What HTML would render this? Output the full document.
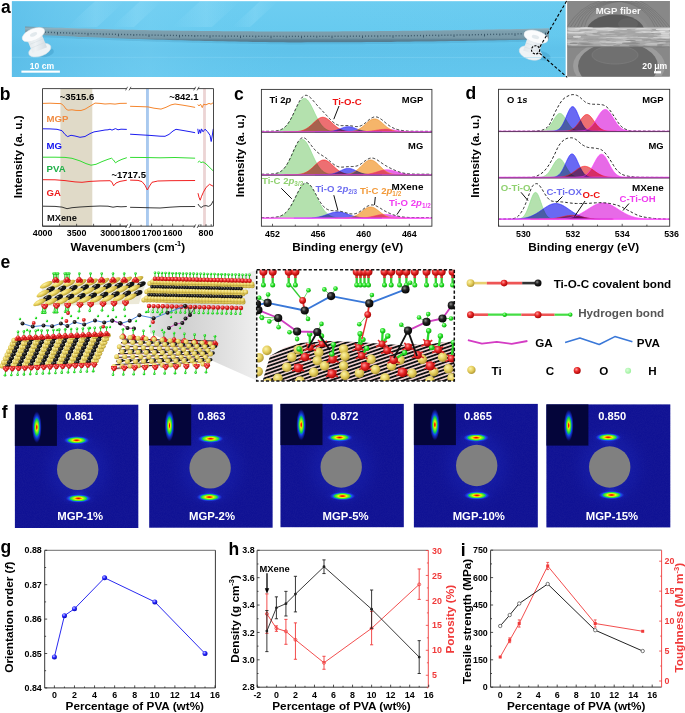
<!DOCTYPE html>
<html><head><meta charset="utf-8"><title>Figure</title>
<style>html,body{margin:0;padding:0;background:#fff;}svg{display:block;}text{font-family:"Liberation Sans",sans-serif;}</style>
</head><body>
<svg width="685" height="713" viewBox="0 0 685 713" font-family="Liberation Sans">
<defs>
<linearGradient id="bgA" x1="0" y1="0" x2="0" y2="1">
 <stop offset="0" stop-color="#6dcdf1"/><stop offset="0.45" stop-color="#66caef"/>
 <stop offset="0.62" stop-color="#5fc2ea"/><stop offset="1" stop-color="#63c7ee"/></linearGradient>
<linearGradient id="bgA2" x1="0" y1="0" x2="1" y2="0">
 <stop offset="0" stop-color="#58b9e6" stop-opacity="0.55"/><stop offset="0.25" stop-color="#7fd3f4" stop-opacity="0.35"/>
 <stop offset="0.5" stop-color="#6acbf0" stop-opacity="0"/><stop offset="1" stop-color="#5fc3ec" stop-opacity="0.2"/></linearGradient>
<linearGradient id="ruler" x1="0" y1="0" x2="0" y2="1">
 <stop offset="0" stop-color="#6f95a6"/><stop offset="0.12" stop-color="#8fb0be"/><stop offset="0.3" stop-color="#7c9fae"/>
 <stop offset="0.72" stop-color="#7899a8"/><stop offset="0.84" stop-color="#5d8193"/><stop offset="1" stop-color="#4f7a8f"/></linearGradient>
<linearGradient id="streak" x1="0" y1="0" x2="1" y2="0">
 <stop offset="0" stop-color="#9fe2fa" stop-opacity="0"/><stop offset="0.5" stop-color="#9fe2fa" stop-opacity="0.45"/><stop offset="1" stop-color="#9fe2fa" stop-opacity="0"/></linearGradient>
<linearGradient id="sem" x1="0" y1="0" x2="0" y2="1">
 <stop offset="0" stop-color="#8a8a8a"/><stop offset="0.3" stop-color="#7a7a7a"/><stop offset="0.36" stop-color="#b4b4b4"/>
 <stop offset="0.5" stop-color="#c8c8c8"/><stop offset="0.62" stop-color="#a8a8a8"/><stop offset="0.68" stop-color="#6e6e6e"/>
 <stop offset="1" stop-color="#7c7c7c"/></linearGradient>
<radialGradient id="semhole1" cx="0.5" cy="0.5" r="0.5"><stop offset="0" stop-color="#4a4a4a"/><stop offset="1" stop-color="#6a6a6a"/></radialGradient>
<linearGradient id="spool" x1="0" y1="0" x2="1" y2="0"><stop offset="0" stop-color="#dfe6ea"/><stop offset="0.45" stop-color="#eef2f5"/><stop offset="1" stop-color="#d2dbe1"/></linearGradient>


<radialGradient id="gTi" cx="0.38" cy="0.35" r="0.7"><stop offset="0" stop-color="#fcf3a8"/><stop offset="0.55" stop-color="#e2ca58"/><stop offset="1" stop-color="#a89030"/></radialGradient>
<radialGradient id="gTiR" cx="0.4" cy="0.3" r="0.75"><stop offset="0" stop-color="#fcf2a0"/><stop offset="0.5" stop-color="#e4cb52"/><stop offset="1" stop-color="#a48c2c"/></radialGradient>
<radialGradient id="gC" cx="0.38" cy="0.35" r="0.7"><stop offset="0" stop-color="#8a8a8a"/><stop offset="0.4" stop-color="#222"/><stop offset="1" stop-color="#000"/></radialGradient>
<radialGradient id="gO" cx="0.38" cy="0.35" r="0.7"><stop offset="0" stop-color="#ff9a9a"/><stop offset="0.45" stop-color="#e82828"/><stop offset="1" stop-color="#a00000"/></radialGradient>
<radialGradient id="gH" cx="0.38" cy="0.35" r="0.7"><stop offset="0" stop-color="#b8ffb8"/><stop offset="0.5" stop-color="#22e022"/><stop offset="1" stop-color="#10a010"/></radialGradient>
<radialGradient id="gHl" cx="0.4" cy="0.4" r="0.6"><stop offset="0" stop-color="#d8ffd8"/><stop offset="1" stop-color="#9ef09e"/></radialGradient>
<radialGradient id="ball" cx="0.38" cy="0.35" r="0.7"><stop offset="0" stop-color="#c8c8ff"/><stop offset="0.45" stop-color="#2a2aff"/><stop offset="1" stop-color="#0000b0"/></radialGradient>
<linearGradient id="gray" x1="0" y1="0" x2="1" y2="0"><stop offset="0" stop-color="#e2e2e2"/><stop offset="0.3" stop-color="#d0d0d0"/><stop offset="0.65" stop-color="#dedede"/><stop offset="1" stop-color="#efefef"/></linearGradient>


<radialGradient id="spot" cx="0.5" cy="0.5" r="0.5">
 <stop offset="0" stop-color="#e00000"/><stop offset="0.12" stop-color="#ff2a00"/><stop offset="0.22" stop-color="#ff9000"/>
 <stop offset="0.32" stop-color="#f4f000"/><stop offset="0.45" stop-color="#80f020"/><stop offset="0.62" stop-color="#18d848"/>
 <stop offset="0.72" stop-color="#1060f0"/><stop offset="0.86" stop-color="#2040e8" stop-opacity="0.55"/><stop offset="1" stop-color="#1820d0" stop-opacity="0"/></radialGradient>
<radialGradient id="spot2" cx="0.5" cy="0.5" r="0.5">
 <stop offset="0" stop-color="#f00000"/><stop offset="0.1" stop-color="#ff3000"/><stop offset="0.2" stop-color="#f8e000"/>
 <stop offset="0.32" stop-color="#80f020"/><stop offset="0.48" stop-color="#10d050"/>
 <stop offset="0.62" stop-color="#1050f0"/><stop offset="0.85" stop-color="#1828d0" stop-opacity="0.5"/><stop offset="1" stop-color="#101890" stop-opacity="0"/></radialGradient>
<radialGradient id="halo" cx="0.5" cy="0.5" r="0.5">
 <stop offset="0" stop-color="#2a48ff" stop-opacity="0.9"/><stop offset="1" stop-color="#1820c0" stop-opacity="0"/></radialGradient>
<radialGradient id="glow" cx="0.5" cy="0.5" r="0.5">
 <stop offset="0" stop-color="#2436d8" stop-opacity="0.55"/><stop offset="0.6" stop-color="#1a26b8" stop-opacity="0.25"/><stop offset="1" stop-color="#111394" stop-opacity="0"/></radialGradient>
<filter id="noise" x="0" y="0" width="100%" height="100%">
 <feTurbulence type="fractalNoise" baseFrequency="0.9" numOctaves="2" seed="3" result="t"/>
 <feColorMatrix type="matrix" values="0 0 0 0 0.02  0 0 0 0 0.02  0 0 0 0 0.35  0 0 0 0.9 -0.3" />
 <feComposite operator="in" in2="SourceGraphic"/></filter>
</defs>
<rect width="685" height="713" fill="#fff"/>
<rect x="11.9" y="1.2" width="553.7" height="75.8" fill="url(#bgA)" stroke="none" stroke-width="1" />
<rect x="11.9" y="1.2" width="553.7" height="75.8" fill="url(#bgA2)" stroke="none" stroke-width="1" />
<polygon points="95,1.2 125,1.2 97,27 67,27" fill="url(#streak)" opacity="0.6"/>
<polygon points="140,1.2 162,1.2 134,27 112,27" fill="url(#streak)" opacity="0.6"/>
<polygon points="200,1.2 240,1.2 212,27 172,27" fill="url(#streak)" opacity="0.6"/>
<polygon points="260,1.2 278,1.2 250,27 232,27" fill="url(#streak)" opacity="0.6"/>
<polygon points="25,26.6 31,26.83 37,27.05 43,27.26 49,27.47 55,27.68 61,27.87 67,28.07 73,28.25 79,28.43 85,28.61 91,28.78 97,28.94 103,29.1 109,29.25 115,29.4 121,29.54 127,29.68 133,29.81 139,29.93 145,30.05 151,30.17 157,30.28 163,30.38 169,30.48 175,30.58 181,30.67 187,30.75 193,30.83 199,30.91 205,30.98 211,31.04 217,31.1 223,31.16 229,31.21 235,31.26 241,31.3 247,31.34 253,31.37 259,31.4 265,31.42 271,31.44 277,31.46 283,31.47 289,31.48 295,31.48 301,31.48 307,31.47 313,31.46 319,31.45 325,31.43 331,31.41 337,31.38 343,31.36 349,31.32 355,31.29 361,31.24 367,31.2 373,31.15 379,31.1 385,31.04 391,30.99 397,30.92 403,30.86 409,30.79 415,30.72 421,30.64 427,30.56 433,30.48 439,30.39 445,30.3 451,30.21 457,30.12 463,30.02 469,29.92 475,29.81 481,29.71 487,29.6 493,29.48 499,29.37 505,29.25 511,29.13 517,29 523,28.88 529,28.75 535,28.62 541,28.48 547,28.35 549,28.3 549,39.2 547,39.25 541,39.38 535,39.52 529,39.65 523,39.78 517,39.9 511,40.03 505,40.15 499,40.27 493,40.38 487,40.5 481,40.61 475,40.71 469,40.82 463,40.92 457,41.02 451,41.11 445,41.2 439,41.29 433,41.38 427,41.46 421,41.54 415,41.62 409,41.69 403,41.76 397,41.82 391,41.89 385,41.94 379,42 373,42.05 367,42.1 361,42.14 355,42.19 349,42.22 343,42.26 337,42.28 331,42.31 325,42.33 319,42.35 313,42.36 307,42.37 301,42.38 295,42.38 289,42.38 283,42.35 277,42.26 271,42.18 265,42.08 259,41.99 253,41.89 247,41.78 241,41.67 235,41.56 229,41.44 223,41.32 217,41.19 211,41.06 205,40.92 199,40.78 193,40.63 187,40.48 181,40.33 175,40.17 169,40 163,39.83 157,39.65 151,39.47 145,39.28 139,39.09 133,38.89 127,38.69 121,38.48 115,38.27 109,38.05 103,37.83 97,37.6 91,37.36 85,37.12 79,36.88 73,36.62 67,36.37 61,36.1 55,35.83 49,35.56 43,35.28 37,34.99 31,34.7 25,34.4" fill="url(#ruler)"/>
<polygon points="25,34.4 31,34.7 37,34.99 43,35.28 49,35.56 55,35.83 61,36.1 67,36.37 73,36.62 79,36.88 85,37.12 91,37.36 97,37.6 103,37.83 109,38.05 115,38.27 121,38.48 127,38.69 133,38.89 139,39.09 145,39.28 151,39.47 157,39.65 163,39.83 169,40 175,40.17 181,40.33 187,40.48 193,40.63 199,40.78 205,40.92 211,41.06 217,41.19 223,41.32 229,41.44 235,41.56 241,41.67 247,41.78 253,41.89 259,41.99 265,42.08 271,42.18 277,42.26 283,42.35 289,42.38 295,42.38 301,42.38 307,42.37 313,42.36 319,42.35 325,42.33 331,42.31 337,42.28 343,42.26 349,42.22 355,42.19 361,42.14 367,42.1 373,42.05 379,42 385,41.94 391,41.89 397,41.82 403,41.76 409,41.69 415,41.62 421,41.54 427,41.46 433,41.38 439,41.29 445,41.2 451,41.11 457,41.02 463,40.92 469,40.82 475,40.71 481,40.61 487,40.5 493,40.38 499,40.27 505,40.15 511,40.03 517,39.9 523,39.78 529,39.65 535,39.52 541,39.38 547,39.25 549,39.2 549,41.2 547,41.25 541,41.38 535,41.52 529,41.65 523,41.78 517,41.9 511,42.03 505,42.15 499,42.27 493,42.38 487,42.5 481,42.61 475,42.71 469,42.82 463,42.92 457,43.02 451,43.11 445,43.2 439,43.29 433,43.38 427,43.46 421,43.54 415,43.62 409,43.69 403,43.76 397,43.82 391,43.89 385,43.94 379,44 373,44.05 367,44.1 361,44.14 355,44.19 349,44.22 343,44.26 337,44.28 331,44.31 325,44.33 319,44.35 313,44.36 307,44.37 301,44.38 295,44.38 289,44.38 283,44.35 277,44.26 271,44.18 265,44.08 259,43.99 253,43.89 247,43.78 241,43.67 235,43.56 229,43.44 223,43.32 217,43.19 211,43.06 205,42.92 199,42.78 193,42.63 187,42.48 181,42.33 175,42.17 169,42 163,41.83 157,41.65 151,41.47 145,41.28 139,41.09 133,40.89 127,40.69 121,40.48 115,40.27 109,40.05 103,39.83 97,39.6 91,39.36 85,39.12 79,38.88 73,38.62 67,38.37 61,38.1 55,37.83 49,37.56 43,37.28 37,36.99 31,36.7 25,36.4" fill="#3f8fb8" opacity="0.25"/>
<path d="M27,30.88v2.6M30.05,30.99v1.4M33.1,31.11v1.4M36.15,31.22v1.4M39.2,31.33v1.4M42.25,31.44v2M45.3,31.54v1.4M48.35,31.65v1.4M51.4,31.75v1.4M54.45,31.86v1.4M57.5,31.96v2.6M60.55,32.06v1.4M63.6,32.16v1.4M66.65,32.25v1.4M69.7,32.35v1.4M72.75,32.44v2M75.8,32.54v1.4M78.85,32.63v1.4M81.9,32.72v1.4M84.95,32.81v1.4M88,32.89v2.6M91.05,32.98v1.4M94.1,33.06v1.4M97.15,33.14v1.4M100.2,33.22v1.4M103.25,33.3v2M106.3,33.38v1.4M109.35,33.46v1.4M112.4,33.53v1.4M115.45,33.61v1.4M118.5,33.68v2.6M121.55,33.75v1.4M124.6,33.82v1.4M127.65,33.89v1.4M130.7,33.96v1.4M133.75,34.02v2M136.8,34.09v1.4M139.85,34.15v1.4M142.9,34.21v1.4M145.95,34.27v1.4M149,34.33v2.6M152.05,34.39v1.4M155.1,34.44v1.4M158.15,34.5v1.4M161.2,34.55v1.4M164.25,34.6v2M167.3,34.65v1.4M170.35,34.7v1.4M173.4,34.75v1.4M176.45,34.8v1.4M179.5,34.84v2.6M182.55,34.89v1.4M185.6,34.93v1.4M188.65,34.97v1.4M191.7,35.01v1.4M194.75,35.05v2M197.8,35.09v1.4M200.85,35.13v1.4M203.9,35.16v1.4M206.95,35.2v1.4M210,35.23v2.6M213.05,35.26v1.4M216.1,35.29v1.4M219.15,35.32v1.4M222.2,35.35v1.4M225.25,35.38v2M228.3,35.4v1.4M231.35,35.43v1.4M234.4,35.45v1.4M237.45,35.48v1.4M240.5,35.5v2.6M243.55,35.52v1.4M246.6,35.53v1.4M249.65,35.55v1.4M252.7,35.57v1.4M255.75,35.58v2M258.8,35.6v1.4M261.85,35.61v1.4M264.9,35.62v1.4M267.95,35.63v1.4M271,35.64v2.6M274.05,35.65v1.4M277.1,35.66v1.4M280.15,35.67v1.4M283.2,35.67v1.4M286.25,35.67v2M289.3,35.68v1.4M292.35,35.68v1.4M295.4,35.68v1.4M298.45,35.68v1.4M301.5,35.68v2.6M304.55,35.68v1.4M307.6,35.67v1.4M310.65,35.67v1.4M313.7,35.66v1.4M316.75,35.66v2M319.8,35.65v1.4M322.85,35.64v1.4M325.9,35.63v1.4M328.95,35.62v1.4M332,35.61v2.6M335.05,35.59v1.4M338.1,35.58v1.4M341.15,35.56v1.4M344.2,35.55v1.4M347.25,35.53v2M350.3,35.51v1.4M353.35,35.5v1.4M356.4,35.48v1.4M359.45,35.46v1.4M362.5,35.43v2.6M365.55,35.41v1.4M368.6,35.39v1.4M371.65,35.36v1.4M374.7,35.34v1.4M377.75,35.31v2M380.8,35.28v1.4M383.85,35.26v1.4M386.9,35.23v1.4M389.95,35.2v1.4M393,35.17v2.6M396.05,35.13v1.4M399.1,35.1v1.4M402.15,35.07v1.4M405.2,35.03v1.4M408.25,35v2M411.3,34.96v1.4M414.35,34.92v1.4M417.4,34.89v1.4M420.45,34.85v1.4M423.5,34.81v2.6M426.55,34.77v1.4M429.6,34.73v1.4M432.65,34.68v1.4M435.7,34.64v1.4M438.75,34.6v2M441.8,34.55v1.4M444.85,34.51v1.4M447.9,34.46v1.4M450.95,34.41v1.4M454,34.36v2.6M457.05,34.32v1.4M460.1,34.27v1.4M463.15,34.22v1.4M466.2,34.16v1.4M469.25,34.11v2M472.3,34.06v1.4M475.35,34.01v1.4M478.4,33.95v1.4M481.45,33.9v1.4M484.5,33.84v2.6M487.55,33.79v1.4M490.6,33.73v1.4M493.65,33.67v1.4M496.7,33.61v1.4M499.75,33.55v2M502.8,33.49v1.4M505.85,33.43v1.4M508.9,33.37v1.4M511.95,33.31v1.4M515,33.25v2.6M518.05,33.18v1.4M521.1,33.12v1.4M524.15,33.05v1.4M527.2,32.99v1.4M530.25,32.92v2M533.3,32.85v1.4M536.35,32.79v1.4M539.4,32.72v1.4M542.45,32.65v1.4M545.5,32.58v2.6" stroke="#163448" stroke-width="0.8" opacity="0.8"/>
<ellipse cx="45" cy="52.5" rx="9" ry="4.5" transform="rotate(-10 45 52.5)" fill="#3d9cc8" opacity="0.45"/>
<ellipse cx="39.8" cy="50.2" rx="11.6" ry="6" transform="rotate(-20 39.8 50.2)" fill="#eef3f6" stroke="#d8e0e5" stroke-width="0.5"/>
<path d="M26.4,37.8 L32.6,53.0 L47.0,47.2 L40.6,31.6 Z" fill="url(#spool)"/>
<path d="M27.8,41 L42.2,35" stroke="#cfd8de" stroke-width="0.6" opacity="0.7"/>
<path d="M29.4,44.6 L43.8,38.6" stroke="#cfd8de" stroke-width="0.6" opacity="0.7"/>
<path d="M31,48.2 L45.4,42.2" stroke="#cfd8de" stroke-width="0.6" opacity="0.7"/>
<ellipse cx="33.4" cy="34.6" rx="12" ry="5.8" transform="rotate(-24 33.4 34.6)" fill="#fbfcfd" stroke="#dfe6ea" stroke-width="0.5"/>
<ellipse cx="33.6" cy="34.4" rx="3.8" ry="1.9" transform="rotate(-24 33.6 34.4)" fill="#e2e9ed" />
<ellipse cx="541" cy="55.5" rx="10" ry="4.5" transform="rotate(15 541 55.5)" fill="#3d9cc8" opacity="0.45"/>
<ellipse cx="530.6" cy="53" rx="11.8" ry="6.6" transform="rotate(18 530.6 53)" fill="#eef3f6" stroke="#d8e0e5" stroke-width="0.5"/>
<path d="M528.6,34.2 L523.2,50.4 L538.0,55.6 L543.4,39.4 Z" fill="url(#spool)"/>
<path d="M527.4,39 L542.2,44" stroke="#cfd8de" stroke-width="0.6" opacity="0.7"/>
<path d="M526,43 L540.8,48" stroke="#cfd8de" stroke-width="0.6" opacity="0.7"/>
<path d="M524.6,47 L539.4,52" stroke="#cfd8de" stroke-width="0.6" opacity="0.7"/>
<ellipse cx="536" cy="36.8" rx="12.4" ry="6" transform="rotate(16 536 36.8)" fill="#fbfcfd" stroke="#dfe6ea" stroke-width="0.5"/>
<ellipse cx="535.5" cy="37" rx="3.8" ry="1.9" transform="rotate(16 535.5 37)" fill="#e2e9ed" />
<line x1="12" y1="57.3" x2="565.6" y2="57.6" stroke="#86d6f5" stroke-width="0.7" opacity="0.6"/>
<rect x="21.4" y="70.6" width="38.5" height="2.1" fill="#fff" stroke="none" stroke-width="1" />
<text x="42" y="69.3" font-size="8.6" font-weight="bold" fill="#fff" text-anchor="middle" >10 cm</text>
<circle cx="535.6" cy="49.8" r="4.1" fill="none" stroke="#000" stroke-width="1.1" stroke-dasharray="2.2,1.3"/>
<line x1="539.9" y1="46.9" x2="567.2" y2="0" stroke="#000" stroke-width="1.1" stroke-dasharray="3,2"/>
<line x1="539.5" y1="53.2" x2="567.2" y2="77.3" stroke="#000" stroke-width="1.1" stroke-dasharray="3,2"/>
<rect x="567.3" y="1" width="102.5" height="75.6" fill="#808080" stroke="none" stroke-width="1" />
<clipPath id="semclip"><rect x="567.3" y="1.0" width="102.5" height="75.6"/></clipPath>
<g clip-path="url(#semclip)">
<rect x="567.3" y="1" width="102.5" height="75.6" fill="#888888" stroke="none" stroke-width="1" />
<ellipse cx="615.5" cy="31" rx="33" ry="20" fill="#8c8c8c"/>
<ellipse cx="615.5" cy="31.5" rx="29" ry="17" fill="#5a5a5a"/>
<ellipse cx="628" cy="24" rx="10" ry="6" fill="#626262"/>
<ellipse cx="619" cy="66" rx="46" ry="26" fill="#9c9c9c"/>
<ellipse cx="618" cy="66" rx="40" ry="24" fill="#696969"/>
<ellipse cx="615" cy="55" rx="23" ry="9" fill="#707070" stroke="#7c7c7c" stroke-width="0.8"/>
<path d="M567.0,27 Q580,6 600,1" stroke="#666" stroke-width="0.45" fill="none"/>
<path d="M670,27 Q655,8 640,1" stroke="#666" stroke-width="0.45" fill="none"/>
<path d="M570.5,27 Q582,5 606,1" stroke="#666" stroke-width="0.45" fill="none"/>
<path d="M667,27 Q653,7 635,1" stroke="#666" stroke-width="0.45" fill="none"/>
<path d="M574.0,27 Q584,4 612,1" stroke="#666" stroke-width="0.45" fill="none"/>
<path d="M664,27 Q651,6 630,1" stroke="#666" stroke-width="0.45" fill="none"/>
<path d="M577.5,27 Q586,3 618,1" stroke="#666" stroke-width="0.45" fill="none"/>
<path d="M661,27 Q649,5 625,1" stroke="#666" stroke-width="0.45" fill="none"/>
<path d="M581.0,27 Q588,2 624,1" stroke="#666" stroke-width="0.45" fill="none"/>
<path d="M658,27 Q647,4 620,1" stroke="#666" stroke-width="0.45" fill="none"/>
<path d="M584.5,27 Q590,1 630,1" stroke="#666" stroke-width="0.45" fill="none"/>
<path d="M655,27 Q645,3 615,1" stroke="#666" stroke-width="0.45" fill="none"/>
<rect x="567.3" y="27.9" width="102.5" height="19" fill="#a6a6a6" stroke="none" stroke-width="1" />
<ellipse cx="625.15" cy="36.53" rx="6.73" ry="0.78" fill="rgb(217,217,217)" opacity="0.85"/>
<ellipse cx="583.7" cy="38.99" rx="8.04" ry="0.97" fill="rgb(178,178,178)" opacity="0.85"/>
<ellipse cx="596.83" cy="30.01" rx="9.48" ry="0.9" fill="rgb(158,158,158)" opacity="0.85"/>
<ellipse cx="671.83" cy="29.06" rx="8.23" ry="0.85" fill="rgb(235,235,235)" opacity="0.85"/>
<ellipse cx="564.96" cy="31.17" rx="3.48" ry="0.57" fill="rgb(194,194,194)" opacity="0.85"/>
<ellipse cx="566.62" cy="32.7" rx="6.52" ry="1" fill="rgb(185,185,185)" opacity="0.85"/>
<ellipse cx="634.05" cy="37.75" rx="8.3" ry="0.75" fill="rgb(179,179,179)" opacity="0.85"/>
<ellipse cx="673.54" cy="33.36" rx="9.72" ry="0.91" fill="rgb(229,229,229)" opacity="0.85"/>
<ellipse cx="588.68" cy="34.04" rx="3.56" ry="0.95" fill="rgb(168,168,168)" opacity="0.85"/>
<ellipse cx="656.85" cy="35.59" rx="10.66" ry="1" fill="rgb(173,173,173)" opacity="0.85"/>
<ellipse cx="586.47" cy="28.31" rx="6.76" ry="1.09" fill="rgb(231,231,231)" opacity="0.85"/>
<ellipse cx="571.37" cy="35.53" rx="9.23" ry="0.63" fill="rgb(194,194,194)" opacity="0.85"/>
<ellipse cx="600.05" cy="29.89" rx="9.06" ry="0.53" fill="rgb(233,233,233)" opacity="0.85"/>
<ellipse cx="574.47" cy="32.78" rx="9.38" ry="0.57" fill="rgb(151,151,151)" opacity="0.85"/>
<ellipse cx="612.74" cy="38.48" rx="8.86" ry="0.54" fill="rgb(151,151,151)" opacity="0.85"/>
<ellipse cx="576.17" cy="40.02" rx="4.7" ry="0.63" fill="rgb(168,168,168)" opacity="0.85"/>
<ellipse cx="652.08" cy="45.97" rx="10.08" ry="0.59" fill="rgb(147,147,147)" opacity="0.85"/>
<ellipse cx="657.71" cy="35.48" rx="3.8" ry="1.09" fill="rgb(195,195,195)" opacity="0.85"/>
<ellipse cx="591.84" cy="32.18" rx="5.63" ry="0.64" fill="rgb(212,212,212)" opacity="0.85"/>
<ellipse cx="573.26" cy="29.64" rx="4.94" ry="0.84" fill="rgb(201,201,201)" opacity="0.85"/>
<ellipse cx="613.38" cy="35.07" rx="6.87" ry="0.82" fill="rgb(223,223,223)" opacity="0.85"/>
<ellipse cx="583.5" cy="44.07" rx="10.27" ry="0.98" fill="rgb(138,138,138)" opacity="0.85"/>
<ellipse cx="584.27" cy="32.84" rx="10.52" ry="0.58" fill="rgb(208,208,208)" opacity="0.85"/>
<ellipse cx="660.78" cy="45.59" rx="6.37" ry="0.52" fill="rgb(173,173,173)" opacity="0.85"/>
<ellipse cx="669.68" cy="29" rx="8.64" ry="0.62" fill="rgb(173,173,173)" opacity="0.85"/>
<ellipse cx="629.21" cy="43.29" rx="4.4" ry="0.92" fill="rgb(151,151,151)" opacity="0.85"/>
<ellipse cx="588.54" cy="29.55" rx="9.82" ry="0.85" fill="rgb(199,199,199)" opacity="0.85"/>
<ellipse cx="664.67" cy="33.4" rx="3.13" ry="0.62" fill="rgb(162,162,162)" opacity="0.85"/>
<ellipse cx="569.98" cy="36.41" rx="5.95" ry="0.82" fill="rgb(154,154,154)" opacity="0.85"/>
<ellipse cx="603.32" cy="30.69" rx="10.84" ry="0.88" fill="rgb(225,225,225)" opacity="0.85"/>
<ellipse cx="627.88" cy="40.88" rx="3.28" ry="0.46" fill="rgb(143,143,143)" opacity="0.85"/>
<ellipse cx="640.76" cy="44.87" rx="3.17" ry="0.86" fill="rgb(205,205,205)" opacity="0.85"/>
<ellipse cx="644.02" cy="37.08" rx="10.99" ry="0.5" fill="rgb(165,165,165)" opacity="0.85"/>
<ellipse cx="644.74" cy="38.24" rx="8.9" ry="0.91" fill="rgb(212,212,212)" opacity="0.85"/>
<ellipse cx="664.41" cy="42.74" rx="8.48" ry="1.04" fill="rgb(157,157,157)" opacity="0.85"/>
<ellipse cx="609.4" cy="44.15" rx="9.91" ry="0.82" fill="rgb(192,192,192)" opacity="0.85"/>
<ellipse cx="605.55" cy="39.67" rx="7.87" ry="0.5" fill="rgb(183,183,183)" opacity="0.85"/>
<ellipse cx="673.06" cy="39.94" rx="8.83" ry="0.7" fill="rgb(207,207,207)" opacity="0.85"/>
<ellipse cx="627.5" cy="41.68" rx="9.71" ry="0.5" fill="rgb(167,167,167)" opacity="0.85"/>
<ellipse cx="566.59" cy="41.95" rx="6.85" ry="0.6" fill="rgb(180,180,180)" opacity="0.85"/>
<ellipse cx="618.25" cy="41.01" rx="10.36" ry="0.62" fill="rgb(183,183,183)" opacity="0.85"/>
<ellipse cx="596.56" cy="28.51" rx="4.62" ry="0.56" fill="rgb(211,211,211)" opacity="0.85"/>
<ellipse cx="636.23" cy="44.78" rx="10.13" ry="0.66" fill="rgb(161,161,161)" opacity="0.85"/>
<ellipse cx="585.23" cy="40.42" rx="9.45" ry="1.04" fill="rgb(168,168,168)" opacity="0.85"/>
<ellipse cx="605.78" cy="44.32" rx="5.53" ry="0.54" fill="rgb(174,174,174)" opacity="0.85"/>
<ellipse cx="655.8" cy="37.34" rx="8.69" ry="1.07" fill="rgb(209,209,209)" opacity="0.85"/>
<ellipse cx="581.99" cy="33.34" rx="5.2" ry="0.59" fill="rgb(183,183,183)" opacity="0.85"/>
<ellipse cx="632.44" cy="35.83" rx="5.52" ry="1" fill="rgb(182,182,182)" opacity="0.85"/>
<ellipse cx="613.3" cy="46.17" rx="3.25" ry="1.02" fill="rgb(127,127,127)" opacity="0.85"/>
<ellipse cx="641.6" cy="29.06" rx="5.47" ry="0.96" fill="rgb(201,201,201)" opacity="0.85"/>
<ellipse cx="578.31" cy="28.65" rx="3.2" ry="0.99" fill="rgb(192,192,192)" opacity="0.85"/>
<ellipse cx="578.87" cy="32.62" rx="8.03" ry="0.74" fill="rgb(150,150,150)" opacity="0.85"/>
<ellipse cx="635.68" cy="39.77" rx="10.67" ry="0.89" fill="rgb(201,201,201)" opacity="0.85"/>
<ellipse cx="615.8" cy="31.93" rx="3.09" ry="0.76" fill="rgb(162,162,162)" opacity="0.85"/>
<ellipse cx="583.09" cy="41.3" rx="5.77" ry="0.9" fill="rgb(153,153,153)" opacity="0.85"/>
<ellipse cx="631.2" cy="37.77" rx="6.15" ry="0.96" fill="rgb(201,201,201)" opacity="0.85"/>
<ellipse cx="572.94" cy="44.79" rx="8.78" ry="0.53" fill="rgb(203,203,203)" opacity="0.85"/>
<ellipse cx="632.42" cy="36.55" rx="6.01" ry="0.82" fill="rgb(216,216,216)" opacity="0.85"/>
<ellipse cx="651.34" cy="44.3" rx="6.71" ry="0.87" fill="rgb(205,205,205)" opacity="0.85"/>
<ellipse cx="643.07" cy="32.03" rx="8.13" ry="0.92" fill="rgb(217,217,217)" opacity="0.85"/>
<ellipse cx="662.75" cy="32.18" rx="10.82" ry="0.8" fill="rgb(230,230,230)" opacity="0.85"/>
<ellipse cx="598.7" cy="42.69" rx="9.85" ry="0.68" fill="rgb(205,205,205)" opacity="0.85"/>
<ellipse cx="612.02" cy="29.81" rx="9.15" ry="0.77" fill="rgb(198,198,198)" opacity="0.85"/>
<ellipse cx="652.71" cy="28.82" rx="9.4" ry="0.56" fill="rgb(158,158,158)" opacity="0.85"/>
<ellipse cx="650.36" cy="34.4" rx="4.19" ry="0.79" fill="rgb(155,155,155)" opacity="0.85"/>
<ellipse cx="656.12" cy="41.47" rx="10.57" ry="0.77" fill="rgb(188,188,188)" opacity="0.85"/>
<ellipse cx="572.81" cy="45.57" rx="7.21" ry="0.64" fill="rgb(141,141,141)" opacity="0.85"/>
<ellipse cx="633.9" cy="41.56" rx="9.75" ry="0.81" fill="rgb(174,174,174)" opacity="0.85"/>
<ellipse cx="605.42" cy="33.97" rx="10.2" ry="0.59" fill="rgb(215,215,215)" opacity="0.85"/>
<ellipse cx="670.31" cy="43.78" rx="7.58" ry="0.58" fill="rgb(170,170,170)" opacity="0.85"/>
<ellipse cx="618.9" cy="38.05" rx="3.22" ry="1.08" fill="rgb(187,187,187)" opacity="0.85"/>
<ellipse cx="607.56" cy="37.69" rx="7.5" ry="0.77" fill="rgb(205,205,205)" opacity="0.85"/>
<ellipse cx="570.58" cy="40.88" rx="6.31" ry="1.07" fill="rgb(177,177,177)" opacity="0.85"/>
<ellipse cx="593.05" cy="45.11" rx="4.02" ry="0.73" fill="rgb(163,163,163)" opacity="0.85"/>
<ellipse cx="662.81" cy="43.15" rx="5.54" ry="0.57" fill="rgb(167,167,167)" opacity="0.85"/>
<ellipse cx="665.54" cy="39.55" rx="9.23" ry="0.46" fill="rgb(144,144,144)" opacity="0.85"/>
<ellipse cx="588.41" cy="31.83" rx="5.58" ry="0.68" fill="rgb(206,206,206)" opacity="0.85"/>
<ellipse cx="574.89" cy="39.58" rx="3.98" ry="0.78" fill="rgb(195,195,195)" opacity="0.85"/>
<ellipse cx="585.15" cy="32.86" rx="6.49" ry="0.69" fill="rgb(191,191,191)" opacity="0.85"/>
<ellipse cx="621.79" cy="35.82" rx="4.63" ry="0.86" fill="rgb(154,154,154)" opacity="0.85"/>
<ellipse cx="621.82" cy="39.92" rx="7.89" ry="1.01" fill="rgb(205,205,205)" opacity="0.85"/>
<ellipse cx="645.16" cy="32.53" rx="10.22" ry="0.66" fill="rgb(215,215,215)" opacity="0.85"/>
<ellipse cx="665.27" cy="34.03" rx="10.99" ry="1.03" fill="rgb(162,162,162)" opacity="0.85"/>
<ellipse cx="589.75" cy="30.74" rx="5.08" ry="0.51" fill="rgb(211,211,211)" opacity="0.85"/>
<ellipse cx="609.89" cy="43.45" rx="4.01" ry="0.71" fill="rgb(193,193,193)" opacity="0.85"/>
<ellipse cx="565.26" cy="40.77" rx="8.46" ry="1.04" fill="rgb(148,148,148)" opacity="0.85"/>
<ellipse cx="576.05" cy="45.92" rx="9.07" ry="0.78" fill="rgb(164,164,164)" opacity="0.85"/>
<ellipse cx="584.19" cy="40.78" rx="3.85" ry="0.47" fill="rgb(137,137,137)" opacity="0.85"/>
<ellipse cx="620.19" cy="38.34" rx="4.17" ry="0.57" fill="rgb(184,184,184)" opacity="0.85"/>
<ellipse cx="656.14" cy="32.01" rx="10.42" ry="0.51" fill="rgb(231,231,231)" opacity="0.85"/>
<ellipse cx="668.44" cy="29.43" rx="9.12" ry="0.66" fill="rgb(191,191,191)" opacity="0.85"/>
<ellipse cx="620.24" cy="36.8" rx="7.81" ry="0.46" fill="rgb(175,175,175)" opacity="0.85"/>
<ellipse cx="656.59" cy="41.06" rx="6.63" ry="0.93" fill="rgb(146,146,146)" opacity="0.85"/>
<ellipse cx="584.86" cy="35.68" rx="7.1" ry="0.46" fill="rgb(154,154,154)" opacity="0.85"/>
<ellipse cx="651.89" cy="44.56" rx="9.89" ry="0.86" fill="rgb(184,184,184)" opacity="0.85"/>
<ellipse cx="629.56" cy="35.66" rx="10.86" ry="0.97" fill="rgb(183,183,183)" opacity="0.85"/>
<ellipse cx="664" cy="33" rx="9.22" ry="0.98" fill="rgb(209,209,209)" opacity="0.85"/>
<ellipse cx="662.37" cy="35.68" rx="8.56" ry="0.95" fill="rgb(215,215,215)" opacity="0.85"/>
<ellipse cx="608.13" cy="42.23" rx="3.56" ry="0.67" fill="rgb(190,190,190)" opacity="0.85"/>
<ellipse cx="564.47" cy="36.83" rx="8.11" ry="0.86" fill="rgb(168,168,168)" opacity="0.85"/>
<ellipse cx="667.69" cy="32.52" rx="5.7" ry="0.88" fill="rgb(203,203,203)" opacity="0.85"/>
<ellipse cx="622.21" cy="38.67" rx="11" ry="0.87" fill="rgb(168,168,168)" opacity="0.85"/>
<ellipse cx="647.47" cy="41.06" rx="3.18" ry="0.85" fill="rgb(214,214,214)" opacity="0.85"/>
<ellipse cx="591.66" cy="41.75" rx="3.4" ry="0.58" fill="rgb(163,163,163)" opacity="0.85"/>
<ellipse cx="574.18" cy="35.14" rx="10.25" ry="0.81" fill="rgb(163,163,163)" opacity="0.85"/>
<ellipse cx="670.17" cy="37.54" rx="10.96" ry="0.86" fill="rgb(185,185,185)" opacity="0.85"/>
<ellipse cx="571.72" cy="43.03" rx="9.07" ry="0.48" fill="rgb(178,178,178)" opacity="0.85"/>
<ellipse cx="580.97" cy="45.23" rx="4.35" ry="0.77" fill="rgb(163,163,163)" opacity="0.85"/>
<ellipse cx="569.77" cy="39.42" rx="6.37" ry="0.79" fill="rgb(214,214,214)" opacity="0.85"/>
<ellipse cx="603.7" cy="39.18" rx="8.24" ry="0.81" fill="rgb(158,158,158)" opacity="0.85"/>
<ellipse cx="642.48" cy="33.46" rx="3.11" ry="0.61" fill="rgb(170,170,170)" opacity="0.85"/>
<ellipse cx="580.6" cy="29.08" rx="6.12" ry="1.03" fill="rgb(217,217,217)" opacity="0.85"/>
<ellipse cx="568.84" cy="41.92" rx="10.56" ry="0.5" fill="rgb(213,213,213)" opacity="0.85"/>
<ellipse cx="610.76" cy="44.78" rx="10.79" ry="0.61" fill="rgb(164,164,164)" opacity="0.85"/>
<ellipse cx="666.87" cy="37.83" rx="6.75" ry="1.09" fill="rgb(198,198,198)" opacity="0.85"/>
<ellipse cx="630" cy="43.16" rx="7.99" ry="0.75" fill="rgb(136,136,136)" opacity="0.85"/>
<ellipse cx="569.05" cy="32.01" rx="3.99" ry="0.74" fill="rgb(192,192,192)" opacity="0.85"/>
<ellipse cx="613.64" cy="40.46" rx="7.66" ry="0.72" fill="rgb(154,154,154)" opacity="0.85"/>
<ellipse cx="621.95" cy="42.46" rx="10.62" ry="0.93" fill="rgb(213,213,213)" opacity="0.85"/>
<ellipse cx="575.88" cy="32.64" rx="9.27" ry="0.86" fill="rgb(222,222,222)" opacity="0.85"/>
<ellipse cx="593.3" cy="34.84" rx="7.52" ry="0.83" fill="rgb(200,200,200)" opacity="0.85"/>
<ellipse cx="646.55" cy="39.82" rx="4.99" ry="1.09" fill="rgb(149,149,149)" opacity="0.85"/>
<ellipse cx="660.4" cy="44.97" rx="3.49" ry="0.63" fill="rgb(127,127,127)" opacity="0.85"/>
<ellipse cx="632.18" cy="36.04" rx="7.33" ry="0.5" fill="rgb(148,148,148)" opacity="0.85"/>
<ellipse cx="638.03" cy="29.87" rx="8.05" ry="0.69" fill="rgb(198,198,198)" opacity="0.85"/>
<ellipse cx="586.57" cy="37.01" rx="8.96" ry="1" fill="rgb(167,167,167)" opacity="0.85"/>
<ellipse cx="576.54" cy="29.65" rx="7.99" ry="0.95" fill="rgb(220,220,220)" opacity="0.85"/>
<ellipse cx="610.19" cy="32.18" rx="9.48" ry="0.69" fill="rgb(169,169,169)" opacity="0.85"/>
<ellipse cx="672.6" cy="40.2" rx="7.39" ry="0.93" fill="rgb(160,160,160)" opacity="0.85"/>
<ellipse cx="610.56" cy="45.06" rx="3.78" ry="1.02" fill="rgb(154,154,154)" opacity="0.85"/>
<ellipse cx="572.47" cy="29.73" rx="6.88" ry="0.9" fill="rgb(199,199,199)" opacity="0.85"/>
<ellipse cx="648.99" cy="33.74" rx="4.71" ry="0.88" fill="rgb(150,150,150)" opacity="0.85"/>
<ellipse cx="596.87" cy="29.79" rx="8.55" ry="0.63" fill="rgb(213,213,213)" opacity="0.85"/>
<ellipse cx="602.84" cy="30.9" rx="5.93" ry="0.53" fill="rgb(211,211,211)" opacity="0.85"/>
<ellipse cx="626.2" cy="41.21" rx="10.52" ry="1.04" fill="rgb(208,208,208)" opacity="0.85"/>
<ellipse cx="652.04" cy="36.27" rx="5.54" ry="0.71" fill="rgb(165,165,165)" opacity="0.85"/>
<ellipse cx="662.17" cy="45.31" rx="5.89" ry="0.69" fill="rgb(144,144,144)" opacity="0.85"/>
<ellipse cx="607.01" cy="34.91" rx="4.56" ry="0.82" fill="rgb(175,175,175)" opacity="0.85"/>
<ellipse cx="623.03" cy="42.81" rx="7.5" ry="0.56" fill="rgb(198,198,198)" opacity="0.85"/>
<ellipse cx="660.64" cy="42.11" rx="3.18" ry="0.79" fill="rgb(152,152,152)" opacity="0.85"/>
<ellipse cx="626" cy="38.2" rx="8.21" ry="0.97" fill="rgb(218,218,218)" opacity="0.85"/>
<ellipse cx="623.72" cy="29.47" rx="3.67" ry="0.5" fill="rgb(219,219,219)" opacity="0.85"/>
<ellipse cx="662.65" cy="41.71" rx="8.07" ry="0.54" fill="rgb(136,136,136)" opacity="0.85"/>
<ellipse cx="635.01" cy="41.87" rx="4.76" ry="0.95" fill="rgb(150,150,150)" opacity="0.85"/>
<ellipse cx="647.8" cy="37.79" rx="5.7" ry="1.08" fill="rgb(170,170,170)" opacity="0.85"/>
<ellipse cx="617.85" cy="40.54" rx="8.77" ry="0.91" fill="rgb(177,177,177)" opacity="0.85"/>
<ellipse cx="608.67" cy="44.95" rx="8.33" ry="1" fill="rgb(194,194,194)" opacity="0.85"/>
<ellipse cx="655.44" cy="42.97" rx="10.66" ry="0.87" fill="rgb(202,202,202)" opacity="0.85"/>
<ellipse cx="641.76" cy="37.83" rx="6.37" ry="0.72" fill="rgb(205,205,205)" opacity="0.85"/>
<ellipse cx="645.21" cy="30.96" rx="6" ry="0.56" fill="rgb(233,233,233)" opacity="0.85"/>
<ellipse cx="610.26" cy="32.02" rx="10.76" ry="0.49" fill="rgb(172,172,172)" opacity="0.85"/>
<ellipse cx="575.99" cy="33.91" rx="9.21" ry="0.57" fill="rgb(199,199,199)" opacity="0.85"/>
<ellipse cx="613.99" cy="29.43" rx="10.27" ry="0.47" fill="rgb(202,202,202)" opacity="0.85"/>
<ellipse cx="583.69" cy="30.28" rx="4.88" ry="0.92" fill="rgb(169,169,169)" opacity="0.85"/>
<ellipse cx="588.05" cy="39.13" rx="5.25" ry="0.56" fill="rgb(150,150,150)" opacity="0.85"/>
<ellipse cx="597.75" cy="42.09" rx="9.54" ry="0.76" fill="rgb(175,175,175)" opacity="0.85"/>
<ellipse cx="661.36" cy="33.04" rx="5.74" ry="0.81" fill="rgb(223,223,223)" opacity="0.85"/>
<ellipse cx="616.63" cy="45.72" rx="3.4" ry="1.07" fill="rgb(141,141,141)" opacity="0.85"/>
<ellipse cx="605.84" cy="42.89" rx="7.13" ry="0.63" fill="rgb(172,172,172)" opacity="0.85"/>
<ellipse cx="635.96" cy="46.32" rx="3.09" ry="0.76" fill="rgb(141,141,141)" opacity="0.85"/>
<ellipse cx="651.34" cy="35.06" rx="7.85" ry="0.55" fill="rgb(202,202,202)" opacity="0.85"/>
<ellipse cx="598.86" cy="31.16" rx="9.95" ry="0.79" fill="rgb(171,171,171)" opacity="0.85"/>
<ellipse cx="673.04" cy="39.89" rx="7.28" ry="0.55" fill="rgb(155,155,155)" opacity="0.85"/>
<ellipse cx="563.45" cy="42.32" rx="9.77" ry="0.98" fill="rgb(198,198,198)" opacity="0.85"/>
<ellipse cx="593.13" cy="29.8" rx="3.78" ry="0.76" fill="rgb(212,212,212)" opacity="0.85"/>
<ellipse cx="668.88" cy="36.83" rx="9.86" ry="0.65" fill="rgb(188,188,188)" opacity="0.85"/>
<ellipse cx="609.38" cy="42.67" rx="3.73" ry="0.99" fill="rgb(205,205,205)" opacity="0.85"/>
<ellipse cx="623.34" cy="32.09" rx="4.26" ry="0.99" fill="rgb(192,192,192)" opacity="0.85"/>
<ellipse cx="597.64" cy="33.97" rx="5.45" ry="0.75" fill="rgb(150,150,150)" opacity="0.85"/>
<ellipse cx="603.05" cy="41.32" rx="3.85" ry="0.71" fill="rgb(188,188,188)" opacity="0.85"/>
<ellipse cx="670.14" cy="36.7" rx="8.23" ry="0.46" fill="rgb(209,209,209)" opacity="0.85"/>
<ellipse cx="641.76" cy="35.16" rx="7.51" ry="0.75" fill="rgb(161,161,161)" opacity="0.85"/>
<ellipse cx="672.87" cy="28.49" rx="4.65" ry="0.85" fill="rgb(222,222,222)" opacity="0.85"/>
<ellipse cx="604.85" cy="33.59" rx="5.39" ry="0.67" fill="rgb(190,190,190)" opacity="0.85"/>
<ellipse cx="636.97" cy="35.44" rx="4.6" ry="0.93" fill="rgb(163,163,163)" opacity="0.85"/>
<ellipse cx="667.73" cy="34.3" rx="8.79" ry="0.67" fill="rgb(191,191,191)" opacity="0.85"/>
<ellipse cx="573.5" cy="43.35" rx="3.76" ry="0.89" fill="rgb(138,138,138)" opacity="0.85"/>
<ellipse cx="583.18" cy="41.19" rx="9.7" ry="0.84" fill="rgb(164,164,164)" opacity="0.85"/>
<ellipse cx="588.34" cy="29.94" rx="3.99" ry="0.71" fill="rgb(164,164,164)" opacity="0.85"/>
<ellipse cx="665.03" cy="29.62" rx="7.09" ry="0.87" fill="rgb(188,188,188)" opacity="0.85"/>
<ellipse cx="654.03" cy="42.26" rx="5.65" ry="0.72" fill="rgb(161,161,161)" opacity="0.85"/>
<ellipse cx="607.58" cy="28.58" rx="10.86" ry="0.96" fill="rgb(213,213,213)" opacity="0.85"/>
<ellipse cx="630.55" cy="40.32" rx="5.65" ry="0.67" fill="rgb(133,133,133)" opacity="0.85"/>
<ellipse cx="575.04" cy="40.14" rx="7.07" ry="0.96" fill="rgb(164,164,164)" opacity="0.85"/>
<ellipse cx="630.86" cy="43.32" rx="9.13" ry="1.04" fill="rgb(140,140,140)" opacity="0.85"/>
<ellipse cx="602.26" cy="38.28" rx="4.13" ry="0.91" fill="rgb(178,178,178)" opacity="0.85"/>
<ellipse cx="620.32" cy="46.26" rx="9.68" ry="0.58" fill="rgb(182,182,182)" opacity="0.85"/>
<ellipse cx="632.6" cy="45.5" rx="3.67" ry="0.61" fill="rgb(139,139,139)" opacity="0.85"/>
<ellipse cx="640.33" cy="38.79" rx="10.43" ry="0.68" fill="rgb(163,163,163)" opacity="0.85"/>
<ellipse cx="577" cy="36.73" rx="4.08" ry="1.04" fill="rgb(221,221,221)" opacity="0.85"/>
<ellipse cx="625.26" cy="38.19" rx="5.11" ry="1.04" fill="rgb(183,183,183)" opacity="0.85"/>
<ellipse cx="653.63" cy="46.36" rx="3.98" ry="0.99" fill="rgb(172,172,172)" opacity="0.85"/>
<ellipse cx="662.42" cy="33.55" rx="7.59" ry="0.99" fill="rgb(165,165,165)" opacity="0.85"/>
<ellipse cx="623.84" cy="31.68" rx="3.26" ry="0.57" fill="rgb(154,154,154)" opacity="0.85"/>
<ellipse cx="667.11" cy="46.26" rx="5.46" ry="0.89" fill="rgb(177,177,177)" opacity="0.85"/>
<ellipse cx="605.47" cy="41.73" rx="9.43" ry="0.46" fill="rgb(180,180,180)" opacity="0.85"/>
<ellipse cx="615.02" cy="31.93" rx="6.09" ry="0.82" fill="rgb(159,159,159)" opacity="0.85"/>
<ellipse cx="620.73" cy="31.46" rx="7.54" ry="0.67" fill="rgb(171,171,171)" opacity="0.85"/>
<ellipse cx="567.48" cy="39.98" rx="4.16" ry="1.07" fill="rgb(189,189,189)" opacity="0.85"/>
<ellipse cx="615.23" cy="39.22" rx="7.99" ry="0.9" fill="rgb(169,169,169)" opacity="0.85"/>
<ellipse cx="646.36" cy="42.1" rx="10.96" ry="0.99" fill="rgb(170,170,170)" opacity="0.85"/>
<ellipse cx="608.5" cy="43.86" rx="7.53" ry="1.04" fill="rgb(162,162,162)" opacity="0.85"/>
<ellipse cx="621.31" cy="37.87" rx="10.23" ry="0.66" fill="rgb(173,173,173)" opacity="0.85"/>
<ellipse cx="643.48" cy="29.3" rx="8.86" ry="0.84" fill="rgb(229,229,229)" opacity="0.85"/>
<ellipse cx="596.98" cy="41.98" rx="3.56" ry="0.53" fill="rgb(179,179,179)" opacity="0.85"/>
<ellipse cx="618.84" cy="36.43" rx="3.42" ry="0.9" fill="rgb(173,173,173)" opacity="0.85"/>
<ellipse cx="589.73" cy="37.88" rx="6.16" ry="0.6" fill="rgb(162,162,162)" opacity="0.85"/>
<ellipse cx="664" cy="29.55" rx="8.33" ry="1.01" fill="rgb(234,234,234)" opacity="0.85"/>
<ellipse cx="652.28" cy="35.97" rx="8.97" ry="0.82" fill="rgb(159,159,159)" opacity="0.85"/>
<ellipse cx="574.19" cy="44.74" rx="3.99" ry="0.8" fill="rgb(191,191,191)" opacity="0.85"/>
<ellipse cx="563.36" cy="45.61" rx="5.39" ry="0.66" fill="rgb(143,143,143)" opacity="0.85"/>
<ellipse cx="662.21" cy="29.44" rx="6.18" ry="0.68" fill="rgb(221,221,221)" opacity="0.85"/>
<ellipse cx="568.37" cy="38.96" rx="10.19" ry="0.65" fill="rgb(137,137,137)" opacity="0.85"/>
<ellipse cx="666.5" cy="37.37" rx="6.78" ry="0.58" fill="rgb(220,220,220)" opacity="0.85"/>
<ellipse cx="665.25" cy="33.68" rx="4.56" ry="0.99" fill="rgb(220,220,220)" opacity="0.85"/>
<ellipse cx="615.51" cy="34.75" rx="10.04" ry="1.1" fill="rgb(157,157,157)" opacity="0.85"/>
<ellipse cx="633.18" cy="31.98" rx="10.04" ry="0.48" fill="rgb(163,163,163)" opacity="0.85"/>
<ellipse cx="643.5" cy="30.23" rx="10.2" ry="1.02" fill="rgb(177,177,177)" opacity="0.85"/>
<ellipse cx="578.2" cy="41.28" rx="10.5" ry="0.74" fill="rgb(189,189,189)" opacity="0.85"/>
<ellipse cx="587.97" cy="29.74" rx="8.68" ry="0.58" fill="rgb(177,177,177)" opacity="0.85"/>
<ellipse cx="589.32" cy="31.59" rx="9.32" ry="0.69" fill="rgb(204,204,204)" opacity="0.85"/>
<ellipse cx="661.03" cy="40.35" rx="4.83" ry="0.65" fill="rgb(182,182,182)" opacity="0.85"/>
<ellipse cx="637.01" cy="45.17" rx="8.12" ry="0.51" fill="rgb(146,146,146)" opacity="0.85"/>
<ellipse cx="611.96" cy="46.19" rx="7.25" ry="0.48" fill="rgb(166,166,166)" opacity="0.85"/>
<ellipse cx="594.74" cy="39.21" rx="9.43" ry="0.51" fill="rgb(155,155,155)" opacity="0.85"/>
<ellipse cx="646.8" cy="33.49" rx="5.23" ry="0.81" fill="rgb(165,165,165)" opacity="0.85"/>
<ellipse cx="662.42" cy="31.69" rx="3.27" ry="0.75" fill="rgb(232,232,232)" opacity="0.85"/>
<ellipse cx="605.81" cy="41.96" rx="7" ry="0.57" fill="rgb(208,208,208)" opacity="0.85"/>
<ellipse cx="634.57" cy="38.42" rx="8.27" ry="0.96" fill="rgb(166,166,166)" opacity="0.85"/>
<ellipse cx="619.17" cy="37.7" rx="8.47" ry="0.79" fill="rgb(208,208,208)" opacity="0.85"/>
<line x1="567.3" y1="28.1" x2="669.8" y2="28.1" stroke="#e0e0e0" stroke-width="0.9" />
<line x1="567.3" y1="46.8" x2="669.8" y2="46.8" stroke="#707070" stroke-width="0.8" />
</g>
<text x="618.2" y="14.2" font-size="9.6" font-weight="bold" fill="#f4f4f4" text-anchor="middle" >MGP fiber</text>
<text x="654.8" y="68.9" font-size="8.6" font-weight="bold" fill="#fff" text-anchor="middle" >20 μm</text>
<rect x="654" y="71.1" width="7.1" height="2.3" fill="#fff" stroke="none" stroke-width="1" />
<text x="1" y="12.9" font-size="17.5" font-weight="bold" fill="#000" text-anchor="start" >a</text>
<rect x="60.4" y="88.6" width="31.9" height="137.6" fill="#e0dac8" stroke="none" stroke-width="1" />
<rect x="146" y="88.6" width="2.9" height="137.6" fill="#a9c9ef" stroke="none" stroke-width="1" />
<rect x="203.1" y="88.6" width="2.8" height="137.6" fill="#ecd4d4" stroke="none" stroke-width="1" />
<polyline points="43,103.4 50,103.2 57,103.5 61,103.6 63.5,105.5 66,109 68,110.2 72,109.8 76,110.4 81,110.5 85,109.2 90,106.2 95,103.1 100,103.4 105,104 110,103.7 115,104.1 120,103.4 126.8,103.3" stroke="#f5862e" stroke-width="1.0" fill="none" stroke-linejoin="round" />
<polyline points="130.1,106.3 140,106.6 148,106.9 154,108.2 161,109.1 166,107.3 171,104.9 175,104 183,105.2 190,106.4 195.1,107.4" stroke="#f5862e" stroke-width="1.0" fill="none" stroke-linejoin="round" />
<polyline points="197.8,104.5 199,106 200.5,104.2 202.3,107.6 203.5,104.3 206,104.8 209,103.4 211,104.2 213,102.8" stroke="#f5862e" stroke-width="1.0" fill="none" stroke-linejoin="round" />
<polyline points="43,128.8 50,128.9 57,129.3 62,130.7 65,134.5 67.6,136.6 71,135.3 75,136 80,137.3 85,136.5 90,133.6 94,131.9 100,130.9 105,130 108,129.8 110,129.2 112,130.1 115.5,128.6 118,129.8 121,129.2 126.8,129.4" stroke="#1c1cf0" stroke-width="1.0" fill="none" stroke-linejoin="round" />
<polyline points="130.1,134.2 140,134.8 150,135.4 160,136.2 165,136.3 169,134.4 173,131 176,129.3 182,130.3 190,131.7 195.1,132.7" stroke="#1c1cf0" stroke-width="1.0" fill="none" stroke-linejoin="round" />
<polyline points="197.8,128.8 198.5,134 199.8,129.7 200.6,133.2 201.5,128.9 203,131.8 205,129.2 207.5,131.6 210,135.3 211.2,141.5 212.5,134 213.3,128.8" stroke="#1c1cf0" stroke-width="1.0" fill="none" stroke-linejoin="round" />
<polyline points="43,157.2 55,157.2 65,157.4 72,158.3 80,160.9 86,163.6 91,165.2 96,164.3 102,161.6 108,159.3 111.5,158.2 113.5,160 115.5,162.8 118,161.1 122,159.3 126.8,157.7" stroke="#33dd33" stroke-width="1.0" fill="none" stroke-linejoin="round" />
<polyline points="130.1,157.4 145,157.5 160,157.8 175,157.5 195.1,158.2" stroke="#33dd33" stroke-width="1.0" fill="none" stroke-linejoin="round" />
<polyline points="197.8,162.3 199.5,161.2 201,162.6 203,161.9 206,163.9 210,167.8 213.3,171" stroke="#33dd33" stroke-width="1.0" fill="none" stroke-linejoin="round" />
<polyline points="43,179.7 55,179.8 65,180.6 75,181.9 82,182.3 90,181.4 100,180.9 110,180.7 112,182.2 113.6,185.8 116,183 120,181.4 126.8,180.2" stroke="#f22222" stroke-width="1.0" fill="none" stroke-linejoin="round" />
<polyline points="130.1,180.1 138,180.4 142,181.6 145,185.2 147.3,190 149.5,186.1 152,182.3 157.8,181 170,180.7 195.1,180.5" stroke="#f22222" stroke-width="1.0" fill="none" stroke-linejoin="round" />
<polyline points="198,193.2 199,197.3 200.2,200.2 201.6,196.2 203.4,192.2 206,187.5 209.5,184.3 212,185.6 213.4,186.4" stroke="#f22222" stroke-width="1.0" fill="none" stroke-linejoin="round" />
<polyline points="43,206.2 55,206.4 62,207.1 67,208.7 72,207.7 80,207 90,206.4 100,206 108,206.2 113,207.2 117,206.5 121,206.8 126.8,206.5" stroke="#222" stroke-width="0.9" fill="none" stroke-linejoin="round" />
<polyline points="130.1,207.3 140,207.5 150,207.8 160,208 170,207.2 180,206.6 195.1,206.5" stroke="#222" stroke-width="0.9" fill="none" stroke-linejoin="round" />
<polyline points="198,204 199.5,206.3 201.2,207.5 203.5,206 206,205.6 208.5,206.4 211,205 213.3,200.7" stroke="#222" stroke-width="0.9" fill="none" stroke-linejoin="round" />
<path d="M42.5,88.6 H126.6 M130.2,88.6 H195.3 M197.8,88.6 H213.5 V226.2 H197.8 M195.3,226.2 H130.2 M126.6,226.2 H42.5 Z" stroke="#333" stroke-width="0.9" fill="none"/>
<line x1="42.5" y1="88.6" x2="42.5" y2="226.2" stroke="#333" stroke-width="0.9" />
<path d="M125.6,90.4 L127.6,86.8 M129,90.4 L131,86.8" stroke="#222" stroke-width="0.7"/>
<path d="M125.6,228 L127.6,224.4 M129,228 L131,224.4" stroke="#222" stroke-width="0.7"/>
<path d="M193.7,90.4 L195.7,86.8 M197.1,90.4 L199.1,86.8" stroke="#222" stroke-width="0.7"/>
<path d="M193.7,228 L195.7,224.4 M197.1,228 L199.1,224.4" stroke="#222" stroke-width="0.7"/>
<path d="M42.6,226.2v-2.4M59.6,226.2v-2.4M76.6,226.2v-2.4M93.6,226.2v-2.4M110.6,226.2v-2.4M120.2,226.2v-2.4M130.6,226.2v-2.4M141.1,226.2v-1.4M151.6,226.2v-2.4M162.1,226.2v-1.4M172.6,226.2v-2.4M183.1,226.2v-1.4M206,226.2v-2.0M200.9,226.2v-2.0M211.2,226.2v-2.0" stroke="#333" stroke-width="0.8"/>
<text x="42.6" y="236.2" font-size="8.9" font-weight="bold" fill="#000" text-anchor="middle" >4000</text>
<text x="76.6" y="236.2" font-size="8.9" font-weight="bold" fill="#000" text-anchor="middle" >3500</text>
<text x="120" y="236.2" font-size="8.9" font-weight="bold" fill="#000" text-anchor="end" >3000</text>
<text x="120.7" y="236.2" font-size="8.9" font-weight="bold" fill="#000" text-anchor="start" >1800</text>
<text x="151.6" y="236.2" font-size="8.9" font-weight="bold" fill="#000" text-anchor="middle" >1700</text>
<text x="172.6" y="236.2" font-size="8.9" font-weight="bold" fill="#000" text-anchor="middle" >1600</text>
<text x="206" y="236.2" font-size="8.9" font-weight="bold" fill="#000" text-anchor="middle" >800</text>
<text x="70.6" y="250.8" font-size="11.75" font-weight="bold" fill="#000" text-anchor="start" >Wavenumbers (cm<tspan font-size="7.4" dy="-4.4">-1</tspan><tspan dy="4.4">)</tspan></text>
<text x="59.7" y="100.3" font-size="9.5" font-weight="bold" fill="#000" text-anchor="start" >~3515.6</text>
<text x="169.2" y="100.1" font-size="9.5" font-weight="bold" fill="#000" text-anchor="start" >~842.1</text>
<text x="111.4" y="178" font-size="9.5" font-weight="bold" fill="#000" text-anchor="start" >~1717.5</text>
<text x="46.6" y="122.1" font-size="9.6" font-weight="bold" fill="#f08a40" text-anchor="start" >MGP</text>
<text x="46.6" y="149" font-size="9.6" font-weight="bold" fill="#1414ee" text-anchor="start" >MG</text>
<text x="46.6" y="171.8" font-size="9.6" font-weight="bold" fill="#22b04a" text-anchor="start" >PVA</text>
<text x="46.6" y="195.7" font-size="9.6" font-weight="bold" fill="#ee1c1c" text-anchor="start" >GA</text>
<text x="47" y="221.2" font-size="9.3" font-weight="bold" fill="#111" text-anchor="start" >MXene</text>
<text transform="translate(22,156.9) rotate(-90)" font-size="11.75" font-weight="bold" fill="#000" text-anchor="middle">Intensity (a. u.)</text>
<text x="-0.3" y="100" font-size="17.5" font-weight="bold" fill="#000" text-anchor="start" >b</text>
<path d="M264.4,131.9 L264.4,131.89 L264.9,131.89 L265.4,131.89 L265.9,131.89 L266.4,131.89 L266.9,131.88 L267.4,131.88 L267.9,131.88 L268.4,131.87 L268.9,131.86 L269.4,131.86 L269.9,131.85 L270.4,131.84 L270.9,131.82 L271.4,131.81 L271.9,131.79 L272.4,131.77 L272.9,131.75 L273.4,131.72 L273.9,131.68 L274.4,131.65 L274.9,131.6 L275.4,131.55 L275.9,131.49 L276.4,131.42 L276.9,131.35 L277.4,131.26 L277.9,131.16 L278.4,131.04 L278.9,130.92 L279.4,130.77 L279.9,130.61 L280.4,130.43 L280.9,130.23 L281.4,130 L281.9,129.75 L282.4,129.48 L282.9,129.17 L283.4,128.84 L283.9,128.47 L284.4,128.08 L284.9,127.64 L285.4,127.17 L285.9,126.67 L286.4,126.12 L286.9,125.54 L287.4,124.92 L287.9,124.25 L288.4,123.55 L288.9,122.8 L289.4,122.02 L289.9,121.19 L290.4,120.33 L290.9,119.44 L291.4,118.51 L291.9,117.55 L292.4,116.56 L292.9,115.55 L293.4,114.52 L293.9,113.48 L294.4,112.43 L294.9,111.37 L295.4,110.31 L295.9,109.26 L296.4,108.23 L296.9,107.21 L297.4,106.22 L297.9,105.26 L298.4,104.34 L298.9,103.47 L299.4,102.65 L299.9,101.89 L300.4,101.19 L300.9,100.55 L301.4,100 L301.9,99.52 L302.4,99.12 L302.9,98.81 L303.4,98.58 L303.9,98.45 L304.4,98.4 L304.9,98.45 L305.4,98.58 L305.9,98.81 L306.4,99.12 L306.9,99.52 L307.4,100 L307.9,100.55 L308.4,101.19 L308.9,101.89 L309.4,102.65 L309.9,103.47 L310.4,104.34 L310.9,105.26 L311.4,106.22 L311.9,107.21 L312.4,108.23 L312.9,109.26 L313.4,110.31 L313.9,111.37 L314.4,112.43 L314.9,113.48 L315.4,114.52 L315.9,115.55 L316.4,116.56 L316.9,117.55 L317.4,118.51 L317.9,119.44 L318.4,120.33 L318.9,121.19 L319.4,122.02 L319.9,122.8 L320.4,123.55 L320.9,124.25 L321.4,124.92 L321.9,125.54 L322.4,126.12 L322.9,126.67 L323.4,127.17 L323.9,127.64 L324.4,128.08 L324.9,128.47 L325.4,128.84 L325.9,129.17 L326.4,129.48 L326.9,129.75 L327.4,130 L327.9,130.23 L328.4,130.43 L328.9,130.61 L329.4,130.77 L329.9,130.92 L330.4,131.04 L330.9,131.16 L331.4,131.26 L331.9,131.35 L332.4,131.42 L332.9,131.49 L333.4,131.55 L333.9,131.6 L334.4,131.65 L334.9,131.68 L335.4,131.72 L335.9,131.75 L336.4,131.77 L336.9,131.79 L337.4,131.81 L337.9,131.82 L338.4,131.84 L338.9,131.85 L339.4,131.86 L339.9,131.86 L340.4,131.87 L340.9,131.88 L341.4,131.88 L341.9,131.88 L342.4,131.89 L342.9,131.89 L343.4,131.89 L343.9,131.89 L344.4,131.89 L344.4,131.9Z" fill="#9fd897" fill-opacity="0.78" style="mix-blend-mode:multiply"/>
<path d="M264.4,131.89 L264.9,131.89 L265.4,131.89 L265.9,131.89 L266.4,131.89 L266.9,131.88 L267.4,131.88 L267.9,131.88 L268.4,131.87 L268.9,131.86 L269.4,131.86 L269.9,131.85 L270.4,131.84 L270.9,131.82 L271.4,131.81 L271.9,131.79 L272.4,131.77 L272.9,131.75 L273.4,131.72 L273.9,131.68 L274.4,131.65 L274.9,131.6 L275.4,131.55 L275.9,131.49 L276.4,131.42 L276.9,131.35 L277.4,131.26 L277.9,131.16 L278.4,131.04 L278.9,130.92 L279.4,130.77 L279.9,130.61 L280.4,130.43 L280.9,130.23 L281.4,130 L281.9,129.75 L282.4,129.48 L282.9,129.17 L283.4,128.84 L283.9,128.47 L284.4,128.08 L284.9,127.64 L285.4,127.17 L285.9,126.67 L286.4,126.12 L286.9,125.54 L287.4,124.92 L287.9,124.25 L288.4,123.55 L288.9,122.8 L289.4,122.02 L289.9,121.19 L290.4,120.33 L290.9,119.44 L291.4,118.51 L291.9,117.55 L292.4,116.56 L292.9,115.55 L293.4,114.52 L293.9,113.48 L294.4,112.43 L294.9,111.37 L295.4,110.31 L295.9,109.26 L296.4,108.23 L296.9,107.21 L297.4,106.22 L297.9,105.26 L298.4,104.34 L298.9,103.47 L299.4,102.65 L299.9,101.89 L300.4,101.19 L300.9,100.55 L301.4,100 L301.9,99.52 L302.4,99.12 L302.9,98.81 L303.4,98.58 L303.9,98.45 L304.4,98.4 L304.9,98.45 L305.4,98.58 L305.9,98.81 L306.4,99.12 L306.9,99.52 L307.4,100 L307.9,100.55 L308.4,101.19 L308.9,101.89 L309.4,102.65 L309.9,103.47 L310.4,104.34 L310.9,105.26 L311.4,106.22 L311.9,107.21 L312.4,108.23 L312.9,109.26 L313.4,110.31 L313.9,111.37 L314.4,112.43 L314.9,113.48 L315.4,114.52 L315.9,115.55 L316.4,116.56 L316.9,117.55 L317.4,118.51 L317.9,119.44 L318.4,120.33 L318.9,121.19 L319.4,122.02 L319.9,122.8 L320.4,123.55 L320.9,124.25 L321.4,124.92 L321.9,125.54 L322.4,126.12 L322.9,126.67 L323.4,127.17 L323.9,127.64 L324.4,128.08 L324.9,128.47 L325.4,128.84 L325.9,129.17 L326.4,129.48 L326.9,129.75 L327.4,130 L327.9,130.23 L328.4,130.43 L328.9,130.61 L329.4,130.77 L329.9,130.92 L330.4,131.04 L330.9,131.16 L331.4,131.26 L331.9,131.35 L332.4,131.42 L332.9,131.49 L333.4,131.55 L333.9,131.6 L334.4,131.65 L334.9,131.68 L335.4,131.72 L335.9,131.75 L336.4,131.77 L336.9,131.79 L337.4,131.81 L337.9,131.82 L338.4,131.84 L338.9,131.85 L339.4,131.86 L339.9,131.86 L340.4,131.87 L340.9,131.88 L341.4,131.88 L341.9,131.88 L342.4,131.89 L342.9,131.89 L343.4,131.89 L343.9,131.89 L344.4,131.89" fill="none" stroke="#84dd84" stroke-width="0.8" opacity="0.8"/>
<path d="M283.4,131.9 L283.4,131.9 L283.9,131.9 L284.4,131.9 L284.9,131.9 L285.4,131.89 L285.9,131.89 L286.4,131.89 L286.9,131.89 L287.4,131.89 L287.9,131.89 L288.4,131.88 L288.9,131.88 L289.4,131.87 L289.9,131.87 L290.4,131.86 L290.9,131.85 L291.4,131.84 L291.9,131.83 L292.4,131.82 L292.9,131.81 L293.4,131.79 L293.9,131.77 L294.4,131.75 L294.9,131.72 L295.4,131.69 L295.9,131.66 L296.4,131.62 L296.9,131.57 L297.4,131.52 L297.9,131.46 L298.4,131.4 L298.9,131.32 L299.4,131.24 L299.9,131.15 L300.4,131.05 L300.9,130.93 L301.4,130.81 L301.9,130.67 L302.4,130.51 L302.9,130.35 L303.4,130.16 L303.9,129.97 L304.4,129.75 L304.9,129.52 L305.4,129.27 L305.9,129 L306.4,128.71 L306.9,128.41 L307.4,128.08 L307.9,127.74 L308.4,127.38 L308.9,127.01 L309.4,126.61 L309.9,126.21 L310.4,125.78 L310.9,125.35 L311.4,124.9 L311.9,124.45 L312.4,123.98 L312.9,123.52 L313.4,123.04 L313.9,122.57 L314.4,122.11 L314.9,121.64 L315.4,121.19 L315.9,120.75 L316.4,120.32 L316.9,119.91 L317.4,119.52 L317.9,119.15 L318.4,118.81 L318.9,118.5 L319.4,118.22 L319.9,117.98 L320.4,117.77 L320.9,117.6 L321.4,117.46 L321.9,117.37 L322.4,117.31 L322.9,117.3 L323.4,117.33 L323.9,117.4 L324.4,117.51 L324.9,117.66 L325.4,117.85 L325.9,118.07 L326.4,118.33 L326.9,118.62 L327.4,118.95 L327.9,119.3 L328.4,119.67 L328.9,120.07 L329.4,120.49 L329.9,120.92 L330.4,121.37 L330.9,121.83 L331.4,122.29 L331.9,122.76 L332.4,123.23 L332.9,123.7 L333.4,124.17 L333.9,124.63 L334.4,125.08 L334.9,125.52 L335.4,125.95 L335.9,126.37 L336.4,126.77 L336.9,127.16 L337.4,127.53 L337.9,127.88 L338.4,128.22 L338.9,128.53 L339.4,128.83 L339.9,129.11 L340.4,129.37 L340.9,129.61 L341.4,129.84 L341.9,130.05 L342.4,130.24 L342.9,130.42 L343.4,130.58 L343.9,130.72 L344.4,130.86 L344.9,130.98 L345.4,131.09 L345.9,131.19 L346.4,131.28 L346.9,131.35 L347.4,131.42 L347.9,131.49 L348.4,131.54 L348.9,131.59 L349.4,131.63 L349.9,131.67 L350.4,131.7 L350.9,131.73 L351.4,131.76 L351.9,131.78 L352.4,131.8 L352.9,131.81 L353.4,131.83 L353.9,131.84 L354.4,131.85 L354.9,131.86 L355.4,131.86 L355.9,131.87 L356.4,131.88 L356.9,131.88 L357.4,131.88 L357.9,131.89 L358.4,131.89 L358.9,131.89 L359.4,131.89 L359.9,131.89 L360.4,131.9 L360.9,131.9 L361.4,131.9 L361.9,131.9 L361.9,131.9Z" fill="#e8474a" fill-opacity="0.78" style="mix-blend-mode:multiply"/>
<path d="M283.4,131.9 L283.9,131.9 L284.4,131.9 L284.9,131.9 L285.4,131.89 L285.9,131.89 L286.4,131.89 L286.9,131.89 L287.4,131.89 L287.9,131.89 L288.4,131.88 L288.9,131.88 L289.4,131.87 L289.9,131.87 L290.4,131.86 L290.9,131.85 L291.4,131.84 L291.9,131.83 L292.4,131.82 L292.9,131.81 L293.4,131.79 L293.9,131.77 L294.4,131.75 L294.9,131.72 L295.4,131.69 L295.9,131.66 L296.4,131.62 L296.9,131.57 L297.4,131.52 L297.9,131.46 L298.4,131.4 L298.9,131.32 L299.4,131.24 L299.9,131.15 L300.4,131.05 L300.9,130.93 L301.4,130.81 L301.9,130.67 L302.4,130.51 L302.9,130.35 L303.4,130.16 L303.9,129.97 L304.4,129.75 L304.9,129.52 L305.4,129.27 L305.9,129 L306.4,128.71 L306.9,128.41 L307.4,128.08 L307.9,127.74 L308.4,127.38 L308.9,127.01 L309.4,126.61 L309.9,126.21 L310.4,125.78 L310.9,125.35 L311.4,124.9 L311.9,124.45 L312.4,123.98 L312.9,123.52 L313.4,123.04 L313.9,122.57 L314.4,122.11 L314.9,121.64 L315.4,121.19 L315.9,120.75 L316.4,120.32 L316.9,119.91 L317.4,119.52 L317.9,119.15 L318.4,118.81 L318.9,118.5 L319.4,118.22 L319.9,117.98 L320.4,117.77 L320.9,117.6 L321.4,117.46 L321.9,117.37 L322.4,117.31 L322.9,117.3 L323.4,117.33 L323.9,117.4 L324.4,117.51 L324.9,117.66 L325.4,117.85 L325.9,118.07 L326.4,118.33 L326.9,118.62 L327.4,118.95 L327.9,119.3 L328.4,119.67 L328.9,120.07 L329.4,120.49 L329.9,120.92 L330.4,121.37 L330.9,121.83 L331.4,122.29 L331.9,122.76 L332.4,123.23 L332.9,123.7 L333.4,124.17 L333.9,124.63 L334.4,125.08 L334.9,125.52 L335.4,125.95 L335.9,126.37 L336.4,126.77 L336.9,127.16 L337.4,127.53 L337.9,127.88 L338.4,128.22 L338.9,128.53 L339.4,128.83 L339.9,129.11 L340.4,129.37 L340.9,129.61 L341.4,129.84 L341.9,130.05 L342.4,130.24 L342.9,130.42 L343.4,130.58 L343.9,130.72 L344.4,130.86 L344.9,130.98 L345.4,131.09 L345.9,131.19 L346.4,131.28 L346.9,131.35 L347.4,131.42 L347.9,131.49 L348.4,131.54 L348.9,131.59 L349.4,131.63 L349.9,131.67 L350.4,131.7 L350.9,131.73 L351.4,131.76 L351.9,131.78 L352.4,131.8 L352.9,131.81 L353.4,131.83 L353.9,131.84 L354.4,131.85 L354.9,131.86 L355.4,131.86 L355.9,131.87 L356.4,131.88 L356.9,131.88 L357.4,131.88 L357.9,131.89 L358.4,131.89 L358.9,131.89 L359.4,131.89 L359.9,131.89 L360.4,131.9 L360.9,131.9 L361.4,131.9 L361.9,131.9" fill="none" stroke="#ff1a1a" stroke-width="0.8" opacity="0.8"/>
<path d="M314.9,131.9 L314.9,131.9 L315.4,131.9 L315.9,131.9 L316.4,131.9 L316.9,131.9 L317.4,131.9 L317.9,131.9 L318.4,131.9 L318.9,131.89 L319.4,131.89 L319.9,131.89 L320.4,131.89 L320.9,131.89 L321.4,131.88 L321.9,131.88 L322.4,131.87 L322.9,131.87 L323.4,131.86 L323.9,131.85 L324.4,131.84 L324.9,131.83 L325.4,131.81 L325.9,131.8 L326.4,131.78 L326.9,131.75 L327.4,131.73 L327.9,131.7 L328.4,131.66 L328.9,131.63 L329.4,131.58 L329.9,131.53 L330.4,131.47 L330.9,131.41 L331.4,131.34 L331.9,131.26 L332.4,131.18 L332.9,131.08 L333.4,130.98 L333.9,130.87 L334.4,130.75 L334.9,130.62 L335.4,130.48 L335.9,130.34 L336.4,130.18 L336.9,130.02 L337.4,129.84 L337.9,129.67 L338.4,129.48 L338.9,129.29 L339.4,129.1 L339.9,128.9 L340.4,128.71 L340.9,128.51 L341.4,128.32 L341.9,128.12 L342.4,127.94 L342.9,127.76 L343.4,127.59 L343.9,127.43 L344.4,127.28 L344.9,127.15 L345.4,127.03 L345.9,126.93 L346.4,126.84 L346.9,126.78 L347.4,126.73 L347.9,126.71 L348.4,126.7 L348.9,126.71 L349.4,126.75 L349.9,126.8 L350.4,126.88 L350.9,126.97 L351.4,127.08 L351.9,127.2 L352.4,127.34 L352.9,127.49 L353.4,127.66 L353.9,127.83 L354.4,128.01 L354.9,128.2 L355.4,128.39 L355.9,128.59 L356.4,128.79 L356.9,128.98 L357.4,129.18 L357.9,129.37 L358.4,129.56 L358.9,129.74 L359.4,129.91 L359.9,130.08 L360.4,130.24 L360.9,130.4 L361.4,130.54 L361.9,130.67 L362.4,130.8 L362.9,130.92 L363.4,131.02 L363.9,131.12 L364.4,131.21 L364.9,131.3 L365.4,131.37 L365.9,131.44 L366.4,131.5 L366.9,131.55 L367.4,131.6 L367.9,131.64 L368.4,131.68 L368.9,131.71 L369.4,131.74 L369.9,131.76 L370.4,131.79 L370.9,131.8 L371.4,131.82 L371.9,131.83 L372.4,131.84 L372.9,131.85 L373.4,131.86 L373.9,131.87 L374.4,131.87 L374.9,131.88 L375.4,131.88 L375.9,131.89 L376.4,131.89 L376.9,131.89 L377.4,131.89 L377.9,131.89 L378.4,131.9 L378.9,131.9 L379.4,131.9 L379.9,131.9 L380.4,131.9 L380.9,131.9 L381.4,131.9 L381.9,131.9 L381.9,131.9Z" fill="#3f3ff0" fill-opacity="0.78" style="mix-blend-mode:multiply"/>
<path d="M314.9,131.9 L315.4,131.9 L315.9,131.9 L316.4,131.9 L316.9,131.9 L317.4,131.9 L317.9,131.9 L318.4,131.9 L318.9,131.89 L319.4,131.89 L319.9,131.89 L320.4,131.89 L320.9,131.89 L321.4,131.88 L321.9,131.88 L322.4,131.87 L322.9,131.87 L323.4,131.86 L323.9,131.85 L324.4,131.84 L324.9,131.83 L325.4,131.81 L325.9,131.8 L326.4,131.78 L326.9,131.75 L327.4,131.73 L327.9,131.7 L328.4,131.66 L328.9,131.63 L329.4,131.58 L329.9,131.53 L330.4,131.47 L330.9,131.41 L331.4,131.34 L331.9,131.26 L332.4,131.18 L332.9,131.08 L333.4,130.98 L333.9,130.87 L334.4,130.75 L334.9,130.62 L335.4,130.48 L335.9,130.34 L336.4,130.18 L336.9,130.02 L337.4,129.84 L337.9,129.67 L338.4,129.48 L338.9,129.29 L339.4,129.1 L339.9,128.9 L340.4,128.71 L340.9,128.51 L341.4,128.32 L341.9,128.12 L342.4,127.94 L342.9,127.76 L343.4,127.59 L343.9,127.43 L344.4,127.28 L344.9,127.15 L345.4,127.03 L345.9,126.93 L346.4,126.84 L346.9,126.78 L347.4,126.73 L347.9,126.71 L348.4,126.7 L348.9,126.71 L349.4,126.75 L349.9,126.8 L350.4,126.88 L350.9,126.97 L351.4,127.08 L351.9,127.2 L352.4,127.34 L352.9,127.49 L353.4,127.66 L353.9,127.83 L354.4,128.01 L354.9,128.2 L355.4,128.39 L355.9,128.59 L356.4,128.79 L356.9,128.98 L357.4,129.18 L357.9,129.37 L358.4,129.56 L358.9,129.74 L359.4,129.91 L359.9,130.08 L360.4,130.24 L360.9,130.4 L361.4,130.54 L361.9,130.67 L362.4,130.8 L362.9,130.92 L363.4,131.02 L363.9,131.12 L364.4,131.21 L364.9,131.3 L365.4,131.37 L365.9,131.44 L366.4,131.5 L366.9,131.55 L367.4,131.6 L367.9,131.64 L368.4,131.68 L368.9,131.71 L369.4,131.74 L369.9,131.76 L370.4,131.79 L370.9,131.8 L371.4,131.82 L371.9,131.83 L372.4,131.84 L372.9,131.85 L373.4,131.86 L373.9,131.87 L374.4,131.87 L374.9,131.88 L375.4,131.88 L375.9,131.89 L376.4,131.89 L376.9,131.89 L377.4,131.89 L377.9,131.89 L378.4,131.9 L378.9,131.9 L379.4,131.9 L379.9,131.9 L380.4,131.9 L380.9,131.9 L381.4,131.9 L381.9,131.9" fill="none" stroke="#2222ff" stroke-width="0.8" opacity="0.8"/>
<path d="M344.4,131.9 L344.4,131.9 L344.9,131.9 L345.4,131.9 L345.9,131.9 L346.4,131.9 L346.9,131.9 L347.4,131.9 L347.9,131.9 L348.4,131.9 L348.9,131.9 L349.4,131.9 L349.9,131.9 L350.4,131.9 L350.9,131.89 L351.4,131.89 L351.9,131.89 L352.4,131.89 L352.9,131.89 L353.4,131.89 L353.9,131.88 L354.4,131.88 L354.9,131.88 L355.4,131.88 L355.9,131.87 L356.4,131.87 L356.9,131.86 L357.4,131.86 L357.9,131.85 L358.4,131.84 L358.9,131.83 L359.4,131.82 L359.9,131.81 L360.4,131.8 L360.9,131.79 L361.4,131.77 L361.9,131.76 L362.4,131.74 L362.9,131.72 L363.4,131.7 L363.9,131.67 L364.4,131.65 L364.9,131.62 L365.4,131.59 L365.9,131.56 L366.4,131.52 L366.9,131.48 L367.4,131.44 L367.9,131.39 L368.4,131.35 L368.9,131.3 L369.4,131.24 L369.9,131.19 L370.4,131.13 L370.9,131.07 L371.4,131 L371.9,130.94 L372.4,130.87 L372.9,130.8 L373.4,130.72 L373.9,130.65 L374.4,130.57 L374.9,130.5 L375.4,130.42 L375.9,130.34 L376.4,130.26 L376.9,130.18 L377.4,130.1 L377.9,130.03 L378.4,129.95 L378.9,129.88 L379.4,129.81 L379.9,129.74 L380.4,129.68 L380.9,129.62 L381.4,129.56 L381.9,129.51 L382.4,129.46 L382.9,129.42 L383.4,129.39 L383.9,129.36 L384.4,129.33 L384.9,129.32 L385.4,129.3 L385.9,129.3 L386.4,129.3 L386.9,129.31 L387.4,129.33 L387.9,129.35 L388.4,129.37 L388.9,129.41 L389.4,129.45 L389.9,129.49 L390.4,129.54 L390.9,129.59 L391.4,129.65 L391.9,129.72 L392.4,129.78 L392.9,129.85 L393.4,129.92 L393.9,130 L394.4,130.07 L394.9,130.15 L395.4,130.23 L395.9,130.31 L396.4,130.39 L396.9,130.46 L397.4,130.54 L397.9,130.62 L398.4,130.69 L398.9,130.77 L399.4,130.84 L399.9,130.91 L400.4,130.98 L400.9,131.04 L401.4,131.11 L401.9,131.17 L402.4,131.22 L402.9,131.28 L403.4,131.33 L403.9,131.38 L404.4,131.42 L404.9,131.46 L405.4,131.5 L405.9,131.54 L406.4,131.58 L406.9,131.61 L407.4,131.64 L407.9,131.66 L408.4,131.69 L408.9,131.71 L409.4,131.73 L409.9,131.75 L410.4,131.77 L410.9,131.78 L411.4,131.8 L411.9,131.81 L412.4,131.82 L412.9,131.83 L413.4,131.84 L413.9,131.85 L414.4,131.85 L414.9,131.86 L415.4,131.87 L415.9,131.87 L416.4,131.87 L416.9,131.88 L417.4,131.88 L417.9,131.88 L418.4,131.89 L418.9,131.89 L419.4,131.89 L419.9,131.89 L420.4,131.89 L420.9,131.89 L421.4,131.9 L421.9,131.9 L422.4,131.9 L422.9,131.9 L423.4,131.9 L423.9,131.9 L424.4,131.9 L424.9,131.9 L425.4,131.9 L425.9,131.9 L426.4,131.9 L426.9,131.9 L427.4,131.9 L427.9,131.9 L427.9,131.9Z" fill="#e040e0" fill-opacity="0.78" style="mix-blend-mode:multiply"/>
<path d="M344.4,131.9 L344.9,131.9 L345.4,131.9 L345.9,131.9 L346.4,131.9 L346.9,131.9 L347.4,131.9 L347.9,131.9 L348.4,131.9 L348.9,131.9 L349.4,131.9 L349.9,131.9 L350.4,131.9 L350.9,131.89 L351.4,131.89 L351.9,131.89 L352.4,131.89 L352.9,131.89 L353.4,131.89 L353.9,131.88 L354.4,131.88 L354.9,131.88 L355.4,131.88 L355.9,131.87 L356.4,131.87 L356.9,131.86 L357.4,131.86 L357.9,131.85 L358.4,131.84 L358.9,131.83 L359.4,131.82 L359.9,131.81 L360.4,131.8 L360.9,131.79 L361.4,131.77 L361.9,131.76 L362.4,131.74 L362.9,131.72 L363.4,131.7 L363.9,131.67 L364.4,131.65 L364.9,131.62 L365.4,131.59 L365.9,131.56 L366.4,131.52 L366.9,131.48 L367.4,131.44 L367.9,131.39 L368.4,131.35 L368.9,131.3 L369.4,131.24 L369.9,131.19 L370.4,131.13 L370.9,131.07 L371.4,131 L371.9,130.94 L372.4,130.87 L372.9,130.8 L373.4,130.72 L373.9,130.65 L374.4,130.57 L374.9,130.5 L375.4,130.42 L375.9,130.34 L376.4,130.26 L376.9,130.18 L377.4,130.1 L377.9,130.03 L378.4,129.95 L378.9,129.88 L379.4,129.81 L379.9,129.74 L380.4,129.68 L380.9,129.62 L381.4,129.56 L381.9,129.51 L382.4,129.46 L382.9,129.42 L383.4,129.39 L383.9,129.36 L384.4,129.33 L384.9,129.32 L385.4,129.3 L385.9,129.3 L386.4,129.3 L386.9,129.31 L387.4,129.33 L387.9,129.35 L388.4,129.37 L388.9,129.41 L389.4,129.45 L389.9,129.49 L390.4,129.54 L390.9,129.59 L391.4,129.65 L391.9,129.72 L392.4,129.78 L392.9,129.85 L393.4,129.92 L393.9,130 L394.4,130.07 L394.9,130.15 L395.4,130.23 L395.9,130.31 L396.4,130.39 L396.9,130.46 L397.4,130.54 L397.9,130.62 L398.4,130.69 L398.9,130.77 L399.4,130.84 L399.9,130.91 L400.4,130.98 L400.9,131.04 L401.4,131.11 L401.9,131.17 L402.4,131.22 L402.9,131.28 L403.4,131.33 L403.9,131.38 L404.4,131.42 L404.9,131.46 L405.4,131.5 L405.9,131.54 L406.4,131.58 L406.9,131.61 L407.4,131.64 L407.9,131.66 L408.4,131.69 L408.9,131.71 L409.4,131.73 L409.9,131.75 L410.4,131.77 L410.9,131.78 L411.4,131.8 L411.9,131.81 L412.4,131.82 L412.9,131.83 L413.4,131.84 L413.9,131.85 L414.4,131.85 L414.9,131.86 L415.4,131.87 L415.9,131.87 L416.4,131.87 L416.9,131.88 L417.4,131.88 L417.9,131.88 L418.4,131.89 L418.9,131.89 L419.4,131.89 L419.9,131.89 L420.4,131.89 L420.9,131.89 L421.4,131.9 L421.9,131.9 L422.4,131.9 L422.9,131.9 L423.4,131.9 L423.9,131.9 L424.4,131.9 L424.9,131.9 L425.4,131.9 L425.9,131.9 L426.4,131.9 L426.9,131.9 L427.4,131.9 L427.9,131.9" fill="none" stroke="#ff33ff" stroke-width="0.8" opacity="0.8"/>
<path d="M337.9,131.9 L337.9,131.9 L338.4,131.9 L338.9,131.9 L339.4,131.9 L339.9,131.89 L340.4,131.89 L340.9,131.89 L341.4,131.89 L341.9,131.89 L342.4,131.88 L342.9,131.88 L343.4,131.87 L343.9,131.87 L344.4,131.86 L344.9,131.85 L345.4,131.85 L345.9,131.83 L346.4,131.82 L346.9,131.8 L347.4,131.79 L347.9,131.77 L348.4,131.74 L348.9,131.71 L349.4,131.68 L349.9,131.64 L350.4,131.59 L350.9,131.54 L351.4,131.49 L351.9,131.42 L352.4,131.34 L352.9,131.26 L353.4,131.17 L353.9,131.06 L354.4,130.94 L354.9,130.81 L355.4,130.67 L355.9,130.51 L356.4,130.33 L356.9,130.14 L357.4,129.93 L357.9,129.71 L358.4,129.46 L358.9,129.2 L359.4,128.92 L359.9,128.62 L360.4,128.3 L360.9,127.96 L361.4,127.61 L361.9,127.24 L362.4,126.85 L362.9,126.45 L363.4,126.03 L363.9,125.61 L364.4,125.17 L364.9,124.73 L365.4,124.28 L365.9,123.84 L366.4,123.39 L366.9,122.95 L367.4,122.51 L367.9,122.09 L368.4,121.68 L368.9,121.28 L369.4,120.91 L369.9,120.56 L370.4,120.24 L370.9,119.94 L371.4,119.68 L371.9,119.46 L372.4,119.26 L372.9,119.11 L373.4,119 L373.9,118.93 L374.4,118.9 L374.9,118.91 L375.4,118.97 L375.9,119.06 L376.4,119.2 L376.9,119.37 L377.4,119.59 L377.9,119.83 L378.4,120.12 L378.9,120.43 L379.4,120.77 L379.9,121.13 L380.4,121.52 L380.9,121.92 L381.4,122.34 L381.9,122.77 L382.4,123.21 L382.9,123.66 L383.4,124.1 L383.9,124.55 L384.4,125 L384.9,125.43 L385.4,125.86 L385.9,126.28 L386.4,126.69 L386.9,127.08 L387.4,127.46 L387.9,127.82 L388.4,128.17 L388.9,128.49 L389.4,128.8 L389.9,129.09 L390.4,129.36 L390.9,129.61 L391.4,129.84 L391.9,130.06 L392.4,130.26 L392.9,130.44 L393.4,130.6 L393.9,130.76 L394.4,130.89 L394.9,131.01 L395.4,131.13 L395.9,131.22 L396.4,131.31 L396.9,131.39 L397.4,131.46 L397.9,131.52 L398.4,131.57 L398.9,131.62 L399.4,131.66 L399.9,131.7 L400.4,131.73 L400.9,131.76 L401.4,131.78 L401.9,131.8 L402.4,131.81 L402.9,131.83 L403.4,131.84 L403.9,131.85 L404.4,131.86 L404.9,131.87 L405.4,131.87 L405.9,131.88 L406.4,131.88 L406.9,131.89 L407.4,131.89 L407.9,131.89 L408.4,131.89 L408.9,131.89 L409.4,131.9 L409.9,131.9 L410.4,131.9 L410.9,131.9 L411.4,131.9 L411.4,131.9Z" fill="#f2a040" fill-opacity="0.78" style="mix-blend-mode:multiply"/>
<path d="M337.9,131.9 L338.4,131.9 L338.9,131.9 L339.4,131.9 L339.9,131.89 L340.4,131.89 L340.9,131.89 L341.4,131.89 L341.9,131.89 L342.4,131.88 L342.9,131.88 L343.4,131.87 L343.9,131.87 L344.4,131.86 L344.9,131.85 L345.4,131.85 L345.9,131.83 L346.4,131.82 L346.9,131.8 L347.4,131.79 L347.9,131.77 L348.4,131.74 L348.9,131.71 L349.4,131.68 L349.9,131.64 L350.4,131.59 L350.9,131.54 L351.4,131.49 L351.9,131.42 L352.4,131.34 L352.9,131.26 L353.4,131.17 L353.9,131.06 L354.4,130.94 L354.9,130.81 L355.4,130.67 L355.9,130.51 L356.4,130.33 L356.9,130.14 L357.4,129.93 L357.9,129.71 L358.4,129.46 L358.9,129.2 L359.4,128.92 L359.9,128.62 L360.4,128.3 L360.9,127.96 L361.4,127.61 L361.9,127.24 L362.4,126.85 L362.9,126.45 L363.4,126.03 L363.9,125.61 L364.4,125.17 L364.9,124.73 L365.4,124.28 L365.9,123.84 L366.4,123.39 L366.9,122.95 L367.4,122.51 L367.9,122.09 L368.4,121.68 L368.9,121.28 L369.4,120.91 L369.9,120.56 L370.4,120.24 L370.9,119.94 L371.4,119.68 L371.9,119.46 L372.4,119.26 L372.9,119.11 L373.4,119 L373.9,118.93 L374.4,118.9 L374.9,118.91 L375.4,118.97 L375.9,119.06 L376.4,119.2 L376.9,119.37 L377.4,119.59 L377.9,119.83 L378.4,120.12 L378.9,120.43 L379.4,120.77 L379.9,121.13 L380.4,121.52 L380.9,121.92 L381.4,122.34 L381.9,122.77 L382.4,123.21 L382.9,123.66 L383.4,124.1 L383.9,124.55 L384.4,125 L384.9,125.43 L385.4,125.86 L385.9,126.28 L386.4,126.69 L386.9,127.08 L387.4,127.46 L387.9,127.82 L388.4,128.17 L388.9,128.49 L389.4,128.8 L389.9,129.09 L390.4,129.36 L390.9,129.61 L391.4,129.84 L391.9,130.06 L392.4,130.26 L392.9,130.44 L393.4,130.6 L393.9,130.76 L394.4,130.89 L394.9,131.01 L395.4,131.13 L395.9,131.22 L396.4,131.31 L396.9,131.39 L397.4,131.46 L397.9,131.52 L398.4,131.57 L398.9,131.62 L399.4,131.66 L399.9,131.7 L400.4,131.73 L400.9,131.76 L401.4,131.78 L401.9,131.8 L402.4,131.81 L402.9,131.83 L403.4,131.84 L403.9,131.85 L404.4,131.86 L404.9,131.87 L405.4,131.87 L405.9,131.88 L406.4,131.88 L406.9,131.89 L407.4,131.89 L407.9,131.89 L408.4,131.89 L408.9,131.89 L409.4,131.9 L409.9,131.9 L410.4,131.9 L410.9,131.9 L411.4,131.9" fill="none" stroke="#f08a20" stroke-width="0.8" opacity="0.8"/>
<path d="M261.4,131.3 L261.9,131.3 L262.4,131.3 L262.9,131.3 L263.4,131.3 L263.9,131.3 L264.4,131.29 L264.9,131.29 L265.4,131.29 L265.9,131.29 L266.4,131.29 L266.9,131.28 L267.4,131.28 L267.9,131.28 L268.4,131.27 L268.9,131.26 L269.4,131.26 L269.9,131.25 L270.4,131.24 L270.9,131.22 L271.4,131.21 L271.9,131.19 L272.4,131.17 L272.9,131.15 L273.4,131.12 L273.9,131.08 L274.4,131.05 L274.9,131 L275.4,130.95 L275.9,130.89 L276.4,130.82 L276.9,130.75 L277.4,130.66 L277.9,130.56 L278.4,130.44 L278.9,130.32 L279.4,130.17 L279.9,130.01 L280.4,129.83 L280.9,129.62 L281.4,129.4 L281.9,129.15 L282.4,128.87 L282.9,128.57 L283.4,128.24 L283.9,127.87 L284.4,127.47 L284.9,127.04 L285.4,126.57 L285.9,126.06 L286.4,125.52 L286.9,124.93 L287.4,124.3 L287.9,123.64 L288.4,122.93 L288.9,122.18 L289.4,121.39 L289.9,120.56 L290.4,119.69 L290.9,118.79 L291.4,117.85 L291.9,116.88 L292.4,115.88 L292.9,114.86 L293.4,113.81 L293.9,112.75 L294.4,111.68 L294.9,110.59 L295.4,109.5 L295.9,108.42 L296.4,107.34 L296.9,106.28 L297.4,105.24 L297.9,104.23 L298.4,103.24 L298.9,102.29 L299.4,101.39 L299.9,100.53 L300.4,99.73 L300.9,98.99 L301.4,98.3 L301.9,97.68 L302.4,97.13 L302.9,96.65 L303.4,96.25 L303.9,95.91 L304.4,95.65 L304.9,95.46 L305.4,95.35 L305.9,95.31 L306.4,95.33 L306.9,95.42 L307.4,95.58 L307.9,95.8 L308.4,96.07 L308.9,96.39 L309.4,96.76 L309.9,97.18 L310.4,97.63 L310.9,98.11 L311.4,98.62 L311.9,99.16 L312.4,99.71 L312.9,100.28 L313.4,100.86 L313.9,101.44 L314.4,102.03 L314.9,102.62 L315.4,103.21 L315.9,103.8 L316.4,104.38 L316.9,104.96 L317.4,105.53 L317.9,106.09 L318.4,106.64 L318.9,107.19 L319.4,107.73 L319.9,108.27 L320.4,108.8 L320.9,109.33 L321.4,109.86 L321.9,110.38 L322.4,110.91 L322.9,111.44 L323.4,111.96 L323.9,112.49 L324.4,113.03 L324.9,113.56 L325.4,114.1 L325.9,114.64 L326.4,115.19 L326.9,115.73 L327.4,116.28 L327.9,116.82 L328.4,117.37 L328.9,117.91 L329.4,118.44 L329.9,118.97 L330.4,119.49 L330.9,120 L331.4,120.49 L331.9,120.97 L332.4,121.44 L332.9,121.88 L333.4,122.3 L333.9,122.7 L334.4,123.08 L334.9,123.43 L335.4,123.75 L335.9,124.05 L336.4,124.32 L336.9,124.57 L337.4,124.78 L337.9,124.97 L338.4,125.13 L338.9,125.27 L339.4,125.38 L339.9,125.47 L340.4,125.54 L340.9,125.59 L341.4,125.62 L341.9,125.64 L342.4,125.65 L342.9,125.64 L343.4,125.63 L343.9,125.62 L344.4,125.6 L344.9,125.58 L345.4,125.56 L345.9,125.55 L346.4,125.54 L346.9,125.54 L347.4,125.54 L347.9,125.56 L348.4,125.58 L348.9,125.61 L349.4,125.66 L349.9,125.71 L350.4,125.77 L350.9,125.84 L351.4,125.91 L351.9,125.99 L352.4,126.07 L352.9,126.16 L353.4,126.24 L353.9,126.31 L354.4,126.39 L354.9,126.45 L355.4,126.5 L355.9,126.54 L356.4,126.56 L356.9,126.56 L357.4,126.55 L357.9,126.51 L358.4,126.45 L358.9,126.36 L359.4,126.25 L359.9,126.11 L360.4,125.94 L360.9,125.74 L361.4,125.52 L361.9,125.26 L362.4,124.99 L362.9,124.68 L363.4,124.35 L363.9,124 L364.4,123.63 L364.9,123.24 L365.4,122.84 L365.9,122.43 L366.4,122.01 L366.9,121.58 L367.4,121.15 L367.9,120.72 L368.4,120.3 L368.9,119.89 L369.4,119.49 L369.9,119.11 L370.4,118.75 L370.9,118.42 L371.4,118.11 L371.9,117.83 L372.4,117.58 L372.9,117.36 L373.4,117.19 L373.9,117.05 L374.4,116.95 L374.9,116.89 L375.4,116.87 L375.9,116.89 L376.4,116.95 L376.9,117.05 L377.4,117.18 L377.9,117.36 L378.4,117.56 L378.9,117.8 L379.4,118.07 L379.9,118.37 L380.4,118.69 L380.9,119.04 L381.4,119.4 L381.9,119.78 L382.4,120.17 L382.9,120.58 L383.4,120.99 L383.9,121.41 L384.4,121.83 L384.9,122.25 L385.4,122.67 L385.9,123.08 L386.4,123.49 L386.9,123.89 L387.4,124.29 L387.9,124.67 L388.4,125.04 L388.9,125.4 L389.4,125.75 L389.9,126.08 L390.4,126.4 L390.9,126.7 L391.4,127 L391.9,127.27 L392.4,127.54 L392.9,127.79 L393.4,128.03 L393.9,128.25 L394.4,128.46 L394.9,128.67 L395.4,128.85 L395.9,129.03 L396.4,129.2 L396.9,129.36 L397.4,129.5 L397.9,129.64 L398.4,129.77 L398.9,129.89 L399.4,130 L399.9,130.11 L400.4,130.21 L400.9,130.3 L401.4,130.38 L401.9,130.46 L402.4,130.54 L402.9,130.61 L403.4,130.67 L403.9,130.73 L404.4,130.78 L404.9,130.83 L405.4,130.88 L405.9,130.92 L406.4,130.96 L406.9,130.99 L407.4,131.02 L407.9,131.05 L408.4,131.08 L408.9,131.1 L409.4,131.13 L409.9,131.15 L410.4,131.16 L410.9,131.18 L411.4,131.19 L411.9,131.21 L412.4,131.22 L412.9,131.23 L413.4,131.24 L413.9,131.25 L414.4,131.25 L414.9,131.26 L415.4,131.27 L415.9,131.27 L416.4,131.27 L416.9,131.28 L417.4,131.28 L417.9,131.28 L418.4,131.29 L418.9,131.29 L419.4,131.29 L419.9,131.29 L420.4,131.29 L420.9,131.29 L421.4,131.3 L421.9,131.3 L422.4,131.3 L422.9,131.3 L423.4,131.3 L423.9,131.3 L424.4,131.3 L424.9,131.3 L425.4,131.3 L425.9,131.3 L426.4,131.3 L426.9,131.3 L427.4,131.3 L427.9,131.3 L428.4,131.3 L428.9,131.3 L429.4,131.3 L429.9,131.3 L430.4,131.3 L430.9,131.3 L431.4,131.3 L431.9,131.3" fill="none" stroke="#222" stroke-width="1.0" stroke-dasharray="2.8,2.0"/>
<line x1="261.4" y1="131.9" x2="431.9" y2="131.9" stroke="#ff44ff" stroke-width="1.3" />
<path d="M262.4,174.8 L262.4,174.79 L262.9,174.79 L263.4,174.79 L263.9,174.79 L264.4,174.79 L264.9,174.78 L265.4,174.78 L265.9,174.77 L266.4,174.77 L266.9,174.76 L267.4,174.75 L267.9,174.74 L268.4,174.73 L268.9,174.72 L269.4,174.7 L269.9,174.68 L270.4,174.66 L270.9,174.63 L271.4,174.6 L271.9,174.57 L272.4,174.52 L272.9,174.48 L273.4,174.42 L273.9,174.36 L274.4,174.28 L274.9,174.2 L275.4,174.1 L275.9,174 L276.4,173.87 L276.9,173.73 L277.4,173.58 L277.9,173.4 L278.4,173.21 L278.9,172.99 L279.4,172.75 L279.9,172.48 L280.4,172.18 L280.9,171.86 L281.4,171.5 L281.9,171.11 L282.4,170.68 L282.9,170.22 L283.4,169.72 L283.9,169.18 L284.4,168.59 L284.9,167.97 L285.4,167.3 L285.9,166.6 L286.4,165.84 L286.9,165.05 L287.4,164.22 L287.9,163.34 L288.4,162.43 L288.9,161.47 L289.4,160.49 L289.9,159.47 L290.4,158.43 L290.9,157.36 L291.4,156.27 L291.9,155.17 L292.4,154.06 L292.9,152.94 L293.4,151.83 L293.9,150.73 L294.4,149.64 L294.9,148.57 L295.4,147.54 L295.9,146.53 L296.4,145.57 L296.9,144.67 L297.4,143.81 L297.9,143.02 L298.4,142.3 L298.9,141.65 L299.4,141.07 L299.9,140.59 L300.4,140.18 L300.9,139.87 L301.4,139.65 L301.9,139.53 L302.4,139.5 L302.9,139.57 L303.4,139.73 L303.9,139.99 L304.4,140.33 L304.9,140.77 L305.4,141.29 L305.9,141.9 L306.4,142.58 L306.9,143.33 L307.4,144.15 L307.9,145.02 L308.4,145.95 L308.9,146.93 L309.4,147.95 L309.9,149 L310.4,150.07 L310.9,151.17 L311.4,152.28 L311.9,153.39 L312.4,154.5 L312.9,155.61 L313.4,156.71 L313.9,157.79 L314.4,158.85 L314.9,159.88 L315.4,160.89 L315.9,161.86 L316.4,162.8 L316.9,163.69 L317.4,164.55 L317.9,165.37 L318.4,166.15 L318.9,166.88 L319.4,167.58 L319.9,168.22 L320.4,168.83 L320.9,169.4 L321.4,169.92 L321.9,170.41 L322.4,170.86 L322.9,171.27 L323.4,171.65 L323.9,171.99 L324.4,172.31 L324.9,172.59 L325.4,172.85 L325.9,173.08 L326.4,173.29 L326.9,173.48 L327.4,173.64 L327.9,173.79 L328.4,173.92 L328.9,174.04 L329.4,174.14 L329.9,174.23 L330.4,174.31 L330.9,174.38 L331.4,174.44 L331.9,174.5 L332.4,174.54 L332.9,174.58 L333.4,174.61 L333.9,174.64 L334.4,174.67 L334.9,174.69 L335.4,174.71 L335.9,174.72 L336.4,174.74 L336.9,174.75 L337.4,174.76 L337.9,174.76 L338.4,174.77 L338.9,174.78 L339.4,174.78 L339.9,174.78 L340.4,174.79 L340.9,174.79 L341.4,174.79 L341.9,174.79 L342.4,174.79 L342.4,174.8Z" fill="#9fd897" fill-opacity="0.78" style="mix-blend-mode:multiply"/>
<path d="M262.4,174.79 L262.9,174.79 L263.4,174.79 L263.9,174.79 L264.4,174.79 L264.9,174.78 L265.4,174.78 L265.9,174.77 L266.4,174.77 L266.9,174.76 L267.4,174.75 L267.9,174.74 L268.4,174.73 L268.9,174.72 L269.4,174.7 L269.9,174.68 L270.4,174.66 L270.9,174.63 L271.4,174.6 L271.9,174.57 L272.4,174.52 L272.9,174.48 L273.4,174.42 L273.9,174.36 L274.4,174.28 L274.9,174.2 L275.4,174.1 L275.9,174 L276.4,173.87 L276.9,173.73 L277.4,173.58 L277.9,173.4 L278.4,173.21 L278.9,172.99 L279.4,172.75 L279.9,172.48 L280.4,172.18 L280.9,171.86 L281.4,171.5 L281.9,171.11 L282.4,170.68 L282.9,170.22 L283.4,169.72 L283.9,169.18 L284.4,168.59 L284.9,167.97 L285.4,167.3 L285.9,166.6 L286.4,165.84 L286.9,165.05 L287.4,164.22 L287.9,163.34 L288.4,162.43 L288.9,161.47 L289.4,160.49 L289.9,159.47 L290.4,158.43 L290.9,157.36 L291.4,156.27 L291.9,155.17 L292.4,154.06 L292.9,152.94 L293.4,151.83 L293.9,150.73 L294.4,149.64 L294.9,148.57 L295.4,147.54 L295.9,146.53 L296.4,145.57 L296.9,144.67 L297.4,143.81 L297.9,143.02 L298.4,142.3 L298.9,141.65 L299.4,141.07 L299.9,140.59 L300.4,140.18 L300.9,139.87 L301.4,139.65 L301.9,139.53 L302.4,139.5 L302.9,139.57 L303.4,139.73 L303.9,139.99 L304.4,140.33 L304.9,140.77 L305.4,141.29 L305.9,141.9 L306.4,142.58 L306.9,143.33 L307.4,144.15 L307.9,145.02 L308.4,145.95 L308.9,146.93 L309.4,147.95 L309.9,149 L310.4,150.07 L310.9,151.17 L311.4,152.28 L311.9,153.39 L312.4,154.5 L312.9,155.61 L313.4,156.71 L313.9,157.79 L314.4,158.85 L314.9,159.88 L315.4,160.89 L315.9,161.86 L316.4,162.8 L316.9,163.69 L317.4,164.55 L317.9,165.37 L318.4,166.15 L318.9,166.88 L319.4,167.58 L319.9,168.22 L320.4,168.83 L320.9,169.4 L321.4,169.92 L321.9,170.41 L322.4,170.86 L322.9,171.27 L323.4,171.65 L323.9,171.99 L324.4,172.31 L324.9,172.59 L325.4,172.85 L325.9,173.08 L326.4,173.29 L326.9,173.48 L327.4,173.64 L327.9,173.79 L328.4,173.92 L328.9,174.04 L329.4,174.14 L329.9,174.23 L330.4,174.31 L330.9,174.38 L331.4,174.44 L331.9,174.5 L332.4,174.54 L332.9,174.58 L333.4,174.61 L333.9,174.64 L334.4,174.67 L334.9,174.69 L335.4,174.71 L335.9,174.72 L336.4,174.74 L336.9,174.75 L337.4,174.76 L337.9,174.76 L338.4,174.77 L338.9,174.78 L339.4,174.78 L339.9,174.78 L340.4,174.79 L340.9,174.79 L341.4,174.79 L341.9,174.79 L342.4,174.79" fill="none" stroke="#84dd84" stroke-width="0.8" opacity="0.8"/>
<path d="M284.4,174.8 L284.4,174.8 L284.9,174.8 L285.4,174.8 L285.9,174.8 L286.4,174.79 L286.9,174.79 L287.4,174.79 L287.9,174.79 L288.4,174.79 L288.9,174.78 L289.4,174.78 L289.9,174.78 L290.4,174.77 L290.9,174.77 L291.4,174.76 L291.9,174.75 L292.4,174.74 L292.9,174.73 L293.4,174.72 L293.9,174.71 L294.4,174.69 L294.9,174.67 L295.4,174.65 L295.9,174.62 L296.4,174.59 L296.9,174.55 L297.4,174.51 L297.9,174.47 L298.4,174.42 L298.9,174.36 L299.4,174.29 L299.9,174.22 L300.4,174.13 L300.9,174.04 L301.4,173.93 L301.9,173.82 L302.4,173.69 L302.9,173.55 L303.4,173.4 L303.9,173.23 L304.4,173.04 L304.9,172.84 L305.4,172.62 L305.9,172.39 L306.4,172.13 L306.9,171.86 L307.4,171.57 L307.9,171.26 L308.4,170.93 L308.9,170.59 L309.4,170.22 L309.9,169.84 L310.4,169.44 L310.9,169.03 L311.4,168.6 L311.9,168.16 L312.4,167.71 L312.9,167.24 L313.4,166.77 L313.9,166.3 L314.4,165.82 L314.9,165.35 L315.4,164.87 L315.9,164.4 L316.4,163.94 L316.9,163.5 L317.4,163.06 L317.9,162.65 L318.4,162.25 L318.9,161.88 L319.4,161.54 L319.9,161.22 L320.4,160.94 L320.9,160.69 L321.4,160.47 L321.9,160.3 L322.4,160.16 L322.9,160.07 L323.4,160.01 L323.9,160 L324.4,160.03 L324.9,160.1 L325.4,160.21 L325.9,160.36 L326.4,160.56 L326.9,160.78 L327.4,161.05 L327.9,161.34 L328.4,161.67 L328.9,162.03 L329.4,162.41 L329.9,162.81 L330.4,163.23 L330.9,163.67 L331.4,164.13 L331.9,164.59 L332.4,165.06 L332.9,165.54 L333.4,166.01 L333.9,166.49 L334.4,166.96 L334.9,167.43 L335.4,167.89 L335.9,168.34 L336.4,168.77 L336.9,169.2 L337.4,169.6 L337.9,170 L338.4,170.37 L338.9,170.73 L339.4,171.07 L339.9,171.39 L340.4,171.69 L340.9,171.97 L341.4,172.24 L341.9,172.48 L342.4,172.71 L342.9,172.92 L343.4,173.12 L343.9,173.3 L344.4,173.46 L344.9,173.61 L345.4,173.74 L345.9,173.87 L346.4,173.98 L346.9,174.08 L347.4,174.17 L347.9,174.25 L348.4,174.32 L348.9,174.38 L349.4,174.44 L349.9,174.49 L350.4,174.53 L350.9,174.57 L351.4,174.6 L351.9,174.63 L352.4,174.66 L352.9,174.68 L353.4,174.7 L353.9,174.71 L354.4,174.73 L354.9,174.74 L355.4,174.75 L355.9,174.76 L356.4,174.76 L356.9,174.77 L357.4,174.78 L357.9,174.78 L358.4,174.78 L358.9,174.79 L359.4,174.79 L359.9,174.79 L360.4,174.79 L360.9,174.79 L361.4,174.8 L361.9,174.8 L362.4,174.8 L362.9,174.8 L362.9,174.8Z" fill="#e8474a" fill-opacity="0.78" style="mix-blend-mode:multiply"/>
<path d="M284.4,174.8 L284.9,174.8 L285.4,174.8 L285.9,174.8 L286.4,174.79 L286.9,174.79 L287.4,174.79 L287.9,174.79 L288.4,174.79 L288.9,174.78 L289.4,174.78 L289.9,174.78 L290.4,174.77 L290.9,174.77 L291.4,174.76 L291.9,174.75 L292.4,174.74 L292.9,174.73 L293.4,174.72 L293.9,174.71 L294.4,174.69 L294.9,174.67 L295.4,174.65 L295.9,174.62 L296.4,174.59 L296.9,174.55 L297.4,174.51 L297.9,174.47 L298.4,174.42 L298.9,174.36 L299.4,174.29 L299.9,174.22 L300.4,174.13 L300.9,174.04 L301.4,173.93 L301.9,173.82 L302.4,173.69 L302.9,173.55 L303.4,173.4 L303.9,173.23 L304.4,173.04 L304.9,172.84 L305.4,172.62 L305.9,172.39 L306.4,172.13 L306.9,171.86 L307.4,171.57 L307.9,171.26 L308.4,170.93 L308.9,170.59 L309.4,170.22 L309.9,169.84 L310.4,169.44 L310.9,169.03 L311.4,168.6 L311.9,168.16 L312.4,167.71 L312.9,167.24 L313.4,166.77 L313.9,166.3 L314.4,165.82 L314.9,165.35 L315.4,164.87 L315.9,164.4 L316.4,163.94 L316.9,163.5 L317.4,163.06 L317.9,162.65 L318.4,162.25 L318.9,161.88 L319.4,161.54 L319.9,161.22 L320.4,160.94 L320.9,160.69 L321.4,160.47 L321.9,160.3 L322.4,160.16 L322.9,160.07 L323.4,160.01 L323.9,160 L324.4,160.03 L324.9,160.1 L325.4,160.21 L325.9,160.36 L326.4,160.56 L326.9,160.78 L327.4,161.05 L327.9,161.34 L328.4,161.67 L328.9,162.03 L329.4,162.41 L329.9,162.81 L330.4,163.23 L330.9,163.67 L331.4,164.13 L331.9,164.59 L332.4,165.06 L332.9,165.54 L333.4,166.01 L333.9,166.49 L334.4,166.96 L334.9,167.43 L335.4,167.89 L335.9,168.34 L336.4,168.77 L336.9,169.2 L337.4,169.6 L337.9,170 L338.4,170.37 L338.9,170.73 L339.4,171.07 L339.9,171.39 L340.4,171.69 L340.9,171.97 L341.4,172.24 L341.9,172.48 L342.4,172.71 L342.9,172.92 L343.4,173.12 L343.9,173.3 L344.4,173.46 L344.9,173.61 L345.4,173.74 L345.9,173.87 L346.4,173.98 L346.9,174.08 L347.4,174.17 L347.9,174.25 L348.4,174.32 L348.9,174.38 L349.4,174.44 L349.9,174.49 L350.4,174.53 L350.9,174.57 L351.4,174.6 L351.9,174.63 L352.4,174.66 L352.9,174.68 L353.4,174.7 L353.9,174.71 L354.4,174.73 L354.9,174.74 L355.4,174.75 L355.9,174.76 L356.4,174.76 L356.9,174.77 L357.4,174.78 L357.9,174.78 L358.4,174.78 L358.9,174.79 L359.4,174.79 L359.9,174.79 L360.4,174.79 L360.9,174.79 L361.4,174.8 L361.9,174.8 L362.4,174.8 L362.9,174.8" fill="none" stroke="#ff1a1a" stroke-width="0.8" opacity="0.8"/>
<path d="M314.9,174.8 L314.9,174.8 L315.4,174.8 L315.9,174.8 L316.4,174.8 L316.9,174.8 L317.4,174.8 L317.9,174.8 L318.4,174.79 L318.9,174.79 L319.4,174.79 L319.9,174.79 L320.4,174.79 L320.9,174.78 L321.4,174.78 L321.9,174.77 L322.4,174.77 L322.9,174.76 L323.4,174.75 L323.9,174.74 L324.4,174.73 L324.9,174.71 L325.4,174.69 L325.9,174.67 L326.4,174.65 L326.9,174.62 L327.4,174.59 L327.9,174.55 L328.4,174.51 L328.9,174.46 L329.4,174.41 L329.9,174.35 L330.4,174.28 L330.9,174.2 L331.4,174.11 L331.9,174.02 L332.4,173.91 L332.9,173.8 L333.4,173.67 L333.9,173.53 L334.4,173.39 L334.9,173.23 L335.4,173.06 L335.9,172.87 L336.4,172.68 L336.9,172.48 L337.4,172.27 L337.9,172.05 L338.4,171.82 L338.9,171.59 L339.4,171.35 L339.9,171.11 L340.4,170.87 L340.9,170.63 L341.4,170.39 L341.9,170.15 L342.4,169.92 L342.9,169.7 L343.4,169.49 L343.9,169.3 L344.4,169.12 L344.9,168.95 L345.4,168.81 L345.9,168.68 L346.4,168.58 L346.9,168.5 L347.4,168.44 L347.9,168.41 L348.4,168.4 L348.9,168.42 L349.4,168.46 L349.9,168.53 L350.4,168.62 L350.9,168.73 L351.4,168.86 L351.9,169.02 L352.4,169.19 L352.9,169.38 L353.4,169.58 L353.9,169.79 L354.4,170.01 L354.9,170.25 L355.4,170.48 L355.9,170.72 L356.4,170.97 L356.9,171.21 L357.4,171.45 L357.9,171.68 L358.4,171.92 L358.9,172.14 L359.4,172.36 L359.9,172.56 L360.4,172.76 L360.9,172.95 L361.4,173.13 L361.9,173.29 L362.4,173.45 L362.9,173.59 L363.4,173.72 L363.9,173.84 L364.4,173.96 L364.9,174.06 L365.4,174.15 L365.9,174.23 L366.4,174.3 L366.9,174.37 L367.4,174.43 L367.9,174.48 L368.4,174.53 L368.9,174.57 L369.4,174.6 L369.9,174.63 L370.4,174.66 L370.9,174.68 L371.4,174.7 L371.9,174.72 L372.4,174.73 L372.9,174.74 L373.4,174.75 L373.9,174.76 L374.4,174.77 L374.9,174.77 L375.4,174.78 L375.9,174.78 L376.4,174.79 L376.9,174.79 L377.4,174.79 L377.9,174.79 L378.4,174.79 L378.9,174.8 L379.4,174.8 L379.9,174.8 L380.4,174.8 L380.9,174.8 L381.4,174.8 L381.9,174.8 L381.9,174.8Z" fill="#3f3ff0" fill-opacity="0.78" style="mix-blend-mode:multiply"/>
<path d="M314.9,174.8 L315.4,174.8 L315.9,174.8 L316.4,174.8 L316.9,174.8 L317.4,174.8 L317.9,174.8 L318.4,174.79 L318.9,174.79 L319.4,174.79 L319.9,174.79 L320.4,174.79 L320.9,174.78 L321.4,174.78 L321.9,174.77 L322.4,174.77 L322.9,174.76 L323.4,174.75 L323.9,174.74 L324.4,174.73 L324.9,174.71 L325.4,174.69 L325.9,174.67 L326.4,174.65 L326.9,174.62 L327.4,174.59 L327.9,174.55 L328.4,174.51 L328.9,174.46 L329.4,174.41 L329.9,174.35 L330.4,174.28 L330.9,174.2 L331.4,174.11 L331.9,174.02 L332.4,173.91 L332.9,173.8 L333.4,173.67 L333.9,173.53 L334.4,173.39 L334.9,173.23 L335.4,173.06 L335.9,172.87 L336.4,172.68 L336.9,172.48 L337.4,172.27 L337.9,172.05 L338.4,171.82 L338.9,171.59 L339.4,171.35 L339.9,171.11 L340.4,170.87 L340.9,170.63 L341.4,170.39 L341.9,170.15 L342.4,169.92 L342.9,169.7 L343.4,169.49 L343.9,169.3 L344.4,169.12 L344.9,168.95 L345.4,168.81 L345.9,168.68 L346.4,168.58 L346.9,168.5 L347.4,168.44 L347.9,168.41 L348.4,168.4 L348.9,168.42 L349.4,168.46 L349.9,168.53 L350.4,168.62 L350.9,168.73 L351.4,168.86 L351.9,169.02 L352.4,169.19 L352.9,169.38 L353.4,169.58 L353.9,169.79 L354.4,170.01 L354.9,170.25 L355.4,170.48 L355.9,170.72 L356.4,170.97 L356.9,171.21 L357.4,171.45 L357.9,171.68 L358.4,171.92 L358.9,172.14 L359.4,172.36 L359.9,172.56 L360.4,172.76 L360.9,172.95 L361.4,173.13 L361.9,173.29 L362.4,173.45 L362.9,173.59 L363.4,173.72 L363.9,173.84 L364.4,173.96 L364.9,174.06 L365.4,174.15 L365.9,174.23 L366.4,174.3 L366.9,174.37 L367.4,174.43 L367.9,174.48 L368.4,174.53 L368.9,174.57 L369.4,174.6 L369.9,174.63 L370.4,174.66 L370.9,174.68 L371.4,174.7 L371.9,174.72 L372.4,174.73 L372.9,174.74 L373.4,174.75 L373.9,174.76 L374.4,174.77 L374.9,174.77 L375.4,174.78 L375.9,174.78 L376.4,174.79 L376.9,174.79 L377.4,174.79 L377.9,174.79 L378.4,174.79 L378.9,174.8 L379.4,174.8 L379.9,174.8 L380.4,174.8 L380.9,174.8 L381.4,174.8 L381.9,174.8" fill="none" stroke="#2222ff" stroke-width="0.8" opacity="0.8"/>
<path d="M347.4,174.8 L347.4,174.8 L347.9,174.8 L348.4,174.8 L348.9,174.8 L349.4,174.8 L349.9,174.8 L350.4,174.8 L350.9,174.8 L351.4,174.8 L351.9,174.79 L352.4,174.79 L352.9,174.79 L353.4,174.79 L353.9,174.79 L354.4,174.79 L354.9,174.78 L355.4,174.78 L355.9,174.78 L356.4,174.77 L356.9,174.77 L357.4,174.76 L357.9,174.75 L358.4,174.75 L358.9,174.74 L359.4,174.73 L359.9,174.71 L360.4,174.7 L360.9,174.69 L361.4,174.67 L361.9,174.65 L362.4,174.63 L362.9,174.6 L363.4,174.57 L363.9,174.54 L364.4,174.5 L364.9,174.47 L365.4,174.42 L365.9,174.38 L366.4,174.32 L366.9,174.27 L367.4,174.2 L367.9,174.14 L368.4,174.06 L368.9,173.99 L369.4,173.9 L369.9,173.81 L370.4,173.71 L370.9,173.61 L371.4,173.5 L371.9,173.39 L372.4,173.27 L372.9,173.14 L373.4,173.01 L373.9,172.87 L374.4,172.73 L374.9,172.58 L375.4,172.43 L375.9,172.27 L376.4,172.12 L376.9,171.96 L377.4,171.8 L377.9,171.64 L378.4,171.48 L378.9,171.32 L379.4,171.17 L379.9,171.02 L380.4,170.87 L380.9,170.73 L381.4,170.6 L381.9,170.47 L382.4,170.35 L382.9,170.24 L383.4,170.15 L383.9,170.06 L384.4,169.98 L384.9,169.92 L385.4,169.87 L385.9,169.83 L386.4,169.81 L386.9,169.8 L387.4,169.8 L387.9,169.82 L388.4,169.85 L388.9,169.9 L389.4,169.96 L389.9,170.03 L390.4,170.11 L390.9,170.2 L391.4,170.31 L391.9,170.42 L392.4,170.55 L392.9,170.68 L393.4,170.82 L393.9,170.96 L394.4,171.11 L394.9,171.26 L395.4,171.42 L395.9,171.58 L396.4,171.74 L396.9,171.89 L397.4,172.05 L397.9,172.21 L398.4,172.37 L398.9,172.52 L399.4,172.67 L399.9,172.81 L400.4,172.95 L400.9,173.09 L401.4,173.21 L401.9,173.34 L402.4,173.46 L402.9,173.57 L403.4,173.67 L403.9,173.77 L404.4,173.87 L404.9,173.95 L405.4,174.03 L405.9,174.11 L406.4,174.18 L406.9,174.24 L407.4,174.3 L407.9,174.36 L408.4,174.4 L408.9,174.45 L409.4,174.49 L409.9,174.53 L410.4,174.56 L410.9,174.59 L411.4,174.62 L411.9,174.64 L412.4,174.66 L412.9,174.68 L413.4,174.69 L413.9,174.71 L414.4,174.72 L414.9,174.73 L415.4,174.74 L415.9,174.75 L416.4,174.76 L416.9,174.76 L417.4,174.77 L417.9,174.77 L418.4,174.78 L418.9,174.78 L419.4,174.79 L419.9,174.79 L420.4,174.79 L420.9,174.79 L421.4,174.79 L421.9,174.79 L422.4,174.8 L422.9,174.8 L423.4,174.8 L423.9,174.8 L424.4,174.8 L424.9,174.8 L425.4,174.8 L425.9,174.8 L426.4,174.8 L426.9,174.8 L426.9,174.8Z" fill="#e040e0" fill-opacity="0.78" style="mix-blend-mode:multiply"/>
<path d="M347.4,174.8 L347.9,174.8 L348.4,174.8 L348.9,174.8 L349.4,174.8 L349.9,174.8 L350.4,174.8 L350.9,174.8 L351.4,174.8 L351.9,174.79 L352.4,174.79 L352.9,174.79 L353.4,174.79 L353.9,174.79 L354.4,174.79 L354.9,174.78 L355.4,174.78 L355.9,174.78 L356.4,174.77 L356.9,174.77 L357.4,174.76 L357.9,174.75 L358.4,174.75 L358.9,174.74 L359.4,174.73 L359.9,174.71 L360.4,174.7 L360.9,174.69 L361.4,174.67 L361.9,174.65 L362.4,174.63 L362.9,174.6 L363.4,174.57 L363.9,174.54 L364.4,174.5 L364.9,174.47 L365.4,174.42 L365.9,174.38 L366.4,174.32 L366.9,174.27 L367.4,174.2 L367.9,174.14 L368.4,174.06 L368.9,173.99 L369.4,173.9 L369.9,173.81 L370.4,173.71 L370.9,173.61 L371.4,173.5 L371.9,173.39 L372.4,173.27 L372.9,173.14 L373.4,173.01 L373.9,172.87 L374.4,172.73 L374.9,172.58 L375.4,172.43 L375.9,172.27 L376.4,172.12 L376.9,171.96 L377.4,171.8 L377.9,171.64 L378.4,171.48 L378.9,171.32 L379.4,171.17 L379.9,171.02 L380.4,170.87 L380.9,170.73 L381.4,170.6 L381.9,170.47 L382.4,170.35 L382.9,170.24 L383.4,170.15 L383.9,170.06 L384.4,169.98 L384.9,169.92 L385.4,169.87 L385.9,169.83 L386.4,169.81 L386.9,169.8 L387.4,169.8 L387.9,169.82 L388.4,169.85 L388.9,169.9 L389.4,169.96 L389.9,170.03 L390.4,170.11 L390.9,170.2 L391.4,170.31 L391.9,170.42 L392.4,170.55 L392.9,170.68 L393.4,170.82 L393.9,170.96 L394.4,171.11 L394.9,171.26 L395.4,171.42 L395.9,171.58 L396.4,171.74 L396.9,171.89 L397.4,172.05 L397.9,172.21 L398.4,172.37 L398.9,172.52 L399.4,172.67 L399.9,172.81 L400.4,172.95 L400.9,173.09 L401.4,173.21 L401.9,173.34 L402.4,173.46 L402.9,173.57 L403.4,173.67 L403.9,173.77 L404.4,173.87 L404.9,173.95 L405.4,174.03 L405.9,174.11 L406.4,174.18 L406.9,174.24 L407.4,174.3 L407.9,174.36 L408.4,174.4 L408.9,174.45 L409.4,174.49 L409.9,174.53 L410.4,174.56 L410.9,174.59 L411.4,174.62 L411.9,174.64 L412.4,174.66 L412.9,174.68 L413.4,174.69 L413.9,174.71 L414.4,174.72 L414.9,174.73 L415.4,174.74 L415.9,174.75 L416.4,174.76 L416.9,174.76 L417.4,174.77 L417.9,174.77 L418.4,174.78 L418.9,174.78 L419.4,174.79 L419.9,174.79 L420.4,174.79 L420.9,174.79 L421.4,174.79 L421.9,174.79 L422.4,174.8 L422.9,174.8 L423.4,174.8 L423.9,174.8 L424.4,174.8 L424.9,174.8 L425.4,174.8 L425.9,174.8 L426.4,174.8 L426.9,174.8" fill="none" stroke="#ff33ff" stroke-width="0.8" opacity="0.8"/>
<path d="M332.9,174.8 L332.9,174.8 L333.4,174.8 L333.9,174.8 L334.4,174.8 L334.9,174.79 L335.4,174.79 L335.9,174.79 L336.4,174.79 L336.9,174.79 L337.4,174.78 L337.9,174.78 L338.4,174.78 L338.9,174.77 L339.4,174.76 L339.9,174.76 L340.4,174.75 L340.9,174.74 L341.4,174.72 L341.9,174.71 L342.4,174.69 L342.9,174.67 L343.4,174.65 L343.9,174.62 L344.4,174.59 L344.9,174.55 L345.4,174.51 L345.9,174.46 L346.4,174.4 L346.9,174.34 L347.4,174.27 L347.9,174.19 L348.4,174.09 L348.9,173.99 L349.4,173.88 L349.9,173.75 L350.4,173.61 L350.9,173.45 L351.4,173.28 L351.9,173.09 L352.4,172.88 L352.9,172.66 L353.4,172.42 L353.9,172.15 L354.4,171.87 L354.9,171.57 L355.4,171.24 L355.9,170.9 L356.4,170.54 L356.9,170.15 L357.4,169.75 L357.9,169.33 L358.4,168.89 L358.9,168.44 L359.4,167.98 L359.9,167.5 L360.4,167.01 L360.9,166.52 L361.4,166.02 L361.9,165.52 L362.4,165.03 L362.9,164.54 L363.4,164.05 L363.9,163.58 L364.4,163.13 L364.9,162.69 L365.4,162.28 L365.9,161.89 L366.4,161.53 L366.9,161.2 L367.4,160.91 L367.9,160.65 L368.4,160.44 L368.9,160.26 L369.4,160.13 L369.9,160.04 L370.4,160 L370.9,160.01 L371.4,160.06 L371.9,160.15 L372.4,160.29 L372.9,160.48 L373.4,160.7 L373.9,160.96 L374.4,161.26 L374.9,161.6 L375.4,161.96 L375.9,162.36 L376.4,162.78 L376.9,163.22 L377.4,163.67 L377.9,164.15 L378.4,164.63 L378.9,165.13 L379.4,165.62 L379.9,166.12 L380.4,166.62 L380.9,167.11 L381.4,167.6 L381.9,168.07 L382.4,168.53 L382.9,168.98 L383.4,169.42 L383.9,169.83 L384.4,170.23 L384.9,170.61 L385.4,170.97 L385.9,171.31 L386.4,171.63 L386.9,171.93 L387.4,172.21 L387.9,172.47 L388.4,172.71 L388.9,172.93 L389.4,173.13 L389.9,173.32 L390.4,173.48 L390.9,173.64 L391.4,173.78 L391.9,173.9 L392.4,174.01 L392.9,174.11 L393.4,174.2 L393.9,174.28 L394.4,174.35 L394.9,174.41 L395.4,174.47 L395.9,174.52 L396.4,174.56 L396.9,174.59 L397.4,174.62 L397.9,174.65 L398.4,174.67 L398.9,174.69 L399.4,174.71 L399.9,174.73 L400.4,174.74 L400.9,174.75 L401.4,174.76 L401.9,174.77 L402.4,174.77 L402.9,174.78 L403.4,174.78 L403.9,174.78 L404.4,174.79 L404.9,174.79 L405.4,174.79 L405.9,174.79 L406.4,174.79 L406.9,174.8 L407.4,174.8 L407.9,174.8 L408.4,174.8 L408.4,174.8Z" fill="#f2a040" fill-opacity="0.78" style="mix-blend-mode:multiply"/>
<path d="M332.9,174.8 L333.4,174.8 L333.9,174.8 L334.4,174.8 L334.9,174.79 L335.4,174.79 L335.9,174.79 L336.4,174.79 L336.9,174.79 L337.4,174.78 L337.9,174.78 L338.4,174.78 L338.9,174.77 L339.4,174.76 L339.9,174.76 L340.4,174.75 L340.9,174.74 L341.4,174.72 L341.9,174.71 L342.4,174.69 L342.9,174.67 L343.4,174.65 L343.9,174.62 L344.4,174.59 L344.9,174.55 L345.4,174.51 L345.9,174.46 L346.4,174.4 L346.9,174.34 L347.4,174.27 L347.9,174.19 L348.4,174.09 L348.9,173.99 L349.4,173.88 L349.9,173.75 L350.4,173.61 L350.9,173.45 L351.4,173.28 L351.9,173.09 L352.4,172.88 L352.9,172.66 L353.4,172.42 L353.9,172.15 L354.4,171.87 L354.9,171.57 L355.4,171.24 L355.9,170.9 L356.4,170.54 L356.9,170.15 L357.4,169.75 L357.9,169.33 L358.4,168.89 L358.9,168.44 L359.4,167.98 L359.9,167.5 L360.4,167.01 L360.9,166.52 L361.4,166.02 L361.9,165.52 L362.4,165.03 L362.9,164.54 L363.4,164.05 L363.9,163.58 L364.4,163.13 L364.9,162.69 L365.4,162.28 L365.9,161.89 L366.4,161.53 L366.9,161.2 L367.4,160.91 L367.9,160.65 L368.4,160.44 L368.9,160.26 L369.4,160.13 L369.9,160.04 L370.4,160 L370.9,160.01 L371.4,160.06 L371.9,160.15 L372.4,160.29 L372.9,160.48 L373.4,160.7 L373.9,160.96 L374.4,161.26 L374.9,161.6 L375.4,161.96 L375.9,162.36 L376.4,162.78 L376.9,163.22 L377.4,163.67 L377.9,164.15 L378.4,164.63 L378.9,165.13 L379.4,165.62 L379.9,166.12 L380.4,166.62 L380.9,167.11 L381.4,167.6 L381.9,168.07 L382.4,168.53 L382.9,168.98 L383.4,169.42 L383.9,169.83 L384.4,170.23 L384.9,170.61 L385.4,170.97 L385.9,171.31 L386.4,171.63 L386.9,171.93 L387.4,172.21 L387.9,172.47 L388.4,172.71 L388.9,172.93 L389.4,173.13 L389.9,173.32 L390.4,173.48 L390.9,173.64 L391.4,173.78 L391.9,173.9 L392.4,174.01 L392.9,174.11 L393.4,174.2 L393.9,174.28 L394.4,174.35 L394.9,174.41 L395.4,174.47 L395.9,174.52 L396.4,174.56 L396.9,174.59 L397.4,174.62 L397.9,174.65 L398.4,174.67 L398.9,174.69 L399.4,174.71 L399.9,174.73 L400.4,174.74 L400.9,174.75 L401.4,174.76 L401.9,174.77 L402.4,174.77 L402.9,174.78 L403.4,174.78 L403.9,174.78 L404.4,174.79 L404.9,174.79 L405.4,174.79 L405.9,174.79 L406.4,174.79 L406.9,174.8 L407.4,174.8 L407.9,174.8 L408.4,174.8" fill="none" stroke="#f08a20" stroke-width="0.8" opacity="0.8"/>
<path d="M261.4,174.2 L261.9,174.19 L262.4,174.19 L262.9,174.19 L263.4,174.19 L263.9,174.19 L264.4,174.19 L264.9,174.18 L265.4,174.18 L265.9,174.17 L266.4,174.17 L266.9,174.16 L267.4,174.15 L267.9,174.14 L268.4,174.13 L268.9,174.12 L269.4,174.1 L269.9,174.08 L270.4,174.06 L270.9,174.03 L271.4,174 L271.9,173.97 L272.4,173.92 L272.9,173.88 L273.4,173.82 L273.9,173.76 L274.4,173.68 L274.9,173.6 L275.4,173.5 L275.9,173.4 L276.4,173.27 L276.9,173.13 L277.4,172.98 L277.9,172.8 L278.4,172.61 L278.9,172.39 L279.4,172.15 L279.9,171.88 L280.4,171.58 L280.9,171.26 L281.4,170.9 L281.9,170.51 L282.4,170.08 L282.9,169.62 L283.4,169.12 L283.9,168.57 L284.4,167.99 L284.9,167.37 L285.4,166.7 L285.9,165.99 L286.4,165.24 L286.9,164.44 L287.4,163.61 L287.9,162.73 L288.4,161.81 L288.9,160.86 L289.4,159.87 L289.9,158.85 L290.4,157.8 L290.9,156.73 L291.4,155.63 L291.9,154.52 L292.4,153.4 L292.9,152.28 L293.4,151.15 L293.9,150.03 L294.4,148.93 L294.9,147.84 L295.4,146.78 L295.9,145.75 L296.4,144.76 L296.9,143.82 L297.4,142.92 L297.9,142.09 L298.4,141.31 L298.9,140.6 L299.4,139.96 L299.9,139.4 L300.4,138.92 L300.9,138.51 L301.4,138.19 L301.9,137.95 L302.4,137.79 L302.9,137.72 L303.4,137.73 L303.9,137.81 L304.4,137.98 L304.9,138.21 L305.4,138.51 L305.9,138.88 L306.4,139.31 L306.9,139.79 L307.4,140.32 L307.9,140.88 L308.4,141.49 L308.9,142.12 L309.4,142.77 L309.9,143.44 L310.4,144.11 L310.9,144.8 L311.4,145.48 L311.9,146.15 L312.4,146.81 L312.9,147.46 L313.4,148.08 L313.9,148.69 L314.4,149.27 L314.9,149.83 L315.4,150.36 L315.9,150.86 L316.4,151.34 L316.9,151.79 L317.4,152.21 L317.9,152.61 L318.4,153 L318.9,153.36 L319.4,153.7 L319.9,154.03 L320.4,154.35 L320.9,154.67 L321.4,154.97 L321.9,155.28 L322.4,155.59 L322.9,155.9 L323.4,156.21 L323.9,156.53 L324.4,156.86 L324.9,157.2 L325.4,157.55 L325.9,157.92 L326.4,158.29 L326.9,158.68 L327.4,159.08 L327.9,159.49 L328.4,159.9 L328.9,160.33 L329.4,160.76 L329.9,161.19 L330.4,161.62 L330.9,162.05 L331.4,162.48 L331.9,162.9 L332.4,163.31 L332.9,163.71 L333.4,164.1 L333.9,164.46 L334.4,164.81 L334.9,165.14 L335.4,165.44 L335.9,165.73 L336.4,165.98 L336.9,166.21 L337.4,166.41 L337.9,166.59 L338.4,166.74 L338.9,166.86 L339.4,166.96 L339.9,167.04 L340.4,167.09 L340.9,167.12 L341.4,167.14 L341.9,167.14 L342.4,167.12 L342.9,167.09 L343.4,167.05 L343.9,167.01 L344.4,166.96 L344.9,166.91 L345.4,166.86 L345.9,166.8 L346.4,166.76 L346.9,166.71 L347.4,166.67 L347.9,166.64 L348.4,166.61 L348.9,166.59 L349.4,166.57 L349.9,166.56 L350.4,166.55 L350.9,166.54 L351.4,166.54 L351.9,166.53 L352.4,166.52 L352.9,166.5 L353.4,166.48 L353.9,166.45 L354.4,166.4 L354.9,166.34 L355.4,166.26 L355.9,166.16 L356.4,166.04 L356.9,165.9 L357.4,165.74 L357.9,165.55 L358.4,165.34 L358.9,165.11 L359.4,164.85 L359.9,164.57 L360.4,164.27 L360.9,163.95 L361.4,163.61 L361.9,163.26 L362.4,162.9 L362.9,162.52 L363.4,162.14 L363.9,161.76 L364.4,161.39 L364.9,161.01 L365.4,160.65 L365.9,160.29 L366.4,159.96 L366.9,159.64 L367.4,159.34 L367.9,159.07 L368.4,158.83 L368.9,158.61 L369.4,158.43 L369.9,158.29 L370.4,158.18 L370.9,158.1 L371.4,158.06 L371.9,158.06 L372.4,158.09 L372.9,158.16 L373.4,158.26 L373.9,158.39 L374.4,158.56 L374.9,158.75 L375.4,158.97 L375.9,159.21 L376.4,159.48 L376.9,159.76 L377.4,160.07 L377.9,160.38 L378.4,160.71 L378.9,161.05 L379.4,161.39 L379.9,161.74 L380.4,162.09 L380.9,162.44 L381.4,162.79 L381.9,163.14 L382.4,163.49 L382.9,163.83 L383.4,164.16 L383.9,164.49 L384.4,164.82 L384.9,165.13 L385.4,165.44 L385.9,165.74 L386.4,166.04 L386.9,166.33 L387.4,166.61 L387.9,166.89 L388.4,167.16 L388.9,167.43 L389.4,167.69 L389.9,167.94 L390.4,168.19 L390.9,168.44 L391.4,168.68 L391.9,168.92 L392.4,169.16 L392.9,169.39 L393.4,169.62 L393.9,169.84 L394.4,170.06 L394.9,170.27 L395.4,170.49 L395.9,170.69 L396.4,170.89 L396.9,171.09 L397.4,171.28 L397.9,171.46 L398.4,171.64 L398.9,171.81 L399.4,171.98 L399.9,172.14 L400.4,172.29 L400.9,172.43 L401.4,172.57 L401.9,172.7 L402.4,172.83 L402.9,172.94 L403.4,173.05 L403.9,173.16 L404.4,173.25 L404.9,173.34 L405.4,173.43 L405.9,173.5 L406.4,173.57 L406.9,173.64 L407.4,173.7 L407.9,173.75 L408.4,173.8 L408.9,173.85 L409.4,173.89 L409.9,173.93 L410.4,173.96 L410.9,173.99 L411.4,174.01 L411.9,174.04 L412.4,174.06 L412.9,174.08 L413.4,174.09 L413.9,174.11 L414.4,174.12 L414.9,174.13 L415.4,174.14 L415.9,174.15 L416.4,174.16 L416.9,174.16 L417.4,174.17 L417.9,174.17 L418.4,174.18 L418.9,174.18 L419.4,174.19 L419.9,174.19 L420.4,174.19 L420.9,174.19 L421.4,174.19 L421.9,174.19 L422.4,174.2 L422.9,174.2 L423.4,174.2 L423.9,174.2 L424.4,174.2 L424.9,174.2 L425.4,174.2 L425.9,174.2 L426.4,174.2 L426.9,174.2 L427.4,174.2 L427.9,174.2 L428.4,174.2 L428.9,174.2 L429.4,174.2 L429.9,174.2 L430.4,174.2 L430.9,174.2 L431.4,174.2 L431.9,174.2" fill="none" stroke="#222" stroke-width="1.0" stroke-dasharray="2.8,2.0"/>
<line x1="261.4" y1="174.8" x2="431.9" y2="174.8" stroke="#ff44ff" stroke-width="1.3" />
<path d="M262.9,218.2 L262.9,218.19 L263.4,218.19 L263.9,218.19 L264.4,218.19 L264.9,218.19 L265.4,218.18 L265.9,218.18 L266.4,218.18 L266.9,218.17 L267.4,218.17 L267.9,218.16 L268.4,218.15 L268.9,218.14 L269.4,218.13 L269.9,218.12 L270.4,218.11 L270.9,218.09 L271.4,218.07 L271.9,218.05 L272.4,218.02 L272.9,217.99 L273.4,217.96 L273.9,217.92 L274.4,217.88 L274.9,217.82 L275.4,217.77 L275.9,217.7 L276.4,217.63 L276.9,217.54 L277.4,217.45 L277.9,217.34 L278.4,217.22 L278.9,217.09 L279.4,216.94 L279.9,216.78 L280.4,216.6 L280.9,216.39 L281.4,216.17 L281.9,215.93 L282.4,215.66 L282.9,215.37 L283.4,215.05 L283.9,214.71 L284.4,214.33 L284.9,213.93 L285.4,213.49 L285.9,213.02 L286.4,212.52 L286.9,211.98 L287.4,211.41 L287.9,210.8 L288.4,210.16 L288.9,209.48 L289.4,208.76 L289.9,208.01 L290.4,207.23 L290.9,206.41 L291.4,205.56 L291.9,204.68 L292.4,203.77 L292.9,202.84 L293.4,201.88 L293.9,200.91 L294.4,199.92 L294.9,198.91 L295.4,197.9 L295.9,196.89 L296.4,195.88 L296.9,194.87 L297.4,193.87 L297.9,192.89 L298.4,191.93 L298.9,191 L299.4,190.1 L299.9,189.23 L300.4,188.41 L300.9,187.64 L301.4,186.92 L301.9,186.25 L302.4,185.65 L302.9,185.11 L303.4,184.64 L303.9,184.24 L304.4,183.92 L304.9,183.67 L305.4,183.5 L305.9,183.41 L306.4,183.41 L306.9,183.48 L307.4,183.63 L307.9,183.86 L308.4,184.17 L308.9,184.55 L309.4,185.01 L309.9,185.53 L310.4,186.13 L310.9,186.78 L311.4,187.49 L311.9,188.25 L312.4,189.07 L312.9,189.92 L313.4,190.82 L313.9,191.74 L314.4,192.7 L314.9,193.67 L315.4,194.67 L315.9,195.67 L316.4,196.69 L316.9,197.7 L317.4,198.71 L317.9,199.72 L318.4,200.71 L318.9,201.69 L319.4,202.65 L319.9,203.59 L320.4,204.5 L320.9,205.38 L321.4,206.24 L321.9,207.06 L322.4,207.86 L322.9,208.61 L323.4,209.34 L323.9,210.02 L324.4,210.67 L324.9,211.29 L325.4,211.87 L325.9,212.41 L326.4,212.92 L326.9,213.4 L327.4,213.84 L327.9,214.25 L328.4,214.63 L328.9,214.99 L329.4,215.31 L329.9,215.61 L330.4,215.88 L330.9,216.13 L331.4,216.35 L331.9,216.56 L332.4,216.74 L332.9,216.91 L333.4,217.06 L333.9,217.2 L334.4,217.32 L334.9,217.43 L335.4,217.52 L335.9,217.61 L336.4,217.69 L336.9,217.75 L337.4,217.81 L337.9,217.87 L338.4,217.91 L338.9,217.95 L339.4,217.99 L339.9,218.02 L340.4,218.04 L340.9,218.07 L341.4,218.09 L341.9,218.1 L342.4,218.12 L342.9,218.13 L343.4,218.14 L343.9,218.15 L344.4,218.16 L344.9,218.17 L345.4,218.17 L345.9,218.18 L346.4,218.18 L346.9,218.18 L347.4,218.19 L347.9,218.19 L348.4,218.19 L348.9,218.19 L349.4,218.19 L349.4,218.2Z" fill="#9fd897" fill-opacity="0.78" style="mix-blend-mode:multiply"/>
<path d="M262.9,218.19 L263.4,218.19 L263.9,218.19 L264.4,218.19 L264.9,218.19 L265.4,218.18 L265.9,218.18 L266.4,218.18 L266.9,218.17 L267.4,218.17 L267.9,218.16 L268.4,218.15 L268.9,218.14 L269.4,218.13 L269.9,218.12 L270.4,218.11 L270.9,218.09 L271.4,218.07 L271.9,218.05 L272.4,218.02 L272.9,217.99 L273.4,217.96 L273.9,217.92 L274.4,217.88 L274.9,217.82 L275.4,217.77 L275.9,217.7 L276.4,217.63 L276.9,217.54 L277.4,217.45 L277.9,217.34 L278.4,217.22 L278.9,217.09 L279.4,216.94 L279.9,216.78 L280.4,216.6 L280.9,216.39 L281.4,216.17 L281.9,215.93 L282.4,215.66 L282.9,215.37 L283.4,215.05 L283.9,214.71 L284.4,214.33 L284.9,213.93 L285.4,213.49 L285.9,213.02 L286.4,212.52 L286.9,211.98 L287.4,211.41 L287.9,210.8 L288.4,210.16 L288.9,209.48 L289.4,208.76 L289.9,208.01 L290.4,207.23 L290.9,206.41 L291.4,205.56 L291.9,204.68 L292.4,203.77 L292.9,202.84 L293.4,201.88 L293.9,200.91 L294.4,199.92 L294.9,198.91 L295.4,197.9 L295.9,196.89 L296.4,195.88 L296.9,194.87 L297.4,193.87 L297.9,192.89 L298.4,191.93 L298.9,191 L299.4,190.1 L299.9,189.23 L300.4,188.41 L300.9,187.64 L301.4,186.92 L301.9,186.25 L302.4,185.65 L302.9,185.11 L303.4,184.64 L303.9,184.24 L304.4,183.92 L304.9,183.67 L305.4,183.5 L305.9,183.41 L306.4,183.41 L306.9,183.48 L307.4,183.63 L307.9,183.86 L308.4,184.17 L308.9,184.55 L309.4,185.01 L309.9,185.53 L310.4,186.13 L310.9,186.78 L311.4,187.49 L311.9,188.25 L312.4,189.07 L312.9,189.92 L313.4,190.82 L313.9,191.74 L314.4,192.7 L314.9,193.67 L315.4,194.67 L315.9,195.67 L316.4,196.69 L316.9,197.7 L317.4,198.71 L317.9,199.72 L318.4,200.71 L318.9,201.69 L319.4,202.65 L319.9,203.59 L320.4,204.5 L320.9,205.38 L321.4,206.24 L321.9,207.06 L322.4,207.86 L322.9,208.61 L323.4,209.34 L323.9,210.02 L324.4,210.67 L324.9,211.29 L325.4,211.87 L325.9,212.41 L326.4,212.92 L326.9,213.4 L327.4,213.84 L327.9,214.25 L328.4,214.63 L328.9,214.99 L329.4,215.31 L329.9,215.61 L330.4,215.88 L330.9,216.13 L331.4,216.35 L331.9,216.56 L332.4,216.74 L332.9,216.91 L333.4,217.06 L333.9,217.2 L334.4,217.32 L334.9,217.43 L335.4,217.52 L335.9,217.61 L336.4,217.69 L336.9,217.75 L337.4,217.81 L337.9,217.87 L338.4,217.91 L338.9,217.95 L339.4,217.99 L339.9,218.02 L340.4,218.04 L340.9,218.07 L341.4,218.09 L341.9,218.1 L342.4,218.12 L342.9,218.13 L343.4,218.14 L343.9,218.15 L344.4,218.16 L344.9,218.17 L345.4,218.17 L345.9,218.18 L346.4,218.18 L346.9,218.18 L347.4,218.19 L347.9,218.19 L348.4,218.19 L348.9,218.19 L349.4,218.19" fill="none" stroke="#84dd84" stroke-width="0.8" opacity="0.8"/>
<path d="M293.9,218.2 L293.9,218.2 L294.4,218.2 L294.9,218.2 L295.4,218.2 L295.9,218.2 L296.4,218.2 L296.9,218.2 L297.4,218.2 L297.9,218.2 L298.4,218.19 L298.9,218.19 L299.4,218.19 L299.9,218.19 L300.4,218.19 L300.9,218.19 L301.4,218.18 L301.9,218.18 L302.4,218.18 L302.9,218.17 L303.4,218.17 L303.9,218.17 L304.4,218.16 L304.9,218.15 L305.4,218.15 L305.9,218.14 L306.4,218.13 L306.9,218.12 L307.4,218.1 L307.9,218.09 L308.4,218.08 L308.9,218.06 L309.4,218.04 L309.9,218.02 L310.4,217.99 L310.9,217.96 L311.4,217.93 L311.9,217.9 L312.4,217.86 L312.9,217.82 L313.4,217.78 L313.9,217.73 L314.4,217.67 L314.9,217.62 L315.4,217.55 L315.9,217.48 L316.4,217.41 L316.9,217.33 L317.4,217.25 L317.9,217.15 L318.4,217.06 L318.9,216.95 L319.4,216.84 L319.9,216.73 L320.4,216.6 L320.9,216.47 L321.4,216.34 L321.9,216.2 L322.4,216.05 L322.9,215.9 L323.4,215.74 L323.9,215.58 L324.4,215.41 L324.9,215.24 L325.4,215.06 L325.9,214.89 L326.4,214.71 L326.9,214.52 L327.4,214.34 L327.9,214.16 L328.4,213.98 L328.9,213.8 L329.4,213.63 L329.9,213.45 L330.4,213.29 L330.9,213.12 L331.4,212.97 L331.9,212.82 L332.4,212.68 L332.9,212.55 L333.4,212.43 L333.9,212.32 L334.4,212.22 L334.9,212.14 L335.4,212.06 L335.9,212 L336.4,211.96 L336.9,211.92 L337.4,211.9 L337.9,211.9 L338.4,211.91 L338.9,211.93 L339.4,211.97 L339.9,212.02 L340.4,212.09 L340.9,212.17 L341.4,212.26 L341.9,212.36 L342.4,212.48 L342.9,212.6 L343.4,212.74 L343.9,212.88 L344.4,213.03 L344.9,213.19 L345.4,213.35 L345.9,213.52 L346.4,213.7 L346.9,213.87 L347.4,214.05 L347.9,214.23 L348.4,214.42 L348.9,214.6 L349.4,214.78 L349.9,214.96 L350.4,215.13 L350.9,215.31 L351.4,215.48 L351.9,215.64 L352.4,215.8 L352.9,215.96 L353.4,216.11 L353.9,216.26 L354.4,216.39 L354.9,216.53 L355.4,216.65 L355.9,216.77 L356.4,216.89 L356.9,217 L357.4,217.1 L357.9,217.19 L358.4,217.28 L358.9,217.36 L359.4,217.44 L359.9,217.51 L360.4,217.58 L360.9,217.64 L361.4,217.7 L361.9,217.75 L362.4,217.8 L362.9,217.84 L363.4,217.88 L363.9,217.91 L364.4,217.95 L364.9,217.97 L365.4,218 L365.9,218.02 L366.4,218.05 L366.9,218.06 L367.4,218.08 L367.9,218.1 L368.4,218.11 L368.9,218.12 L369.4,218.13 L369.9,218.14 L370.4,218.15 L370.9,218.16 L371.4,218.16 L371.9,218.17 L372.4,218.17 L372.9,218.18 L373.4,218.18 L373.9,218.18 L374.4,218.19 L374.9,218.19 L375.4,218.19 L375.9,218.19 L376.4,218.19 L376.9,218.19 L377.4,218.19 L377.9,218.2 L378.4,218.2 L378.9,218.2 L379.4,218.2 L379.9,218.2 L380.4,218.2 L380.9,218.2 L381.4,218.2 L381.9,218.2 L381.9,218.2Z" fill="#3f3ff0" fill-opacity="0.78" style="mix-blend-mode:multiply"/>
<path d="M293.9,218.2 L294.4,218.2 L294.9,218.2 L295.4,218.2 L295.9,218.2 L296.4,218.2 L296.9,218.2 L297.4,218.2 L297.9,218.2 L298.4,218.19 L298.9,218.19 L299.4,218.19 L299.9,218.19 L300.4,218.19 L300.9,218.19 L301.4,218.18 L301.9,218.18 L302.4,218.18 L302.9,218.17 L303.4,218.17 L303.9,218.17 L304.4,218.16 L304.9,218.15 L305.4,218.15 L305.9,218.14 L306.4,218.13 L306.9,218.12 L307.4,218.1 L307.9,218.09 L308.4,218.08 L308.9,218.06 L309.4,218.04 L309.9,218.02 L310.4,217.99 L310.9,217.96 L311.4,217.93 L311.9,217.9 L312.4,217.86 L312.9,217.82 L313.4,217.78 L313.9,217.73 L314.4,217.67 L314.9,217.62 L315.4,217.55 L315.9,217.48 L316.4,217.41 L316.9,217.33 L317.4,217.25 L317.9,217.15 L318.4,217.06 L318.9,216.95 L319.4,216.84 L319.9,216.73 L320.4,216.6 L320.9,216.47 L321.4,216.34 L321.9,216.2 L322.4,216.05 L322.9,215.9 L323.4,215.74 L323.9,215.58 L324.4,215.41 L324.9,215.24 L325.4,215.06 L325.9,214.89 L326.4,214.71 L326.9,214.52 L327.4,214.34 L327.9,214.16 L328.4,213.98 L328.9,213.8 L329.4,213.63 L329.9,213.45 L330.4,213.29 L330.9,213.12 L331.4,212.97 L331.9,212.82 L332.4,212.68 L332.9,212.55 L333.4,212.43 L333.9,212.32 L334.4,212.22 L334.9,212.14 L335.4,212.06 L335.9,212 L336.4,211.96 L336.9,211.92 L337.4,211.9 L337.9,211.9 L338.4,211.91 L338.9,211.93 L339.4,211.97 L339.9,212.02 L340.4,212.09 L340.9,212.17 L341.4,212.26 L341.9,212.36 L342.4,212.48 L342.9,212.6 L343.4,212.74 L343.9,212.88 L344.4,213.03 L344.9,213.19 L345.4,213.35 L345.9,213.52 L346.4,213.7 L346.9,213.87 L347.4,214.05 L347.9,214.23 L348.4,214.42 L348.9,214.6 L349.4,214.78 L349.9,214.96 L350.4,215.13 L350.9,215.31 L351.4,215.48 L351.9,215.64 L352.4,215.8 L352.9,215.96 L353.4,216.11 L353.9,216.26 L354.4,216.39 L354.9,216.53 L355.4,216.65 L355.9,216.77 L356.4,216.89 L356.9,217 L357.4,217.1 L357.9,217.19 L358.4,217.28 L358.9,217.36 L359.4,217.44 L359.9,217.51 L360.4,217.58 L360.9,217.64 L361.4,217.7 L361.9,217.75 L362.4,217.8 L362.9,217.84 L363.4,217.88 L363.9,217.91 L364.4,217.95 L364.9,217.97 L365.4,218 L365.9,218.02 L366.4,218.05 L366.9,218.06 L367.4,218.08 L367.9,218.1 L368.4,218.11 L368.9,218.12 L369.4,218.13 L369.9,218.14 L370.4,218.15 L370.9,218.16 L371.4,218.16 L371.9,218.17 L372.4,218.17 L372.9,218.18 L373.4,218.18 L373.9,218.18 L374.4,218.19 L374.9,218.19 L375.4,218.19 L375.9,218.19 L376.4,218.19 L376.9,218.19 L377.4,218.19 L377.9,218.2 L378.4,218.2 L378.9,218.2 L379.4,218.2 L379.9,218.2 L380.4,218.2 L380.9,218.2 L381.4,218.2 L381.9,218.2" fill="none" stroke="#2222ff" stroke-width="0.8" opacity="0.8"/>
<path d="M344.9,218.2 L344.9,218.2 L345.4,218.2 L345.9,218.2 L346.4,218.2 L346.9,218.2 L347.4,218.2 L347.9,218.2 L348.4,218.2 L348.9,218.2 L349.4,218.2 L349.9,218.19 L350.4,218.19 L350.9,218.19 L351.4,218.19 L351.9,218.19 L352.4,218.19 L352.9,218.18 L353.4,218.18 L353.9,218.18 L354.4,218.17 L354.9,218.17 L355.4,218.17 L355.9,218.16 L356.4,218.15 L356.9,218.14 L357.4,218.14 L357.9,218.12 L358.4,218.11 L358.9,218.1 L359.4,218.08 L359.9,218.07 L360.4,218.05 L360.9,218.03 L361.4,218 L361.9,217.98 L362.4,217.95 L362.9,217.91 L363.4,217.88 L363.9,217.84 L364.4,217.79 L364.9,217.75 L365.4,217.7 L365.9,217.64 L366.4,217.58 L366.9,217.52 L367.4,217.45 L367.9,217.37 L368.4,217.3 L368.9,217.21 L369.4,217.13 L369.9,217.03 L370.4,216.94 L370.9,216.84 L371.4,216.73 L371.9,216.62 L372.4,216.51 L372.9,216.4 L373.4,216.28 L373.9,216.16 L374.4,216.04 L374.9,215.92 L375.4,215.8 L375.9,215.68 L376.4,215.56 L376.9,215.44 L377.4,215.33 L377.9,215.21 L378.4,215.11 L378.9,215.01 L379.4,214.91 L379.9,214.82 L380.4,214.74 L380.9,214.66 L381.4,214.6 L381.9,214.54 L382.4,214.49 L382.9,214.45 L383.4,214.43 L383.9,214.41 L384.4,214.4 L384.9,214.4 L385.4,214.42 L385.9,214.44 L386.4,214.48 L386.9,214.52 L387.4,214.57 L387.9,214.64 L388.4,214.71 L388.9,214.79 L389.4,214.87 L389.9,214.97 L390.4,215.07 L390.9,215.17 L391.4,215.28 L391.9,215.39 L392.4,215.51 L392.9,215.63 L393.4,215.75 L393.9,215.87 L394.4,215.99 L394.9,216.11 L395.4,216.23 L395.9,216.35 L396.4,216.47 L396.9,216.58 L397.4,216.69 L397.9,216.79 L398.4,216.9 L398.9,217 L399.4,217.09 L399.9,217.18 L400.4,217.26 L400.9,217.34 L401.4,217.42 L401.9,217.49 L402.4,217.56 L402.9,217.62 L403.4,217.67 L403.9,217.73 L404.4,217.78 L404.9,217.82 L405.4,217.86 L405.9,217.9 L406.4,217.93 L406.9,217.96 L407.4,217.99 L407.9,218.02 L408.4,218.04 L408.9,218.06 L409.4,218.08 L409.9,218.09 L410.4,218.11 L410.9,218.12 L411.4,218.13 L411.9,218.14 L412.4,218.15 L412.9,218.16 L413.4,218.16 L413.9,218.17 L414.4,218.17 L414.9,218.18 L415.4,218.18 L415.9,218.18 L416.4,218.19 L416.9,218.19 L417.4,218.19 L417.9,218.19 L418.4,218.19 L418.9,218.19 L419.4,218.2 L419.9,218.2 L420.4,218.2 L420.9,218.2 L421.4,218.2 L421.9,218.2 L422.4,218.2 L422.9,218.2 L423.4,218.2 L423.9,218.2 L424.4,218.2 L424.4,218.2Z" fill="#e040e0" fill-opacity="0.78" style="mix-blend-mode:multiply"/>
<path d="M344.9,218.2 L345.4,218.2 L345.9,218.2 L346.4,218.2 L346.9,218.2 L347.4,218.2 L347.9,218.2 L348.4,218.2 L348.9,218.2 L349.4,218.2 L349.9,218.19 L350.4,218.19 L350.9,218.19 L351.4,218.19 L351.9,218.19 L352.4,218.19 L352.9,218.18 L353.4,218.18 L353.9,218.18 L354.4,218.17 L354.9,218.17 L355.4,218.17 L355.9,218.16 L356.4,218.15 L356.9,218.14 L357.4,218.14 L357.9,218.12 L358.4,218.11 L358.9,218.1 L359.4,218.08 L359.9,218.07 L360.4,218.05 L360.9,218.03 L361.4,218 L361.9,217.98 L362.4,217.95 L362.9,217.91 L363.4,217.88 L363.9,217.84 L364.4,217.79 L364.9,217.75 L365.4,217.7 L365.9,217.64 L366.4,217.58 L366.9,217.52 L367.4,217.45 L367.9,217.37 L368.4,217.3 L368.9,217.21 L369.4,217.13 L369.9,217.03 L370.4,216.94 L370.9,216.84 L371.4,216.73 L371.9,216.62 L372.4,216.51 L372.9,216.4 L373.4,216.28 L373.9,216.16 L374.4,216.04 L374.9,215.92 L375.4,215.8 L375.9,215.68 L376.4,215.56 L376.9,215.44 L377.4,215.33 L377.9,215.21 L378.4,215.11 L378.9,215.01 L379.4,214.91 L379.9,214.82 L380.4,214.74 L380.9,214.66 L381.4,214.6 L381.9,214.54 L382.4,214.49 L382.9,214.45 L383.4,214.43 L383.9,214.41 L384.4,214.4 L384.9,214.4 L385.4,214.42 L385.9,214.44 L386.4,214.48 L386.9,214.52 L387.4,214.57 L387.9,214.64 L388.4,214.71 L388.9,214.79 L389.4,214.87 L389.9,214.97 L390.4,215.07 L390.9,215.17 L391.4,215.28 L391.9,215.39 L392.4,215.51 L392.9,215.63 L393.4,215.75 L393.9,215.87 L394.4,215.99 L394.9,216.11 L395.4,216.23 L395.9,216.35 L396.4,216.47 L396.9,216.58 L397.4,216.69 L397.9,216.79 L398.4,216.9 L398.9,217 L399.4,217.09 L399.9,217.18 L400.4,217.26 L400.9,217.34 L401.4,217.42 L401.9,217.49 L402.4,217.56 L402.9,217.62 L403.4,217.67 L403.9,217.73 L404.4,217.78 L404.9,217.82 L405.4,217.86 L405.9,217.9 L406.4,217.93 L406.9,217.96 L407.4,217.99 L407.9,218.02 L408.4,218.04 L408.9,218.06 L409.4,218.08 L409.9,218.09 L410.4,218.11 L410.9,218.12 L411.4,218.13 L411.9,218.14 L412.4,218.15 L412.9,218.16 L413.4,218.16 L413.9,218.17 L414.4,218.17 L414.9,218.18 L415.4,218.18 L415.9,218.18 L416.4,218.19 L416.9,218.19 L417.4,218.19 L417.9,218.19 L418.4,218.19 L418.9,218.19 L419.4,218.2 L419.9,218.2 L420.4,218.2 L420.9,218.2 L421.4,218.2 L421.9,218.2 L422.4,218.2 L422.9,218.2 L423.4,218.2 L423.9,218.2 L424.4,218.2" fill="none" stroke="#ff33ff" stroke-width="0.8" opacity="0.8"/>
<path d="M334.9,218.2 L334.9,218.2 L335.4,218.2 L335.9,218.2 L336.4,218.2 L336.9,218.19 L337.4,218.19 L337.9,218.19 L338.4,218.19 L338.9,218.19 L339.4,218.18 L339.9,218.18 L340.4,218.18 L340.9,218.17 L341.4,218.16 L341.9,218.16 L342.4,218.15 L342.9,218.14 L343.4,218.12 L343.9,218.11 L344.4,218.09 L344.9,218.07 L345.4,218.05 L345.9,218.02 L346.4,217.99 L346.9,217.95 L347.4,217.91 L347.9,217.86 L348.4,217.8 L348.9,217.74 L349.4,217.66 L349.9,217.58 L350.4,217.49 L350.9,217.39 L351.4,217.27 L351.9,217.15 L352.4,217.01 L352.9,216.85 L353.4,216.68 L353.9,216.5 L354.4,216.3 L354.9,216.08 L355.4,215.85 L355.9,215.6 L356.4,215.33 L356.9,215.05 L357.4,214.75 L357.9,214.44 L358.4,214.11 L358.9,213.76 L359.4,213.4 L359.9,213.03 L360.4,212.66 L360.9,212.27 L361.4,211.88 L361.9,211.49 L362.4,211.09 L362.9,210.7 L363.4,210.31 L363.9,209.93 L364.4,209.56 L364.9,209.21 L365.4,208.87 L365.9,208.55 L366.4,208.26 L366.9,207.99 L367.4,207.75 L367.9,207.54 L368.4,207.36 L368.9,207.22 L369.4,207.11 L369.9,207.04 L370.4,207 L370.9,207.01 L371.4,207.05 L371.9,207.13 L372.4,207.24 L372.9,207.39 L373.4,207.58 L373.9,207.79 L374.4,208.04 L374.9,208.32 L375.4,208.62 L375.9,208.94 L376.4,209.28 L376.9,209.64 L377.4,210.01 L377.9,210.39 L378.4,210.78 L378.9,211.17 L379.4,211.56 L379.9,211.96 L380.4,212.35 L380.9,212.73 L381.4,213.11 L381.9,213.48 L382.4,213.83 L382.9,214.17 L383.4,214.5 L383.9,214.81 L384.4,215.11 L384.9,215.39 L385.4,215.65 L385.9,215.9 L386.4,216.13 L386.9,216.34 L387.4,216.54 L387.9,216.72 L388.4,216.88 L388.9,217.04 L389.4,217.17 L389.9,217.3 L390.4,217.41 L390.9,217.51 L391.4,217.6 L391.9,217.68 L392.4,217.75 L392.9,217.81 L393.4,217.87 L393.9,217.91 L394.4,217.96 L394.9,217.99 L395.4,218.02 L395.9,218.05 L396.4,218.08 L396.9,218.1 L397.4,218.11 L397.9,218.13 L398.4,218.14 L398.9,218.15 L399.4,218.16 L399.9,218.17 L400.4,218.17 L400.9,218.18 L401.4,218.18 L401.9,218.19 L402.4,218.19 L402.9,218.19 L403.4,218.19 L403.9,218.19 L404.4,218.2 L404.9,218.2 L405.4,218.2 L405.9,218.2 L406.4,218.2 L406.4,218.2Z" fill="#f2a040" fill-opacity="0.78" style="mix-blend-mode:multiply"/>
<path d="M334.9,218.2 L335.4,218.2 L335.9,218.2 L336.4,218.2 L336.9,218.19 L337.4,218.19 L337.9,218.19 L338.4,218.19 L338.9,218.19 L339.4,218.18 L339.9,218.18 L340.4,218.18 L340.9,218.17 L341.4,218.16 L341.9,218.16 L342.4,218.15 L342.9,218.14 L343.4,218.12 L343.9,218.11 L344.4,218.09 L344.9,218.07 L345.4,218.05 L345.9,218.02 L346.4,217.99 L346.9,217.95 L347.4,217.91 L347.9,217.86 L348.4,217.8 L348.9,217.74 L349.4,217.66 L349.9,217.58 L350.4,217.49 L350.9,217.39 L351.4,217.27 L351.9,217.15 L352.4,217.01 L352.9,216.85 L353.4,216.68 L353.9,216.5 L354.4,216.3 L354.9,216.08 L355.4,215.85 L355.9,215.6 L356.4,215.33 L356.9,215.05 L357.4,214.75 L357.9,214.44 L358.4,214.11 L358.9,213.76 L359.4,213.4 L359.9,213.03 L360.4,212.66 L360.9,212.27 L361.4,211.88 L361.9,211.49 L362.4,211.09 L362.9,210.7 L363.4,210.31 L363.9,209.93 L364.4,209.56 L364.9,209.21 L365.4,208.87 L365.9,208.55 L366.4,208.26 L366.9,207.99 L367.4,207.75 L367.9,207.54 L368.4,207.36 L368.9,207.22 L369.4,207.11 L369.9,207.04 L370.4,207 L370.9,207.01 L371.4,207.05 L371.9,207.13 L372.4,207.24 L372.9,207.39 L373.4,207.58 L373.9,207.79 L374.4,208.04 L374.9,208.32 L375.4,208.62 L375.9,208.94 L376.4,209.28 L376.9,209.64 L377.4,210.01 L377.9,210.39 L378.4,210.78 L378.9,211.17 L379.4,211.56 L379.9,211.96 L380.4,212.35 L380.9,212.73 L381.4,213.11 L381.9,213.48 L382.4,213.83 L382.9,214.17 L383.4,214.5 L383.9,214.81 L384.4,215.11 L384.9,215.39 L385.4,215.65 L385.9,215.9 L386.4,216.13 L386.9,216.34 L387.4,216.54 L387.9,216.72 L388.4,216.88 L388.9,217.04 L389.4,217.17 L389.9,217.3 L390.4,217.41 L390.9,217.51 L391.4,217.6 L391.9,217.68 L392.4,217.75 L392.9,217.81 L393.4,217.87 L393.9,217.91 L394.4,217.96 L394.9,217.99 L395.4,218.02 L395.9,218.05 L396.4,218.08 L396.9,218.1 L397.4,218.11 L397.9,218.13 L398.4,218.14 L398.9,218.15 L399.4,218.16 L399.9,218.17 L400.4,218.17 L400.9,218.18 L401.4,218.18 L401.9,218.19 L402.4,218.19 L402.9,218.19 L403.4,218.19 L403.9,218.19 L404.4,218.2 L404.9,218.2 L405.4,218.2 L405.9,218.2 L406.4,218.2" fill="none" stroke="#f08a20" stroke-width="0.8" opacity="0.8"/>
<path d="M261.4,217.6 L261.9,217.6 L262.4,217.6 L262.9,217.59 L263.4,217.59 L263.9,217.59 L264.4,217.59 L264.9,217.59 L265.4,217.58 L265.9,217.58 L266.4,217.58 L266.9,217.57 L267.4,217.57 L267.9,217.56 L268.4,217.55 L268.9,217.54 L269.4,217.53 L269.9,217.52 L270.4,217.51 L270.9,217.49 L271.4,217.47 L271.9,217.45 L272.4,217.42 L272.9,217.39 L273.4,217.36 L273.9,217.32 L274.4,217.28 L274.9,217.22 L275.4,217.17 L275.9,217.1 L276.4,217.03 L276.9,216.94 L277.4,216.85 L277.9,216.74 L278.4,216.62 L278.9,216.49 L279.4,216.34 L279.9,216.18 L280.4,216 L280.9,215.79 L281.4,215.57 L281.9,215.33 L282.4,215.06 L282.9,214.77 L283.4,214.45 L283.9,214.11 L284.4,213.73 L284.9,213.33 L285.4,212.89 L285.9,212.42 L286.4,211.92 L286.9,211.38 L287.4,210.81 L287.9,210.2 L288.4,209.56 L288.9,208.88 L289.4,208.16 L289.9,207.41 L290.4,206.63 L290.9,205.81 L291.4,204.96 L291.9,204.08 L292.4,203.17 L292.9,202.24 L293.4,201.28 L293.9,200.31 L294.4,199.32 L294.9,198.31 L295.4,197.3 L295.9,196.29 L296.4,195.27 L296.9,194.27 L297.4,193.27 L297.9,192.29 L298.4,191.33 L298.9,190.39 L299.4,189.49 L299.9,188.62 L300.4,187.8 L300.9,187.02 L301.4,186.3 L301.9,185.63 L302.4,185.03 L302.9,184.48 L303.4,184.01 L303.9,183.61 L304.4,183.28 L304.9,183.02 L305.4,182.85 L305.9,182.75 L306.4,182.73 L306.9,182.8 L307.4,182.94 L307.9,183.15 L308.4,183.44 L308.9,183.81 L309.4,184.25 L309.9,184.75 L310.4,185.32 L310.9,185.94 L311.4,186.62 L311.9,187.35 L312.4,188.13 L312.9,188.94 L313.4,189.79 L313.9,190.67 L314.4,191.57 L314.9,192.49 L315.4,193.42 L315.9,194.36 L316.4,195.3 L316.9,196.23 L317.4,197.16 L317.9,198.07 L318.4,198.97 L318.9,199.84 L319.4,200.69 L319.9,201.51 L320.4,202.3 L320.9,203.06 L321.4,203.78 L321.9,204.46 L322.4,205.11 L322.9,205.71 L323.4,206.28 L323.9,206.8 L324.4,207.28 L324.9,207.73 L325.4,208.13 L325.9,208.5 L326.4,208.83 L326.9,209.12 L327.4,209.38 L327.9,209.61 L328.4,209.81 L328.9,209.99 L329.4,210.13 L329.9,210.26 L330.4,210.36 L330.9,210.45 L331.4,210.52 L331.9,210.58 L332.4,210.62 L332.9,210.66 L333.4,210.69 L333.9,210.72 L334.4,210.74 L334.9,210.76 L335.4,210.78 L335.9,210.81 L336.4,210.84 L336.9,210.87 L337.4,210.91 L337.9,210.96 L338.4,211.01 L338.9,211.07 L339.4,211.14 L339.9,211.22 L340.4,211.31 L340.9,211.41 L341.4,211.51 L341.9,211.62 L342.4,211.74 L342.9,211.87 L343.4,212 L343.9,212.14 L344.4,212.28 L344.9,212.42 L345.4,212.57 L345.9,212.72 L346.4,212.86 L346.9,213 L347.4,213.14 L347.9,213.28 L348.4,213.4 L348.9,213.52 L349.4,213.63 L349.9,213.73 L350.4,213.81 L350.9,213.88 L351.4,213.94 L351.9,213.98 L352.4,214 L352.9,214 L353.4,213.98 L353.9,213.93 L354.4,213.87 L354.9,213.78 L355.4,213.67 L355.9,213.53 L356.4,213.37 L356.9,213.19 L357.4,212.98 L357.9,212.75 L358.4,212.5 L358.9,212.22 L359.4,211.93 L359.9,211.61 L360.4,211.28 L360.9,210.94 L361.4,210.58 L361.9,210.21 L362.4,209.83 L362.9,209.45 L363.4,209.07 L363.9,208.68 L364.4,208.3 L364.9,207.93 L365.4,207.57 L365.9,207.22 L366.4,206.89 L366.9,206.57 L367.4,206.28 L367.9,206.01 L368.4,205.77 L368.9,205.55 L369.4,205.37 L369.9,205.21 L370.4,205.09 L370.9,205 L371.4,204.94 L371.9,204.92 L372.4,204.93 L372.9,204.97 L373.4,205.04 L373.9,205.14 L374.4,205.27 L374.9,205.42 L375.4,205.6 L375.9,205.81 L376.4,206.03 L376.9,206.27 L377.4,206.53 L377.9,206.8 L378.4,207.08 L378.9,207.37 L379.4,207.67 L379.9,207.98 L380.4,208.29 L380.9,208.6 L381.4,208.91 L381.9,209.21 L382.4,209.52 L382.9,209.83 L383.4,210.13 L383.9,210.42 L384.4,210.71 L384.9,210.99 L385.4,211.27 L385.9,211.54 L386.4,211.8 L386.9,212.06 L387.4,212.31 L387.9,212.55 L388.4,212.79 L388.9,213.02 L389.4,213.25 L389.9,213.46 L390.4,213.68 L390.9,213.88 L391.4,214.08 L391.9,214.27 L392.4,214.46 L392.9,214.64 L393.4,214.82 L393.9,214.99 L394.4,215.15 L394.9,215.31 L395.4,215.46 L395.9,215.6 L396.4,215.74 L396.9,215.87 L397.4,216 L397.9,216.12 L398.4,216.24 L398.9,216.35 L399.4,216.45 L399.9,216.54 L400.4,216.64 L400.9,216.72 L401.4,216.8 L401.9,216.88 L402.4,216.94 L402.9,217.01 L403.4,217.07 L403.9,217.12 L404.4,217.17 L404.9,217.22 L405.4,217.26 L405.9,217.3 L406.4,217.33 L406.9,217.36 L407.4,217.39 L407.9,217.42 L408.4,217.44 L408.9,217.46 L409.4,217.48 L409.9,217.49 L410.4,217.51 L410.9,217.52 L411.4,217.53 L411.9,217.54 L412.4,217.55 L412.9,217.56 L413.4,217.56 L413.9,217.57 L414.4,217.57 L414.9,217.58 L415.4,217.58 L415.9,217.58 L416.4,217.59 L416.9,217.59 L417.4,217.59 L417.9,217.59 L418.4,217.59 L418.9,217.59 L419.4,217.6 L419.9,217.6 L420.4,217.6 L420.9,217.6 L421.4,217.6 L421.9,217.6 L422.4,217.6 L422.9,217.6 L423.4,217.6 L423.9,217.6 L424.4,217.6 L424.9,217.6 L425.4,217.6 L425.9,217.6 L426.4,217.6 L426.9,217.6 L427.4,217.6 L427.9,217.6 L428.4,217.6 L428.9,217.6 L429.4,217.6 L429.9,217.6 L430.4,217.6 L430.9,217.6 L431.4,217.6 L431.9,217.6" fill="none" stroke="#222" stroke-width="1.0" stroke-dasharray="2.8,2.0"/>
<line x1="261.4" y1="218.2" x2="431.9" y2="218.2" stroke="#ff44ff" stroke-width="1.3" />
<rect x="261.4" y="89.4" width="170.5" height="136.8" fill="none" stroke="#333" stroke-width="0.9" />
<line x1="261.4" y1="132.3" x2="431.9" y2="132.3" stroke="#333" stroke-width="0.8" />
<line x1="261.4" y1="175.2" x2="431.9" y2="175.2" stroke="#333" stroke-width="0.8" />
<path d="M272.5,226.2v-2.4M295.3,226.2v-1.6M318.1,226.2v-2.4M340.9,226.2v-1.6M363.7,226.2v-2.4M386.5,226.2v-1.6M409.3,226.2v-2.4" stroke="#333" stroke-width="0.8"/>
<text x="272.5" y="236.6" font-size="8.9" font-weight="bold" fill="#000" text-anchor="middle" >452</text>
<text x="318.1" y="236.6" font-size="8.9" font-weight="bold" fill="#000" text-anchor="middle" >456</text>
<text x="363.7" y="236.6" font-size="8.9" font-weight="bold" fill="#000" text-anchor="middle" >460</text>
<text x="409.3" y="236.6" font-size="8.9" font-weight="bold" fill="#000" text-anchor="middle" >464</text>
<text x="347.65" y="250.8" font-size="11.75" font-weight="bold" fill="#000" text-anchor="middle" >Binding energy (eV)</text>
<text transform="translate(244.3,155.7) rotate(-90)" font-size="11.75" font-weight="bold" fill="#000" text-anchor="middle">Intensity (a. u.)</text>
<text x="234" y="100.2" font-size="17.5" font-weight="bold" fill="#000" text-anchor="start" >c</text>
<text x="269.4" y="102.7" font-size="9.4" font-weight="bold" fill="#000" text-anchor="start" >Ti 2<tspan font-style="italic">p</tspan></text>
<text x="423.2" y="102.9" font-size="9.4" font-weight="bold" fill="#000" text-anchor="end" >MGP</text>
<text x="423.2" y="149.2" font-size="9.4" font-weight="bold" fill="#000" text-anchor="end" >MG</text>
<text x="423.4" y="190" font-size="9.9" font-weight="bold" fill="#000" text-anchor="end" >MXene</text>
<text x="332.5" y="104.7" font-size="9.6" font-weight="bold" fill="#ee1111" text-anchor="start" >Ti-O-C</text>
<line x1="339" y1="106" x2="333.8" y2="119.2" stroke="#111" stroke-width="1.0" />
<text x="262" y="183.9" font-size="9.6" font-weight="bold" fill="#8fd16f" text-anchor="start" >Ti-C 2<tspan font-style="italic">p</tspan><tspan font-size="6.4" dy="1.8">3/2</tspan></text>
<text x="315.4" y="191.7" font-size="9.6" font-weight="bold" fill="#6b6bf0" text-anchor="start" >Ti-O 2<tspan font-style="italic">p</tspan><tspan font-size="6.4" dy="1.8">2/3</tspan></text>
<text x="360" y="194.4" font-size="9.6" font-weight="bold" fill="#f29a3a" text-anchor="start" >Ti-C 2<tspan font-style="italic">p</tspan><tspan font-size="6.4" dy="1.8">1/2</tspan></text>
<text x="389" y="206.2" font-size="9.6" font-weight="bold" fill="#f03cf0" text-anchor="start" >Ti-O 2<tspan font-style="italic">p</tspan><tspan font-size="6.4" dy="1.8">1/2</tspan></text>
<line x1="281.3" y1="188.3" x2="291.8" y2="198.8" stroke="#111" stroke-width="1.0" />
<line x1="333.8" y1="195.2" x2="337.8" y2="210.1" stroke="#111" stroke-width="1.0" />
<line x1="375.3" y1="197" x2="374.5" y2="204.9" stroke="#111" stroke-width="1.0" />
<line x1="400.8" y1="208.8" x2="396.9" y2="214.6" stroke="#111" stroke-width="1.0" />
<path d="M533,131.3 L533,131.3 L533.5,131.3 L534,131.29 L534.5,131.29 L535,131.29 L535.5,131.28 L536,131.28 L536.5,131.27 L537,131.26 L537.5,131.25 L538,131.24 L538.5,131.22 L539,131.2 L539.5,131.17 L540,131.13 L540.5,131.09 L541,131.04 L541.5,130.97 L542,130.9 L542.5,130.8 L543,130.69 L543.5,130.56 L544,130.4 L544.5,130.22 L545,130.01 L545.5,129.76 L546,129.48 L546.5,129.16 L547,128.8 L547.5,128.4 L548,127.95 L548.5,127.45 L549,126.91 L549.5,126.32 L550,125.69 L550.5,125.01 L551,124.29 L551.5,123.53 L552,122.75 L552.5,121.94 L553,121.11 L553.5,120.28 L554,119.44 L554.5,118.62 L555,117.83 L555.5,117.07 L556,116.35 L556.5,115.69 L557,115.1 L557.5,114.58 L558,114.15 L558.5,113.81 L559,113.57 L559.5,113.43 L560,113.4 L560.5,113.48 L561,113.65 L561.5,113.93 L562,114.31 L562.5,114.78 L563,115.32 L563.5,115.95 L564,116.63 L564.5,117.37 L565,118.14 L565.5,118.95 L566,119.78 L566.5,120.61 L567,121.44 L567.5,122.26 L568,123.07 L568.5,123.84 L569,124.58 L569.5,125.29 L570,125.95 L570.5,126.56 L571,127.14 L571.5,127.66 L572,128.14 L572.5,128.57 L573,128.95 L573.5,129.29 L574,129.6 L574.5,129.86 L575,130.1 L575.5,130.3 L576,130.47 L576.5,130.61 L577,130.74 L577.5,130.84 L578,130.93 L578.5,131 L579,131.06 L579.5,131.11 L580,131.15 L580.5,131.18 L581,131.21 L581.5,131.23 L582,131.24 L582.5,131.26 L583,131.27 L583.5,131.28 L584,131.28 L584.5,131.29 L585,131.29 L585.5,131.29 L586,131.29 L586.5,131.3 L587,131.3 L587,131.3Z" fill="#9fd897" fill-opacity="0.78" style="mix-blend-mode:multiply"/>
<path d="M533,131.3 L533.5,131.3 L534,131.29 L534.5,131.29 L535,131.29 L535.5,131.28 L536,131.28 L536.5,131.27 L537,131.26 L537.5,131.25 L538,131.24 L538.5,131.22 L539,131.2 L539.5,131.17 L540,131.13 L540.5,131.09 L541,131.04 L541.5,130.97 L542,130.9 L542.5,130.8 L543,130.69 L543.5,130.56 L544,130.4 L544.5,130.22 L545,130.01 L545.5,129.76 L546,129.48 L546.5,129.16 L547,128.8 L547.5,128.4 L548,127.95 L548.5,127.45 L549,126.91 L549.5,126.32 L550,125.69 L550.5,125.01 L551,124.29 L551.5,123.53 L552,122.75 L552.5,121.94 L553,121.11 L553.5,120.28 L554,119.44 L554.5,118.62 L555,117.83 L555.5,117.07 L556,116.35 L556.5,115.69 L557,115.1 L557.5,114.58 L558,114.15 L558.5,113.81 L559,113.57 L559.5,113.43 L560,113.4 L560.5,113.48 L561,113.65 L561.5,113.93 L562,114.31 L562.5,114.78 L563,115.32 L563.5,115.95 L564,116.63 L564.5,117.37 L565,118.14 L565.5,118.95 L566,119.78 L566.5,120.61 L567,121.44 L567.5,122.26 L568,123.07 L568.5,123.84 L569,124.58 L569.5,125.29 L570,125.95 L570.5,126.56 L571,127.14 L571.5,127.66 L572,128.14 L572.5,128.57 L573,128.95 L573.5,129.29 L574,129.6 L574.5,129.86 L575,130.1 L575.5,130.3 L576,130.47 L576.5,130.61 L577,130.74 L577.5,130.84 L578,130.93 L578.5,131 L579,131.06 L579.5,131.11 L580,131.15 L580.5,131.18 L581,131.21 L581.5,131.23 L582,131.24 L582.5,131.26 L583,131.27 L583.5,131.28 L584,131.28 L584.5,131.29 L585,131.29 L585.5,131.29 L586,131.29 L586.5,131.3 L587,131.3" fill="none" stroke="#84dd84" stroke-width="0.8" opacity="0.8"/>
<path d="M547,131.3 L547,131.3 L547.5,131.29 L548,131.29 L548.5,131.29 L549,131.28 L549.5,131.28 L550,131.27 L550.5,131.26 L551,131.24 L551.5,131.22 L552,131.2 L552.5,131.17 L553,131.13 L553.5,131.09 L554,131.03 L554.5,130.95 L555,130.86 L555.5,130.75 L556,130.61 L556.5,130.45 L557,130.26 L557.5,130.03 L558,129.76 L558.5,129.44 L559,129.07 L559.5,128.65 L560,128.17 L560.5,127.62 L561,127.01 L561.5,126.33 L562,125.57 L562.5,124.75 L563,123.85 L563.5,122.89 L564,121.86 L564.5,120.78 L565,119.65 L565.5,118.48 L566,117.28 L566.5,116.08 L567,114.87 L567.5,113.69 L568,112.54 L568.5,111.45 L569,110.43 L569.5,109.5 L570,108.68 L570.5,107.98 L571,107.41 L571.5,106.99 L572,106.72 L572.5,106.6 L573,106.65 L573.5,106.86 L574,107.22 L574.5,107.73 L575,108.38 L575.5,109.16 L576,110.05 L576.5,111.03 L577,112.1 L577.5,113.23 L578,114.4 L578.5,115.59 L579,116.8 L579.5,118 L580,119.18 L580.5,120.33 L581,121.43 L581.5,122.48 L582,123.47 L582.5,124.4 L583,125.25 L583.5,126.03 L584,126.74 L584.5,127.38 L585,127.96 L585.5,128.46 L586,128.91 L586.5,129.3 L587,129.64 L587.5,129.92 L588,130.17 L588.5,130.38 L589,130.55 L589.5,130.7 L590,130.82 L590.5,130.92 L591,131 L591.5,131.06 L592,131.12 L592.5,131.16 L593,131.19 L593.5,131.22 L594,131.24 L594.5,131.25 L595,131.26 L595.5,131.27 L596,131.28 L596.5,131.29 L597,131.29 L597.5,131.29 L598,131.29 L598.5,131.3 L598.5,131.3Z" fill="#3f3ff0" fill-opacity="0.78" style="mix-blend-mode:multiply"/>
<path d="M547,131.3 L547.5,131.29 L548,131.29 L548.5,131.29 L549,131.28 L549.5,131.28 L550,131.27 L550.5,131.26 L551,131.24 L551.5,131.22 L552,131.2 L552.5,131.17 L553,131.13 L553.5,131.09 L554,131.03 L554.5,130.95 L555,130.86 L555.5,130.75 L556,130.61 L556.5,130.45 L557,130.26 L557.5,130.03 L558,129.76 L558.5,129.44 L559,129.07 L559.5,128.65 L560,128.17 L560.5,127.62 L561,127.01 L561.5,126.33 L562,125.57 L562.5,124.75 L563,123.85 L563.5,122.89 L564,121.86 L564.5,120.78 L565,119.65 L565.5,118.48 L566,117.28 L566.5,116.08 L567,114.87 L567.5,113.69 L568,112.54 L568.5,111.45 L569,110.43 L569.5,109.5 L570,108.68 L570.5,107.98 L571,107.41 L571.5,106.99 L572,106.72 L572.5,106.6 L573,106.65 L573.5,106.86 L574,107.22 L574.5,107.73 L575,108.38 L575.5,109.16 L576,110.05 L576.5,111.03 L577,112.1 L577.5,113.23 L578,114.4 L578.5,115.59 L579,116.8 L579.5,118 L580,119.18 L580.5,120.33 L581,121.43 L581.5,122.48 L582,123.47 L582.5,124.4 L583,125.25 L583.5,126.03 L584,126.74 L584.5,127.38 L585,127.96 L585.5,128.46 L586,128.91 L586.5,129.3 L587,129.64 L587.5,129.92 L588,130.17 L588.5,130.38 L589,130.55 L589.5,130.7 L590,130.82 L590.5,130.92 L591,131 L591.5,131.06 L592,131.12 L592.5,131.16 L593,131.19 L593.5,131.22 L594,131.24 L594.5,131.25 L595,131.26 L595.5,131.27 L596,131.28 L596.5,131.29 L597,131.29 L597.5,131.29 L598,131.29 L598.5,131.3" fill="none" stroke="#2222ff" stroke-width="0.8" opacity="0.8"/>
<path d="M557.5,131.3 L557.5,131.3 L558,131.3 L558.5,131.29 L559,131.29 L559.5,131.29 L560,131.29 L560.5,131.28 L561,131.28 L561.5,131.27 L562,131.26 L562.5,131.25 L563,131.24 L563.5,131.23 L564,131.21 L564.5,131.18 L565,131.16 L565.5,131.12 L566,131.08 L566.5,131.03 L567,130.97 L567.5,130.9 L568,130.81 L568.5,130.72 L569,130.6 L569.5,130.47 L570,130.31 L570.5,130.13 L571,129.93 L571.5,129.7 L572,129.44 L572.5,129.15 L573,128.83 L573.5,128.47 L574,128.08 L574.5,127.64 L575,127.18 L575.5,126.67 L576,126.13 L576.5,125.55 L577,124.94 L577.5,124.31 L578,123.64 L578.5,122.96 L579,122.25 L579.5,121.54 L580,120.82 L580.5,120.11 L581,119.41 L581.5,118.72 L582,118.06 L582.5,117.44 L583,116.85 L583.5,116.32 L584,115.84 L584.5,115.43 L585,115.09 L585.5,114.82 L586,114.63 L586.5,114.53 L587,114.5 L587.5,114.56 L588,114.7 L588.5,114.92 L589,115.22 L589.5,115.59 L590,116.03 L590.5,116.53 L591,117.08 L591.5,117.68 L592,118.32 L592.5,118.99 L593,119.68 L593.5,120.39 L594,121.11 L594.5,121.83 L595,122.54 L595.5,123.23 L596,123.91 L596.5,124.57 L597,125.19 L597.5,125.79 L598,126.35 L598.5,126.88 L599,127.37 L599.5,127.82 L600,128.24 L600.5,128.62 L601,128.96 L601.5,129.27 L602,129.55 L602.5,129.8 L603,130.02 L603.5,130.21 L604,130.38 L604.5,130.52 L605,130.65 L605.5,130.76 L606,130.85 L606.5,130.93 L607,130.99 L607.5,131.05 L608,131.1 L608.5,131.14 L609,131.17 L609.5,131.19 L610,131.22 L610.5,131.23 L611,131.25 L611.5,131.26 L612,131.27 L612.5,131.27 L613,131.28 L613.5,131.28 L614,131.29 L614.5,131.29 L615,131.29 L615.5,131.29 L616,131.3 L616.5,131.3 L616.5,131.3Z" fill="#e8474a" fill-opacity="0.78" style="mix-blend-mode:multiply"/>
<path d="M557.5,131.3 L558,131.3 L558.5,131.29 L559,131.29 L559.5,131.29 L560,131.29 L560.5,131.28 L561,131.28 L561.5,131.27 L562,131.26 L562.5,131.25 L563,131.24 L563.5,131.23 L564,131.21 L564.5,131.18 L565,131.16 L565.5,131.12 L566,131.08 L566.5,131.03 L567,130.97 L567.5,130.9 L568,130.81 L568.5,130.72 L569,130.6 L569.5,130.47 L570,130.31 L570.5,130.13 L571,129.93 L571.5,129.7 L572,129.44 L572.5,129.15 L573,128.83 L573.5,128.47 L574,128.08 L574.5,127.64 L575,127.18 L575.5,126.67 L576,126.13 L576.5,125.55 L577,124.94 L577.5,124.31 L578,123.64 L578.5,122.96 L579,122.25 L579.5,121.54 L580,120.82 L580.5,120.11 L581,119.41 L581.5,118.72 L582,118.06 L582.5,117.44 L583,116.85 L583.5,116.32 L584,115.84 L584.5,115.43 L585,115.09 L585.5,114.82 L586,114.63 L586.5,114.53 L587,114.5 L587.5,114.56 L588,114.7 L588.5,114.92 L589,115.22 L589.5,115.59 L590,116.03 L590.5,116.53 L591,117.08 L591.5,117.68 L592,118.32 L592.5,118.99 L593,119.68 L593.5,120.39 L594,121.11 L594.5,121.83 L595,122.54 L595.5,123.23 L596,123.91 L596.5,124.57 L597,125.19 L597.5,125.79 L598,126.35 L598.5,126.88 L599,127.37 L599.5,127.82 L600,128.24 L600.5,128.62 L601,128.96 L601.5,129.27 L602,129.55 L602.5,129.8 L603,130.02 L603.5,130.21 L604,130.38 L604.5,130.52 L605,130.65 L605.5,130.76 L606,130.85 L606.5,130.93 L607,130.99 L607.5,131.05 L608,131.1 L608.5,131.14 L609,131.17 L609.5,131.19 L610,131.22 L610.5,131.23 L611,131.25 L611.5,131.26 L612,131.27 L612.5,131.27 L613,131.28 L613.5,131.28 L614,131.29 L614.5,131.29 L615,131.29 L615.5,131.29 L616,131.3 L616.5,131.3" fill="none" stroke="#ff1a1a" stroke-width="0.8" opacity="0.8"/>
<path d="M571.5,131.3 L571.5,131.3 L572,131.3 L572.5,131.29 L573,131.29 L573.5,131.29 L574,131.29 L574.5,131.28 L575,131.28 L575.5,131.27 L576,131.27 L576.5,131.26 L577,131.25 L577.5,131.24 L578,131.22 L578.5,131.2 L579,131.18 L579.5,131.16 L580,131.13 L580.5,131.09 L581,131.05 L581.5,131 L582,130.94 L582.5,130.87 L583,130.79 L583.5,130.69 L584,130.59 L584.5,130.46 L585,130.32 L585.5,130.16 L586,129.98 L586.5,129.78 L587,129.55 L587.5,129.29 L588,129 L588.5,128.69 L589,128.34 L589.5,127.95 L590,127.53 L590.5,127.08 L591,126.59 L591.5,126.06 L592,125.5 L592.5,124.89 L593,124.26 L593.5,123.58 L594,122.88 L594.5,122.15 L595,121.39 L595.5,120.61 L596,119.81 L596.5,119 L597,118.18 L597.5,117.36 L598,116.55 L598.5,115.74 L599,114.96 L599.5,114.2 L600,113.48 L600.5,112.79 L601,112.15 L601.5,111.57 L602,111.04 L602.5,110.58 L603,110.19 L603.5,109.88 L604,109.64 L604.5,109.48 L605,109.41 L605.5,109.42 L606,109.51 L606.5,109.68 L607,109.93 L607.5,110.27 L608,110.67 L608.5,111.14 L609,111.68 L609.5,112.28 L610,112.93 L610.5,113.62 L611,114.35 L611.5,115.12 L612,115.9 L612.5,116.71 L613,117.53 L613.5,118.34 L614,119.16 L614.5,119.97 L615,120.77 L615.5,121.54 L616,122.3 L616.5,123.02 L617,123.72 L617.5,124.39 L618,125.02 L618.5,125.61 L619,126.17 L619.5,126.69 L620,127.17 L620.5,127.62 L621,128.03 L621.5,128.41 L622,128.75 L622.5,129.06 L623,129.34 L623.5,129.59 L624,129.82 L624.5,130.02 L625,130.2 L625.5,130.35 L626,130.49 L626.5,130.61 L627,130.71 L627.5,130.81 L628,130.88 L628.5,130.95 L629,131.01 L629.5,131.06 L630,131.1 L630.5,131.13 L631,131.16 L631.5,131.19 L632,131.21 L632.5,131.23 L633,131.24 L633.5,131.25 L634,131.26 L634.5,131.27 L635,131.27 L635.5,131.28 L636,131.28 L636.5,131.29 L637,131.29 L637.5,131.29 L638,131.29 L638.5,131.3 L639,131.3 L639,131.3Z" fill="#e040e0" fill-opacity="0.78" style="mix-blend-mode:multiply"/>
<path d="M571.5,131.3 L572,131.3 L572.5,131.29 L573,131.29 L573.5,131.29 L574,131.29 L574.5,131.28 L575,131.28 L575.5,131.27 L576,131.27 L576.5,131.26 L577,131.25 L577.5,131.24 L578,131.22 L578.5,131.2 L579,131.18 L579.5,131.16 L580,131.13 L580.5,131.09 L581,131.05 L581.5,131 L582,130.94 L582.5,130.87 L583,130.79 L583.5,130.69 L584,130.59 L584.5,130.46 L585,130.32 L585.5,130.16 L586,129.98 L586.5,129.78 L587,129.55 L587.5,129.29 L588,129 L588.5,128.69 L589,128.34 L589.5,127.95 L590,127.53 L590.5,127.08 L591,126.59 L591.5,126.06 L592,125.5 L592.5,124.89 L593,124.26 L593.5,123.58 L594,122.88 L594.5,122.15 L595,121.39 L595.5,120.61 L596,119.81 L596.5,119 L597,118.18 L597.5,117.36 L598,116.55 L598.5,115.74 L599,114.96 L599.5,114.2 L600,113.48 L600.5,112.79 L601,112.15 L601.5,111.57 L602,111.04 L602.5,110.58 L603,110.19 L603.5,109.88 L604,109.64 L604.5,109.48 L605,109.41 L605.5,109.42 L606,109.51 L606.5,109.68 L607,109.93 L607.5,110.27 L608,110.67 L608.5,111.14 L609,111.68 L609.5,112.28 L610,112.93 L610.5,113.62 L611,114.35 L611.5,115.12 L612,115.9 L612.5,116.71 L613,117.53 L613.5,118.34 L614,119.16 L614.5,119.97 L615,120.77 L615.5,121.54 L616,122.3 L616.5,123.02 L617,123.72 L617.5,124.39 L618,125.02 L618.5,125.61 L619,126.17 L619.5,126.69 L620,127.17 L620.5,127.62 L621,128.03 L621.5,128.41 L622,128.75 L622.5,129.06 L623,129.34 L623.5,129.59 L624,129.82 L624.5,130.02 L625,130.2 L625.5,130.35 L626,130.49 L626.5,130.61 L627,130.71 L627.5,130.81 L628,130.88 L628.5,130.95 L629,131.01 L629.5,131.06 L630,131.1 L630.5,131.13 L631,131.16 L631.5,131.19 L632,131.21 L632.5,131.23 L633,131.24 L633.5,131.25 L634,131.26 L634.5,131.27 L635,131.27 L635.5,131.28 L636,131.28 L636.5,131.29 L637,131.29 L637.5,131.29 L638,131.29 L638.5,131.3 L639,131.3" fill="none" stroke="#ff33ff" stroke-width="0.8" opacity="0.8"/>
<path d="M498.5,131.3 L530,131.2 L531.32,131.15 L533.2,131.12 L535.39,131.07 L537.69,130.94 L539.87,130.7 L541.7,130.3 L543.18,129.79 L544.49,129.23 L545.68,128.56 L546.79,127.7 L547.88,126.6 L549,125.2 L550.13,123.37 L551.22,121.14 L552.29,118.67 L553.36,116.11 L554.42,113.64 L555.5,111.4 L556.6,109.33 L557.72,107.28 L558.84,105.31 L559.95,103.47 L561.04,101.82 L562.1,100.4 L563.13,99.25 L564.15,98.33 L565.14,97.6 L566.12,97 L567.07,96.48 L568,96 L568.9,95.56 L569.76,95.21 L570.6,94.94 L571.43,94.75 L572.26,94.64 L573.1,94.6 L573.96,94.64 L574.83,94.77 L575.69,94.98 L576.55,95.26 L577.39,95.6 L578.2,96 L578.98,96.49 L579.75,97.09 L580.49,97.76 L581.22,98.44 L581.92,99.1 L582.6,99.7 L583.23,100.25 L583.8,100.78 L584.36,101.29 L584.92,101.77 L585.52,102.21 L586.2,102.6 L586.94,102.94 L587.71,103.25 L588.52,103.51 L589.38,103.74 L590.31,103.94 L591.3,104.1 L592.41,104.21 L593.62,104.26 L594.9,104.28 L596.19,104.29 L597.44,104.32 L598.6,104.4 L599.67,104.5 L600.7,104.59 L601.69,104.69 L602.64,104.86 L603.58,105.12 L604.5,105.5 L605.4,106.01 L606.26,106.61 L607.1,107.31 L607.93,108.1 L608.76,108.96 L609.6,109.9 L610.46,110.96 L611.33,112.14 L612.19,113.41 L613.05,114.71 L613.89,115.99 L614.7,117.2 L615.48,118.37 L616.22,119.54 L616.95,120.69 L617.67,121.8 L618.38,122.84 L619.1,123.8 L619.8,124.67 L620.46,125.46 L621.11,126.18 L621.8,126.86 L622.55,127.49 L623.4,128.1 L624.44,128.7 L625.67,129.28 L626.97,129.82 L628.2,130.3 L629.26,130.7 L630,131 L669.7,131.3" fill="none" stroke="#222" stroke-width="1.0" stroke-dasharray="2.8,2.0"/>
<line x1="498.5" y1="131.3" x2="669.7" y2="131.3" stroke="#ff44ff" stroke-width="1.3" />
<path d="M532,177.5 L532,177.5 L532.5,177.5 L533,177.49 L533.5,177.49 L534,177.49 L534.5,177.49 L535,177.48 L535.5,177.48 L536,177.47 L536.5,177.46 L537,177.44 L537.5,177.43 L538,177.41 L538.5,177.38 L539,177.35 L539.5,177.31 L540,177.26 L540.5,177.2 L541,177.13 L541.5,177.04 L542,176.93 L542.5,176.81 L543,176.66 L543.5,176.48 L544,176.28 L544.5,176.04 L545,175.77 L545.5,175.46 L546,175.11 L546.5,174.71 L547,174.27 L547.5,173.78 L548,173.24 L548.5,172.65 L549,172.01 L549.5,171.33 L550,170.6 L550.5,169.82 L551,169.02 L551.5,168.18 L552,167.32 L552.5,166.45 L553,165.57 L553.5,164.7 L554,163.85 L554.5,163.02 L555,162.24 L555.5,161.51 L556,160.85 L556.5,160.25 L557,159.75 L557.5,159.33 L558,159.02 L558.5,158.81 L559,158.71 L559.5,158.72 L560,158.84 L560.5,159.07 L561,159.41 L561.5,159.84 L562,160.37 L562.5,160.97 L563,161.65 L563.5,162.39 L564,163.19 L564.5,164.02 L565,164.87 L565.5,165.75 L566,166.62 L566.5,167.49 L567,168.35 L567.5,169.18 L568,169.98 L568.5,170.74 L569,171.47 L569.5,172.14 L570,172.77 L570.5,173.35 L571,173.88 L571.5,174.36 L572,174.8 L572.5,175.18 L573,175.53 L573.5,175.83 L574,176.09 L574.5,176.32 L575,176.52 L575.5,176.69 L576,176.83 L576.5,176.96 L577,177.06 L577.5,177.14 L578,177.21 L578.5,177.27 L579,177.32 L579.5,177.36 L580,177.39 L580.5,177.41 L581,177.43 L581.5,177.45 L582,177.46 L582.5,177.47 L583,177.48 L583.5,177.48 L584,177.49 L584.5,177.49 L585,177.49 L585.5,177.49 L586,177.5 L586.5,177.5 L586.5,177.5Z" fill="#9fd897" fill-opacity="0.78" style="mix-blend-mode:multiply"/>
<path d="M532,177.5 L532.5,177.5 L533,177.49 L533.5,177.49 L534,177.49 L534.5,177.49 L535,177.48 L535.5,177.48 L536,177.47 L536.5,177.46 L537,177.44 L537.5,177.43 L538,177.41 L538.5,177.38 L539,177.35 L539.5,177.31 L540,177.26 L540.5,177.2 L541,177.13 L541.5,177.04 L542,176.93 L542.5,176.81 L543,176.66 L543.5,176.48 L544,176.28 L544.5,176.04 L545,175.77 L545.5,175.46 L546,175.11 L546.5,174.71 L547,174.27 L547.5,173.78 L548,173.24 L548.5,172.65 L549,172.01 L549.5,171.33 L550,170.6 L550.5,169.82 L551,169.02 L551.5,168.18 L552,167.32 L552.5,166.45 L553,165.57 L553.5,164.7 L554,163.85 L554.5,163.02 L555,162.24 L555.5,161.51 L556,160.85 L556.5,160.25 L557,159.75 L557.5,159.33 L558,159.02 L558.5,158.81 L559,158.71 L559.5,158.72 L560,158.84 L560.5,159.07 L561,159.41 L561.5,159.84 L562,160.37 L562.5,160.97 L563,161.65 L563.5,162.39 L564,163.19 L564.5,164.02 L565,164.87 L565.5,165.75 L566,166.62 L566.5,167.49 L567,168.35 L567.5,169.18 L568,169.98 L568.5,170.74 L569,171.47 L569.5,172.14 L570,172.77 L570.5,173.35 L571,173.88 L571.5,174.36 L572,174.8 L572.5,175.18 L573,175.53 L573.5,175.83 L574,176.09 L574.5,176.32 L575,176.52 L575.5,176.69 L576,176.83 L576.5,176.96 L577,177.06 L577.5,177.14 L578,177.21 L578.5,177.27 L579,177.32 L579.5,177.36 L580,177.39 L580.5,177.41 L581,177.43 L581.5,177.45 L582,177.46 L582.5,177.47 L583,177.48 L583.5,177.48 L584,177.49 L584.5,177.49 L585,177.49 L585.5,177.49 L586,177.5 L586.5,177.5" fill="none" stroke="#84dd84" stroke-width="0.8" opacity="0.8"/>
<path d="M546,177.5 L546,177.5 L546.5,177.49 L547,177.49 L547.5,177.49 L548,177.48 L548.5,177.48 L549,177.47 L549.5,177.46 L550,177.45 L550.5,177.43 L551,177.41 L551.5,177.38 L552,177.35 L552.5,177.3 L553,177.25 L553.5,177.18 L554,177.1 L554.5,177 L555,176.88 L555.5,176.74 L556,176.56 L556.5,176.36 L557,176.11 L557.5,175.83 L558,175.5 L558.5,175.12 L559,174.69 L559.5,174.2 L560,173.65 L560.5,173.04 L561,172.36 L561.5,171.62 L562,170.8 L562.5,169.93 L563,168.99 L563.5,168 L564,166.96 L564.5,165.88 L565,164.77 L565.5,163.64 L566,162.5 L566.5,161.38 L567,160.28 L567.5,159.21 L568,158.21 L568.5,157.27 L569,156.43 L569.5,155.69 L570,155.06 L570.5,154.56 L571,154.2 L571.5,153.97 L572,153.9 L572.5,153.97 L573,154.2 L573.5,154.56 L574,155.06 L574.5,155.69 L575,156.43 L575.5,157.27 L576,158.21 L576.5,159.21 L577,160.28 L577.5,161.38 L578,162.5 L578.5,163.64 L579,164.77 L579.5,165.88 L580,166.96 L580.5,168 L581,168.99 L581.5,169.93 L582,170.8 L582.5,171.62 L583,172.36 L583.5,173.04 L584,173.65 L584.5,174.2 L585,174.69 L585.5,175.12 L586,175.5 L586.5,175.83 L587,176.11 L587.5,176.36 L588,176.56 L588.5,176.74 L589,176.88 L589.5,177 L590,177.1 L590.5,177.18 L591,177.25 L591.5,177.3 L592,177.35 L592.5,177.38 L593,177.41 L593.5,177.43 L594,177.45 L594.5,177.46 L595,177.47 L595.5,177.48 L596,177.48 L596.5,177.49 L597,177.49 L597.5,177.49 L598,177.5 L598,177.5Z" fill="#3f3ff0" fill-opacity="0.78" style="mix-blend-mode:multiply"/>
<path d="M546,177.5 L546.5,177.49 L547,177.49 L547.5,177.49 L548,177.48 L548.5,177.48 L549,177.47 L549.5,177.46 L550,177.45 L550.5,177.43 L551,177.41 L551.5,177.38 L552,177.35 L552.5,177.3 L553,177.25 L553.5,177.18 L554,177.1 L554.5,177 L555,176.88 L555.5,176.74 L556,176.56 L556.5,176.36 L557,176.11 L557.5,175.83 L558,175.5 L558.5,175.12 L559,174.69 L559.5,174.2 L560,173.65 L560.5,173.04 L561,172.36 L561.5,171.62 L562,170.8 L562.5,169.93 L563,168.99 L563.5,168 L564,166.96 L564.5,165.88 L565,164.77 L565.5,163.64 L566,162.5 L566.5,161.38 L567,160.28 L567.5,159.21 L568,158.21 L568.5,157.27 L569,156.43 L569.5,155.69 L570,155.06 L570.5,154.56 L571,154.2 L571.5,153.97 L572,153.9 L572.5,153.97 L573,154.2 L573.5,154.56 L574,155.06 L574.5,155.69 L575,156.43 L575.5,157.27 L576,158.21 L576.5,159.21 L577,160.28 L577.5,161.38 L578,162.5 L578.5,163.64 L579,164.77 L579.5,165.88 L580,166.96 L580.5,168 L581,168.99 L581.5,169.93 L582,170.8 L582.5,171.62 L583,172.36 L583.5,173.04 L584,173.65 L584.5,174.2 L585,174.69 L585.5,175.12 L586,175.5 L586.5,175.83 L587,176.11 L587.5,176.36 L588,176.56 L588.5,176.74 L589,176.88 L589.5,177 L590,177.1 L590.5,177.18 L591,177.25 L591.5,177.3 L592,177.35 L592.5,177.38 L593,177.41 L593.5,177.43 L594,177.45 L594.5,177.46 L595,177.47 L595.5,177.48 L596,177.48 L596.5,177.49 L597,177.49 L597.5,177.49 L598,177.5" fill="none" stroke="#2222ff" stroke-width="0.8" opacity="0.8"/>
<path d="M546,177.5 L546,177.5 L546.5,177.5 L547,177.5 L547.5,177.5 L548,177.5 L548.5,177.49 L549,177.49 L549.5,177.49 L550,177.49 L550.5,177.49 L551,177.48 L551.5,177.48 L552,177.48 L552.5,177.47 L553,177.47 L553.5,177.46 L554,177.45 L554.5,177.44 L555,177.43 L555.5,177.42 L556,177.4 L556.5,177.39 L557,177.37 L557.5,177.34 L558,177.32 L558.5,177.29 L559,177.25 L559.5,177.21 L560,177.17 L560.5,177.12 L561,177.06 L561.5,177 L562,176.93 L562.5,176.85 L563,176.76 L563.5,176.67 L564,176.56 L564.5,176.44 L565,176.31 L565.5,176.17 L566,176.02 L566.5,175.85 L567,175.67 L567.5,175.47 L568,175.27 L568.5,175.04 L569,174.81 L569.5,174.55 L570,174.29 L570.5,174.01 L571,173.72 L571.5,173.41 L572,173.09 L572.5,172.76 L573,172.42 L573.5,172.08 L574,171.72 L574.5,171.36 L575,171 L575.5,170.63 L576,170.27 L576.5,169.91 L577,169.55 L577.5,169.2 L578,168.86 L578.5,168.53 L579,168.22 L579.5,167.92 L580,167.64 L580.5,167.39 L581,167.15 L581.5,166.94 L582,166.76 L582.5,166.61 L583,166.49 L583.5,166.39 L584,166.33 L584.5,166.3 L585,166.31 L585.5,166.34 L586,166.41 L586.5,166.51 L587,166.64 L587.5,166.8 L588,166.98 L588.5,167.2 L589,167.44 L589.5,167.7 L590,167.98 L590.5,168.28 L591,168.6 L591.5,168.93 L592,169.27 L592.5,169.62 L593,169.98 L593.5,170.34 L594,170.71 L594.5,171.07 L595,171.43 L595.5,171.79 L596,172.15 L596.5,172.49 L597,172.83 L597.5,173.16 L598,173.47 L598.5,173.78 L599,174.07 L599.5,174.34 L600,174.61 L600.5,174.85 L601,175.09 L601.5,175.31 L602,175.51 L602.5,175.71 L603,175.88 L603.5,176.05 L604,176.2 L604.5,176.34 L605,176.47 L605.5,176.58 L606,176.69 L606.5,176.78 L607,176.87 L607.5,176.95 L608,177.01 L608.5,177.08 L609,177.13 L609.5,177.18 L610,177.22 L610.5,177.26 L611,177.29 L611.5,177.32 L612,177.35 L612.5,177.37 L613,177.39 L613.5,177.41 L614,177.42 L614.5,177.43 L615,177.44 L615.5,177.45 L616,177.46 L616.5,177.47 L617,177.47 L617.5,177.48 L618,177.48 L618.5,177.48 L619,177.49 L619.5,177.49 L620,177.49 L620.5,177.49 L621,177.49 L621.5,177.5 L622,177.5 L622.5,177.5 L623,177.5 L623.5,177.5 L623.5,177.5Z" fill="#e8474a" fill-opacity="0.78" style="mix-blend-mode:multiply"/>
<path d="M546,177.5 L546.5,177.5 L547,177.5 L547.5,177.5 L548,177.5 L548.5,177.49 L549,177.49 L549.5,177.49 L550,177.49 L550.5,177.49 L551,177.48 L551.5,177.48 L552,177.48 L552.5,177.47 L553,177.47 L553.5,177.46 L554,177.45 L554.5,177.44 L555,177.43 L555.5,177.42 L556,177.4 L556.5,177.39 L557,177.37 L557.5,177.34 L558,177.32 L558.5,177.29 L559,177.25 L559.5,177.21 L560,177.17 L560.5,177.12 L561,177.06 L561.5,177 L562,176.93 L562.5,176.85 L563,176.76 L563.5,176.67 L564,176.56 L564.5,176.44 L565,176.31 L565.5,176.17 L566,176.02 L566.5,175.85 L567,175.67 L567.5,175.47 L568,175.27 L568.5,175.04 L569,174.81 L569.5,174.55 L570,174.29 L570.5,174.01 L571,173.72 L571.5,173.41 L572,173.09 L572.5,172.76 L573,172.42 L573.5,172.08 L574,171.72 L574.5,171.36 L575,171 L575.5,170.63 L576,170.27 L576.5,169.91 L577,169.55 L577.5,169.2 L578,168.86 L578.5,168.53 L579,168.22 L579.5,167.92 L580,167.64 L580.5,167.39 L581,167.15 L581.5,166.94 L582,166.76 L582.5,166.61 L583,166.49 L583.5,166.39 L584,166.33 L584.5,166.3 L585,166.31 L585.5,166.34 L586,166.41 L586.5,166.51 L587,166.64 L587.5,166.8 L588,166.98 L588.5,167.2 L589,167.44 L589.5,167.7 L590,167.98 L590.5,168.28 L591,168.6 L591.5,168.93 L592,169.27 L592.5,169.62 L593,169.98 L593.5,170.34 L594,170.71 L594.5,171.07 L595,171.43 L595.5,171.79 L596,172.15 L596.5,172.49 L597,172.83 L597.5,173.16 L598,173.47 L598.5,173.78 L599,174.07 L599.5,174.34 L600,174.61 L600.5,174.85 L601,175.09 L601.5,175.31 L602,175.51 L602.5,175.71 L603,175.88 L603.5,176.05 L604,176.2 L604.5,176.34 L605,176.47 L605.5,176.58 L606,176.69 L606.5,176.78 L607,176.87 L607.5,176.95 L608,177.01 L608.5,177.08 L609,177.13 L609.5,177.18 L610,177.22 L610.5,177.26 L611,177.29 L611.5,177.32 L612,177.35 L612.5,177.37 L613,177.39 L613.5,177.41 L614,177.42 L614.5,177.43 L615,177.44 L615.5,177.45 L616,177.46 L616.5,177.47 L617,177.47 L617.5,177.48 L618,177.48 L618.5,177.48 L619,177.49 L619.5,177.49 L620,177.49 L620.5,177.49 L621,177.49 L621.5,177.5 L622,177.5 L622.5,177.5 L623,177.5 L623.5,177.5" fill="none" stroke="#ff1a1a" stroke-width="0.8" opacity="0.8"/>
<path d="M570.5,177.5 L570.5,177.5 L571,177.5 L571.5,177.49 L572,177.49 L572.5,177.49 L573,177.49 L573.5,177.48 L574,177.48 L574.5,177.47 L575,177.46 L575.5,177.45 L576,177.44 L576.5,177.42 L577,177.4 L577.5,177.38 L578,177.35 L578.5,177.31 L579,177.27 L579.5,177.22 L580,177.16 L580.5,177.08 L581,177 L581.5,176.9 L582,176.78 L582.5,176.64 L583,176.48 L583.5,176.29 L584,176.08 L584.5,175.84 L585,175.56 L585.5,175.25 L586,174.9 L586.5,174.51 L587,174.08 L587.5,173.61 L588,173.09 L588.5,172.52 L589,171.91 L589.5,171.24 L590,170.53 L590.5,169.78 L591,168.99 L591.5,168.15 L592,167.28 L592.5,166.38 L593,165.45 L593.5,164.51 L594,163.56 L594.5,162.6 L595,161.66 L595.5,160.73 L596,159.82 L596.5,158.96 L597,158.13 L597.5,157.37 L598,156.67 L598.5,156.04 L599,155.49 L599.5,155.04 L600,154.67 L600.5,154.41 L601,154.25 L601.5,154.2 L602,154.25 L602.5,154.41 L603,154.67 L603.5,155.04 L604,155.49 L604.5,156.04 L605,156.67 L605.5,157.37 L606,158.13 L606.5,158.96 L607,159.82 L607.5,160.73 L608,161.66 L608.5,162.6 L609,163.56 L609.5,164.51 L610,165.45 L610.5,166.38 L611,167.28 L611.5,168.15 L612,168.99 L612.5,169.78 L613,170.53 L613.5,171.24 L614,171.91 L614.5,172.52 L615,173.09 L615.5,173.61 L616,174.08 L616.5,174.51 L617,174.9 L617.5,175.25 L618,175.56 L618.5,175.84 L619,176.08 L619.5,176.29 L620,176.48 L620.5,176.64 L621,176.78 L621.5,176.9 L622,177 L622.5,177.08 L623,177.16 L623.5,177.22 L624,177.27 L624.5,177.31 L625,177.35 L625.5,177.38 L626,177.4 L626.5,177.42 L627,177.44 L627.5,177.45 L628,177.46 L628.5,177.47 L629,177.48 L629.5,177.48 L630,177.49 L630.5,177.49 L631,177.49 L631.5,177.49 L632,177.5 L632.5,177.5 L632.5,177.5Z" fill="#e040e0" fill-opacity="0.78" style="mix-blend-mode:multiply"/>
<path d="M570.5,177.5 L571,177.5 L571.5,177.49 L572,177.49 L572.5,177.49 L573,177.49 L573.5,177.48 L574,177.48 L574.5,177.47 L575,177.46 L575.5,177.45 L576,177.44 L576.5,177.42 L577,177.4 L577.5,177.38 L578,177.35 L578.5,177.31 L579,177.27 L579.5,177.22 L580,177.16 L580.5,177.08 L581,177 L581.5,176.9 L582,176.78 L582.5,176.64 L583,176.48 L583.5,176.29 L584,176.08 L584.5,175.84 L585,175.56 L585.5,175.25 L586,174.9 L586.5,174.51 L587,174.08 L587.5,173.61 L588,173.09 L588.5,172.52 L589,171.91 L589.5,171.24 L590,170.53 L590.5,169.78 L591,168.99 L591.5,168.15 L592,167.28 L592.5,166.38 L593,165.45 L593.5,164.51 L594,163.56 L594.5,162.6 L595,161.66 L595.5,160.73 L596,159.82 L596.5,158.96 L597,158.13 L597.5,157.37 L598,156.67 L598.5,156.04 L599,155.49 L599.5,155.04 L600,154.67 L600.5,154.41 L601,154.25 L601.5,154.2 L602,154.25 L602.5,154.41 L603,154.67 L603.5,155.04 L604,155.49 L604.5,156.04 L605,156.67 L605.5,157.37 L606,158.13 L606.5,158.96 L607,159.82 L607.5,160.73 L608,161.66 L608.5,162.6 L609,163.56 L609.5,164.51 L610,165.45 L610.5,166.38 L611,167.28 L611.5,168.15 L612,168.99 L612.5,169.78 L613,170.53 L613.5,171.24 L614,171.91 L614.5,172.52 L615,173.09 L615.5,173.61 L616,174.08 L616.5,174.51 L617,174.9 L617.5,175.25 L618,175.56 L618.5,175.84 L619,176.08 L619.5,176.29 L620,176.48 L620.5,176.64 L621,176.78 L621.5,176.9 L622,177 L622.5,177.08 L623,177.16 L623.5,177.22 L624,177.27 L624.5,177.31 L625,177.35 L625.5,177.38 L626,177.4 L626.5,177.42 L627,177.44 L627.5,177.45 L628,177.46 L628.5,177.47 L629,177.48 L629.5,177.48 L630,177.49 L630.5,177.49 L631,177.49 L631.5,177.49 L632,177.5 L632.5,177.5" fill="none" stroke="#ff33ff" stroke-width="0.8" opacity="0.8"/>
<path d="M498.5,177.5 L530,177.4 L530.61,177.34 L531.45,177.3 L532.44,177.23 L533.54,177.09 L534.68,176.86 L535.8,176.5 L536.95,176 L538.17,175.4 L539.44,174.7 L540.71,173.91 L541.95,173.04 L543.1,172.1 L544.17,171.08 L545.2,169.96 L546.19,168.76 L547.14,167.5 L548.08,166.17 L549,164.8 L549.9,163.37 L550.76,161.86 L551.6,160.29 L552.43,158.68 L553.26,157.04 L554.1,155.4 L554.94,153.68 L555.77,151.87 L556.61,150.03 L557.45,148.23 L558.31,146.57 L559.2,145.1 L560.12,143.82 L561.05,142.67 L562.01,141.65 L562.98,140.75 L563.98,139.97 L565,139.3 L566.07,138.76 L567.2,138.34 L568.34,138.05 L569.48,137.87 L570.58,137.79 L571.6,137.8 L572.54,137.93 L573.41,138.18 L574.24,138.53 L575.06,138.97 L575.87,139.46 L576.7,140 L577.54,140.62 L578.37,141.36 L579.2,142.16 L580.04,142.96 L580.9,143.73 L581.8,144.4 L582.73,144.99 L583.69,145.56 L584.66,146.08 L585.66,146.54 L586.67,146.96 L587.7,147.3 L588.75,147.55 L589.82,147.7 L590.91,147.79 L592,147.87 L593.1,147.96 L594.2,148.1 L595.31,148.26 L596.45,148.41 L597.59,148.57 L598.71,148.79 L599.79,149.09 L600.8,149.5 L601.74,150.03 L602.61,150.64 L603.44,151.33 L604.26,152.11 L605.07,152.96 L605.9,153.9 L606.75,154.94 L607.6,156.09 L608.45,157.32 L609.3,158.61 L610.15,159.91 L611,161.2 L611.84,162.53 L612.67,163.92 L613.5,165.34 L614.34,166.72 L615.2,168.03 L616.1,169.2 L617.01,170.25 L617.93,171.22 L618.87,172.11 L619.85,172.92 L620.89,173.65 L622,174.3 L623.19,174.85 L624.44,175.3 L625.74,175.67 L627.11,175.98 L628.53,176.25 L630,176.5 L631.67,176.72 L633.56,176.9 L635.5,177.04 L637.33,177.14 L638.89,177.23 L640,177.3 L669.7,177.5" fill="none" stroke="#222" stroke-width="1.0" stroke-dasharray="2.8,2.0"/>
<line x1="498.5" y1="177.5" x2="669.7" y2="177.5" stroke="#ff44ff" stroke-width="1.3" />
<path d="M512,219.2 L512,219.2 L512.5,219.19 L513,219.19 L513.5,219.19 L514,219.18 L514.5,219.18 L515,219.17 L515.5,219.15 L516,219.14 L516.5,219.12 L517,219.09 L517.5,219.05 L518,219 L518.5,218.93 L519,218.85 L519.5,218.75 L520,218.62 L520.5,218.46 L521,218.26 L521.5,218.02 L522,217.73 L522.5,217.39 L523,216.98 L523.5,216.5 L524,215.95 L524.5,215.31 L525,214.58 L525.5,213.76 L526,212.84 L526.5,211.83 L527,210.73 L527.5,209.54 L528,208.27 L528.5,206.93 L529,205.54 L529.5,204.1 L530,202.65 L530.5,201.21 L531,199.79 L531.5,198.43 L532,197.15 L532.5,195.98 L533,194.94 L533.5,194.06 L534,193.34 L534.5,192.82 L535,192.51 L535.5,192.4 L536,192.51 L536.5,192.82 L537,193.34 L537.5,194.06 L538,194.94 L538.5,195.98 L539,197.15 L539.5,198.43 L540,199.79 L540.5,201.21 L541,202.65 L541.5,204.1 L542,205.54 L542.5,206.93 L543,208.27 L543.5,209.54 L544,210.73 L544.5,211.83 L545,212.84 L545.5,213.76 L546,214.58 L546.5,215.31 L547,215.95 L547.5,216.5 L548,216.98 L548.5,217.39 L549,217.73 L549.5,218.02 L550,218.26 L550.5,218.46 L551,218.62 L551.5,218.75 L552,218.85 L552.5,218.93 L553,219 L553.5,219.05 L554,219.09 L554.5,219.12 L555,219.14 L555.5,219.15 L556,219.17 L556.5,219.18 L557,219.18 L557.5,219.19 L558,219.19 L558.5,219.19 L559,219.2 L559,219.2Z" fill="#9fd897" fill-opacity="0.78" style="mix-blend-mode:multiply"/>
<path d="M512,219.2 L512.5,219.19 L513,219.19 L513.5,219.19 L514,219.18 L514.5,219.18 L515,219.17 L515.5,219.15 L516,219.14 L516.5,219.12 L517,219.09 L517.5,219.05 L518,219 L518.5,218.93 L519,218.85 L519.5,218.75 L520,218.62 L520.5,218.46 L521,218.26 L521.5,218.02 L522,217.73 L522.5,217.39 L523,216.98 L523.5,216.5 L524,215.95 L524.5,215.31 L525,214.58 L525.5,213.76 L526,212.84 L526.5,211.83 L527,210.73 L527.5,209.54 L528,208.27 L528.5,206.93 L529,205.54 L529.5,204.1 L530,202.65 L530.5,201.21 L531,199.79 L531.5,198.43 L532,197.15 L532.5,195.98 L533,194.94 L533.5,194.06 L534,193.34 L534.5,192.82 L535,192.51 L535.5,192.4 L536,192.51 L536.5,192.82 L537,193.34 L537.5,194.06 L538,194.94 L538.5,195.98 L539,197.15 L539.5,198.43 L540,199.79 L540.5,201.21 L541,202.65 L541.5,204.1 L542,205.54 L542.5,206.93 L543,208.27 L543.5,209.54 L544,210.73 L544.5,211.83 L545,212.84 L545.5,213.76 L546,214.58 L546.5,215.31 L547,215.95 L547.5,216.5 L548,216.98 L548.5,217.39 L549,217.73 L549.5,218.02 L550,218.26 L550.5,218.46 L551,218.62 L551.5,218.75 L552,218.85 L552.5,218.93 L553,219 L553.5,219.05 L554,219.09 L554.5,219.12 L555,219.14 L555.5,219.15 L556,219.17 L556.5,219.18 L557,219.18 L557.5,219.19 L558,219.19 L558.5,219.19 L559,219.2" fill="none" stroke="#84dd84" stroke-width="0.8" opacity="0.8"/>
<path d="M499,219.2 L499,219.2 L499.5,219.2 L500,219.2 L500.5,219.2 L501,219.2 L501.5,219.19 L502,219.19 L502.5,219.19 L503,219.19 L503.5,219.19 L504,219.19 L504.5,219.19 L505,219.19 L505.5,219.18 L506,219.18 L506.5,219.18 L507,219.17 L507.5,219.17 L508,219.17 L508.5,219.16 L509,219.16 L509.5,219.15 L510,219.15 L510.5,219.14 L511,219.13 L511.5,219.12 L512,219.11 L512.5,219.1 L513,219.09 L513.5,219.08 L514,219.06 L514.5,219.04 L515,219.03 L515.5,219.01 L516,218.98 L516.5,218.96 L517,218.93 L517.5,218.9 L518,218.87 L518.5,218.83 L519,218.8 L519.5,218.75 L520,218.71 L520.5,218.66 L521,218.61 L521.5,218.55 L522,218.48 L522.5,218.42 L523,218.34 L523.5,218.26 L524,218.18 L524.5,218.09 L525,217.99 L525.5,217.89 L526,217.78 L526.5,217.66 L527,217.53 L527.5,217.4 L528,217.26 L528.5,217.11 L529,216.95 L529.5,216.78 L530,216.6 L530.5,216.42 L531,216.22 L531.5,216.02 L532,215.8 L532.5,215.58 L533,215.35 L533.5,215.11 L534,214.86 L534.5,214.59 L535,214.33 L535.5,214.05 L536,213.76 L536.5,213.46 L537,213.16 L537.5,212.85 L538,212.53 L538.5,212.21 L539,211.88 L539.5,211.54 L540,211.21 L540.5,210.86 L541,210.52 L541.5,210.17 L542,209.82 L542.5,209.47 L543,209.12 L543.5,208.77 L544,208.42 L544.5,208.08 L545,207.75 L545.5,207.41 L546,207.09 L546.5,206.77 L547,206.47 L547.5,206.17 L548,205.88 L548.5,205.61 L549,205.34 L549.5,205.1 L550,204.86 L550.5,204.65 L551,204.45 L551.5,204.27 L552,204.1 L552.5,203.96 L553,203.83 L553.5,203.72 L554,203.64 L554.5,203.57 L555,203.53 L555.5,203.5 L556,203.5 L556.5,203.52 L557,203.56 L557.5,203.62 L558,203.7 L558.5,203.81 L559,203.93 L559.5,204.07 L560,204.23 L560.5,204.41 L561,204.61 L561.5,204.82 L562,205.05 L562.5,205.29 L563,205.55 L563.5,205.83 L564,206.11 L564.5,206.41 L565,206.71 L565.5,207.03 L566,207.35 L566.5,207.68 L567,208.02 L567.5,208.36 L568,208.7 L568.5,209.05 L569,209.4 L569.5,209.75 L570,210.1 L570.5,210.45 L571,210.79 L571.5,211.14 L572,211.48 L572.5,211.81 L573,212.14 L573.5,212.47 L574,212.79 L574.5,213.1 L575,213.4 L575.5,213.7 L576,213.99 L576.5,214.27 L577,214.54 L577.5,214.8 L578,215.06 L578.5,215.3 L579,215.54 L579.5,215.76 L580,215.98 L580.5,216.18 L581,216.38 L581.5,216.57 L582,216.75 L582.5,216.91 L583,217.08 L583.5,217.23 L584,217.37 L584.5,217.51 L585,217.63 L585.5,217.75 L586,217.87 L586.5,217.97 L587,218.07 L587.5,218.16 L588,218.25 L588.5,218.33 L589,218.4 L589.5,218.47 L590,218.54 L590.5,218.59 L591,218.65 L591.5,218.7 L592,218.75 L592.5,218.79 L593,218.83 L593.5,218.86 L594,218.9 L594.5,218.93 L595,218.95 L595.5,218.98 L596,219 L596.5,219.02 L597,219.04 L597.5,219.06 L598,219.07 L598.5,219.09 L599,219.1 L599.5,219.11 L600,219.12 L600.5,219.13 L601,219.14 L601.5,219.14 L602,219.15 L602.5,219.16 L603,219.16 L603.5,219.17 L604,219.17 L604.5,219.17 L605,219.18 L605.5,219.18 L606,219.18 L606.5,219.18 L607,219.19 L607.5,219.19 L608,219.19 L608.5,219.19 L609,219.19 L609.5,219.19 L610,219.19 L610.5,219.2 L611,219.2 L611.5,219.2 L612,219.2 L612.5,219.2 L612.5,219.2Z" fill="#3f3ff0" fill-opacity="0.78" style="mix-blend-mode:multiply"/>
<path d="M499,219.2 L499.5,219.2 L500,219.2 L500.5,219.2 L501,219.2 L501.5,219.19 L502,219.19 L502.5,219.19 L503,219.19 L503.5,219.19 L504,219.19 L504.5,219.19 L505,219.19 L505.5,219.18 L506,219.18 L506.5,219.18 L507,219.17 L507.5,219.17 L508,219.17 L508.5,219.16 L509,219.16 L509.5,219.15 L510,219.15 L510.5,219.14 L511,219.13 L511.5,219.12 L512,219.11 L512.5,219.1 L513,219.09 L513.5,219.08 L514,219.06 L514.5,219.04 L515,219.03 L515.5,219.01 L516,218.98 L516.5,218.96 L517,218.93 L517.5,218.9 L518,218.87 L518.5,218.83 L519,218.8 L519.5,218.75 L520,218.71 L520.5,218.66 L521,218.61 L521.5,218.55 L522,218.48 L522.5,218.42 L523,218.34 L523.5,218.26 L524,218.18 L524.5,218.09 L525,217.99 L525.5,217.89 L526,217.78 L526.5,217.66 L527,217.53 L527.5,217.4 L528,217.26 L528.5,217.11 L529,216.95 L529.5,216.78 L530,216.6 L530.5,216.42 L531,216.22 L531.5,216.02 L532,215.8 L532.5,215.58 L533,215.35 L533.5,215.11 L534,214.86 L534.5,214.59 L535,214.33 L535.5,214.05 L536,213.76 L536.5,213.46 L537,213.16 L537.5,212.85 L538,212.53 L538.5,212.21 L539,211.88 L539.5,211.54 L540,211.21 L540.5,210.86 L541,210.52 L541.5,210.17 L542,209.82 L542.5,209.47 L543,209.12 L543.5,208.77 L544,208.42 L544.5,208.08 L545,207.75 L545.5,207.41 L546,207.09 L546.5,206.77 L547,206.47 L547.5,206.17 L548,205.88 L548.5,205.61 L549,205.34 L549.5,205.1 L550,204.86 L550.5,204.65 L551,204.45 L551.5,204.27 L552,204.1 L552.5,203.96 L553,203.83 L553.5,203.72 L554,203.64 L554.5,203.57 L555,203.53 L555.5,203.5 L556,203.5 L556.5,203.52 L557,203.56 L557.5,203.62 L558,203.7 L558.5,203.81 L559,203.93 L559.5,204.07 L560,204.23 L560.5,204.41 L561,204.61 L561.5,204.82 L562,205.05 L562.5,205.29 L563,205.55 L563.5,205.83 L564,206.11 L564.5,206.41 L565,206.71 L565.5,207.03 L566,207.35 L566.5,207.68 L567,208.02 L567.5,208.36 L568,208.7 L568.5,209.05 L569,209.4 L569.5,209.75 L570,210.1 L570.5,210.45 L571,210.79 L571.5,211.14 L572,211.48 L572.5,211.81 L573,212.14 L573.5,212.47 L574,212.79 L574.5,213.1 L575,213.4 L575.5,213.7 L576,213.99 L576.5,214.27 L577,214.54 L577.5,214.8 L578,215.06 L578.5,215.3 L579,215.54 L579.5,215.76 L580,215.98 L580.5,216.18 L581,216.38 L581.5,216.57 L582,216.75 L582.5,216.91 L583,217.08 L583.5,217.23 L584,217.37 L584.5,217.51 L585,217.63 L585.5,217.75 L586,217.87 L586.5,217.97 L587,218.07 L587.5,218.16 L588,218.25 L588.5,218.33 L589,218.4 L589.5,218.47 L590,218.54 L590.5,218.59 L591,218.65 L591.5,218.7 L592,218.75 L592.5,218.79 L593,218.83 L593.5,218.86 L594,218.9 L594.5,218.93 L595,218.95 L595.5,218.98 L596,219 L596.5,219.02 L597,219.04 L597.5,219.06 L598,219.07 L598.5,219.09 L599,219.1 L599.5,219.11 L600,219.12 L600.5,219.13 L601,219.14 L601.5,219.14 L602,219.15 L602.5,219.16 L603,219.16 L603.5,219.17 L604,219.17 L604.5,219.17 L605,219.18 L605.5,219.18 L606,219.18 L606.5,219.18 L607,219.19 L607.5,219.19 L608,219.19 L608.5,219.19 L609,219.19 L609.5,219.19 L610,219.19 L610.5,219.2 L611,219.2 L611.5,219.2 L612,219.2 L612.5,219.2" fill="none" stroke="#2222ff" stroke-width="0.8" opacity="0.8"/>
<path d="M530.5,219.2 L530.5,219.2 L531,219.2 L531.5,219.2 L532,219.2 L532.5,219.2 L533,219.2 L533.5,219.2 L534,219.2 L534.5,219.2 L535,219.2 L535.5,219.2 L536,219.19 L536.5,219.19 L537,219.19 L537.5,219.19 L538,219.19 L538.5,219.19 L539,219.18 L539.5,219.18 L540,219.18 L540.5,219.17 L541,219.17 L541.5,219.16 L542,219.16 L542.5,219.15 L543,219.14 L543.5,219.13 L544,219.12 L544.5,219.11 L545,219.1 L545.5,219.09 L546,219.07 L546.5,219.05 L547,219.03 L547.5,219.01 L548,218.99 L548.5,218.96 L549,218.93 L549.5,218.9 L550,218.86 L550.5,218.82 L551,218.78 L551.5,218.74 L552,218.69 L552.5,218.63 L553,218.57 L553.5,218.51 L554,218.45 L554.5,218.38 L555,218.3 L555.5,218.23 L556,218.14 L556.5,218.06 L557,217.97 L557.5,217.87 L558,217.77 L558.5,217.67 L559,217.57 L559.5,217.46 L560,217.35 L560.5,217.24 L561,217.12 L561.5,217.01 L562,216.9 L562.5,216.78 L563,216.67 L563.5,216.55 L564,216.44 L564.5,216.33 L565,216.23 L565.5,216.12 L566,216.03 L566.5,215.93 L567,215.85 L567.5,215.77 L568,215.69 L568.5,215.63 L569,215.57 L569.5,215.52 L570,215.48 L570.5,215.44 L571,215.42 L571.5,215.4 L572,215.4 L572.5,215.4 L573,215.42 L573.5,215.44 L574,215.48 L574.5,215.52 L575,215.57 L575.5,215.63 L576,215.69 L576.5,215.77 L577,215.85 L577.5,215.93 L578,216.03 L578.5,216.12 L579,216.23 L579.5,216.33 L580,216.44 L580.5,216.55 L581,216.67 L581.5,216.78 L582,216.9 L582.5,217.01 L583,217.12 L583.5,217.24 L584,217.35 L584.5,217.46 L585,217.57 L585.5,217.67 L586,217.77 L586.5,217.87 L587,217.97 L587.5,218.06 L588,218.14 L588.5,218.23 L589,218.3 L589.5,218.38 L590,218.45 L590.5,218.51 L591,218.57 L591.5,218.63 L592,218.69 L592.5,218.74 L593,218.78 L593.5,218.82 L594,218.86 L594.5,218.9 L595,218.93 L595.5,218.96 L596,218.99 L596.5,219.01 L597,219.03 L597.5,219.05 L598,219.07 L598.5,219.09 L599,219.1 L599.5,219.11 L600,219.12 L600.5,219.13 L601,219.14 L601.5,219.15 L602,219.16 L602.5,219.16 L603,219.17 L603.5,219.17 L604,219.18 L604.5,219.18 L605,219.18 L605.5,219.19 L606,219.19 L606.5,219.19 L607,219.19 L607.5,219.19 L608,219.19 L608.5,219.2 L609,219.2 L609.5,219.2 L610,219.2 L610.5,219.2 L611,219.2 L611.5,219.2 L612,219.2 L612.5,219.2 L613,219.2 L613.5,219.2 L613.5,219.2Z" fill="#e8474a" fill-opacity="0.78" style="mix-blend-mode:multiply"/>
<path d="M530.5,219.2 L531,219.2 L531.5,219.2 L532,219.2 L532.5,219.2 L533,219.2 L533.5,219.2 L534,219.2 L534.5,219.2 L535,219.2 L535.5,219.2 L536,219.19 L536.5,219.19 L537,219.19 L537.5,219.19 L538,219.19 L538.5,219.19 L539,219.18 L539.5,219.18 L540,219.18 L540.5,219.17 L541,219.17 L541.5,219.16 L542,219.16 L542.5,219.15 L543,219.14 L543.5,219.13 L544,219.12 L544.5,219.11 L545,219.1 L545.5,219.09 L546,219.07 L546.5,219.05 L547,219.03 L547.5,219.01 L548,218.99 L548.5,218.96 L549,218.93 L549.5,218.9 L550,218.86 L550.5,218.82 L551,218.78 L551.5,218.74 L552,218.69 L552.5,218.63 L553,218.57 L553.5,218.51 L554,218.45 L554.5,218.38 L555,218.3 L555.5,218.23 L556,218.14 L556.5,218.06 L557,217.97 L557.5,217.87 L558,217.77 L558.5,217.67 L559,217.57 L559.5,217.46 L560,217.35 L560.5,217.24 L561,217.12 L561.5,217.01 L562,216.9 L562.5,216.78 L563,216.67 L563.5,216.55 L564,216.44 L564.5,216.33 L565,216.23 L565.5,216.12 L566,216.03 L566.5,215.93 L567,215.85 L567.5,215.77 L568,215.69 L568.5,215.63 L569,215.57 L569.5,215.52 L570,215.48 L570.5,215.44 L571,215.42 L571.5,215.4 L572,215.4 L572.5,215.4 L573,215.42 L573.5,215.44 L574,215.48 L574.5,215.52 L575,215.57 L575.5,215.63 L576,215.69 L576.5,215.77 L577,215.85 L577.5,215.93 L578,216.03 L578.5,216.12 L579,216.23 L579.5,216.33 L580,216.44 L580.5,216.55 L581,216.67 L581.5,216.78 L582,216.9 L582.5,217.01 L583,217.12 L583.5,217.24 L584,217.35 L584.5,217.46 L585,217.57 L585.5,217.67 L586,217.77 L586.5,217.87 L587,217.97 L587.5,218.06 L588,218.14 L588.5,218.23 L589,218.3 L589.5,218.38 L590,218.45 L590.5,218.51 L591,218.57 L591.5,218.63 L592,218.69 L592.5,218.74 L593,218.78 L593.5,218.82 L594,218.86 L594.5,218.9 L595,218.93 L595.5,218.96 L596,218.99 L596.5,219.01 L597,219.03 L597.5,219.05 L598,219.07 L598.5,219.09 L599,219.1 L599.5,219.11 L600,219.12 L600.5,219.13 L601,219.14 L601.5,219.15 L602,219.16 L602.5,219.16 L603,219.17 L603.5,219.17 L604,219.18 L604.5,219.18 L605,219.18 L605.5,219.19 L606,219.19 L606.5,219.19 L607,219.19 L607.5,219.19 L608,219.19 L608.5,219.2 L609,219.2 L609.5,219.2 L610,219.2 L610.5,219.2 L611,219.2 L611.5,219.2 L612,219.2 L612.5,219.2 L613,219.2 L613.5,219.2" fill="none" stroke="#ff1a1a" stroke-width="0.8" opacity="0.8"/>
<path d="M539,219.2 L539,219.2 L539.5,219.2 L540,219.2 L540.5,219.2 L541,219.2 L541.5,219.19 L542,219.19 L542.5,219.19 L543,219.19 L543.5,219.19 L544,219.19 L544.5,219.19 L545,219.19 L545.5,219.19 L546,219.18 L546.5,219.18 L547,219.18 L547.5,219.18 L548,219.17 L548.5,219.17 L549,219.17 L549.5,219.16 L550,219.16 L550.5,219.16 L551,219.15 L551.5,219.14 L552,219.14 L552.5,219.13 L553,219.12 L553.5,219.11 L554,219.1 L554.5,219.09 L555,219.08 L555.5,219.07 L556,219.06 L556.5,219.04 L557,219.02 L557.5,219.01 L558,218.99 L558.5,218.96 L559,218.94 L559.5,218.92 L560,218.89 L560.5,218.86 L561,218.83 L561.5,218.79 L562,218.75 L562.5,218.71 L563,218.67 L563.5,218.62 L564,218.57 L564.5,218.52 L565,218.46 L565.5,218.4 L566,218.33 L566.5,218.26 L567,218.18 L567.5,218.1 L568,218.02 L568.5,217.93 L569,217.83 L569.5,217.73 L570,217.62 L570.5,217.5 L571,217.38 L571.5,217.25 L572,217.12 L572.5,216.98 L573,216.83 L573.5,216.68 L574,216.51 L574.5,216.34 L575,216.16 L575.5,215.98 L576,215.79 L576.5,215.59 L577,215.38 L577.5,215.16 L578,214.94 L578.5,214.71 L579,214.47 L579.5,214.22 L580,213.97 L580.5,213.71 L581,213.44 L581.5,213.16 L582,212.88 L582.5,212.6 L583,212.31 L583.5,212.01 L584,211.71 L584.5,211.4 L585,211.09 L585.5,210.78 L586,210.46 L586.5,210.14 L587,209.82 L587.5,209.5 L588,209.18 L588.5,208.86 L589,208.54 L589.5,208.22 L590,207.91 L590.5,207.6 L591,207.29 L591.5,206.99 L592,206.69 L592.5,206.4 L593,206.12 L593.5,205.84 L594,205.57 L594.5,205.32 L595,205.07 L595.5,204.83 L596,204.61 L596.5,204.4 L597,204.2 L597.5,204.01 L598,203.84 L598.5,203.69 L599,203.54 L599.5,203.42 L600,203.31 L600.5,203.21 L601,203.14 L601.5,203.08 L602,203.03 L602.5,203.01 L603,203 L603.5,203.01 L604,203.03 L604.5,203.08 L605,203.14 L605.5,203.21 L606,203.31 L606.5,203.42 L607,203.54 L607.5,203.69 L608,203.84 L608.5,204.01 L609,204.2 L609.5,204.4 L610,204.61 L610.5,204.83 L611,205.07 L611.5,205.32 L612,205.57 L612.5,205.84 L613,206.12 L613.5,206.4 L614,206.69 L614.5,206.99 L615,207.29 L615.5,207.6 L616,207.91 L616.5,208.22 L617,208.54 L617.5,208.86 L618,209.18 L618.5,209.5 L619,209.82 L619.5,210.14 L620,210.46 L620.5,210.78 L621,211.09 L621.5,211.4 L622,211.71 L622.5,212.01 L623,212.31 L623.5,212.6 L624,212.88 L624.5,213.16 L625,213.44 L625.5,213.71 L626,213.97 L626.5,214.22 L627,214.47 L627.5,214.71 L628,214.94 L628.5,215.16 L629,215.38 L629.5,215.59 L630,215.79 L630.5,215.98 L631,216.16 L631.5,216.34 L632,216.51 L632.5,216.68 L633,216.83 L633.5,216.98 L634,217.12 L634.5,217.25 L635,217.38 L635.5,217.5 L636,217.62 L636.5,217.73 L637,217.83 L637.5,217.93 L638,218.02 L638.5,218.1 L639,218.18 L639.5,218.26 L640,218.33 L640.5,218.4 L641,218.46 L641.5,218.52 L642,218.57 L642.5,218.62 L643,218.67 L643.5,218.71 L644,218.75 L644.5,218.79 L645,218.83 L645.5,218.86 L646,218.89 L646.5,218.92 L647,218.94 L647.5,218.96 L648,218.99 L648.5,219.01 L649,219.02 L649.5,219.04 L650,219.06 L650.5,219.07 L651,219.08 L651.5,219.09 L652,219.1 L652.5,219.11 L653,219.12 L653.5,219.13 L654,219.14 L654.5,219.14 L655,219.15 L655.5,219.16 L656,219.16 L656.5,219.16 L657,219.17 L657.5,219.17 L658,219.17 L658.5,219.18 L659,219.18 L659.5,219.18 L660,219.18 L660.5,219.19 L661,219.19 L661.5,219.19 L662,219.19 L662.5,219.19 L663,219.19 L663.5,219.19 L664,219.19 L664.5,219.19 L665,219.2 L665.5,219.2 L666,219.2 L666.5,219.2 L667,219.2 L667,219.2Z" fill="#e040e0" fill-opacity="0.78" style="mix-blend-mode:multiply"/>
<path d="M539,219.2 L539.5,219.2 L540,219.2 L540.5,219.2 L541,219.2 L541.5,219.19 L542,219.19 L542.5,219.19 L543,219.19 L543.5,219.19 L544,219.19 L544.5,219.19 L545,219.19 L545.5,219.19 L546,219.18 L546.5,219.18 L547,219.18 L547.5,219.18 L548,219.17 L548.5,219.17 L549,219.17 L549.5,219.16 L550,219.16 L550.5,219.16 L551,219.15 L551.5,219.14 L552,219.14 L552.5,219.13 L553,219.12 L553.5,219.11 L554,219.1 L554.5,219.09 L555,219.08 L555.5,219.07 L556,219.06 L556.5,219.04 L557,219.02 L557.5,219.01 L558,218.99 L558.5,218.96 L559,218.94 L559.5,218.92 L560,218.89 L560.5,218.86 L561,218.83 L561.5,218.79 L562,218.75 L562.5,218.71 L563,218.67 L563.5,218.62 L564,218.57 L564.5,218.52 L565,218.46 L565.5,218.4 L566,218.33 L566.5,218.26 L567,218.18 L567.5,218.1 L568,218.02 L568.5,217.93 L569,217.83 L569.5,217.73 L570,217.62 L570.5,217.5 L571,217.38 L571.5,217.25 L572,217.12 L572.5,216.98 L573,216.83 L573.5,216.68 L574,216.51 L574.5,216.34 L575,216.16 L575.5,215.98 L576,215.79 L576.5,215.59 L577,215.38 L577.5,215.16 L578,214.94 L578.5,214.71 L579,214.47 L579.5,214.22 L580,213.97 L580.5,213.71 L581,213.44 L581.5,213.16 L582,212.88 L582.5,212.6 L583,212.31 L583.5,212.01 L584,211.71 L584.5,211.4 L585,211.09 L585.5,210.78 L586,210.46 L586.5,210.14 L587,209.82 L587.5,209.5 L588,209.18 L588.5,208.86 L589,208.54 L589.5,208.22 L590,207.91 L590.5,207.6 L591,207.29 L591.5,206.99 L592,206.69 L592.5,206.4 L593,206.12 L593.5,205.84 L594,205.57 L594.5,205.32 L595,205.07 L595.5,204.83 L596,204.61 L596.5,204.4 L597,204.2 L597.5,204.01 L598,203.84 L598.5,203.69 L599,203.54 L599.5,203.42 L600,203.31 L600.5,203.21 L601,203.14 L601.5,203.08 L602,203.03 L602.5,203.01 L603,203 L603.5,203.01 L604,203.03 L604.5,203.08 L605,203.14 L605.5,203.21 L606,203.31 L606.5,203.42 L607,203.54 L607.5,203.69 L608,203.84 L608.5,204.01 L609,204.2 L609.5,204.4 L610,204.61 L610.5,204.83 L611,205.07 L611.5,205.32 L612,205.57 L612.5,205.84 L613,206.12 L613.5,206.4 L614,206.69 L614.5,206.99 L615,207.29 L615.5,207.6 L616,207.91 L616.5,208.22 L617,208.54 L617.5,208.86 L618,209.18 L618.5,209.5 L619,209.82 L619.5,210.14 L620,210.46 L620.5,210.78 L621,211.09 L621.5,211.4 L622,211.71 L622.5,212.01 L623,212.31 L623.5,212.6 L624,212.88 L624.5,213.16 L625,213.44 L625.5,213.71 L626,213.97 L626.5,214.22 L627,214.47 L627.5,214.71 L628,214.94 L628.5,215.16 L629,215.38 L629.5,215.59 L630,215.79 L630.5,215.98 L631,216.16 L631.5,216.34 L632,216.51 L632.5,216.68 L633,216.83 L633.5,216.98 L634,217.12 L634.5,217.25 L635,217.38 L635.5,217.5 L636,217.62 L636.5,217.73 L637,217.83 L637.5,217.93 L638,218.02 L638.5,218.1 L639,218.18 L639.5,218.26 L640,218.33 L640.5,218.4 L641,218.46 L641.5,218.52 L642,218.57 L642.5,218.62 L643,218.67 L643.5,218.71 L644,218.75 L644.5,218.79 L645,218.83 L645.5,218.86 L646,218.89 L646.5,218.92 L647,218.94 L647.5,218.96 L648,218.99 L648.5,219.01 L649,219.02 L649.5,219.04 L650,219.06 L650.5,219.07 L651,219.08 L651.5,219.09 L652,219.1 L652.5,219.11 L653,219.12 L653.5,219.13 L654,219.14 L654.5,219.14 L655,219.15 L655.5,219.16 L656,219.16 L656.5,219.16 L657,219.17 L657.5,219.17 L658,219.17 L658.5,219.18 L659,219.18 L659.5,219.18 L660,219.18 L660.5,219.19 L661,219.19 L661.5,219.19 L662,219.19 L662.5,219.19 L663,219.19 L663.5,219.19 L664,219.19 L664.5,219.19 L665,219.2 L665.5,219.2 L666,219.2 L666.5,219.2 L667,219.2" fill="none" stroke="#ff33ff" stroke-width="0.8" opacity="0.8"/>
<path d="M498.5,219.2 L505,219.1 L505.78,219.09 L506.87,219.09 L508.16,219.08 L509.52,219.04 L510.84,218.95 L512,218.8 L513.01,218.62 L513.95,218.44 L514.86,218.22 L515.74,217.9 L516.61,217.44 L517.5,216.8 L518.42,215.93 L519.35,214.87 L520.27,213.67 L521.17,212.39 L522.02,211.08 L522.8,209.8 L523.5,208.53 L524.13,207.2 L524.72,205.85 L525.27,204.5 L525.79,203.18 L526.3,201.9 L526.79,200.68 L527.23,199.5 L527.66,198.34 L528.07,197.2 L528.48,196.06 L528.9,194.9 L529.33,193.69 L529.76,192.44 L530.19,191.18 L530.63,189.97 L531.06,188.86 L531.5,187.9 L531.93,187.08 L532.36,186.36 L532.79,185.74 L533.24,185.21 L533.7,184.77 L534.2,184.4 L534.74,184.09 L535.31,183.84 L535.9,183.68 L536.5,183.62 L537.11,183.69 L537.7,183.9 L538.27,184.27 L538.84,184.79 L539.4,185.43 L539.97,186.18 L540.57,187.01 L541.2,187.9 L541.87,188.91 L542.57,190.08 L543.29,191.32 L544.03,192.59 L544.77,193.8 L545.5,194.9 L546.23,195.91 L546.96,196.91 L547.69,197.85 L548.43,198.71 L549.17,199.47 L549.9,200.1 L550.62,200.57 L551.32,200.89 L552.02,201.11 L552.74,201.26 L553.49,201.37 L554.3,201.5 L555.19,201.61 L556.15,201.68 L557.14,201.71 L558.14,201.73 L559.1,201.76 L560,201.8 L560.76,201.85 L561.39,201.9 L561.98,201.94 L562.64,202 L563.45,202.09 L564.5,202.2 L565.82,202.37 L567.34,202.59 L569.01,202.82 L570.79,203.06 L572.63,203.26 L574.5,203.4 L576.43,203.48 L578.46,203.51 L580.55,203.52 L582.68,203.5 L584.81,203.45 L586.9,203.4 L589,203.31 L591.13,203.17 L593.26,203.01 L595.35,202.86 L597.38,202.74 L599.3,202.7 L601.09,202.71 L602.79,202.76 L604.41,202.85 L605.99,202.98 L607.58,203.16 L609.2,203.4 L610.85,203.68 L612.5,204.01 L614.14,204.38 L615.79,204.81 L617.44,205.32 L619.1,205.9 L620.76,206.59 L622.43,207.39 L624.1,208.25 L625.77,209.15 L627.44,210.04 L629.1,210.9 L630.76,211.76 L632.41,212.65 L634.06,213.54 L635.7,214.39 L637.35,215.15 L639,215.8 L640.65,216.31 L642.3,216.71 L643.95,217.04 L645.6,217.31 L647.25,217.55 L648.9,217.8 L650.66,218.05 L652.57,218.27 L654.47,218.48 L656.23,218.65 L657.72,218.79 L658.8,218.9 L669.7,219.2" fill="none" stroke="#222" stroke-width="1.0" stroke-dasharray="2.8,2.0"/>
<line x1="498.5" y1="219.2" x2="669.7" y2="219.2" stroke="#ff44ff" stroke-width="1.3" />
<rect x="498.5" y="89.3" width="171.2" height="136.9" fill="none" stroke="#333" stroke-width="0.9" />
<line x1="498.5" y1="131.6" x2="669.7" y2="131.6" stroke="#333" stroke-width="0.8" />
<line x1="498.5" y1="178" x2="669.7" y2="178" stroke="#333" stroke-width="0.8" />
<path d="M498.7,226.2v-1.6M523.4,226.2v-2.4M548.1,226.2v-1.6M572.8,226.2v-2.4M597.5,226.2v-1.6M622.2,226.2v-2.4M646.9,226.2v-1.6" stroke="#333" stroke-width="0.8"/>
<text x="523.4" y="236.6" font-size="8.9" font-weight="bold" fill="#000" text-anchor="middle" >530</text>
<text x="572.8" y="236.6" font-size="8.9" font-weight="bold" fill="#000" text-anchor="middle" >532</text>
<text x="622.2" y="236.6" font-size="8.9" font-weight="bold" fill="#000" text-anchor="middle" >534</text>
<text x="671.6" y="236.6" font-size="8.9" font-weight="bold" fill="#000" text-anchor="middle" >536</text>
<text x="583.7" y="250.8" font-size="11.75" font-weight="bold" fill="#000" text-anchor="middle" >Binding energy (eV)</text>
<text transform="translate(478.5,156.2) rotate(-90)" font-size="11.75" font-weight="bold" fill="#000" text-anchor="middle">Intensity (a. u.)</text>
<text x="465.6" y="99.3" font-size="17.5" font-weight="bold" fill="#000" text-anchor="start" >d</text>
<text x="507" y="102.6" font-size="9.4" font-weight="bold" fill="#000" text-anchor="start" >O 1<tspan font-style="italic">s</tspan></text>
<text x="663.6" y="102.6" font-size="9.4" font-weight="bold" fill="#000" text-anchor="end" >MGP</text>
<text x="663.6" y="149" font-size="9.4" font-weight="bold" fill="#000" text-anchor="end" >MG</text>
<text x="663.8" y="190.6" font-size="9.9" font-weight="bold" fill="#000" text-anchor="end" >MXene</text>
<text x="500.8" y="190.6" font-size="9.6" font-weight="bold" fill="#8fd16f" text-anchor="start" >O-Ti-O</text>
<text x="546.4" y="194.9" font-size="9.6" font-weight="bold" fill="#6b6bf0" text-anchor="start" >C-Ti-OX</text>
<text x="582.5" y="198.3" font-size="9.6" font-weight="bold" fill="#ee1111" text-anchor="start" >O-C</text>
<text x="619.5" y="201.7" font-size="9.6" font-weight="bold" fill="#f03cf0" text-anchor="start" >C-Ti-OH</text>
<line x1="521" y1="192.3" x2="528" y2="200.6" stroke="#111" stroke-width="1.0" />
<line x1="562.5" y1="196.5" x2="556.5" y2="202.5" stroke="#111" stroke-width="1.0" />
<line x1="585" y1="201" x2="574.5" y2="216.5" stroke="#111" stroke-width="1.0" />
<line x1="629" y1="203.5" x2="623" y2="210.5" stroke="#111" stroke-width="1.0" />
<text x="0.5" y="268.2" font-size="17.5" font-weight="bold" fill="#000" text-anchor="start" >e</text>
<polygon points="150,309 256.7,269.8 256.7,380.6 150,333" fill="url(#gray)"/>
<line x1="155" y1="278.91" x2="155" y2="273.11" stroke="#30d030" stroke-width="1.0" />
<circle cx="155" cy="272.81" r="1.3" fill="url(#gH)"/>
<line x1="158.5" y1="278.99" x2="158.5" y2="273.19" stroke="#30d030" stroke-width="1.0" />
<circle cx="158.5" cy="272.89" r="1.3" fill="url(#gH)"/>
<line x1="162" y1="279.06" x2="162" y2="273.26" stroke="#30d030" stroke-width="1.0" />
<circle cx="162" cy="272.96" r="1.3" fill="url(#gH)"/>
<line x1="165.5" y1="279.14" x2="165.5" y2="273.34" stroke="#30d030" stroke-width="1.0" />
<circle cx="165.5" cy="273.04" r="1.3" fill="url(#gH)"/>
<line x1="169" y1="279.22" x2="169" y2="273.42" stroke="#30d030" stroke-width="1.0" />
<circle cx="169" cy="273.12" r="1.3" fill="url(#gH)"/>
<line x1="172.5" y1="279.3" x2="172.5" y2="273.5" stroke="#30d030" stroke-width="1.0" />
<circle cx="172.5" cy="273.19" r="1.3" fill="url(#gH)"/>
<line x1="176" y1="279.37" x2="176" y2="273.57" stroke="#30d030" stroke-width="1.0" />
<circle cx="176" cy="273.27" r="1.3" fill="url(#gH)"/>
<line x1="179.5" y1="279.45" x2="179.5" y2="273.65" stroke="#30d030" stroke-width="1.0" />
<circle cx="179.5" cy="273.35" r="1.3" fill="url(#gH)"/>
<line x1="183" y1="279.53" x2="183" y2="273.73" stroke="#30d030" stroke-width="1.0" />
<circle cx="183" cy="273.43" r="1.3" fill="url(#gH)"/>
<line x1="186.5" y1="279.6" x2="186.5" y2="273.8" stroke="#30d030" stroke-width="1.0" />
<circle cx="186.5" cy="273.5" r="1.3" fill="url(#gH)"/>
<line x1="190" y1="279.68" x2="190" y2="273.88" stroke="#30d030" stroke-width="1.0" />
<circle cx="190" cy="273.58" r="1.3" fill="url(#gH)"/>
<line x1="193.5" y1="279.76" x2="193.5" y2="273.96" stroke="#30d030" stroke-width="1.0" />
<circle cx="193.5" cy="273.66" r="1.3" fill="url(#gH)"/>
<line x1="197" y1="279.83" x2="197" y2="274.03" stroke="#30d030" stroke-width="1.0" />
<circle cx="197" cy="273.73" r="1.3" fill="url(#gH)"/>
<line x1="200.5" y1="279.91" x2="200.5" y2="274.11" stroke="#30d030" stroke-width="1.0" />
<circle cx="200.5" cy="273.81" r="1.3" fill="url(#gH)"/>
<line x1="204" y1="279.99" x2="204" y2="274.19" stroke="#30d030" stroke-width="1.0" />
<circle cx="204" cy="273.89" r="1.3" fill="url(#gH)"/>
<line x1="207.5" y1="280.06" x2="207.5" y2="274.26" stroke="#30d030" stroke-width="1.0" />
<circle cx="207.5" cy="273.96" r="1.3" fill="url(#gH)"/>
<line x1="211" y1="280.14" x2="211" y2="274.34" stroke="#30d030" stroke-width="1.0" />
<circle cx="211" cy="274.04" r="1.3" fill="url(#gH)"/>
<line x1="214.5" y1="280.22" x2="214.5" y2="274.42" stroke="#30d030" stroke-width="1.0" />
<circle cx="214.5" cy="274.12" r="1.3" fill="url(#gH)"/>
<line x1="218" y1="280.3" x2="218" y2="274.5" stroke="#30d030" stroke-width="1.0" />
<circle cx="218" cy="274.2" r="1.3" fill="url(#gH)"/>
<line x1="221.5" y1="280.37" x2="221.5" y2="274.57" stroke="#30d030" stroke-width="1.0" />
<circle cx="221.5" cy="274.27" r="1.3" fill="url(#gH)"/>
<line x1="225" y1="280.45" x2="225" y2="274.65" stroke="#30d030" stroke-width="1.0" />
<circle cx="225" cy="274.35" r="1.3" fill="url(#gH)"/>
<line x1="228.5" y1="280.53" x2="228.5" y2="274.73" stroke="#30d030" stroke-width="1.0" />
<circle cx="228.5" cy="274.43" r="1.3" fill="url(#gH)"/>
<line x1="232" y1="280.6" x2="232" y2="274.8" stroke="#30d030" stroke-width="1.0" />
<circle cx="232" cy="274.5" r="1.3" fill="url(#gH)"/>
<line x1="235.5" y1="280.68" x2="235.5" y2="274.88" stroke="#30d030" stroke-width="1.0" />
<circle cx="235.5" cy="274.58" r="1.3" fill="url(#gH)"/>
<line x1="239" y1="280.76" x2="239" y2="274.96" stroke="#30d030" stroke-width="1.0" />
<circle cx="239" cy="274.66" r="1.3" fill="url(#gH)"/>
<line x1="242.5" y1="280.84" x2="242.5" y2="275.04" stroke="#30d030" stroke-width="1.0" />
<circle cx="242.5" cy="274.74" r="1.3" fill="url(#gH)"/>
<line x1="246" y1="280.91" x2="246" y2="275.11" stroke="#30d030" stroke-width="1.0" />
<circle cx="246" cy="274.81" r="1.3" fill="url(#gH)"/>
<line x1="249.5" y1="280.99" x2="249.5" y2="275.19" stroke="#30d030" stroke-width="1.0" />
<circle cx="249.5" cy="274.89" r="1.3" fill="url(#gH)"/>
<circle cx="149.8" cy="283.62" r="2.5" fill="url(#gTi)"/>
<circle cx="153" cy="283.69" r="2.5" fill="url(#gTi)"/>
<circle cx="156.2" cy="283.76" r="2.5" fill="url(#gTi)"/>
<circle cx="159.4" cy="283.83" r="2.5" fill="url(#gTi)"/>
<circle cx="162.6" cy="283.9" r="2.5" fill="url(#gTi)"/>
<circle cx="165.8" cy="283.97" r="2.5" fill="url(#gTi)"/>
<circle cx="169" cy="284.04" r="2.5" fill="url(#gTi)"/>
<circle cx="172.2" cy="284.11" r="2.5" fill="url(#gTi)"/>
<circle cx="175.4" cy="284.19" r="2.5" fill="url(#gTi)"/>
<circle cx="178.6" cy="284.26" r="2.5" fill="url(#gTi)"/>
<circle cx="181.8" cy="284.33" r="2.5" fill="url(#gTi)"/>
<circle cx="185" cy="284.4" r="2.5" fill="url(#gTi)"/>
<circle cx="188.2" cy="284.47" r="2.5" fill="url(#gTi)"/>
<circle cx="191.4" cy="284.54" r="2.5" fill="url(#gTi)"/>
<circle cx="194.6" cy="284.61" r="2.5" fill="url(#gTi)"/>
<circle cx="197.8" cy="284.68" r="2.5" fill="url(#gTi)"/>
<circle cx="201" cy="284.75" r="2.5" fill="url(#gTi)"/>
<circle cx="204.2" cy="284.82" r="2.5" fill="url(#gTi)"/>
<circle cx="207.4" cy="284.89" r="2.5" fill="url(#gTi)"/>
<circle cx="210.6" cy="284.96" r="2.5" fill="url(#gTi)"/>
<circle cx="213.8" cy="285.03" r="2.5" fill="url(#gTi)"/>
<circle cx="217" cy="285.1" r="2.5" fill="url(#gTi)"/>
<circle cx="220.2" cy="285.17" r="2.5" fill="url(#gTi)"/>
<circle cx="223.4" cy="285.24" r="2.5" fill="url(#gTi)"/>
<circle cx="226.6" cy="285.31" r="2.5" fill="url(#gTi)"/>
<circle cx="229.8" cy="285.38" r="2.5" fill="url(#gTi)"/>
<circle cx="233" cy="285.45" r="2.5" fill="url(#gTi)"/>
<circle cx="236.2" cy="285.52" r="2.5" fill="url(#gTi)"/>
<circle cx="239.4" cy="285.59" r="2.5" fill="url(#gTi)"/>
<circle cx="242.6" cy="285.66" r="2.5" fill="url(#gTi)"/>
<circle cx="245.8" cy="285.73" r="2.5" fill="url(#gTi)"/>
<circle cx="249" cy="285.8" r="2.5" fill="url(#gTi)"/>
<circle cx="252.2" cy="285.87" r="2.5" fill="url(#gTi)"/>
<circle cx="152.6" cy="281.76" r="2.5" fill="url(#gTi)"/>
<circle cx="155.8" cy="281.83" r="2.5" fill="url(#gTi)"/>
<circle cx="159" cy="281.9" r="2.5" fill="url(#gTi)"/>
<circle cx="162.2" cy="281.97" r="2.5" fill="url(#gTi)"/>
<circle cx="165.4" cy="282.04" r="2.5" fill="url(#gTi)"/>
<circle cx="168.6" cy="282.11" r="2.5" fill="url(#gTi)"/>
<circle cx="171.8" cy="282.18" r="2.5" fill="url(#gTi)"/>
<circle cx="175" cy="282.25" r="2.5" fill="url(#gTi)"/>
<circle cx="178.2" cy="282.32" r="2.5" fill="url(#gTi)"/>
<circle cx="181.4" cy="282.39" r="2.5" fill="url(#gTi)"/>
<circle cx="184.6" cy="282.46" r="2.5" fill="url(#gTi)"/>
<circle cx="187.8" cy="282.53" r="2.5" fill="url(#gTi)"/>
<circle cx="191" cy="282.6" r="2.5" fill="url(#gTi)"/>
<circle cx="194.2" cy="282.67" r="2.5" fill="url(#gTi)"/>
<circle cx="197.4" cy="282.74" r="2.5" fill="url(#gTi)"/>
<circle cx="200.6" cy="282.81" r="2.5" fill="url(#gTi)"/>
<circle cx="203.8" cy="282.88" r="2.5" fill="url(#gTi)"/>
<circle cx="207" cy="282.95" r="2.5" fill="url(#gTi)"/>
<circle cx="210.2" cy="283.02" r="2.5" fill="url(#gTi)"/>
<circle cx="213.4" cy="283.09" r="2.5" fill="url(#gTi)"/>
<circle cx="216.6" cy="283.17" r="2.5" fill="url(#gTi)"/>
<circle cx="219.8" cy="283.24" r="2.5" fill="url(#gTi)"/>
<circle cx="223" cy="283.31" r="2.5" fill="url(#gTi)"/>
<circle cx="226.2" cy="283.38" r="2.5" fill="url(#gTi)"/>
<circle cx="229.4" cy="283.45" r="2.5" fill="url(#gTi)"/>
<circle cx="232.6" cy="283.52" r="2.5" fill="url(#gTi)"/>
<circle cx="235.8" cy="283.59" r="2.5" fill="url(#gTi)"/>
<circle cx="239" cy="283.66" r="2.5" fill="url(#gTi)"/>
<circle cx="242.2" cy="283.73" r="2.5" fill="url(#gTi)"/>
<circle cx="245.4" cy="283.8" r="2.5" fill="url(#gTi)"/>
<circle cx="248.6" cy="283.87" r="2.5" fill="url(#gTi)"/>
<circle cx="251.8" cy="283.94" r="2.5" fill="url(#gTi)"/>
<circle cx="146.8" cy="291.76" r="2.5" fill="url(#gTi)"/>
<circle cx="150" cy="291.83" r="2.5" fill="url(#gTi)"/>
<circle cx="153.2" cy="291.9" r="2.5" fill="url(#gTi)"/>
<circle cx="156.4" cy="291.97" r="2.5" fill="url(#gTi)"/>
<circle cx="159.6" cy="292.04" r="2.5" fill="url(#gTi)"/>
<circle cx="162.8" cy="292.11" r="2.5" fill="url(#gTi)"/>
<circle cx="166" cy="292.18" r="2.5" fill="url(#gTi)"/>
<circle cx="169.2" cy="292.25" r="2.5" fill="url(#gTi)"/>
<circle cx="172.4" cy="292.32" r="2.5" fill="url(#gTi)"/>
<circle cx="175.6" cy="292.39" r="2.5" fill="url(#gTi)"/>
<circle cx="178.8" cy="292.46" r="2.5" fill="url(#gTi)"/>
<circle cx="182" cy="292.53" r="2.5" fill="url(#gTi)"/>
<circle cx="185.2" cy="292.6" r="2.5" fill="url(#gTi)"/>
<circle cx="188.4" cy="292.67" r="2.5" fill="url(#gTi)"/>
<circle cx="191.6" cy="292.74" r="2.5" fill="url(#gTi)"/>
<circle cx="194.8" cy="292.81" r="2.5" fill="url(#gTi)"/>
<circle cx="198" cy="292.88" r="2.5" fill="url(#gTi)"/>
<circle cx="201.2" cy="292.95" r="2.5" fill="url(#gTi)"/>
<circle cx="204.4" cy="293.02" r="2.5" fill="url(#gTi)"/>
<circle cx="207.6" cy="293.09" r="2.5" fill="url(#gTi)"/>
<circle cx="210.8" cy="293.16" r="2.5" fill="url(#gTi)"/>
<circle cx="214" cy="293.23" r="2.5" fill="url(#gTi)"/>
<circle cx="217.2" cy="293.3" r="2.5" fill="url(#gTi)"/>
<circle cx="220.4" cy="293.38" r="2.5" fill="url(#gTi)"/>
<circle cx="223.6" cy="293.45" r="2.5" fill="url(#gTi)"/>
<circle cx="226.8" cy="293.52" r="2.5" fill="url(#gTi)"/>
<circle cx="230" cy="293.59" r="2.5" fill="url(#gTi)"/>
<circle cx="233.2" cy="293.66" r="2.5" fill="url(#gTi)"/>
<circle cx="236.4" cy="293.73" r="2.5" fill="url(#gTi)"/>
<circle cx="239.6" cy="293.8" r="2.5" fill="url(#gTi)"/>
<circle cx="242.8" cy="293.87" r="2.5" fill="url(#gTi)"/>
<circle cx="149.6" cy="289.89" r="2.5" fill="url(#gTi)"/>
<circle cx="152.8" cy="289.96" r="2.5" fill="url(#gTi)"/>
<circle cx="156" cy="290.03" r="2.5" fill="url(#gTi)"/>
<circle cx="159.2" cy="290.1" r="2.5" fill="url(#gTi)"/>
<circle cx="162.4" cy="290.17" r="2.5" fill="url(#gTi)"/>
<circle cx="165.6" cy="290.24" r="2.5" fill="url(#gTi)"/>
<circle cx="168.8" cy="290.31" r="2.5" fill="url(#gTi)"/>
<circle cx="172" cy="290.38" r="2.5" fill="url(#gTi)"/>
<circle cx="175.2" cy="290.45" r="2.5" fill="url(#gTi)"/>
<circle cx="178.4" cy="290.52" r="2.5" fill="url(#gTi)"/>
<circle cx="181.6" cy="290.6" r="2.5" fill="url(#gTi)"/>
<circle cx="184.8" cy="290.67" r="2.5" fill="url(#gTi)"/>
<circle cx="188" cy="290.74" r="2.5" fill="url(#gTi)"/>
<circle cx="191.2" cy="290.81" r="2.5" fill="url(#gTi)"/>
<circle cx="194.4" cy="290.88" r="2.5" fill="url(#gTi)"/>
<circle cx="197.6" cy="290.95" r="2.5" fill="url(#gTi)"/>
<circle cx="200.8" cy="291.02" r="2.5" fill="url(#gTi)"/>
<circle cx="204" cy="291.09" r="2.5" fill="url(#gTi)"/>
<circle cx="207.2" cy="291.16" r="2.5" fill="url(#gTi)"/>
<circle cx="210.4" cy="291.23" r="2.5" fill="url(#gTi)"/>
<circle cx="213.6" cy="291.3" r="2.5" fill="url(#gTi)"/>
<circle cx="216.8" cy="291.37" r="2.5" fill="url(#gTi)"/>
<circle cx="220" cy="291.44" r="2.5" fill="url(#gTi)"/>
<circle cx="223.2" cy="291.51" r="2.5" fill="url(#gTi)"/>
<circle cx="226.4" cy="291.58" r="2.5" fill="url(#gTi)"/>
<circle cx="229.6" cy="291.65" r="2.5" fill="url(#gTi)"/>
<circle cx="232.8" cy="291.72" r="2.5" fill="url(#gTi)"/>
<circle cx="236" cy="291.79" r="2.5" fill="url(#gTi)"/>
<circle cx="239.2" cy="291.86" r="2.5" fill="url(#gTi)"/>
<circle cx="242.4" cy="291.93" r="2.5" fill="url(#gTi)"/>
<circle cx="245.6" cy="292" r="2.5" fill="url(#gTi)"/>
<circle cx="143.8" cy="299.89" r="2.5" fill="url(#gTi)"/>
<circle cx="147" cy="299.96" r="2.5" fill="url(#gTi)"/>
<circle cx="150.2" cy="300.03" r="2.5" fill="url(#gTi)"/>
<circle cx="153.4" cy="300.1" r="2.5" fill="url(#gTi)"/>
<circle cx="156.6" cy="300.17" r="2.5" fill="url(#gTi)"/>
<circle cx="159.8" cy="300.24" r="2.5" fill="url(#gTi)"/>
<circle cx="163" cy="300.31" r="2.5" fill="url(#gTi)"/>
<circle cx="166.2" cy="300.38" r="2.5" fill="url(#gTi)"/>
<circle cx="169.4" cy="300.45" r="2.5" fill="url(#gTi)"/>
<circle cx="172.6" cy="300.52" r="2.5" fill="url(#gTi)"/>
<circle cx="175.8" cy="300.59" r="2.5" fill="url(#gTi)"/>
<circle cx="179" cy="300.66" r="2.5" fill="url(#gTi)"/>
<circle cx="182.2" cy="300.73" r="2.5" fill="url(#gTi)"/>
<circle cx="185.4" cy="300.81" r="2.5" fill="url(#gTi)"/>
<circle cx="188.6" cy="300.88" r="2.5" fill="url(#gTi)"/>
<circle cx="191.8" cy="300.95" r="2.5" fill="url(#gTi)"/>
<circle cx="195" cy="301.02" r="2.5" fill="url(#gTi)"/>
<circle cx="198.2" cy="301.09" r="2.5" fill="url(#gTi)"/>
<circle cx="201.4" cy="301.16" r="2.5" fill="url(#gTi)"/>
<circle cx="204.6" cy="301.23" r="2.5" fill="url(#gTi)"/>
<circle cx="207.8" cy="301.3" r="2.5" fill="url(#gTi)"/>
<circle cx="211" cy="301.37" r="2.5" fill="url(#gTi)"/>
<circle cx="214.2" cy="301.44" r="2.5" fill="url(#gTi)"/>
<circle cx="217.4" cy="301.51" r="2.5" fill="url(#gTi)"/>
<circle cx="220.6" cy="301.58" r="2.5" fill="url(#gTi)"/>
<circle cx="223.8" cy="301.65" r="2.5" fill="url(#gTi)"/>
<circle cx="227" cy="301.72" r="2.5" fill="url(#gTi)"/>
<circle cx="230.2" cy="301.79" r="2.5" fill="url(#gTi)"/>
<circle cx="233.4" cy="301.86" r="2.5" fill="url(#gTi)"/>
<circle cx="236.6" cy="301.93" r="2.5" fill="url(#gTi)"/>
<circle cx="239.8" cy="302" r="2.5" fill="url(#gTi)"/>
<circle cx="243" cy="302.07" r="2.5" fill="url(#gTi)"/>
<circle cx="146.6" cy="298.03" r="2.5" fill="url(#gTi)"/>
<circle cx="149.8" cy="298.1" r="2.5" fill="url(#gTi)"/>
<circle cx="153" cy="298.17" r="2.5" fill="url(#gTi)"/>
<circle cx="156.2" cy="298.24" r="2.5" fill="url(#gTi)"/>
<circle cx="159.4" cy="298.31" r="2.5" fill="url(#gTi)"/>
<circle cx="162.6" cy="298.38" r="2.5" fill="url(#gTi)"/>
<circle cx="165.8" cy="298.45" r="2.5" fill="url(#gTi)"/>
<circle cx="169" cy="298.52" r="2.5" fill="url(#gTi)"/>
<circle cx="172.2" cy="298.59" r="2.5" fill="url(#gTi)"/>
<circle cx="175.4" cy="298.66" r="2.5" fill="url(#gTi)"/>
<circle cx="178.6" cy="298.73" r="2.5" fill="url(#gTi)"/>
<circle cx="181.8" cy="298.8" r="2.5" fill="url(#gTi)"/>
<circle cx="185" cy="298.87" r="2.5" fill="url(#gTi)"/>
<circle cx="188.2" cy="298.94" r="2.5" fill="url(#gTi)"/>
<circle cx="191.4" cy="299.01" r="2.5" fill="url(#gTi)"/>
<circle cx="194.6" cy="299.08" r="2.5" fill="url(#gTi)"/>
<circle cx="197.8" cy="299.15" r="2.5" fill="url(#gTi)"/>
<circle cx="201" cy="299.22" r="2.5" fill="url(#gTi)"/>
<circle cx="204.2" cy="299.29" r="2.5" fill="url(#gTi)"/>
<circle cx="207.4" cy="299.36" r="2.5" fill="url(#gTi)"/>
<circle cx="210.6" cy="299.43" r="2.5" fill="url(#gTi)"/>
<circle cx="213.8" cy="299.5" r="2.5" fill="url(#gTi)"/>
<circle cx="217" cy="299.57" r="2.5" fill="url(#gTi)"/>
<circle cx="220.2" cy="299.64" r="2.5" fill="url(#gTi)"/>
<circle cx="223.4" cy="299.71" r="2.5" fill="url(#gTi)"/>
<circle cx="226.6" cy="299.79" r="2.5" fill="url(#gTi)"/>
<circle cx="229.8" cy="299.86" r="2.5" fill="url(#gTi)"/>
<circle cx="233" cy="299.93" r="2.5" fill="url(#gTi)"/>
<circle cx="236.2" cy="300" r="2.5" fill="url(#gTi)"/>
<circle cx="239.4" cy="300.07" r="2.5" fill="url(#gTi)"/>
<circle cx="242.6" cy="300.14" r="2.5" fill="url(#gTi)"/>
<circle cx="152" cy="286.64" r="1.8" fill="url(#gC)"/>
<circle cx="154.7" cy="286.7" r="1.8" fill="url(#gC)"/>
<circle cx="157.4" cy="286.76" r="1.8" fill="url(#gC)"/>
<circle cx="160.1" cy="286.82" r="1.8" fill="url(#gC)"/>
<circle cx="162.8" cy="286.88" r="1.8" fill="url(#gC)"/>
<circle cx="165.5" cy="286.94" r="1.8" fill="url(#gC)"/>
<circle cx="168.2" cy="287" r="1.8" fill="url(#gC)"/>
<circle cx="170.9" cy="287.06" r="1.8" fill="url(#gC)"/>
<circle cx="173.6" cy="287.12" r="1.8" fill="url(#gC)"/>
<circle cx="176.3" cy="287.18" r="1.8" fill="url(#gC)"/>
<circle cx="179" cy="287.24" r="1.8" fill="url(#gC)"/>
<circle cx="181.7" cy="287.3" r="1.8" fill="url(#gC)"/>
<circle cx="184.4" cy="287.36" r="1.8" fill="url(#gC)"/>
<circle cx="187.1" cy="287.42" r="1.8" fill="url(#gC)"/>
<circle cx="189.8" cy="287.48" r="1.8" fill="url(#gC)"/>
<circle cx="192.5" cy="287.53" r="1.8" fill="url(#gC)"/>
<circle cx="195.2" cy="287.59" r="1.8" fill="url(#gC)"/>
<circle cx="197.9" cy="287.65" r="1.8" fill="url(#gC)"/>
<circle cx="200.6" cy="287.71" r="1.8" fill="url(#gC)"/>
<circle cx="203.3" cy="287.77" r="1.8" fill="url(#gC)"/>
<circle cx="206" cy="287.83" r="1.8" fill="url(#gC)"/>
<circle cx="208.7" cy="287.89" r="1.8" fill="url(#gC)"/>
<circle cx="211.4" cy="287.95" r="1.8" fill="url(#gC)"/>
<circle cx="214.1" cy="288.01" r="1.8" fill="url(#gC)"/>
<circle cx="216.8" cy="288.07" r="1.8" fill="url(#gC)"/>
<circle cx="219.5" cy="288.13" r="1.8" fill="url(#gC)"/>
<circle cx="222.2" cy="288.19" r="1.8" fill="url(#gC)"/>
<circle cx="224.9" cy="288.25" r="1.8" fill="url(#gC)"/>
<circle cx="227.6" cy="288.31" r="1.8" fill="url(#gC)"/>
<circle cx="230.3" cy="288.37" r="1.8" fill="url(#gC)"/>
<circle cx="233" cy="288.43" r="1.8" fill="url(#gC)"/>
<circle cx="235.7" cy="288.49" r="1.8" fill="url(#gC)"/>
<circle cx="238.4" cy="288.54" r="1.8" fill="url(#gC)"/>
<circle cx="241.1" cy="288.6" r="1.8" fill="url(#gC)"/>
<circle cx="149" cy="294.78" r="1.8" fill="url(#gC)"/>
<circle cx="151.7" cy="294.84" r="1.8" fill="url(#gC)"/>
<circle cx="154.4" cy="294.9" r="1.8" fill="url(#gC)"/>
<circle cx="157.1" cy="294.96" r="1.8" fill="url(#gC)"/>
<circle cx="159.8" cy="295.02" r="1.8" fill="url(#gC)"/>
<circle cx="162.5" cy="295.07" r="1.8" fill="url(#gC)"/>
<circle cx="165.2" cy="295.13" r="1.8" fill="url(#gC)"/>
<circle cx="167.9" cy="295.19" r="1.8" fill="url(#gC)"/>
<circle cx="170.6" cy="295.25" r="1.8" fill="url(#gC)"/>
<circle cx="173.3" cy="295.31" r="1.8" fill="url(#gC)"/>
<circle cx="176" cy="295.37" r="1.8" fill="url(#gC)"/>
<circle cx="178.7" cy="295.43" r="1.8" fill="url(#gC)"/>
<circle cx="181.4" cy="295.49" r="1.8" fill="url(#gC)"/>
<circle cx="184.1" cy="295.55" r="1.8" fill="url(#gC)"/>
<circle cx="186.8" cy="295.61" r="1.8" fill="url(#gC)"/>
<circle cx="189.5" cy="295.67" r="1.8" fill="url(#gC)"/>
<circle cx="192.2" cy="295.73" r="1.8" fill="url(#gC)"/>
<circle cx="194.9" cy="295.79" r="1.8" fill="url(#gC)"/>
<circle cx="197.6" cy="295.85" r="1.8" fill="url(#gC)"/>
<circle cx="200.3" cy="295.91" r="1.8" fill="url(#gC)"/>
<circle cx="203" cy="295.97" r="1.8" fill="url(#gC)"/>
<circle cx="205.7" cy="296.03" r="1.8" fill="url(#gC)"/>
<circle cx="208.4" cy="296.08" r="1.8" fill="url(#gC)"/>
<circle cx="211.1" cy="296.14" r="1.8" fill="url(#gC)"/>
<circle cx="213.8" cy="296.2" r="1.8" fill="url(#gC)"/>
<circle cx="216.5" cy="296.26" r="1.8" fill="url(#gC)"/>
<circle cx="219.2" cy="296.32" r="1.8" fill="url(#gC)"/>
<circle cx="221.9" cy="296.38" r="1.8" fill="url(#gC)"/>
<circle cx="224.6" cy="296.44" r="1.8" fill="url(#gC)"/>
<circle cx="227.3" cy="296.5" r="1.8" fill="url(#gC)"/>
<circle cx="230" cy="296.56" r="1.8" fill="url(#gC)"/>
<circle cx="232.7" cy="296.62" r="1.8" fill="url(#gC)"/>
<circle cx="235.4" cy="296.68" r="1.8" fill="url(#gC)"/>
<circle cx="238.1" cy="296.74" r="1.8" fill="url(#gC)"/>
<circle cx="240.8" cy="296.8" r="1.8" fill="url(#gC)"/>
<circle cx="155" cy="278.71" r="2.3" fill="url(#gO)"/>
<circle cx="158.5" cy="278.79" r="2.3" fill="url(#gO)"/>
<circle cx="162" cy="278.86" r="2.3" fill="url(#gO)"/>
<circle cx="165.5" cy="278.94" r="2.3" fill="url(#gO)"/>
<circle cx="169" cy="279.02" r="2.3" fill="url(#gO)"/>
<circle cx="172.5" cy="279.1" r="2.3" fill="url(#gO)"/>
<circle cx="176" cy="279.17" r="2.3" fill="url(#gO)"/>
<circle cx="179.5" cy="279.25" r="2.3" fill="url(#gO)"/>
<circle cx="183" cy="279.33" r="2.3" fill="url(#gO)"/>
<circle cx="186.5" cy="279.4" r="2.3" fill="url(#gO)"/>
<circle cx="190" cy="279.48" r="2.3" fill="url(#gO)"/>
<circle cx="193.5" cy="279.56" r="2.3" fill="url(#gO)"/>
<circle cx="197" cy="279.63" r="2.3" fill="url(#gO)"/>
<circle cx="200.5" cy="279.71" r="2.3" fill="url(#gO)"/>
<circle cx="204" cy="279.79" r="2.3" fill="url(#gO)"/>
<circle cx="207.5" cy="279.87" r="2.3" fill="url(#gO)"/>
<circle cx="211" cy="279.94" r="2.3" fill="url(#gO)"/>
<circle cx="214.5" cy="280.02" r="2.3" fill="url(#gO)"/>
<circle cx="218" cy="280.1" r="2.3" fill="url(#gO)"/>
<circle cx="221.5" cy="280.17" r="2.3" fill="url(#gO)"/>
<circle cx="225" cy="280.25" r="2.3" fill="url(#gO)"/>
<circle cx="228.5" cy="280.33" r="2.3" fill="url(#gO)"/>
<circle cx="232" cy="280.4" r="2.3" fill="url(#gO)"/>
<circle cx="235.5" cy="280.48" r="2.3" fill="url(#gO)"/>
<circle cx="239" cy="280.56" r="2.3" fill="url(#gO)"/>
<circle cx="242.5" cy="280.64" r="2.3" fill="url(#gO)"/>
<circle cx="246" cy="280.71" r="2.3" fill="url(#gO)"/>
<circle cx="249.5" cy="280.79" r="2.3" fill="url(#gO)"/>
<line x1="149" y1="305.98" x2="148.2" y2="311.48" stroke="#30d030" stroke-width="1.0" />
<circle cx="148.2" cy="311.78" r="1.3" fill="url(#gH)"/>
<circle cx="149" cy="305.98" r="2.2" fill="url(#gO)"/>
<line x1="153.6" y1="306.08" x2="152.8" y2="311.58" stroke="#30d030" stroke-width="1.0" />
<circle cx="152.8" cy="311.88" r="1.3" fill="url(#gH)"/>
<circle cx="153.6" cy="306.08" r="2.2" fill="url(#gO)"/>
<line x1="158.2" y1="306.18" x2="157.4" y2="311.68" stroke="#30d030" stroke-width="1.0" />
<circle cx="157.4" cy="311.98" r="1.3" fill="url(#gH)"/>
<circle cx="158.2" cy="306.18" r="2.2" fill="url(#gO)"/>
<line x1="162.8" y1="306.28" x2="162" y2="311.78" stroke="#30d030" stroke-width="1.0" />
<circle cx="162" cy="312.08" r="1.3" fill="url(#gH)"/>
<circle cx="162.8" cy="306.28" r="2.2" fill="url(#gO)"/>
<line x1="167.4" y1="306.38" x2="166.6" y2="311.88" stroke="#30d030" stroke-width="1.0" />
<circle cx="166.6" cy="312.18" r="1.3" fill="url(#gH)"/>
<circle cx="167.4" cy="306.38" r="2.2" fill="url(#gO)"/>
<line x1="172" y1="306.48" x2="171.2" y2="311.98" stroke="#30d030" stroke-width="1.0" />
<circle cx="171.2" cy="312.28" r="1.3" fill="url(#gH)"/>
<circle cx="172" cy="306.48" r="2.2" fill="url(#gO)"/>
<line x1="176.6" y1="306.59" x2="175.8" y2="312.09" stroke="#30d030" stroke-width="1.0" />
<circle cx="175.8" cy="312.39" r="1.3" fill="url(#gH)"/>
<circle cx="176.6" cy="306.59" r="2.2" fill="url(#gO)"/>
<line x1="181.2" y1="306.69" x2="180.4" y2="312.19" stroke="#30d030" stroke-width="1.0" />
<circle cx="180.4" cy="312.49" r="1.3" fill="url(#gH)"/>
<circle cx="181.2" cy="306.69" r="2.2" fill="url(#gO)"/>
<line x1="185.8" y1="306.79" x2="185" y2="312.29" stroke="#30d030" stroke-width="1.0" />
<circle cx="185" cy="312.59" r="1.3" fill="url(#gH)"/>
<circle cx="185.8" cy="306.79" r="2.2" fill="url(#gO)"/>
<line x1="190.4" y1="306.89" x2="189.6" y2="312.39" stroke="#30d030" stroke-width="1.0" />
<circle cx="189.6" cy="312.69" r="1.3" fill="url(#gH)"/>
<circle cx="190.4" cy="306.89" r="2.2" fill="url(#gO)"/>
<line x1="195" y1="306.99" x2="194.2" y2="312.49" stroke="#30d030" stroke-width="1.0" />
<circle cx="194.2" cy="312.79" r="1.3" fill="url(#gH)"/>
<circle cx="195" cy="306.99" r="2.2" fill="url(#gO)"/>
<line x1="199.6" y1="307.09" x2="198.8" y2="312.59" stroke="#30d030" stroke-width="1.0" />
<circle cx="198.8" cy="312.89" r="1.3" fill="url(#gH)"/>
<circle cx="199.6" cy="307.09" r="2.2" fill="url(#gO)"/>
<line x1="204.2" y1="307.19" x2="203.4" y2="312.69" stroke="#30d030" stroke-width="1.0" />
<circle cx="203.4" cy="312.99" r="1.3" fill="url(#gH)"/>
<circle cx="204.2" cy="307.19" r="2.2" fill="url(#gO)"/>
<line x1="208.8" y1="307.29" x2="208" y2="312.79" stroke="#30d030" stroke-width="1.0" />
<circle cx="208" cy="313.09" r="1.3" fill="url(#gH)"/>
<circle cx="208.8" cy="307.29" r="2.2" fill="url(#gO)"/>
<line x1="213.4" y1="307.39" x2="212.6" y2="312.89" stroke="#30d030" stroke-width="1.0" />
<circle cx="212.6" cy="313.19" r="1.3" fill="url(#gH)"/>
<circle cx="213.4" cy="307.39" r="2.2" fill="url(#gO)"/>
<line x1="218" y1="307.5" x2="217.2" y2="313" stroke="#30d030" stroke-width="1.0" />
<circle cx="217.2" cy="313.3" r="1.3" fill="url(#gH)"/>
<circle cx="218" cy="307.5" r="2.2" fill="url(#gO)"/>
<line x1="222.6" y1="307.6" x2="221.8" y2="313.1" stroke="#30d030" stroke-width="1.0" />
<circle cx="221.8" cy="313.4" r="1.3" fill="url(#gH)"/>
<circle cx="222.6" cy="307.6" r="2.2" fill="url(#gO)"/>
<line x1="227.2" y1="307.7" x2="226.4" y2="313.2" stroke="#30d030" stroke-width="1.0" />
<circle cx="226.4" cy="313.5" r="1.3" fill="url(#gH)"/>
<circle cx="227.2" cy="307.7" r="2.2" fill="url(#gO)"/>
<line x1="231.8" y1="307.8" x2="231" y2="313.3" stroke="#30d030" stroke-width="1.0" />
<circle cx="231" cy="313.6" r="1.3" fill="url(#gH)"/>
<circle cx="231.8" cy="307.8" r="2.2" fill="url(#gO)"/>
<line x1="236.4" y1="307.9" x2="235.6" y2="313.4" stroke="#30d030" stroke-width="1.0" />
<circle cx="235.6" cy="313.7" r="1.3" fill="url(#gH)"/>
<circle cx="236.4" cy="307.9" r="2.2" fill="url(#gO)"/>
<line x1="241" y1="308" x2="240.2" y2="313.5" stroke="#30d030" stroke-width="1.0" />
<circle cx="240.2" cy="313.8" r="1.3" fill="url(#gH)"/>
<circle cx="241" cy="308" r="2.2" fill="url(#gO)"/>
<polygon points="44,283 146,282 139,304 37,306" fill="#c8c090" opacity="0.35"/>
<ellipse cx="46.2" cy="284.79" rx="7" ry="2.5" transform="rotate(-26 46.2 284.79)" fill="url(#gTiR)" />
<ellipse cx="57.55" cy="284.16" rx="7" ry="2.5" transform="rotate(-26 57.55 284.16)" fill="url(#gTiR)" />
<ellipse cx="68.9" cy="283.54" rx="7" ry="2.5" transform="rotate(-26 68.9 283.54)" fill="url(#gTiR)" />
<ellipse cx="80.25" cy="282.92" rx="7" ry="2.5" transform="rotate(-26 80.25 282.92)" fill="url(#gTiR)" />
<ellipse cx="91.6" cy="282.29" rx="7" ry="2.5" transform="rotate(-26 91.6 282.29)" fill="url(#gTiR)" />
<ellipse cx="102.95" cy="281.67" rx="7" ry="2.5" transform="rotate(-26 102.95 281.67)" fill="url(#gTiR)" />
<ellipse cx="114.3" cy="281.04" rx="7" ry="2.5" transform="rotate(-26 114.3 281.04)" fill="url(#gTiR)" />
<ellipse cx="125.65" cy="280.42" rx="7" ry="2.5" transform="rotate(-26 125.65 280.42)" fill="url(#gTiR)" />
<ellipse cx="137" cy="279.8" rx="7" ry="2.5" transform="rotate(-26 137 279.8)" fill="url(#gTiR)" />
<line x1="53.55" y1="279.8" x2="53.55" y2="273.8" stroke="#30d030" stroke-width="1.0" />
<circle cx="53.55" cy="273.5" r="1.3" fill="url(#gH)"/>
<line x1="55.05" y1="279.8" x2="55.05" y2="273.8" stroke="#30d030" stroke-width="1.0" />
<circle cx="55.05" cy="273.5" r="1.3" fill="url(#gH)"/>
<line x1="56.55" y1="279.8" x2="56.55" y2="273.8" stroke="#30d030" stroke-width="1.0" />
<circle cx="56.55" cy="273.5" r="1.3" fill="url(#gH)"/>
<line x1="58.05" y1="279.8" x2="58.05" y2="273.8" stroke="#30d030" stroke-width="1.0" />
<circle cx="58.05" cy="273.5" r="1.3" fill="url(#gH)"/>
<path d="M52.06,282.4 L55.8,277.4 L59.54,282.4 Z" fill="#e02424"/>
<circle cx="54.26" cy="280.6" r="2.09" fill="url(#gO)"/>
<circle cx="57.34" cy="280.6" r="2.09" fill="url(#gO)"/>
<circle cx="55.8" cy="279.2" r="2.2" fill="url(#gO)"/>
<line x1="64.75" y1="279.8" x2="64.75" y2="273.8" stroke="#30d030" stroke-width="1.0" />
<circle cx="64.75" cy="273.5" r="1.3" fill="url(#gH)"/>
<line x1="66.25" y1="279.8" x2="66.25" y2="273.8" stroke="#30d030" stroke-width="1.0" />
<circle cx="66.25" cy="273.5" r="1.3" fill="url(#gH)"/>
<line x1="67.75" y1="279.8" x2="67.75" y2="273.8" stroke="#30d030" stroke-width="1.0" />
<circle cx="67.75" cy="273.5" r="1.3" fill="url(#gH)"/>
<line x1="69.25" y1="279.8" x2="69.25" y2="273.8" stroke="#30d030" stroke-width="1.0" />
<circle cx="69.25" cy="273.5" r="1.3" fill="url(#gH)"/>
<path d="M63.26,282.4 L67,277.4 L70.74,282.4 Z" fill="#e02424"/>
<circle cx="65.46" cy="280.6" r="2.09" fill="url(#gO)"/>
<circle cx="68.54" cy="280.6" r="2.09" fill="url(#gO)"/>
<circle cx="67" cy="279.2" r="2.2" fill="url(#gO)"/>
<line x1="79.3" y1="279.8" x2="79.3" y2="273.8" stroke="#30d030" stroke-width="1.0" />
<circle cx="79.3" cy="273.5" r="1.3" fill="url(#gH)"/>
<path d="M75.56,282.4 L79.3,277.4 L83.04,282.4 Z" fill="#e02424"/>
<circle cx="77.76" cy="280.6" r="2.09" fill="url(#gO)"/>
<circle cx="80.84" cy="280.6" r="2.09" fill="url(#gO)"/>
<circle cx="79.3" cy="279.2" r="2.2" fill="url(#gO)"/>
<line x1="90.5" y1="279.8" x2="90.5" y2="273.8" stroke="#30d030" stroke-width="1.0" />
<circle cx="90.5" cy="273.5" r="1.3" fill="url(#gH)"/>
<path d="M86.76,282.4 L90.5,277.4 L94.24,282.4 Z" fill="#e02424"/>
<circle cx="88.96" cy="280.6" r="2.09" fill="url(#gO)"/>
<circle cx="92.04" cy="280.6" r="2.09" fill="url(#gO)"/>
<circle cx="90.5" cy="279.2" r="2.2" fill="url(#gO)"/>
<line x1="101.7" y1="279.8" x2="101.7" y2="273.8" stroke="#30d030" stroke-width="1.0" />
<circle cx="101.7" cy="273.5" r="1.3" fill="url(#gH)"/>
<path d="M97.96,282.4 L101.7,277.4 L105.44,282.4 Z" fill="#e02424"/>
<circle cx="100.16" cy="280.6" r="2.09" fill="url(#gO)"/>
<circle cx="103.24" cy="280.6" r="2.09" fill="url(#gO)"/>
<circle cx="101.7" cy="279.2" r="2.2" fill="url(#gO)"/>
<line x1="113" y1="279.8" x2="113" y2="273.8" stroke="#30d030" stroke-width="1.0" />
<circle cx="113" cy="273.5" r="1.3" fill="url(#gH)"/>
<path d="M109.26,282.4 L113,277.4 L116.74,282.4 Z" fill="#e02424"/>
<circle cx="111.46" cy="280.6" r="2.09" fill="url(#gO)"/>
<circle cx="114.54" cy="280.6" r="2.09" fill="url(#gO)"/>
<circle cx="113" cy="279.2" r="2.2" fill="url(#gO)"/>
<line x1="124.2" y1="279.8" x2="124.2" y2="273.8" stroke="#30d030" stroke-width="1.0" />
<circle cx="124.2" cy="273.5" r="1.3" fill="url(#gH)"/>
<path d="M120.46,282.4 L124.2,277.4 L127.94,282.4 Z" fill="#e02424"/>
<circle cx="122.66" cy="280.6" r="2.09" fill="url(#gO)"/>
<circle cx="125.74" cy="280.6" r="2.09" fill="url(#gO)"/>
<circle cx="124.2" cy="279.2" r="2.2" fill="url(#gO)"/>
<line x1="135.5" y1="279.8" x2="135.5" y2="273.8" stroke="#30d030" stroke-width="1.0" />
<circle cx="135.5" cy="273.5" r="1.3" fill="url(#gH)"/>
<path d="M131.76,282.4 L135.5,277.4 L139.24,282.4 Z" fill="#e02424"/>
<circle cx="133.96" cy="280.6" r="2.09" fill="url(#gO)"/>
<circle cx="137.04" cy="280.6" r="2.09" fill="url(#gO)"/>
<circle cx="135.5" cy="279.2" r="2.2" fill="url(#gO)"/>
<ellipse cx="50.6" cy="289.29" rx="4.6" ry="2.5" transform="rotate(-25 50.6 289.29)" fill="#141414" />
<ellipse cx="49.4" cy="288.39" rx="1.4" ry="0.7" transform="rotate(-25 49.4 288.39)" fill="#8a8a8a" />
<ellipse cx="61.95" cy="288.66" rx="4.6" ry="2.5" transform="rotate(-25 61.95 288.66)" fill="#141414" />
<ellipse cx="60.75" cy="287.76" rx="1.4" ry="0.7" transform="rotate(-25 60.75 287.76)" fill="#8a8a8a" />
<ellipse cx="73.3" cy="288.04" rx="4.6" ry="2.5" transform="rotate(-25 73.3 288.04)" fill="#141414" />
<ellipse cx="72.1" cy="287.14" rx="1.4" ry="0.7" transform="rotate(-25 72.1 287.14)" fill="#8a8a8a" />
<ellipse cx="84.65" cy="287.42" rx="4.6" ry="2.5" transform="rotate(-25 84.65 287.42)" fill="#141414" />
<ellipse cx="83.45" cy="286.52" rx="1.4" ry="0.7" transform="rotate(-25 83.45 286.52)" fill="#8a8a8a" />
<ellipse cx="96" cy="286.79" rx="4.6" ry="2.5" transform="rotate(-25 96 286.79)" fill="#141414" />
<ellipse cx="94.8" cy="285.89" rx="1.4" ry="0.7" transform="rotate(-25 94.8 285.89)" fill="#8a8a8a" />
<ellipse cx="107.35" cy="286.17" rx="4.6" ry="2.5" transform="rotate(-25 107.35 286.17)" fill="#141414" />
<ellipse cx="106.15" cy="285.27" rx="1.4" ry="0.7" transform="rotate(-25 106.15 285.27)" fill="#8a8a8a" />
<ellipse cx="118.7" cy="285.54" rx="4.6" ry="2.5" transform="rotate(-25 118.7 285.54)" fill="#141414" />
<ellipse cx="117.5" cy="284.64" rx="1.4" ry="0.7" transform="rotate(-25 117.5 284.64)" fill="#8a8a8a" />
<ellipse cx="130.05" cy="284.92" rx="4.6" ry="2.5" transform="rotate(-25 130.05 284.92)" fill="#141414" />
<ellipse cx="128.85" cy="284.02" rx="1.4" ry="0.7" transform="rotate(-25 128.85 284.02)" fill="#8a8a8a" />
<ellipse cx="141.4" cy="284.3" rx="4.6" ry="2.5" transform="rotate(-25 141.4 284.3)" fill="#141414" />
<ellipse cx="140.2" cy="283.4" rx="1.4" ry="0.7" transform="rotate(-25 140.2 283.4)" fill="#8a8a8a" />
<ellipse cx="42.9" cy="293.57" rx="7" ry="2.5" transform="rotate(-26 42.9 293.57)" fill="url(#gTiR)" />
<ellipse cx="54.25" cy="292.95" rx="7" ry="2.5" transform="rotate(-26 54.25 292.95)" fill="url(#gTiR)" />
<ellipse cx="65.6" cy="292.32" rx="7" ry="2.5" transform="rotate(-26 65.6 292.32)" fill="url(#gTiR)" />
<ellipse cx="76.95" cy="291.7" rx="7" ry="2.5" transform="rotate(-26 76.95 291.7)" fill="url(#gTiR)" />
<ellipse cx="88.3" cy="291.07" rx="7" ry="2.5" transform="rotate(-26 88.3 291.07)" fill="url(#gTiR)" />
<ellipse cx="99.65" cy="290.45" rx="7" ry="2.5" transform="rotate(-26 99.65 290.45)" fill="url(#gTiR)" />
<ellipse cx="111" cy="289.83" rx="7" ry="2.5" transform="rotate(-26 111 289.83)" fill="url(#gTiR)" />
<ellipse cx="122.35" cy="289.2" rx="7" ry="2.5" transform="rotate(-26 122.35 289.2)" fill="url(#gTiR)" />
<ellipse cx="133.7" cy="288.58" rx="7" ry="2.5" transform="rotate(-26 133.7 288.58)" fill="url(#gTiR)" />
<ellipse cx="47.3" cy="298.07" rx="4.6" ry="2.5" transform="rotate(-25 47.3 298.07)" fill="#141414" />
<ellipse cx="46.1" cy="297.17" rx="1.4" ry="0.7" transform="rotate(-25 46.1 297.17)" fill="#8a8a8a" />
<ellipse cx="58.65" cy="297.45" rx="4.6" ry="2.5" transform="rotate(-25 58.65 297.45)" fill="#141414" />
<ellipse cx="57.45" cy="296.55" rx="1.4" ry="0.7" transform="rotate(-25 57.45 296.55)" fill="#8a8a8a" />
<ellipse cx="70" cy="296.82" rx="4.6" ry="2.5" transform="rotate(-25 70 296.82)" fill="#141414" />
<ellipse cx="68.8" cy="295.92" rx="1.4" ry="0.7" transform="rotate(-25 68.8 295.92)" fill="#8a8a8a" />
<ellipse cx="81.35" cy="296.2" rx="4.6" ry="2.5" transform="rotate(-25 81.35 296.2)" fill="#141414" />
<ellipse cx="80.15" cy="295.3" rx="1.4" ry="0.7" transform="rotate(-25 80.15 295.3)" fill="#8a8a8a" />
<ellipse cx="92.7" cy="295.57" rx="4.6" ry="2.5" transform="rotate(-25 92.7 295.57)" fill="#141414" />
<ellipse cx="91.5" cy="294.67" rx="1.4" ry="0.7" transform="rotate(-25 91.5 294.67)" fill="#8a8a8a" />
<ellipse cx="104.05" cy="294.95" rx="4.6" ry="2.5" transform="rotate(-25 104.05 294.95)" fill="#141414" />
<ellipse cx="102.85" cy="294.05" rx="1.4" ry="0.7" transform="rotate(-25 102.85 294.05)" fill="#8a8a8a" />
<ellipse cx="115.4" cy="294.33" rx="4.6" ry="2.5" transform="rotate(-25 115.4 294.33)" fill="#141414" />
<ellipse cx="114.2" cy="293.43" rx="1.4" ry="0.7" transform="rotate(-25 114.2 293.43)" fill="#8a8a8a" />
<ellipse cx="126.75" cy="293.7" rx="4.6" ry="2.5" transform="rotate(-25 126.75 293.7)" fill="#141414" />
<ellipse cx="125.55" cy="292.8" rx="1.4" ry="0.7" transform="rotate(-25 125.55 292.8)" fill="#8a8a8a" />
<ellipse cx="138.1" cy="293.08" rx="4.6" ry="2.5" transform="rotate(-25 138.1 293.08)" fill="#141414" />
<ellipse cx="136.9" cy="292.18" rx="1.4" ry="0.7" transform="rotate(-25 136.9 292.18)" fill="#8a8a8a" />
<ellipse cx="39.6" cy="302.35" rx="7" ry="2.5" transform="rotate(-26 39.6 302.35)" fill="url(#gTiR)" />
<ellipse cx="50.95" cy="301.73" rx="7" ry="2.5" transform="rotate(-26 50.95 301.73)" fill="url(#gTiR)" />
<ellipse cx="62.3" cy="301.1" rx="7" ry="2.5" transform="rotate(-26 62.3 301.1)" fill="url(#gTiR)" />
<ellipse cx="73.65" cy="300.48" rx="7" ry="2.5" transform="rotate(-26 73.65 300.48)" fill="url(#gTiR)" />
<ellipse cx="85" cy="299.86" rx="7" ry="2.5" transform="rotate(-26 85 299.86)" fill="url(#gTiR)" />
<ellipse cx="96.35" cy="299.23" rx="7" ry="2.5" transform="rotate(-26 96.35 299.23)" fill="url(#gTiR)" />
<ellipse cx="107.7" cy="298.61" rx="7" ry="2.5" transform="rotate(-26 107.7 298.61)" fill="url(#gTiR)" />
<ellipse cx="119.05" cy="297.98" rx="7" ry="2.5" transform="rotate(-26 119.05 297.98)" fill="url(#gTiR)" />
<ellipse cx="130.4" cy="297.36" rx="7" ry="2.5" transform="rotate(-26 130.4 297.36)" fill="url(#gTiR)" />
<line x1="43.1" y1="306.37" x2="42.1" y2="312.37" stroke="#30d030" stroke-width="1.0" />
<circle cx="42.1" cy="312.67" r="1.3" fill="url(#gH)"/>
<line x1="44.7" y1="306.37" x2="43.7" y2="312.37" stroke="#30d030" stroke-width="1.0" />
<circle cx="43.7" cy="312.67" r="1.3" fill="url(#gH)"/>
<line x1="46.3" y1="306.37" x2="45.3" y2="312.37" stroke="#30d030" stroke-width="1.0" />
<circle cx="45.3" cy="312.67" r="1.3" fill="url(#gH)"/>
<path d="M41.18,303.97 L44.7,308.97 L48.22,303.97 Z" fill="#d82020"/>
<circle cx="43.27" cy="305.77" r="1.98" fill="url(#gO)"/>
<circle cx="46.13" cy="305.77" r="1.98" fill="url(#gO)"/>
<circle cx="44.7" cy="307.17" r="2.09" fill="url(#gO)"/>
<line x1="54.9" y1="305.9" x2="53.9" y2="311.9" stroke="#30d030" stroke-width="1.0" />
<circle cx="53.9" cy="312.2" r="1.3" fill="url(#gH)"/>
<line x1="56.5" y1="305.9" x2="55.5" y2="311.9" stroke="#30d030" stroke-width="1.0" />
<circle cx="55.5" cy="312.2" r="1.3" fill="url(#gH)"/>
<line x1="58.1" y1="305.9" x2="57.1" y2="311.9" stroke="#30d030" stroke-width="1.0" />
<circle cx="57.1" cy="312.2" r="1.3" fill="url(#gH)"/>
<path d="M52.98,303.5 L56.5,308.5 L60.02,303.5 Z" fill="#d82020"/>
<circle cx="55.07" cy="305.3" r="1.98" fill="url(#gO)"/>
<circle cx="57.93" cy="305.3" r="1.98" fill="url(#gO)"/>
<circle cx="56.5" cy="306.7" r="2.09" fill="url(#gO)"/>
<line x1="66.1" y1="305.45" x2="65.1" y2="311.45" stroke="#30d030" stroke-width="1.0" />
<circle cx="65.1" cy="311.75" r="1.3" fill="url(#gH)"/>
<line x1="67.7" y1="305.45" x2="66.7" y2="311.45" stroke="#30d030" stroke-width="1.0" />
<circle cx="66.7" cy="311.75" r="1.3" fill="url(#gH)"/>
<line x1="69.3" y1="305.45" x2="68.3" y2="311.45" stroke="#30d030" stroke-width="1.0" />
<circle cx="68.3" cy="311.75" r="1.3" fill="url(#gH)"/>
<path d="M64.18,303.05 L67.7,308.05 L71.22,303.05 Z" fill="#d82020"/>
<circle cx="66.27" cy="304.85" r="1.98" fill="url(#gO)"/>
<circle cx="69.13" cy="304.85" r="1.98" fill="url(#gO)"/>
<circle cx="67.7" cy="306.25" r="2.09" fill="url(#gO)"/>
<line x1="80" y1="304.96" x2="79" y2="310.96" stroke="#30d030" stroke-width="1.0" />
<circle cx="79" cy="311.26" r="1.3" fill="url(#gH)"/>
<path d="M76.48,302.56 L80,307.56 L83.52,302.56 Z" fill="#d82020"/>
<circle cx="78.57" cy="304.36" r="1.98" fill="url(#gO)"/>
<circle cx="81.43" cy="304.36" r="1.98" fill="url(#gO)"/>
<circle cx="80" cy="305.76" r="2.09" fill="url(#gO)"/>
<line x1="90.7" y1="304.53" x2="89.7" y2="310.53" stroke="#30d030" stroke-width="1.0" />
<circle cx="89.7" cy="310.83" r="1.3" fill="url(#gH)"/>
<path d="M87.18,302.13 L90.7,307.13 L94.22,302.13 Z" fill="#d82020"/>
<circle cx="89.27" cy="303.93" r="1.98" fill="url(#gO)"/>
<circle cx="92.13" cy="303.93" r="1.98" fill="url(#gO)"/>
<circle cx="90.7" cy="305.33" r="2.09" fill="url(#gO)"/>
<line x1="103" y1="304.04" x2="102" y2="310.04" stroke="#30d030" stroke-width="1.0" />
<circle cx="102" cy="310.34" r="1.3" fill="url(#gH)"/>
<path d="M99.48,301.64 L103,306.64 L106.52,301.64 Z" fill="#d82020"/>
<circle cx="101.57" cy="303.44" r="1.98" fill="url(#gO)"/>
<circle cx="104.43" cy="303.44" r="1.98" fill="url(#gO)"/>
<circle cx="103" cy="304.84" r="2.09" fill="url(#gO)"/>
<line x1="114" y1="303.6" x2="113" y2="309.6" stroke="#30d030" stroke-width="1.0" />
<circle cx="113" cy="309.9" r="1.3" fill="url(#gH)"/>
<path d="M110.48,301.2 L114,306.2 L117.52,301.2 Z" fill="#d82020"/>
<circle cx="112.57" cy="303" r="1.98" fill="url(#gO)"/>
<circle cx="115.43" cy="303" r="1.98" fill="url(#gO)"/>
<circle cx="114" cy="304.4" r="2.09" fill="url(#gO)"/>
<line x1="125.5" y1="303.14" x2="124.5" y2="309.14" stroke="#30d030" stroke-width="1.0" />
<circle cx="124.5" cy="309.44" r="1.3" fill="url(#gH)"/>
<path d="M121.98,300.74 L125.5,305.74 L129.02,300.74 Z" fill="#d82020"/>
<circle cx="124.07" cy="302.54" r="1.98" fill="url(#gO)"/>
<circle cx="126.93" cy="302.54" r="1.98" fill="url(#gO)"/>
<circle cx="125.5" cy="303.94" r="2.09" fill="url(#gO)"/>
<polyline points="22.5,323.5 32.7,326.6 43.5,325.5 52.1,326.2 60.9,323.5 67.4,326 74.6,322 84.2,324.5 95,320.4 104.2,322.5 112.4,320.4 120.6,323.5 129.7,320.8 139.4,315.3 153.6,318.2 167.6,312.7 185,306" stroke="#3a78d8" stroke-width="0.9" fill="none" stroke-linejoin="round" />
<circle cx="22.5" cy="323.5" r="2" fill="url(#gC)"/>
<circle cx="32.7" cy="326.6" r="2" fill="url(#gC)"/>
<circle cx="43.5" cy="325.5" r="2" fill="url(#gC)"/>
<circle cx="52.1" cy="326.2" r="2" fill="url(#gC)"/>
<circle cx="60.9" cy="323.5" r="2" fill="url(#gC)"/>
<circle cx="67.4" cy="326" r="2" fill="url(#gC)"/>
<circle cx="74.6" cy="322" r="2" fill="url(#gC)"/>
<circle cx="84.2" cy="324.5" r="2" fill="url(#gC)"/>
<circle cx="95" cy="320.4" r="2" fill="url(#gC)"/>
<circle cx="104.2" cy="322.5" r="2" fill="url(#gC)"/>
<circle cx="112.4" cy="320.4" r="2" fill="url(#gC)"/>
<circle cx="120.6" cy="323.5" r="2" fill="url(#gC)"/>
<circle cx="129.7" cy="320.8" r="2" fill="url(#gC)"/>
<circle cx="139.4" cy="315.3" r="2" fill="url(#gC)"/>
<circle cx="153.6" cy="318.2" r="2" fill="url(#gC)"/>
<circle cx="167.6" cy="312.7" r="2" fill="url(#gC)"/>
<circle cx="185" cy="306" r="2" fill="url(#gC)"/>
<polyline points="112.2,320.8 119.9,323 127.5,328 134,328.5" stroke="#d040c0" stroke-width="0.9" fill="none" stroke-linejoin="round" />
<circle cx="112.2" cy="320.8" r="2" fill="url(#gC)"/>
<circle cx="119.9" cy="323" r="2" fill="url(#gC)"/>
<circle cx="127.5" cy="328" r="2" fill="url(#gC)"/>
<circle cx="134" cy="328.5" r="2" fill="url(#gC)"/>
<polyline points="169,328 175.7,324 182.3,323 185.5,318.6 190,314.9" stroke="#d040c0" stroke-width="0.9" fill="none" stroke-linejoin="round" />
<circle cx="169" cy="328" r="2" fill="url(#gC)"/>
<circle cx="175.7" cy="324" r="2" fill="url(#gC)"/>
<circle cx="182.3" cy="323" r="2" fill="url(#gC)"/>
<circle cx="185.5" cy="318.6" r="2" fill="url(#gC)"/>
<circle cx="190" cy="314.9" r="2" fill="url(#gC)"/>
<line x1="190" y1="314.9" x2="188" y2="307" stroke="#222" stroke-width="0.8" />
<line x1="190" y1="314.9" x2="196" y2="306" stroke="#222" stroke-width="0.8" />
<circle cx="33.7" cy="322.9" r="1.9" fill="url(#gO)"/>
<circle cx="66.4" cy="321" r="1.9" fill="url(#gO)"/>
<circle cx="83.8" cy="319.8" r="1.9" fill="url(#gO)"/>
<circle cx="103.2" cy="326.6" r="1.9" fill="url(#gO)"/>
<circle cx="153" cy="322" r="1.9" fill="url(#gO)"/>
<circle cx="68" cy="313" r="1.9" fill="url(#gO)"/>
<circle cx="20" cy="319" r="1.2" fill="url(#gH)"/>
<circle cx="27" cy="330" r="1.2" fill="url(#gH)"/>
<circle cx="38" cy="330" r="1.2" fill="url(#gH)"/>
<circle cx="47" cy="321" r="1.2" fill="url(#gH)"/>
<circle cx="57" cy="330" r="1.2" fill="url(#gH)"/>
<circle cx="62" cy="318" r="1.2" fill="url(#gH)"/>
<circle cx="78" cy="318" r="1.2" fill="url(#gH)"/>
<circle cx="90" cy="328" r="1.2" fill="url(#gH)"/>
<circle cx="98" cy="316" r="1.2" fill="url(#gH)"/>
<circle cx="110" cy="327" r="1.2" fill="url(#gH)"/>
<circle cx="116" cy="317" r="1.2" fill="url(#gH)"/>
<circle cx="125" cy="316" r="1.2" fill="url(#gH)"/>
<circle cx="136" cy="321" r="1.2" fill="url(#gH)"/>
<circle cx="146" cy="312" r="1.2" fill="url(#gH)"/>
<circle cx="160" cy="314" r="1.2" fill="url(#gH)"/>
<circle cx="171" cy="317" r="1.2" fill="url(#gH)"/>
<circle cx="180" cy="328" r="1.2" fill="url(#gH)"/>
<circle cx="162" cy="330" r="1.2" fill="url(#gH)"/>
<circle cx="150" cy="326" r="1.2" fill="url(#gH)"/>
<circle cx="71" cy="316" r="1.2" fill="url(#gH)"/>
<circle cx="36" cy="318" r="1.2" fill="url(#gH)"/>
<circle cx="108" cy="316" r="1.2" fill="url(#gH)"/>
<circle cx="2" cy="365.9" r="2.6" fill="url(#gTi)"/>
<circle cx="4.5" cy="365.4" r="2.4" fill="url(#gTi)"/>
<circle cx="3.71" cy="362.26" r="2.6" fill="url(#gTi)"/>
<circle cx="6.21" cy="361.76" r="2.4" fill="url(#gTi)"/>
<circle cx="5.43" cy="358.61" r="2.6" fill="url(#gTi)"/>
<circle cx="7.93" cy="358.11" r="2.4" fill="url(#gTi)"/>
<circle cx="7.14" cy="354.97" r="2.6" fill="url(#gTi)"/>
<circle cx="9.64" cy="354.47" r="2.4" fill="url(#gTi)"/>
<circle cx="8.86" cy="351.33" r="2.6" fill="url(#gTi)"/>
<circle cx="11.36" cy="350.83" r="2.4" fill="url(#gTi)"/>
<circle cx="10.57" cy="347.69" r="2.6" fill="url(#gTi)"/>
<circle cx="13.07" cy="347.19" r="2.4" fill="url(#gTi)"/>
<circle cx="12.29" cy="344.04" r="2.6" fill="url(#gTi)"/>
<circle cx="14.79" cy="343.54" r="2.4" fill="url(#gTi)"/>
<circle cx="14" cy="340.4" r="2.6" fill="url(#gTi)"/>
<circle cx="16.5" cy="339.9" r="2.4" fill="url(#gTi)"/>
<circle cx="7.15" cy="365.91" r="2" fill="url(#gC)"/>
<circle cx="8.65" cy="365.21" r="2" fill="url(#gC)"/>
<circle cx="8.86" cy="362.27" r="2" fill="url(#gC)"/>
<circle cx="10.36" cy="361.57" r="2" fill="url(#gC)"/>
<circle cx="10.58" cy="358.63" r="2" fill="url(#gC)"/>
<circle cx="12.08" cy="357.93" r="2" fill="url(#gC)"/>
<circle cx="12.29" cy="354.98" r="2" fill="url(#gC)"/>
<circle cx="13.79" cy="354.28" r="2" fill="url(#gC)"/>
<circle cx="14.01" cy="351.34" r="2" fill="url(#gC)"/>
<circle cx="15.51" cy="350.64" r="2" fill="url(#gC)"/>
<circle cx="15.72" cy="347.7" r="2" fill="url(#gC)"/>
<circle cx="17.22" cy="347" r="2" fill="url(#gC)"/>
<circle cx="17.44" cy="344.06" r="2" fill="url(#gC)"/>
<circle cx="18.94" cy="343.36" r="2" fill="url(#gC)"/>
<circle cx="19.15" cy="340.41" r="2" fill="url(#gC)"/>
<circle cx="20.65" cy="339.71" r="2" fill="url(#gC)"/>
<circle cx="13.5" cy="365.32" r="2.6" fill="url(#gTi)"/>
<circle cx="16" cy="364.82" r="2.4" fill="url(#gTi)"/>
<circle cx="15.21" cy="361.68" r="2.6" fill="url(#gTi)"/>
<circle cx="17.71" cy="361.18" r="2.4" fill="url(#gTi)"/>
<circle cx="16.93" cy="358.04" r="2.6" fill="url(#gTi)"/>
<circle cx="19.43" cy="357.54" r="2.4" fill="url(#gTi)"/>
<circle cx="18.64" cy="354.4" r="2.6" fill="url(#gTi)"/>
<circle cx="21.14" cy="353.9" r="2.4" fill="url(#gTi)"/>
<circle cx="20.36" cy="350.75" r="2.6" fill="url(#gTi)"/>
<circle cx="22.86" cy="350.25" r="2.4" fill="url(#gTi)"/>
<circle cx="22.07" cy="347.11" r="2.6" fill="url(#gTi)"/>
<circle cx="24.57" cy="346.61" r="2.4" fill="url(#gTi)"/>
<circle cx="23.79" cy="343.47" r="2.6" fill="url(#gTi)"/>
<circle cx="26.29" cy="342.97" r="2.4" fill="url(#gTi)"/>
<circle cx="25.5" cy="339.82" r="2.6" fill="url(#gTi)"/>
<circle cx="28" cy="339.32" r="2.4" fill="url(#gTi)"/>
<circle cx="18.65" cy="365.34" r="2" fill="url(#gC)"/>
<circle cx="20.15" cy="364.64" r="2" fill="url(#gC)"/>
<circle cx="20.36" cy="361.69" r="2" fill="url(#gC)"/>
<circle cx="21.86" cy="360.99" r="2" fill="url(#gC)"/>
<circle cx="22.08" cy="358.05" r="2" fill="url(#gC)"/>
<circle cx="23.58" cy="357.35" r="2" fill="url(#gC)"/>
<circle cx="23.79" cy="354.41" r="2" fill="url(#gC)"/>
<circle cx="25.29" cy="353.71" r="2" fill="url(#gC)"/>
<circle cx="25.51" cy="350.77" r="2" fill="url(#gC)"/>
<circle cx="27.01" cy="350.07" r="2" fill="url(#gC)"/>
<circle cx="27.22" cy="347.12" r="2" fill="url(#gC)"/>
<circle cx="28.72" cy="346.42" r="2" fill="url(#gC)"/>
<circle cx="28.94" cy="343.48" r="2" fill="url(#gC)"/>
<circle cx="30.44" cy="342.78" r="2" fill="url(#gC)"/>
<circle cx="30.65" cy="339.84" r="2" fill="url(#gC)"/>
<circle cx="32.15" cy="339.14" r="2" fill="url(#gC)"/>
<circle cx="25" cy="364.75" r="2.6" fill="url(#gTi)"/>
<circle cx="27.5" cy="364.25" r="2.4" fill="url(#gTi)"/>
<circle cx="26.71" cy="361.11" r="2.6" fill="url(#gTi)"/>
<circle cx="29.21" cy="360.61" r="2.4" fill="url(#gTi)"/>
<circle cx="28.43" cy="357.46" r="2.6" fill="url(#gTi)"/>
<circle cx="30.93" cy="356.96" r="2.4" fill="url(#gTi)"/>
<circle cx="30.14" cy="353.82" r="2.6" fill="url(#gTi)"/>
<circle cx="32.64" cy="353.32" r="2.4" fill="url(#gTi)"/>
<circle cx="31.86" cy="350.18" r="2.6" fill="url(#gTi)"/>
<circle cx="34.36" cy="349.68" r="2.4" fill="url(#gTi)"/>
<circle cx="33.57" cy="346.54" r="2.6" fill="url(#gTi)"/>
<circle cx="36.07" cy="346.04" r="2.4" fill="url(#gTi)"/>
<circle cx="35.29" cy="342.89" r="2.6" fill="url(#gTi)"/>
<circle cx="37.79" cy="342.39" r="2.4" fill="url(#gTi)"/>
<circle cx="37" cy="339.25" r="2.6" fill="url(#gTi)"/>
<circle cx="39.5" cy="338.75" r="2.4" fill="url(#gTi)"/>
<circle cx="30.15" cy="364.76" r="2" fill="url(#gC)"/>
<circle cx="31.65" cy="364.06" r="2" fill="url(#gC)"/>
<circle cx="31.86" cy="361.12" r="2" fill="url(#gC)"/>
<circle cx="33.36" cy="360.42" r="2" fill="url(#gC)"/>
<circle cx="33.58" cy="357.48" r="2" fill="url(#gC)"/>
<circle cx="35.08" cy="356.78" r="2" fill="url(#gC)"/>
<circle cx="35.29" cy="353.83" r="2" fill="url(#gC)"/>
<circle cx="36.79" cy="353.13" r="2" fill="url(#gC)"/>
<circle cx="37.01" cy="350.19" r="2" fill="url(#gC)"/>
<circle cx="38.51" cy="349.49" r="2" fill="url(#gC)"/>
<circle cx="38.72" cy="346.55" r="2" fill="url(#gC)"/>
<circle cx="40.22" cy="345.85" r="2" fill="url(#gC)"/>
<circle cx="40.44" cy="342.91" r="2" fill="url(#gC)"/>
<circle cx="41.94" cy="342.21" r="2" fill="url(#gC)"/>
<circle cx="42.15" cy="339.26" r="2" fill="url(#gC)"/>
<circle cx="43.65" cy="338.56" r="2" fill="url(#gC)"/>
<circle cx="36.5" cy="364.18" r="2.6" fill="url(#gTi)"/>
<circle cx="39" cy="363.68" r="2.4" fill="url(#gTi)"/>
<circle cx="38.21" cy="360.53" r="2.6" fill="url(#gTi)"/>
<circle cx="40.71" cy="360.03" r="2.4" fill="url(#gTi)"/>
<circle cx="39.93" cy="356.89" r="2.6" fill="url(#gTi)"/>
<circle cx="42.43" cy="356.39" r="2.4" fill="url(#gTi)"/>
<circle cx="41.64" cy="353.25" r="2.6" fill="url(#gTi)"/>
<circle cx="44.14" cy="352.75" r="2.4" fill="url(#gTi)"/>
<circle cx="43.36" cy="349.6" r="2.6" fill="url(#gTi)"/>
<circle cx="45.86" cy="349.1" r="2.4" fill="url(#gTi)"/>
<circle cx="45.07" cy="345.96" r="2.6" fill="url(#gTi)"/>
<circle cx="47.57" cy="345.46" r="2.4" fill="url(#gTi)"/>
<circle cx="46.79" cy="342.32" r="2.6" fill="url(#gTi)"/>
<circle cx="49.29" cy="341.82" r="2.4" fill="url(#gTi)"/>
<circle cx="48.5" cy="338.68" r="2.6" fill="url(#gTi)"/>
<circle cx="51" cy="338.18" r="2.4" fill="url(#gTi)"/>
<circle cx="41.65" cy="364.19" r="2" fill="url(#gC)"/>
<circle cx="43.15" cy="363.49" r="2" fill="url(#gC)"/>
<circle cx="43.36" cy="360.54" r="2" fill="url(#gC)"/>
<circle cx="44.86" cy="359.84" r="2" fill="url(#gC)"/>
<circle cx="45.08" cy="356.9" r="2" fill="url(#gC)"/>
<circle cx="46.58" cy="356.2" r="2" fill="url(#gC)"/>
<circle cx="46.79" cy="353.26" r="2" fill="url(#gC)"/>
<circle cx="48.29" cy="352.56" r="2" fill="url(#gC)"/>
<circle cx="48.51" cy="349.62" r="2" fill="url(#gC)"/>
<circle cx="50.01" cy="348.92" r="2" fill="url(#gC)"/>
<circle cx="50.22" cy="345.97" r="2" fill="url(#gC)"/>
<circle cx="51.72" cy="345.27" r="2" fill="url(#gC)"/>
<circle cx="51.94" cy="342.33" r="2" fill="url(#gC)"/>
<circle cx="53.44" cy="341.63" r="2" fill="url(#gC)"/>
<circle cx="53.65" cy="338.69" r="2" fill="url(#gC)"/>
<circle cx="55.15" cy="337.99" r="2" fill="url(#gC)"/>
<circle cx="48" cy="363.6" r="2.6" fill="url(#gTi)"/>
<circle cx="50.5" cy="363.1" r="2.4" fill="url(#gTi)"/>
<circle cx="49.71" cy="359.96" r="2.6" fill="url(#gTi)"/>
<circle cx="52.21" cy="359.46" r="2.4" fill="url(#gTi)"/>
<circle cx="51.43" cy="356.31" r="2.6" fill="url(#gTi)"/>
<circle cx="53.93" cy="355.81" r="2.4" fill="url(#gTi)"/>
<circle cx="53.14" cy="352.67" r="2.6" fill="url(#gTi)"/>
<circle cx="55.64" cy="352.17" r="2.4" fill="url(#gTi)"/>
<circle cx="54.86" cy="349.03" r="2.6" fill="url(#gTi)"/>
<circle cx="57.36" cy="348.53" r="2.4" fill="url(#gTi)"/>
<circle cx="56.57" cy="345.39" r="2.6" fill="url(#gTi)"/>
<circle cx="59.07" cy="344.89" r="2.4" fill="url(#gTi)"/>
<circle cx="58.29" cy="341.74" r="2.6" fill="url(#gTi)"/>
<circle cx="60.79" cy="341.24" r="2.4" fill="url(#gTi)"/>
<circle cx="60" cy="338.1" r="2.6" fill="url(#gTi)"/>
<circle cx="62.5" cy="337.6" r="2.4" fill="url(#gTi)"/>
<circle cx="53.15" cy="363.61" r="2" fill="url(#gC)"/>
<circle cx="54.65" cy="362.91" r="2" fill="url(#gC)"/>
<circle cx="54.86" cy="359.97" r="2" fill="url(#gC)"/>
<circle cx="56.36" cy="359.27" r="2" fill="url(#gC)"/>
<circle cx="56.58" cy="356.33" r="2" fill="url(#gC)"/>
<circle cx="58.08" cy="355.63" r="2" fill="url(#gC)"/>
<circle cx="58.29" cy="352.68" r="2" fill="url(#gC)"/>
<circle cx="59.79" cy="351.98" r="2" fill="url(#gC)"/>
<circle cx="60.01" cy="349.04" r="2" fill="url(#gC)"/>
<circle cx="61.51" cy="348.34" r="2" fill="url(#gC)"/>
<circle cx="61.72" cy="345.4" r="2" fill="url(#gC)"/>
<circle cx="63.22" cy="344.7" r="2" fill="url(#gC)"/>
<circle cx="63.44" cy="341.76" r="2" fill="url(#gC)"/>
<circle cx="64.94" cy="341.06" r="2" fill="url(#gC)"/>
<circle cx="65.15" cy="338.11" r="2" fill="url(#gC)"/>
<circle cx="66.65" cy="337.41" r="2" fill="url(#gC)"/>
<circle cx="59.5" cy="363.02" r="2.6" fill="url(#gTi)"/>
<circle cx="62" cy="362.52" r="2.4" fill="url(#gTi)"/>
<circle cx="61.21" cy="359.38" r="2.6" fill="url(#gTi)"/>
<circle cx="63.71" cy="358.88" r="2.4" fill="url(#gTi)"/>
<circle cx="62.93" cy="355.74" r="2.6" fill="url(#gTi)"/>
<circle cx="65.43" cy="355.24" r="2.4" fill="url(#gTi)"/>
<circle cx="64.64" cy="352.1" r="2.6" fill="url(#gTi)"/>
<circle cx="67.14" cy="351.6" r="2.4" fill="url(#gTi)"/>
<circle cx="66.36" cy="348.45" r="2.6" fill="url(#gTi)"/>
<circle cx="68.86" cy="347.95" r="2.4" fill="url(#gTi)"/>
<circle cx="68.07" cy="344.81" r="2.6" fill="url(#gTi)"/>
<circle cx="70.57" cy="344.31" r="2.4" fill="url(#gTi)"/>
<circle cx="69.79" cy="341.17" r="2.6" fill="url(#gTi)"/>
<circle cx="72.29" cy="340.67" r="2.4" fill="url(#gTi)"/>
<circle cx="71.5" cy="337.52" r="2.6" fill="url(#gTi)"/>
<circle cx="74" cy="337.02" r="2.4" fill="url(#gTi)"/>
<circle cx="64.65" cy="363.04" r="2" fill="url(#gC)"/>
<circle cx="66.15" cy="362.34" r="2" fill="url(#gC)"/>
<circle cx="66.36" cy="359.39" r="2" fill="url(#gC)"/>
<circle cx="67.86" cy="358.69" r="2" fill="url(#gC)"/>
<circle cx="68.08" cy="355.75" r="2" fill="url(#gC)"/>
<circle cx="69.58" cy="355.05" r="2" fill="url(#gC)"/>
<circle cx="69.79" cy="352.11" r="2" fill="url(#gC)"/>
<circle cx="71.29" cy="351.41" r="2" fill="url(#gC)"/>
<circle cx="71.51" cy="348.47" r="2" fill="url(#gC)"/>
<circle cx="73.01" cy="347.77" r="2" fill="url(#gC)"/>
<circle cx="73.22" cy="344.82" r="2" fill="url(#gC)"/>
<circle cx="74.72" cy="344.12" r="2" fill="url(#gC)"/>
<circle cx="74.94" cy="341.18" r="2" fill="url(#gC)"/>
<circle cx="76.44" cy="340.48" r="2" fill="url(#gC)"/>
<circle cx="76.65" cy="337.54" r="2" fill="url(#gC)"/>
<circle cx="78.15" cy="336.84" r="2" fill="url(#gC)"/>
<circle cx="71" cy="362.45" r="2.6" fill="url(#gTi)"/>
<circle cx="73.5" cy="361.95" r="2.4" fill="url(#gTi)"/>
<circle cx="72.71" cy="358.81" r="2.6" fill="url(#gTi)"/>
<circle cx="75.21" cy="358.31" r="2.4" fill="url(#gTi)"/>
<circle cx="74.43" cy="355.16" r="2.6" fill="url(#gTi)"/>
<circle cx="76.93" cy="354.66" r="2.4" fill="url(#gTi)"/>
<circle cx="76.14" cy="351.52" r="2.6" fill="url(#gTi)"/>
<circle cx="78.64" cy="351.02" r="2.4" fill="url(#gTi)"/>
<circle cx="77.86" cy="347.88" r="2.6" fill="url(#gTi)"/>
<circle cx="80.36" cy="347.38" r="2.4" fill="url(#gTi)"/>
<circle cx="79.57" cy="344.24" r="2.6" fill="url(#gTi)"/>
<circle cx="82.07" cy="343.74" r="2.4" fill="url(#gTi)"/>
<circle cx="81.29" cy="340.59" r="2.6" fill="url(#gTi)"/>
<circle cx="83.79" cy="340.09" r="2.4" fill="url(#gTi)"/>
<circle cx="83" cy="336.95" r="2.6" fill="url(#gTi)"/>
<circle cx="85.5" cy="336.45" r="2.4" fill="url(#gTi)"/>
<circle cx="76.15" cy="362.46" r="2" fill="url(#gC)"/>
<circle cx="77.65" cy="361.76" r="2" fill="url(#gC)"/>
<circle cx="77.86" cy="358.82" r="2" fill="url(#gC)"/>
<circle cx="79.36" cy="358.12" r="2" fill="url(#gC)"/>
<circle cx="79.58" cy="355.18" r="2" fill="url(#gC)"/>
<circle cx="81.08" cy="354.48" r="2" fill="url(#gC)"/>
<circle cx="81.29" cy="351.53" r="2" fill="url(#gC)"/>
<circle cx="82.79" cy="350.83" r="2" fill="url(#gC)"/>
<circle cx="83.01" cy="347.89" r="2" fill="url(#gC)"/>
<circle cx="84.51" cy="347.19" r="2" fill="url(#gC)"/>
<circle cx="84.72" cy="344.25" r="2" fill="url(#gC)"/>
<circle cx="86.22" cy="343.55" r="2" fill="url(#gC)"/>
<circle cx="86.44" cy="340.61" r="2" fill="url(#gC)"/>
<circle cx="87.94" cy="339.91" r="2" fill="url(#gC)"/>
<circle cx="88.15" cy="336.96" r="2" fill="url(#gC)"/>
<circle cx="89.65" cy="336.26" r="2" fill="url(#gC)"/>
<circle cx="82.5" cy="361.88" r="2.6" fill="url(#gTi)"/>
<circle cx="85" cy="361.38" r="2.4" fill="url(#gTi)"/>
<circle cx="84.21" cy="358.23" r="2.6" fill="url(#gTi)"/>
<circle cx="86.71" cy="357.73" r="2.4" fill="url(#gTi)"/>
<circle cx="85.93" cy="354.59" r="2.6" fill="url(#gTi)"/>
<circle cx="88.43" cy="354.09" r="2.4" fill="url(#gTi)"/>
<circle cx="87.64" cy="350.95" r="2.6" fill="url(#gTi)"/>
<circle cx="90.14" cy="350.45" r="2.4" fill="url(#gTi)"/>
<circle cx="89.36" cy="347.3" r="2.6" fill="url(#gTi)"/>
<circle cx="91.86" cy="346.8" r="2.4" fill="url(#gTi)"/>
<circle cx="91.07" cy="343.66" r="2.6" fill="url(#gTi)"/>
<circle cx="93.57" cy="343.16" r="2.4" fill="url(#gTi)"/>
<circle cx="92.79" cy="340.02" r="2.6" fill="url(#gTi)"/>
<circle cx="95.29" cy="339.52" r="2.4" fill="url(#gTi)"/>
<circle cx="94.5" cy="336.38" r="2.6" fill="url(#gTi)"/>
<circle cx="97" cy="335.88" r="2.4" fill="url(#gTi)"/>
<circle cx="87.65" cy="361.89" r="2" fill="url(#gC)"/>
<circle cx="89.15" cy="361.19" r="2" fill="url(#gC)"/>
<circle cx="89.36" cy="358.24" r="2" fill="url(#gC)"/>
<circle cx="90.86" cy="357.54" r="2" fill="url(#gC)"/>
<circle cx="91.08" cy="354.6" r="2" fill="url(#gC)"/>
<circle cx="92.58" cy="353.9" r="2" fill="url(#gC)"/>
<circle cx="92.79" cy="350.96" r="2" fill="url(#gC)"/>
<circle cx="94.29" cy="350.26" r="2" fill="url(#gC)"/>
<circle cx="94.51" cy="347.32" r="2" fill="url(#gC)"/>
<circle cx="96.01" cy="346.62" r="2" fill="url(#gC)"/>
<circle cx="96.22" cy="343.67" r="2" fill="url(#gC)"/>
<circle cx="97.72" cy="342.97" r="2" fill="url(#gC)"/>
<circle cx="97.94" cy="340.03" r="2" fill="url(#gC)"/>
<circle cx="99.44" cy="339.33" r="2" fill="url(#gC)"/>
<circle cx="99.65" cy="336.39" r="2" fill="url(#gC)"/>
<circle cx="101.15" cy="335.69" r="2" fill="url(#gC)"/>
<circle cx="94" cy="361.3" r="2.6" fill="url(#gTi)"/>
<circle cx="96.5" cy="360.8" r="2.4" fill="url(#gTi)"/>
<circle cx="95.71" cy="357.66" r="2.6" fill="url(#gTi)"/>
<circle cx="98.21" cy="357.16" r="2.4" fill="url(#gTi)"/>
<circle cx="97.43" cy="354.01" r="2.6" fill="url(#gTi)"/>
<circle cx="99.93" cy="353.51" r="2.4" fill="url(#gTi)"/>
<circle cx="99.14" cy="350.37" r="2.6" fill="url(#gTi)"/>
<circle cx="101.64" cy="349.87" r="2.4" fill="url(#gTi)"/>
<circle cx="100.86" cy="346.73" r="2.6" fill="url(#gTi)"/>
<circle cx="103.36" cy="346.23" r="2.4" fill="url(#gTi)"/>
<circle cx="102.57" cy="343.09" r="2.6" fill="url(#gTi)"/>
<circle cx="105.07" cy="342.59" r="2.4" fill="url(#gTi)"/>
<circle cx="104.29" cy="339.44" r="2.6" fill="url(#gTi)"/>
<circle cx="106.79" cy="338.94" r="2.4" fill="url(#gTi)"/>
<circle cx="106" cy="335.8" r="2.6" fill="url(#gTi)"/>
<circle cx="108.5" cy="335.3" r="2.4" fill="url(#gTi)"/>
<line x1="18" y1="338" x2="18" y2="332" stroke="#30d030" stroke-width="1.0" />
<circle cx="18" cy="331.7" r="1.3" fill="url(#gH)"/>
<path d="M14.6,340.6 L18,335.6 L21.4,340.6 Z" fill="#e02424"/>
<circle cx="16.6" cy="338.8" r="1.9" fill="url(#gO)"/>
<circle cx="19.4" cy="338.8" r="1.9" fill="url(#gO)"/>
<circle cx="18" cy="337.4" r="2" fill="url(#gO)"/>
<line x1="23.9" y1="337.7" x2="23.9" y2="331.7" stroke="#30d030" stroke-width="1.0" />
<circle cx="23.9" cy="331.4" r="1.3" fill="url(#gH)"/>
<path d="M20.5,340.31 L23.9,335.31 L27.3,340.31 Z" fill="#e02424"/>
<circle cx="22.5" cy="338.5" r="1.9" fill="url(#gO)"/>
<circle cx="25.3" cy="338.5" r="1.9" fill="url(#gO)"/>
<circle cx="23.9" cy="337.1" r="2" fill="url(#gO)"/>
<line x1="29.8" y1="337.41" x2="29.8" y2="331.41" stroke="#30d030" stroke-width="1.0" />
<circle cx="29.8" cy="331.11" r="1.3" fill="url(#gH)"/>
<path d="M26.4,340.01 L29.8,335.01 L33.2,340.01 Z" fill="#e02424"/>
<circle cx="28.4" cy="338.21" r="1.9" fill="url(#gO)"/>
<circle cx="31.2" cy="338.21" r="1.9" fill="url(#gO)"/>
<circle cx="29.8" cy="336.81" r="2" fill="url(#gO)"/>
<line x1="35.7" y1="337.12" x2="35.7" y2="331.12" stroke="#30d030" stroke-width="1.0" />
<circle cx="35.7" cy="330.81" r="1.3" fill="url(#gH)"/>
<path d="M32.3,339.72 L35.7,334.72 L39.1,339.72 Z" fill="#e02424"/>
<circle cx="34.3" cy="337.92" r="1.9" fill="url(#gO)"/>
<circle cx="37.1" cy="337.92" r="1.9" fill="url(#gO)"/>
<circle cx="35.7" cy="336.51" r="2" fill="url(#gO)"/>
<line x1="41.6" y1="336.82" x2="41.6" y2="330.82" stroke="#30d030" stroke-width="1.0" />
<circle cx="41.6" cy="330.52" r="1.3" fill="url(#gH)"/>
<path d="M38.2,339.42 L41.6,334.42 L45,339.42 Z" fill="#e02424"/>
<circle cx="40.2" cy="337.62" r="1.9" fill="url(#gO)"/>
<circle cx="43" cy="337.62" r="1.9" fill="url(#gO)"/>
<circle cx="41.6" cy="336.22" r="2" fill="url(#gO)"/>
<line x1="47.5" y1="336.52" x2="47.5" y2="330.52" stroke="#30d030" stroke-width="1.0" />
<circle cx="47.5" cy="330.22" r="1.3" fill="url(#gH)"/>
<path d="M44.1,339.12 L47.5,334.12 L50.9,339.12 Z" fill="#e02424"/>
<circle cx="46.1" cy="337.32" r="1.9" fill="url(#gO)"/>
<circle cx="48.9" cy="337.32" r="1.9" fill="url(#gO)"/>
<circle cx="47.5" cy="335.92" r="2" fill="url(#gO)"/>
<line x1="53.4" y1="336.23" x2="53.4" y2="330.23" stroke="#30d030" stroke-width="1.0" />
<circle cx="53.4" cy="329.93" r="1.3" fill="url(#gH)"/>
<path d="M50,338.83 L53.4,333.83 L56.8,338.83 Z" fill="#e02424"/>
<circle cx="52" cy="337.03" r="1.9" fill="url(#gO)"/>
<circle cx="54.8" cy="337.03" r="1.9" fill="url(#gO)"/>
<circle cx="53.4" cy="335.63" r="2" fill="url(#gO)"/>
<line x1="59.3" y1="335.94" x2="59.3" y2="329.94" stroke="#30d030" stroke-width="1.0" />
<circle cx="59.3" cy="329.63" r="1.3" fill="url(#gH)"/>
<path d="M55.9,338.54 L59.3,333.54 L62.7,338.54 Z" fill="#e02424"/>
<circle cx="57.9" cy="336.74" r="1.9" fill="url(#gO)"/>
<circle cx="60.7" cy="336.74" r="1.9" fill="url(#gO)"/>
<circle cx="59.3" cy="335.33" r="2" fill="url(#gO)"/>
<line x1="65.2" y1="335.64" x2="65.2" y2="329.64" stroke="#30d030" stroke-width="1.0" />
<circle cx="65.2" cy="329.34" r="1.3" fill="url(#gH)"/>
<path d="M61.8,338.24 L65.2,333.24 L68.6,338.24 Z" fill="#e02424"/>
<circle cx="63.8" cy="336.44" r="1.9" fill="url(#gO)"/>
<circle cx="66.6" cy="336.44" r="1.9" fill="url(#gO)"/>
<circle cx="65.2" cy="335.04" r="2" fill="url(#gO)"/>
<line x1="71.1" y1="335.35" x2="71.1" y2="329.35" stroke="#30d030" stroke-width="1.0" />
<circle cx="71.1" cy="329.05" r="1.3" fill="url(#gH)"/>
<path d="M67.7,337.95 L71.1,332.95 L74.5,337.95 Z" fill="#e02424"/>
<circle cx="69.7" cy="336.15" r="1.9" fill="url(#gO)"/>
<circle cx="72.5" cy="336.15" r="1.9" fill="url(#gO)"/>
<circle cx="71.1" cy="334.75" r="2" fill="url(#gO)"/>
<line x1="77" y1="335.05" x2="77" y2="329.05" stroke="#30d030" stroke-width="1.0" />
<circle cx="77" cy="328.75" r="1.3" fill="url(#gH)"/>
<path d="M73.6,337.65 L77,332.65 L80.4,337.65 Z" fill="#e02424"/>
<circle cx="75.6" cy="335.85" r="1.9" fill="url(#gO)"/>
<circle cx="78.4" cy="335.85" r="1.9" fill="url(#gO)"/>
<circle cx="77" cy="334.45" r="2" fill="url(#gO)"/>
<line x1="82.9" y1="334.75" x2="82.9" y2="328.75" stroke="#30d030" stroke-width="1.0" />
<circle cx="82.9" cy="328.45" r="1.3" fill="url(#gH)"/>
<path d="M79.5,337.36 L82.9,332.36 L86.3,337.36 Z" fill="#e02424"/>
<circle cx="81.5" cy="335.56" r="1.9" fill="url(#gO)"/>
<circle cx="84.3" cy="335.56" r="1.9" fill="url(#gO)"/>
<circle cx="82.9" cy="334.15" r="2" fill="url(#gO)"/>
<line x1="88.8" y1="334.46" x2="88.8" y2="328.46" stroke="#30d030" stroke-width="1.0" />
<circle cx="88.8" cy="328.16" r="1.3" fill="url(#gH)"/>
<path d="M85.4,337.06 L88.8,332.06 L92.2,337.06 Z" fill="#e02424"/>
<circle cx="87.4" cy="335.26" r="1.9" fill="url(#gO)"/>
<circle cx="90.2" cy="335.26" r="1.9" fill="url(#gO)"/>
<circle cx="88.8" cy="333.86" r="2" fill="url(#gO)"/>
<line x1="94.7" y1="334.17" x2="94.7" y2="328.17" stroke="#30d030" stroke-width="1.0" />
<circle cx="94.7" cy="327.87" r="1.3" fill="url(#gH)"/>
<path d="M91.3,336.77 L94.7,331.77 L98.1,336.77 Z" fill="#e02424"/>
<circle cx="93.3" cy="334.97" r="1.9" fill="url(#gO)"/>
<circle cx="96.1" cy="334.97" r="1.9" fill="url(#gO)"/>
<circle cx="94.7" cy="333.56" r="2" fill="url(#gO)"/>
<line x1="100.6" y1="333.87" x2="100.6" y2="327.87" stroke="#30d030" stroke-width="1.0" />
<circle cx="100.6" cy="327.57" r="1.3" fill="url(#gH)"/>
<path d="M97.2,336.47 L100.6,331.47 L104,336.47 Z" fill="#e02424"/>
<circle cx="99.2" cy="334.67" r="1.9" fill="url(#gO)"/>
<circle cx="102" cy="334.67" r="1.9" fill="url(#gO)"/>
<circle cx="100.6" cy="333.27" r="2" fill="url(#gO)"/>
<line x1="106.5" y1="333.57" x2="106.5" y2="327.57" stroke="#30d030" stroke-width="1.0" />
<circle cx="106.5" cy="327.27" r="1.3" fill="url(#gH)"/>
<path d="M103.1,336.18 L106.5,331.18 L109.9,336.18 Z" fill="#e02424"/>
<circle cx="105.1" cy="334.38" r="1.9" fill="url(#gO)"/>
<circle cx="107.9" cy="334.38" r="1.9" fill="url(#gO)"/>
<circle cx="106.5" cy="332.97" r="2" fill="url(#gO)"/>
<line x1="6" y1="369" x2="5" y2="375" stroke="#30d030" stroke-width="1.0" />
<circle cx="5" cy="375.3" r="1.3" fill="url(#gH)"/>
<path d="M2.8,366.6 L6,371.6 L9.2,366.6 Z" fill="#d82020"/>
<circle cx="4.7" cy="368.4" r="1.8" fill="url(#gO)"/>
<circle cx="7.3" cy="368.4" r="1.8" fill="url(#gO)"/>
<circle cx="6" cy="369.8" r="1.9" fill="url(#gO)"/>
<line x1="12.3" y1="368.7" x2="11.3" y2="374.7" stroke="#30d030" stroke-width="1.0" />
<circle cx="11.3" cy="375" r="1.3" fill="url(#gH)"/>
<path d="M9.1,366.31 L12.3,371.31 L15.5,366.31 Z" fill="#d82020"/>
<circle cx="11" cy="368.1" r="1.8" fill="url(#gO)"/>
<circle cx="13.6" cy="368.1" r="1.8" fill="url(#gO)"/>
<circle cx="12.3" cy="369.5" r="1.9" fill="url(#gO)"/>
<line x1="18.6" y1="368.41" x2="17.6" y2="374.41" stroke="#30d030" stroke-width="1.0" />
<circle cx="17.6" cy="374.71" r="1.3" fill="url(#gH)"/>
<path d="M15.4,366.01 L18.6,371.01 L21.8,366.01 Z" fill="#d82020"/>
<circle cx="17.3" cy="367.81" r="1.8" fill="url(#gO)"/>
<circle cx="19.9" cy="367.81" r="1.8" fill="url(#gO)"/>
<circle cx="18.6" cy="369.21" r="1.9" fill="url(#gO)"/>
<line x1="24.9" y1="368.12" x2="23.9" y2="374.12" stroke="#30d030" stroke-width="1.0" />
<circle cx="23.9" cy="374.42" r="1.3" fill="url(#gH)"/>
<path d="M21.7,365.72 L24.9,370.72 L28.1,365.72 Z" fill="#d82020"/>
<circle cx="23.6" cy="367.51" r="1.8" fill="url(#gO)"/>
<circle cx="26.2" cy="367.51" r="1.8" fill="url(#gO)"/>
<circle cx="24.9" cy="368.92" r="1.9" fill="url(#gO)"/>
<line x1="31.2" y1="367.82" x2="30.2" y2="373.82" stroke="#30d030" stroke-width="1.0" />
<circle cx="30.2" cy="374.12" r="1.3" fill="url(#gH)"/>
<path d="M28,365.42 L31.2,370.42 L34.4,365.42 Z" fill="#d82020"/>
<circle cx="29.9" cy="367.22" r="1.8" fill="url(#gO)"/>
<circle cx="32.5" cy="367.22" r="1.8" fill="url(#gO)"/>
<circle cx="31.2" cy="368.62" r="1.9" fill="url(#gO)"/>
<line x1="37.5" y1="367.52" x2="36.5" y2="373.52" stroke="#30d030" stroke-width="1.0" />
<circle cx="36.5" cy="373.82" r="1.3" fill="url(#gH)"/>
<path d="M34.3,365.12 L37.5,370.12 L40.7,365.12 Z" fill="#d82020"/>
<circle cx="36.2" cy="366.92" r="1.8" fill="url(#gO)"/>
<circle cx="38.8" cy="366.92" r="1.8" fill="url(#gO)"/>
<circle cx="37.5" cy="368.32" r="1.9" fill="url(#gO)"/>
<line x1="43.8" y1="367.23" x2="42.8" y2="373.23" stroke="#30d030" stroke-width="1.0" />
<circle cx="42.8" cy="373.53" r="1.3" fill="url(#gH)"/>
<path d="M40.6,364.83 L43.8,369.83 L47,364.83 Z" fill="#d82020"/>
<circle cx="42.5" cy="366.63" r="1.8" fill="url(#gO)"/>
<circle cx="45.1" cy="366.63" r="1.8" fill="url(#gO)"/>
<circle cx="43.8" cy="368.03" r="1.9" fill="url(#gO)"/>
<line x1="50.1" y1="366.94" x2="49.1" y2="372.94" stroke="#30d030" stroke-width="1.0" />
<circle cx="49.1" cy="373.24" r="1.3" fill="url(#gH)"/>
<path d="M46.9,364.54 L50.1,369.54 L53.3,364.54 Z" fill="#d82020"/>
<circle cx="48.8" cy="366.33" r="1.8" fill="url(#gO)"/>
<circle cx="51.4" cy="366.33" r="1.8" fill="url(#gO)"/>
<circle cx="50.1" cy="367.74" r="1.9" fill="url(#gO)"/>
<line x1="56.4" y1="366.64" x2="55.4" y2="372.64" stroke="#30d030" stroke-width="1.0" />
<circle cx="55.4" cy="372.94" r="1.3" fill="url(#gH)"/>
<path d="M53.2,364.24 L56.4,369.24 L59.6,364.24 Z" fill="#d82020"/>
<circle cx="55.1" cy="366.04" r="1.8" fill="url(#gO)"/>
<circle cx="57.7" cy="366.04" r="1.8" fill="url(#gO)"/>
<circle cx="56.4" cy="367.44" r="1.9" fill="url(#gO)"/>
<line x1="62.7" y1="366.35" x2="61.7" y2="372.35" stroke="#30d030" stroke-width="1.0" />
<circle cx="61.7" cy="372.65" r="1.3" fill="url(#gH)"/>
<path d="M59.5,363.95 L62.7,368.95 L65.9,363.95 Z" fill="#d82020"/>
<circle cx="61.4" cy="365.75" r="1.8" fill="url(#gO)"/>
<circle cx="64" cy="365.75" r="1.8" fill="url(#gO)"/>
<circle cx="62.7" cy="367.15" r="1.9" fill="url(#gO)"/>
<line x1="69" y1="366.05" x2="68" y2="372.05" stroke="#30d030" stroke-width="1.0" />
<circle cx="68" cy="372.35" r="1.3" fill="url(#gH)"/>
<path d="M65.8,363.65 L69,368.65 L72.2,363.65 Z" fill="#d82020"/>
<circle cx="67.7" cy="365.45" r="1.8" fill="url(#gO)"/>
<circle cx="70.3" cy="365.45" r="1.8" fill="url(#gO)"/>
<circle cx="69" cy="366.85" r="1.9" fill="url(#gO)"/>
<line x1="75.3" y1="365.75" x2="74.3" y2="371.75" stroke="#30d030" stroke-width="1.0" />
<circle cx="74.3" cy="372.06" r="1.3" fill="url(#gH)"/>
<path d="M72.1,363.36 L75.3,368.36 L78.5,363.36 Z" fill="#d82020"/>
<circle cx="74" cy="365.15" r="1.8" fill="url(#gO)"/>
<circle cx="76.6" cy="365.15" r="1.8" fill="url(#gO)"/>
<circle cx="75.3" cy="366.56" r="1.9" fill="url(#gO)"/>
<line x1="81.6" y1="365.46" x2="80.6" y2="371.46" stroke="#30d030" stroke-width="1.0" />
<circle cx="80.6" cy="371.76" r="1.3" fill="url(#gH)"/>
<path d="M78.4,363.06 L81.6,368.06 L84.8,363.06 Z" fill="#d82020"/>
<circle cx="80.3" cy="364.86" r="1.8" fill="url(#gO)"/>
<circle cx="82.9" cy="364.86" r="1.8" fill="url(#gO)"/>
<circle cx="81.6" cy="366.26" r="1.9" fill="url(#gO)"/>
<line x1="87.9" y1="365.17" x2="86.9" y2="371.17" stroke="#30d030" stroke-width="1.0" />
<circle cx="86.9" cy="371.47" r="1.3" fill="url(#gH)"/>
<path d="M84.7,362.77 L87.9,367.77 L91.1,362.77 Z" fill="#d82020"/>
<circle cx="86.6" cy="364.56" r="1.8" fill="url(#gO)"/>
<circle cx="89.2" cy="364.56" r="1.8" fill="url(#gO)"/>
<circle cx="87.9" cy="365.97" r="1.9" fill="url(#gO)"/>
<line x1="94.2" y1="364.87" x2="93.2" y2="370.87" stroke="#30d030" stroke-width="1.0" />
<circle cx="93.2" cy="371.17" r="1.3" fill="url(#gH)"/>
<path d="M91,362.47 L94.2,367.47 L97.4,362.47 Z" fill="#d82020"/>
<circle cx="92.9" cy="364.27" r="1.8" fill="url(#gO)"/>
<circle cx="95.5" cy="364.27" r="1.8" fill="url(#gO)"/>
<circle cx="94.2" cy="365.67" r="1.9" fill="url(#gO)"/>
<path d="M122,339L214,341M121,342.69L213.12,343.5M120,346.38L212.25,346M119,350.06L211.38,348.5M118,353.75L210.5,351M117,357.44L209.62,353.5M116,361.12L208.75,356M115,364.81L207.88,358.5M114,368.5L207,361" stroke="#1a1a1a" stroke-width="1.0"/>
<path d="M121.76,339.88L213.79,341.6M120.76,343.57L212.91,344.1M119.76,347.26L212.04,346.6M118.76,350.95L211.16,349.1M117.76,354.63L210.29,351.6M116.76,358.32L209.41,354.1M115.76,362.01L208.54,356.6M114.76,365.7L207.66,359.1M113.76,369.38L206.79,361.6" stroke="#e04040" stroke-width="0.5" opacity="0.7"/>
<line x1="123" y1="336" x2="123" y2="329.5" stroke="#30d030" stroke-width="1.0" />
<circle cx="123" cy="329.2" r="1.3" fill="url(#gH)"/>
<path d="M119.6,338.6 L123,333.6 L126.4,338.6 Z" fill="#e02424"/>
<circle cx="121.6" cy="336.8" r="1.9" fill="url(#gO)"/>
<circle cx="124.4" cy="336.8" r="1.9" fill="url(#gO)"/>
<circle cx="123" cy="335.4" r="2" fill="url(#gO)"/>
<line x1="133.22" y1="336.78" x2="133.22" y2="330.28" stroke="#30d030" stroke-width="1.0" />
<circle cx="133.22" cy="329.98" r="1.3" fill="url(#gH)"/>
<path d="M129.82,339.38 L133.22,334.38 L136.62,339.38 Z" fill="#e02424"/>
<circle cx="131.82" cy="337.58" r="1.9" fill="url(#gO)"/>
<circle cx="134.62" cy="337.58" r="1.9" fill="url(#gO)"/>
<circle cx="133.22" cy="336.18" r="2" fill="url(#gO)"/>
<line x1="143.44" y1="337.56" x2="143.44" y2="331.06" stroke="#30d030" stroke-width="1.0" />
<circle cx="143.44" cy="330.76" r="1.3" fill="url(#gH)"/>
<path d="M140.04,340.16 L143.44,335.16 L146.84,340.16 Z" fill="#e02424"/>
<circle cx="142.04" cy="338.36" r="1.9" fill="url(#gO)"/>
<circle cx="144.84" cy="338.36" r="1.9" fill="url(#gO)"/>
<circle cx="143.44" cy="336.96" r="2" fill="url(#gO)"/>
<line x1="153.67" y1="338.33" x2="153.67" y2="331.83" stroke="#30d030" stroke-width="1.0" />
<circle cx="153.67" cy="331.53" r="1.3" fill="url(#gH)"/>
<path d="M150.27,340.93 L153.67,335.93 L157.07,340.93 Z" fill="#e02424"/>
<circle cx="152.27" cy="339.13" r="1.9" fill="url(#gO)"/>
<circle cx="155.07" cy="339.13" r="1.9" fill="url(#gO)"/>
<circle cx="153.67" cy="337.73" r="2" fill="url(#gO)"/>
<line x1="163.89" y1="339.11" x2="163.89" y2="332.61" stroke="#30d030" stroke-width="1.0" />
<circle cx="163.89" cy="332.31" r="1.3" fill="url(#gH)"/>
<path d="M160.49,341.71 L163.89,336.71 L167.29,341.71 Z" fill="#e02424"/>
<circle cx="162.49" cy="339.91" r="1.9" fill="url(#gO)"/>
<circle cx="165.29" cy="339.91" r="1.9" fill="url(#gO)"/>
<circle cx="163.89" cy="338.51" r="2" fill="url(#gO)"/>
<line x1="174.11" y1="339.89" x2="174.11" y2="333.39" stroke="#30d030" stroke-width="1.0" />
<circle cx="174.11" cy="333.09" r="1.3" fill="url(#gH)"/>
<path d="M170.71,342.49 L174.11,337.49 L177.51,342.49 Z" fill="#e02424"/>
<circle cx="172.71" cy="340.69" r="1.9" fill="url(#gO)"/>
<circle cx="175.51" cy="340.69" r="1.9" fill="url(#gO)"/>
<circle cx="174.11" cy="339.29" r="2" fill="url(#gO)"/>
<line x1="184.33" y1="340.67" x2="184.33" y2="334.17" stroke="#30d030" stroke-width="1.0" />
<circle cx="184.33" cy="333.87" r="1.3" fill="url(#gH)"/>
<path d="M180.93,343.27 L184.33,338.27 L187.73,343.27 Z" fill="#e02424"/>
<circle cx="182.93" cy="341.47" r="1.9" fill="url(#gO)"/>
<circle cx="185.73" cy="341.47" r="1.9" fill="url(#gO)"/>
<circle cx="184.33" cy="340.07" r="2" fill="url(#gO)"/>
<line x1="194.56" y1="341.44" x2="194.56" y2="334.94" stroke="#30d030" stroke-width="1.0" />
<circle cx="194.56" cy="334.64" r="1.3" fill="url(#gH)"/>
<path d="M191.16,344.04 L194.56,339.04 L197.96,344.04 Z" fill="#e02424"/>
<circle cx="193.16" cy="342.24" r="1.9" fill="url(#gO)"/>
<circle cx="195.96" cy="342.24" r="1.9" fill="url(#gO)"/>
<circle cx="194.56" cy="340.84" r="2" fill="url(#gO)"/>
<line x1="204.78" y1="342.22" x2="204.78" y2="335.72" stroke="#30d030" stroke-width="1.0" />
<circle cx="204.78" cy="335.42" r="1.3" fill="url(#gH)"/>
<path d="M201.38,344.82 L204.78,339.82 L208.18,344.82 Z" fill="#e02424"/>
<circle cx="203.38" cy="343.02" r="1.9" fill="url(#gO)"/>
<circle cx="206.18" cy="343.02" r="1.9" fill="url(#gO)"/>
<circle cx="204.78" cy="341.62" r="2" fill="url(#gO)"/>
<line x1="215" y1="343" x2="215" y2="336.5" stroke="#30d030" stroke-width="1.0" />
<circle cx="215" cy="336.2" r="1.3" fill="url(#gH)"/>
<path d="M211.6,345.6 L215,340.6 L218.4,345.6 Z" fill="#e02424"/>
<circle cx="213.6" cy="343.8" r="1.9" fill="url(#gO)"/>
<circle cx="216.4" cy="343.8" r="1.9" fill="url(#gO)"/>
<circle cx="215" cy="342.4" r="2" fill="url(#gO)"/>
<circle cx="122" cy="337" r="2.5" fill="url(#gTi)"/>
<circle cx="130" cy="337.61" r="2.5" fill="url(#gTi)"/>
<circle cx="138" cy="338.22" r="2.5" fill="url(#gTi)"/>
<circle cx="146" cy="338.83" r="2.5" fill="url(#gTi)"/>
<circle cx="154" cy="339.43" r="2.5" fill="url(#gTi)"/>
<circle cx="162" cy="340.04" r="2.5" fill="url(#gTi)"/>
<circle cx="170" cy="340.65" r="2.5" fill="url(#gTi)"/>
<circle cx="178" cy="341.26" r="2.5" fill="url(#gTi)"/>
<circle cx="186" cy="341.87" r="2.5" fill="url(#gTi)"/>
<circle cx="194" cy="342.48" r="2.5" fill="url(#gTi)"/>
<circle cx="202" cy="343.09" r="2.5" fill="url(#gTi)"/>
<circle cx="210" cy="343.7" r="2.5" fill="url(#gTi)"/>
<circle cx="127.27" cy="341.15" r="1.7" fill="url(#gC)"/>
<circle cx="124.67" cy="342.15" r="2.5" fill="url(#gTi)"/>
<circle cx="135.29" cy="341.62" r="1.7" fill="url(#gC)"/>
<circle cx="132.69" cy="342.62" r="2.5" fill="url(#gTi)"/>
<circle cx="143.3" cy="342.09" r="1.7" fill="url(#gC)"/>
<circle cx="140.7" cy="343.09" r="2.5" fill="url(#gTi)"/>
<circle cx="151.32" cy="342.57" r="1.7" fill="url(#gC)"/>
<circle cx="148.72" cy="343.57" r="2.5" fill="url(#gTi)"/>
<circle cx="159.33" cy="343.04" r="1.7" fill="url(#gC)"/>
<circle cx="156.73" cy="344.04" r="2.5" fill="url(#gTi)"/>
<circle cx="167.35" cy="343.51" r="1.7" fill="url(#gC)"/>
<circle cx="164.75" cy="344.51" r="2.5" fill="url(#gTi)"/>
<circle cx="175.36" cy="343.98" r="1.7" fill="url(#gC)"/>
<circle cx="172.76" cy="344.98" r="2.5" fill="url(#gTi)"/>
<circle cx="183.38" cy="344.45" r="1.7" fill="url(#gC)"/>
<circle cx="180.78" cy="345.45" r="2.5" fill="url(#gTi)"/>
<circle cx="191.39" cy="344.92" r="1.7" fill="url(#gC)"/>
<circle cx="188.79" cy="345.92" r="2.5" fill="url(#gTi)"/>
<circle cx="199.4" cy="345.39" r="1.7" fill="url(#gC)"/>
<circle cx="196.8" cy="346.39" r="2.5" fill="url(#gTi)"/>
<circle cx="207.42" cy="345.86" r="1.7" fill="url(#gC)"/>
<circle cx="204.82" cy="346.86" r="2.5" fill="url(#gTi)"/>
<circle cx="215.43" cy="346.33" r="1.7" fill="url(#gC)"/>
<circle cx="212.83" cy="347.33" r="2.5" fill="url(#gTi)"/>
<circle cx="119.33" cy="346.83" r="2.5" fill="url(#gTi)"/>
<circle cx="127.36" cy="347.17" r="2.5" fill="url(#gTi)"/>
<circle cx="135.39" cy="347.5" r="2.5" fill="url(#gTi)"/>
<circle cx="143.42" cy="347.83" r="2.5" fill="url(#gTi)"/>
<circle cx="151.45" cy="348.17" r="2.5" fill="url(#gTi)"/>
<circle cx="159.48" cy="348.5" r="2.5" fill="url(#gTi)"/>
<circle cx="167.51" cy="348.83" r="2.5" fill="url(#gTi)"/>
<circle cx="175.54" cy="349.17" r="2.5" fill="url(#gTi)"/>
<circle cx="183.57" cy="349.5" r="2.5" fill="url(#gTi)"/>
<circle cx="191.59" cy="349.83" r="2.5" fill="url(#gTi)"/>
<circle cx="199.62" cy="350.17" r="2.5" fill="url(#gTi)"/>
<circle cx="207.65" cy="350.5" r="2.5" fill="url(#gTi)"/>
<circle cx="124.62" cy="350.85" r="1.7" fill="url(#gC)"/>
<circle cx="122.02" cy="351.85" r="2.5" fill="url(#gTi)"/>
<circle cx="132.67" cy="351.04" r="1.7" fill="url(#gC)"/>
<circle cx="130.07" cy="352.04" r="2.5" fill="url(#gTi)"/>
<circle cx="140.71" cy="351.24" r="1.7" fill="url(#gC)"/>
<circle cx="138.11" cy="352.24" r="2.5" fill="url(#gTi)"/>
<circle cx="148.75" cy="351.43" r="1.7" fill="url(#gC)"/>
<circle cx="146.15" cy="352.43" r="2.5" fill="url(#gTi)"/>
<circle cx="156.8" cy="351.63" r="1.7" fill="url(#gC)"/>
<circle cx="154.2" cy="352.63" r="2.5" fill="url(#gTi)"/>
<circle cx="164.84" cy="351.83" r="1.7" fill="url(#gC)"/>
<circle cx="162.24" cy="352.83" r="2.5" fill="url(#gTi)"/>
<circle cx="172.88" cy="352.02" r="1.7" fill="url(#gC)"/>
<circle cx="170.28" cy="353.02" r="2.5" fill="url(#gTi)"/>
<circle cx="180.93" cy="352.22" r="1.7" fill="url(#gC)"/>
<circle cx="178.33" cy="353.22" r="2.5" fill="url(#gTi)"/>
<circle cx="188.97" cy="352.41" r="1.7" fill="url(#gC)"/>
<circle cx="186.37" cy="353.41" r="2.5" fill="url(#gTi)"/>
<circle cx="197.01" cy="352.61" r="1.7" fill="url(#gC)"/>
<circle cx="194.41" cy="353.61" r="2.5" fill="url(#gTi)"/>
<circle cx="205.06" cy="352.8" r="1.7" fill="url(#gC)"/>
<circle cx="202.46" cy="353.8" r="2.5" fill="url(#gTi)"/>
<circle cx="213.1" cy="353" r="1.7" fill="url(#gC)"/>
<circle cx="210.5" cy="354" r="2.5" fill="url(#gTi)"/>
<circle cx="116.67" cy="356.67" r="2.5" fill="url(#gTi)"/>
<circle cx="124.72" cy="356.72" r="2.5" fill="url(#gTi)"/>
<circle cx="132.78" cy="356.78" r="2.5" fill="url(#gTi)"/>
<circle cx="140.84" cy="356.84" r="2.5" fill="url(#gTi)"/>
<circle cx="148.9" cy="356.9" r="2.5" fill="url(#gTi)"/>
<circle cx="156.96" cy="356.96" r="2.5" fill="url(#gTi)"/>
<circle cx="165.01" cy="357.01" r="2.5" fill="url(#gTi)"/>
<circle cx="173.07" cy="357.07" r="2.5" fill="url(#gTi)"/>
<circle cx="181.13" cy="357.13" r="2.5" fill="url(#gTi)"/>
<circle cx="189.19" cy="357.19" r="2.5" fill="url(#gTi)"/>
<circle cx="197.25" cy="357.25" r="2.5" fill="url(#gTi)"/>
<circle cx="205.3" cy="357.3" r="2.5" fill="url(#gTi)"/>
<circle cx="121.97" cy="360.54" r="1.7" fill="url(#gC)"/>
<circle cx="119.37" cy="361.54" r="2.5" fill="url(#gTi)"/>
<circle cx="130.04" cy="360.46" r="1.7" fill="url(#gC)"/>
<circle cx="127.44" cy="361.46" r="2.5" fill="url(#gTi)"/>
<circle cx="138.11" cy="360.38" r="1.7" fill="url(#gC)"/>
<circle cx="135.51" cy="361.38" r="2.5" fill="url(#gTi)"/>
<circle cx="146.19" cy="360.3" r="1.7" fill="url(#gC)"/>
<circle cx="143.59" cy="361.3" r="2.5" fill="url(#gTi)"/>
<circle cx="154.26" cy="360.22" r="1.7" fill="url(#gC)"/>
<circle cx="151.66" cy="361.22" r="2.5" fill="url(#gTi)"/>
<circle cx="162.33" cy="360.14" r="1.7" fill="url(#gC)"/>
<circle cx="159.73" cy="361.14" r="2.5" fill="url(#gTi)"/>
<circle cx="170.4" cy="360.07" r="1.7" fill="url(#gC)"/>
<circle cx="167.8" cy="361.07" r="2.5" fill="url(#gTi)"/>
<circle cx="178.48" cy="359.99" r="1.7" fill="url(#gC)"/>
<circle cx="175.88" cy="360.99" r="2.5" fill="url(#gTi)"/>
<circle cx="186.55" cy="359.91" r="1.7" fill="url(#gC)"/>
<circle cx="183.95" cy="360.91" r="2.5" fill="url(#gTi)"/>
<circle cx="194.62" cy="359.83" r="1.7" fill="url(#gC)"/>
<circle cx="192.02" cy="360.83" r="2.5" fill="url(#gTi)"/>
<circle cx="202.69" cy="359.75" r="1.7" fill="url(#gC)"/>
<circle cx="200.09" cy="360.75" r="2.5" fill="url(#gTi)"/>
<circle cx="210.77" cy="359.67" r="1.7" fill="url(#gC)"/>
<circle cx="208.17" cy="360.67" r="2.5" fill="url(#gTi)"/>
<circle cx="114" cy="366.5" r="2.5" fill="url(#gTi)"/>
<circle cx="122.09" cy="366.28" r="2.5" fill="url(#gTi)"/>
<circle cx="130.17" cy="366.07" r="2.5" fill="url(#gTi)"/>
<circle cx="138.26" cy="365.85" r="2.5" fill="url(#gTi)"/>
<circle cx="146.35" cy="365.63" r="2.5" fill="url(#gTi)"/>
<circle cx="154.43" cy="365.41" r="2.5" fill="url(#gTi)"/>
<circle cx="162.52" cy="365.2" r="2.5" fill="url(#gTi)"/>
<circle cx="170.61" cy="364.98" r="2.5" fill="url(#gTi)"/>
<circle cx="178.7" cy="364.76" r="2.5" fill="url(#gTi)"/>
<circle cx="186.78" cy="364.54" r="2.5" fill="url(#gTi)"/>
<circle cx="194.87" cy="364.33" r="2.5" fill="url(#gTi)"/>
<circle cx="202.96" cy="364.11" r="2.5" fill="url(#gTi)"/>
<line x1="114" y1="368.5" x2="113" y2="374.5" stroke="#30d030" stroke-width="1.0" />
<circle cx="113" cy="374.8" r="1.3" fill="url(#gH)"/>
<path d="M110.8,366.1 L114,371.1 L117.2,366.1 Z" fill="#d82020"/>
<circle cx="112.7" cy="367.9" r="1.8" fill="url(#gO)"/>
<circle cx="115.3" cy="367.9" r="1.8" fill="url(#gO)"/>
<circle cx="114" cy="369.3" r="1.9" fill="url(#gO)"/>
<line x1="124.33" y1="368.22" x2="123.33" y2="374.22" stroke="#30d030" stroke-width="1.0" />
<circle cx="123.33" cy="374.52" r="1.3" fill="url(#gH)"/>
<path d="M121.13,365.82 L124.33,370.82 L127.53,365.82 Z" fill="#d82020"/>
<circle cx="123.03" cy="367.62" r="1.8" fill="url(#gO)"/>
<circle cx="125.63" cy="367.62" r="1.8" fill="url(#gO)"/>
<circle cx="124.33" cy="369.02" r="1.9" fill="url(#gO)"/>
<line x1="134.67" y1="367.94" x2="133.67" y2="373.94" stroke="#30d030" stroke-width="1.0" />
<circle cx="133.67" cy="374.24" r="1.3" fill="url(#gH)"/>
<path d="M131.47,365.54 L134.67,370.54 L137.87,365.54 Z" fill="#d82020"/>
<circle cx="133.37" cy="367.34" r="1.8" fill="url(#gO)"/>
<circle cx="135.97" cy="367.34" r="1.8" fill="url(#gO)"/>
<circle cx="134.67" cy="368.74" r="1.9" fill="url(#gO)"/>
<line x1="145" y1="367.67" x2="144" y2="373.67" stroke="#30d030" stroke-width="1.0" />
<circle cx="144" cy="373.97" r="1.3" fill="url(#gH)"/>
<path d="M141.8,365.27 L145,370.27 L148.2,365.27 Z" fill="#d82020"/>
<circle cx="143.7" cy="367.07" r="1.8" fill="url(#gO)"/>
<circle cx="146.3" cy="367.07" r="1.8" fill="url(#gO)"/>
<circle cx="145" cy="368.47" r="1.9" fill="url(#gO)"/>
<line x1="155.33" y1="367.39" x2="154.33" y2="373.39" stroke="#30d030" stroke-width="1.0" />
<circle cx="154.33" cy="373.69" r="1.3" fill="url(#gH)"/>
<path d="M152.13,364.99 L155.33,369.99 L158.53,364.99 Z" fill="#d82020"/>
<circle cx="154.03" cy="366.79" r="1.8" fill="url(#gO)"/>
<circle cx="156.63" cy="366.79" r="1.8" fill="url(#gO)"/>
<circle cx="155.33" cy="368.19" r="1.9" fill="url(#gO)"/>
<line x1="165.67" y1="367.11" x2="164.67" y2="373.11" stroke="#30d030" stroke-width="1.0" />
<circle cx="164.67" cy="373.41" r="1.3" fill="url(#gH)"/>
<path d="M162.47,364.71 L165.67,369.71 L168.87,364.71 Z" fill="#d82020"/>
<circle cx="164.37" cy="366.51" r="1.8" fill="url(#gO)"/>
<circle cx="166.97" cy="366.51" r="1.8" fill="url(#gO)"/>
<circle cx="165.67" cy="367.91" r="1.9" fill="url(#gO)"/>
<line x1="176" y1="366.83" x2="175" y2="372.83" stroke="#30d030" stroke-width="1.0" />
<circle cx="175" cy="373.13" r="1.3" fill="url(#gH)"/>
<path d="M172.8,364.43 L176,369.43 L179.2,364.43 Z" fill="#d82020"/>
<circle cx="174.7" cy="366.23" r="1.8" fill="url(#gO)"/>
<circle cx="177.3" cy="366.23" r="1.8" fill="url(#gO)"/>
<circle cx="176" cy="367.63" r="1.9" fill="url(#gO)"/>
<line x1="186.33" y1="366.56" x2="185.33" y2="372.56" stroke="#30d030" stroke-width="1.0" />
<circle cx="185.33" cy="372.86" r="1.3" fill="url(#gH)"/>
<path d="M183.13,364.16 L186.33,369.16 L189.53,364.16 Z" fill="#d82020"/>
<circle cx="185.03" cy="365.96" r="1.8" fill="url(#gO)"/>
<circle cx="187.63" cy="365.96" r="1.8" fill="url(#gO)"/>
<circle cx="186.33" cy="367.36" r="1.9" fill="url(#gO)"/>
<line x1="196.67" y1="366.28" x2="195.67" y2="372.28" stroke="#30d030" stroke-width="1.0" />
<circle cx="195.67" cy="372.58" r="1.3" fill="url(#gH)"/>
<path d="M193.47,363.88 L196.67,368.88 L199.87,363.88 Z" fill="#d82020"/>
<circle cx="195.37" cy="365.68" r="1.8" fill="url(#gO)"/>
<circle cx="197.97" cy="365.68" r="1.8" fill="url(#gO)"/>
<circle cx="196.67" cy="367.08" r="1.9" fill="url(#gO)"/>
<line x1="207" y1="366" x2="206" y2="372" stroke="#30d030" stroke-width="1.0" />
<circle cx="206" cy="372.3" r="1.3" fill="url(#gH)"/>
<path d="M203.8,363.6 L207,368.6 L210.2,363.6 Z" fill="#d82020"/>
<circle cx="205.7" cy="365.4" r="1.8" fill="url(#gO)"/>
<circle cx="208.3" cy="365.4" r="1.8" fill="url(#gO)"/>
<circle cx="207" cy="366.8" r="1.9" fill="url(#gO)"/>
<rect x="256.7" y="269.8" width="197.6" height="111.2" fill="#fff" stroke="none" stroke-width="1" />
<clipPath id="boxclip"><rect x="256.7" y="269.8" width="197.6" height="111.2"/></clipPath>
<g clip-path="url(#boxclip)">
<clipPath id="latclip"><polygon points="262,383 270,356 284,348 300,343 330,341 356,342 400,345 430,344 456,341 456,383"/></clipPath>
<g clip-path="url(#latclip)">
<path d="M240,340 L470,260M240,343.6 L470,263.6M240,347.2 L470,267.2M240,350.8 L470,270.8M240,354.4 L470,274.4M240,358 L470,278M240,361.6 L470,281.6M240,365.2 L470,285.2M240,368.8 L470,288.8M240,372.4 L470,292.4M240,376 L470,296M240,379.6 L470,299.6M240,383.2 L470,303.2M240,386.8 L470,306.8M240,390.4 L470,310.4M240,394 L470,314M240,397.6 L470,317.6M240,401.2 L470,321.2M240,404.8 L470,324.8M240,408.4 L470,328.4M240,412 L470,332M240,415.6 L470,335.6M240,419.2 L470,339.2M240,422.8 L470,342.8M240,426.4 L470,346.4M240,430 L470,350M240,433.6 L470,353.6M240,437.2 L470,357.2M240,440.8 L470,360.8M240,444.4 L470,364.4M240,448 L470,368M240,451.6 L470,371.6M240,455.2 L470,375.2M240,458.8 L470,378.8M240,462.4 L470,382.4M240,466 L470,386M240,469.6 L470,389.6M240,473.2 L470,393.2M240,476.8 L470,396.8M240,480.4 L470,400.4M240,484 L470,404M240,487.6 L470,407.6M240,491.2 L470,411.2M240,494.8 L470,414.8M240,498.4 L470,418.4M240,502 L470,422M240,505.6 L470,425.6M240,509.2 L470,429.2M240,512.8 L470,432.8M240,516.4 L470,436.4M240,520 L470,440M240,523.6 L470,443.6M240,527.2 L470,447.2M240,530.8 L470,450.8M240,534.4 L470,454.4M240,538 L470,458M240,541.6 L470,461.6M240,545.2 L470,465.2M240,548.8 L470,468.8M240,552.4 L470,472.4" stroke="#111" stroke-width="1.9"/>
<path d="M240,341.8 L470,261.8M240,345.4 L470,265.4M240,349 L470,269M240,352.6 L470,272.6M240,356.2 L470,276.2M240,359.8 L470,279.8M240,363.4 L470,283.4M240,367 L470,287M240,370.6 L470,290.6M240,374.2 L470,294.2M240,377.8 L470,297.8M240,381.4 L470,301.4M240,385 L470,305M240,388.6 L470,308.6M240,392.2 L470,312.2M240,395.8 L470,315.8M240,399.4 L470,319.4M240,403 L470,323M240,406.6 L470,326.6M240,410.2 L470,330.2M240,413.8 L470,333.8M240,417.4 L470,337.4M240,421 L470,341M240,424.6 L470,344.6M240,428.2 L470,348.2M240,431.8 L470,351.8M240,435.4 L470,355.4M240,439 L470,359M240,442.6 L470,362.6M240,446.2 L470,366.2M240,449.8 L470,369.8M240,453.4 L470,373.4M240,457 L470,377M240,460.6 L470,380.6M240,464.2 L470,384.2M240,467.8 L470,387.8M240,471.4 L470,391.4M240,475 L470,395M240,478.6 L470,398.6M240,482.2 L470,402.2M240,485.8 L470,405.8M240,489.4 L470,409.4M240,493 L470,413M240,496.6 L470,416.6M240,500.2 L470,420.2M240,503.8 L470,423.8M240,507.4 L470,427.4M240,511 L470,431M240,514.6 L470,434.6M240,518.2 L470,438.2M240,521.8 L470,441.8M240,525.4 L470,445.4M240,529 L470,449M240,532.6 L470,452.6M240,536.2 L470,456.2M240,539.8 L470,459.8M240,543.4 L470,463.4M240,547 L470,467M240,550.6 L470,470.6M240,554.2 L470,474.2" stroke="#d83030" stroke-width="0.6" opacity="0.45"/>
</g>
<line x1="263.4" y1="272" x2="263.4" y2="284.5" stroke="#33cc33" stroke-width="2.3" />
<line x1="263.4" y1="272" x2="263.4" y2="278" stroke="#e03030" stroke-width="2.5" />
<circle cx="263.4" cy="271.8" r="4" fill="url(#gO)"/>
<circle cx="263.4" cy="285" r="2.5" fill="url(#gH)"/>
<line x1="272.7" y1="272" x2="272.7" y2="284.5" stroke="#33cc33" stroke-width="2.3" />
<line x1="272.7" y1="272" x2="272.7" y2="278" stroke="#e03030" stroke-width="2.5" />
<circle cx="272.7" cy="271.8" r="4" fill="url(#gO)"/>
<circle cx="272.7" cy="285" r="2.5" fill="url(#gH)"/>
<line x1="288.7" y1="272" x2="288.7" y2="284.5" stroke="#33cc33" stroke-width="2.3" />
<line x1="288.7" y1="272" x2="288.7" y2="278" stroke="#e03030" stroke-width="2.5" />
<circle cx="288.7" cy="271.8" r="4" fill="url(#gO)"/>
<circle cx="288.7" cy="285" r="2.5" fill="url(#gH)"/>
<line x1="295.4" y1="272" x2="295.4" y2="284.5" stroke="#33cc33" stroke-width="2.3" />
<line x1="295.4" y1="272" x2="295.4" y2="278" stroke="#e03030" stroke-width="2.5" />
<circle cx="295.4" cy="271.8" r="4" fill="url(#gO)"/>
<circle cx="295.4" cy="285" r="2.5" fill="url(#gH)"/>
<line x1="356.7" y1="272" x2="356.7" y2="284.5" stroke="#33cc33" stroke-width="2.3" />
<line x1="356.7" y1="272" x2="356.7" y2="278" stroke="#e03030" stroke-width="2.5" />
<circle cx="356.7" cy="271.8" r="4" fill="url(#gO)"/>
<circle cx="356.7" cy="285" r="2.5" fill="url(#gH)"/>
<line x1="360.5" y1="272" x2="360.5" y2="284.5" stroke="#33cc33" stroke-width="2.3" />
<line x1="360.5" y1="272" x2="360.5" y2="278" stroke="#e03030" stroke-width="2.5" />
<circle cx="360.5" cy="271.8" r="4" fill="url(#gO)"/>
<circle cx="360.5" cy="285" r="2.5" fill="url(#gH)"/>
<line x1="364.5" y1="272" x2="364.5" y2="284.5" stroke="#33cc33" stroke-width="2.3" />
<line x1="364.5" y1="272" x2="364.5" y2="278" stroke="#e03030" stroke-width="2.5" />
<circle cx="364.5" cy="271.8" r="4" fill="url(#gO)"/>
<circle cx="364.5" cy="285" r="2.5" fill="url(#gH)"/>
<line x1="368.5" y1="272" x2="368.5" y2="284.5" stroke="#33cc33" stroke-width="2.3" />
<line x1="368.5" y1="272" x2="368.5" y2="278" stroke="#e03030" stroke-width="2.5" />
<circle cx="368.5" cy="271.8" r="4" fill="url(#gO)"/>
<circle cx="368.5" cy="285" r="2.5" fill="url(#gH)"/>
<line x1="384.5" y1="272" x2="384.5" y2="284.5" stroke="#33cc33" stroke-width="2.3" />
<line x1="384.5" y1="272" x2="384.5" y2="278" stroke="#e03030" stroke-width="2.5" />
<circle cx="384.5" cy="271.8" r="4" fill="url(#gO)"/>
<circle cx="384.5" cy="285" r="2.5" fill="url(#gH)"/>
<line x1="391.2" y1="272" x2="391.2" y2="284.5" stroke="#33cc33" stroke-width="2.3" />
<line x1="391.2" y1="272" x2="391.2" y2="278" stroke="#e03030" stroke-width="2.5" />
<circle cx="391.2" cy="271.8" r="4" fill="url(#gO)"/>
<circle cx="391.2" cy="285" r="2.5" fill="url(#gH)"/>
<line x1="399.6" y1="272" x2="399.6" y2="284.5" stroke="#33cc33" stroke-width="2.3" />
<line x1="399.6" y1="272" x2="399.6" y2="278" stroke="#e03030" stroke-width="2.5" />
<circle cx="399.6" cy="271.8" r="4" fill="url(#gO)"/>
<circle cx="399.6" cy="285" r="2.5" fill="url(#gH)"/>
<line x1="406.4" y1="272" x2="406.4" y2="284.5" stroke="#33cc33" stroke-width="2.3" />
<line x1="406.4" y1="272" x2="406.4" y2="278" stroke="#e03030" stroke-width="2.5" />
<circle cx="406.4" cy="271.8" r="4" fill="url(#gO)"/>
<circle cx="406.4" cy="285" r="2.5" fill="url(#gH)"/>
<line x1="414.8" y1="272" x2="414.8" y2="284.5" stroke="#33cc33" stroke-width="2.3" />
<line x1="414.8" y1="272" x2="414.8" y2="278" stroke="#e03030" stroke-width="2.5" />
<circle cx="414.8" cy="271.8" r="4" fill="url(#gO)"/>
<circle cx="414.8" cy="285" r="2.5" fill="url(#gH)"/>
<line x1="426.5" y1="272" x2="426.5" y2="284.5" stroke="#33cc33" stroke-width="2.3" />
<line x1="426.5" y1="272" x2="426.5" y2="278" stroke="#e03030" stroke-width="2.5" />
<circle cx="426.5" cy="271.8" r="4" fill="url(#gO)"/>
<circle cx="426.5" cy="285" r="2.5" fill="url(#gH)"/>
<line x1="435.8" y1="272" x2="435.8" y2="284.5" stroke="#33cc33" stroke-width="2.3" />
<line x1="435.8" y1="272" x2="435.8" y2="278" stroke="#e03030" stroke-width="2.5" />
<circle cx="435.8" cy="271.8" r="4" fill="url(#gO)"/>
<circle cx="435.8" cy="285" r="2.5" fill="url(#gH)"/>
<line x1="441.7" y1="272" x2="441.7" y2="284.5" stroke="#33cc33" stroke-width="2.3" />
<line x1="441.7" y1="272" x2="441.7" y2="278" stroke="#e03030" stroke-width="2.5" />
<circle cx="441.7" cy="271.8" r="4" fill="url(#gO)"/>
<circle cx="441.7" cy="285" r="2.5" fill="url(#gH)"/>
<line x1="452.6" y1="272" x2="452.6" y2="284.5" stroke="#33cc33" stroke-width="2.3" />
<line x1="452.6" y1="272" x2="452.6" y2="278" stroke="#e03030" stroke-width="2.5" />
<circle cx="452.6" cy="271.8" r="4" fill="url(#gO)"/>
<circle cx="452.6" cy="285" r="2.5" fill="url(#gH)"/>
<circle cx="267" cy="350.4" r="4.8" fill="url(#gTi)"/>
<circle cx="259" cy="357.7" r="4.8" fill="url(#gTi)"/>
<circle cx="258.2" cy="371.6" r="4.8" fill="url(#gTi)"/>
<circle cx="291.8" cy="357" r="4.8" fill="url(#gTi)"/>
<circle cx="286.7" cy="367.2" r="4.8" fill="url(#gTi)"/>
<circle cx="277.9" cy="378.2" r="4.8" fill="url(#gTi)"/>
<circle cx="298.3" cy="349.7" r="4.8" fill="url(#gTi)"/>
<circle cx="318.8" cy="352.6" r="4.8" fill="url(#gTi)"/>
<circle cx="317.3" cy="360.7" r="4.8" fill="url(#gTi)"/>
<circle cx="313.7" cy="372.3" r="4.8" fill="url(#gTi)"/>
<circle cx="343.6" cy="349" r="4.8" fill="url(#gTi)"/>
<circle cx="345" cy="356.3" r="4.8" fill="url(#gTi)"/>
<circle cx="343.6" cy="365.8" r="4.8" fill="url(#gTi)"/>
<circle cx="345" cy="375.3" r="4.8" fill="url(#gTi)"/>
<circle cx="324.6" cy="365.8" r="4.8" fill="url(#gTi)"/>
<circle cx="268" cy="383" r="4.8" fill="url(#gTi)"/>
<circle cx="300" cy="381" r="4.8" fill="url(#gTi)"/>
<circle cx="371.1" cy="359.3" r="4.8" fill="url(#gTi)"/>
<circle cx="375.4" cy="369.5" r="4.8" fill="url(#gTi)"/>
<circle cx="359.4" cy="373.2" r="4.8" fill="url(#gTi)"/>
<circle cx="412" cy="373.2" r="4.8" fill="url(#gTi)"/>
<circle cx="422.2" cy="359.3" r="4.8" fill="url(#gTi)"/>
<circle cx="433.8" cy="371.7" r="4.8" fill="url(#gTi)"/>
<circle cx="442.6" cy="357.1" r="4.8" fill="url(#gTi)"/>
<circle cx="448.4" cy="368.8" r="4.8" fill="url(#gTi)"/>
<circle cx="391.5" cy="365.9" r="4.8" fill="url(#gTi)"/>
<circle cx="385" cy="378" r="4.8" fill="url(#gTi)"/>
<circle cx="430" cy="381" r="4.8" fill="url(#gTi)"/>
<circle cx="400" cy="360" r="4.8" fill="url(#gTi)"/>
<circle cx="452" cy="378" r="4.8" fill="url(#gTi)"/>
<path d="M298.3,368l-6,3M298.3,368l6,3M298.3,368l-4,-4M298.3,368l5,-3M304.9,357l-6,3M304.9,357l6,3M304.9,357l-4,-4M304.9,357l5,-3M310,347.5l-6,3M310,347.5l6,3M310,347.5l-4,-4M310,347.5l5,-3M331.9,373.8l-6,3M331.9,373.8l6,3M331.9,373.8l-4,-4M331.9,373.8l5,-3M332.6,359.2l-6,3M332.6,359.2l6,3M332.6,359.2l-4,-4M332.6,359.2l5,-3M365.2,366.6l-6,3M365.2,366.6l6,3M365.2,366.6l-4,-4M365.2,366.6l5,-3M393.7,360l-6,3M393.7,360l6,3M393.7,360l-4,-4M393.7,360l5,-3M402.4,372.4l-6,3M402.4,372.4l6,3M402.4,372.4l-4,-4M402.4,372.4l5,-3M430.2,365.9l-6,3M430.2,365.9l6,3M430.2,365.9l-4,-4M430.2,365.9l5,-3M417.8,354.9l-6,3M417.8,354.9l6,3M417.8,354.9l-4,-4M417.8,354.9l5,-3M387.1,350.5l-6,3M387.1,350.5l6,3M387.1,350.5l-4,-4M387.1,350.5l5,-3M361.6,355.7l-6,3M361.6,355.7l6,3M361.6,355.7l-4,-4M361.6,355.7l5,-3M358.6,347.6l-6,3M358.6,347.6l6,3M358.6,347.6l-4,-4M358.6,347.6l5,-3M382,344l-6,3M382,344l6,3M382,344l-4,-4M382,344l5,-3M408.3,346.9l-6,3M408.3,346.9l6,3M408.3,346.9l-4,-4M408.3,346.9l5,-3M427.3,343.2l-6,3M427.3,343.2l6,3M427.3,343.2l-4,-4M427.3,343.2l5,-3M438.2,349.8l-6,3M438.2,349.8l6,3M438.2,349.8l-4,-4M438.2,349.8l5,-3M451.4,358.6l-6,3M451.4,358.6l6,3M451.4,358.6l-4,-4M451.4,358.6l5,-3M322,344l-6,3M322,344l6,3M322,344l-4,-4M322,344l5,-3" stroke="#e02a2a" stroke-width="1.6"/>
<line x1="299.1" y1="349" x2="304.9" y2="357" stroke="#2ad82a" stroke-width="2.3" />
<line x1="333.4" y1="344.6" x2="332.6" y2="359.2" stroke="#2ad82a" stroke-width="2.3" />
<line x1="331.9" y1="354.1" x2="332.6" y2="359.2" stroke="#2ad82a" stroke-width="2.3" />
<line x1="309.7" y1="334" x2="310" y2="347.5" stroke="#2ad82a" stroke-width="2.3" />
<line x1="360.1" y1="333.8" x2="358.6" y2="347.6" stroke="#2ad82a" stroke-width="2.3" />
<line x1="363" y1="339.6" x2="358.6" y2="347.6" stroke="#2ad82a" stroke-width="2.3" />
<line x1="366.7" y1="348.4" x2="361.6" y2="355.7" stroke="#2ad82a" stroke-width="2.3" />
<line x1="382.7" y1="330.8" x2="382" y2="344" stroke="#2ad82a" stroke-width="2.3" />
<line x1="387.8" y1="336" x2="382" y2="344" stroke="#2ad82a" stroke-width="2.3" />
<line x1="404.6" y1="352.7" x2="393.7" y2="360" stroke="#2ad82a" stroke-width="2.3" />
<line x1="428.7" y1="330.8" x2="427.3" y2="343.2" stroke="#2ad82a" stroke-width="2.3" />
<line x1="431.6" y1="347.6" x2="438.2" y2="349.8" stroke="#2ad82a" stroke-width="2.3" />
<line x1="440.4" y1="336" x2="438.2" y2="349.8" stroke="#2ad82a" stroke-width="2.3" />
<line x1="453.5" y1="342.5" x2="451.4" y2="358.6" stroke="#2ad82a" stroke-width="2.3" />
<line x1="321.5" y1="336" x2="322" y2="344" stroke="#2ad82a" stroke-width="2.3" />
<circle cx="298.3" cy="368" r="4.6" fill="url(#gO)"/>
<circle cx="304.9" cy="357" r="4.3" fill="url(#gO)"/>
<circle cx="310" cy="347.5" r="3.4" fill="url(#gO)"/>
<circle cx="331.9" cy="373.8" r="4.6" fill="url(#gO)"/>
<circle cx="332.6" cy="359.2" r="4.3" fill="url(#gO)"/>
<circle cx="365.2" cy="366.6" r="4.6" fill="url(#gO)"/>
<circle cx="393.7" cy="360" r="4.3" fill="url(#gO)"/>
<circle cx="402.4" cy="372.4" r="4.8" fill="url(#gO)"/>
<circle cx="430.2" cy="365.9" r="4.6" fill="url(#gO)"/>
<circle cx="417.8" cy="354.9" r="4" fill="url(#gO)"/>
<circle cx="387.1" cy="350.5" r="3.8" fill="url(#gO)"/>
<circle cx="361.6" cy="355.7" r="3.8" fill="url(#gO)"/>
<circle cx="358.6" cy="347.6" r="3.4" fill="url(#gO)"/>
<circle cx="382" cy="344" r="3.4" fill="url(#gO)"/>
<circle cx="408.3" cy="346.9" r="3.6" fill="url(#gO)"/>
<circle cx="427.3" cy="343.2" r="3.4" fill="url(#gO)"/>
<circle cx="438.2" cy="349.8" r="3.8" fill="url(#gO)"/>
<circle cx="451.4" cy="358.6" r="3.8" fill="url(#gO)"/>
<circle cx="322" cy="344" r="3.2" fill="url(#gO)"/>
<circle cx="299.1" cy="349" r="2.7" fill="url(#gH)"/>
<circle cx="333.4" cy="344.6" r="2.7" fill="url(#gH)"/>
<circle cx="331.9" cy="354.1" r="2.7" fill="url(#gH)"/>
<circle cx="309.7" cy="334" r="2.7" fill="url(#gH)"/>
<circle cx="360.1" cy="333.8" r="2.7" fill="url(#gH)"/>
<circle cx="363" cy="339.6" r="2.7" fill="url(#gH)"/>
<circle cx="366.7" cy="348.4" r="2.7" fill="url(#gH)"/>
<circle cx="382.7" cy="330.8" r="2.7" fill="url(#gH)"/>
<circle cx="387.8" cy="336" r="2.7" fill="url(#gH)"/>
<circle cx="404.6" cy="352.7" r="2.7" fill="url(#gH)"/>
<circle cx="428.7" cy="330.8" r="2.7" fill="url(#gH)"/>
<circle cx="431.6" cy="347.6" r="2.7" fill="url(#gH)"/>
<circle cx="440.4" cy="336" r="2.7" fill="url(#gH)"/>
<circle cx="453.5" cy="342.5" r="2.7" fill="url(#gH)"/>
<circle cx="321.5" cy="336" r="2.7" fill="url(#gH)"/>
<polyline points="250,306.5 267.6,302.9 304.7,310.5 331.1,296.1 369.3,303.4 405.5,289.4" stroke="#3a78d8" stroke-width="1.8" fill="none" stroke-linejoin="round" />
<polyline points="250,306 258.4,310.1 278.2,318 297.1,331.5 317.3,332" stroke="#d040c0" stroke-width="1.8" fill="none" stroke-linejoin="round" />
<polyline points="408,330.6 426.5,321.9 442.5,318.5 451.8,305.4 460,300" stroke="#d040c0" stroke-width="1.8" fill="none" stroke-linejoin="round" />
<line x1="317.3" y1="332" x2="308" y2="348" stroke="#111" stroke-width="1.8" />
<line x1="317.3" y1="332" x2="330" y2="350" stroke="#111" stroke-width="1.8" />
<line x1="408" y1="330.6" x2="394" y2="358" stroke="#111" stroke-width="1.8" />
<line x1="408" y1="330.6" x2="417" y2="356" stroke="#111" stroke-width="1.8" />
<line x1="302.6" y1="300.4" x2="304.7" y2="310.5" stroke="#e03030" stroke-width="1.8" />
<line x1="302.6" y1="300.4" x2="290.4" y2="285.2" stroke="#33cc33" stroke-width="1.4" />
<line x1="302.6" y1="300.4" x2="308.5" y2="290.3" stroke="#33cc33" stroke-width="0.7" />
<circle cx="308.5" cy="290.3" r="2.3" fill="url(#gH)"/>
<circle cx="302.6" cy="300.4" r="3.4" fill="url(#gO)"/>
<line x1="367.7" y1="314.6" x2="369.3" y2="303.4" stroke="#e03030" stroke-width="1.8" />
<line x1="367.7" y1="314.6" x2="361.8" y2="339" stroke="#e03030" stroke-width="1.4" />
<line x1="367.7" y1="314.6" x2="359.3" y2="324.2" stroke="#33cc33" stroke-width="0.7" />
<circle cx="359.3" cy="324.2" r="2.3" fill="url(#gH)"/>
<circle cx="367.7" cy="314.6" r="3.4" fill="url(#gO)"/>
<line x1="267.6" y1="302.9" x2="268.1" y2="294.5" stroke="#33cc33" stroke-width="0.7" />
<circle cx="268.1" cy="294.5" r="2.3" fill="url(#gH)"/>
<line x1="267.6" y1="302.9" x2="259.2" y2="297.8" stroke="#33cc33" stroke-width="0.7" />
<circle cx="259.2" cy="297.8" r="2.3" fill="url(#gH)"/>
<line x1="331.1" y1="296.1" x2="324.4" y2="289.4" stroke="#33cc33" stroke-width="0.7" />
<circle cx="324.4" cy="289.4" r="2.3" fill="url(#gH)"/>
<line x1="331.1" y1="296.1" x2="335.5" y2="288.6" stroke="#33cc33" stroke-width="0.7" />
<circle cx="335.5" cy="288.6" r="2.3" fill="url(#gH)"/>
<line x1="304.7" y1="310.5" x2="308" y2="318.9" stroke="#33cc33" stroke-width="0.7" />
<circle cx="308" cy="318.9" r="2.3" fill="url(#gH)"/>
<line x1="369.3" y1="303.4" x2="371.9" y2="295" stroke="#33cc33" stroke-width="0.7" />
<circle cx="371.9" cy="295" r="2.3" fill="url(#gH)"/>
<line x1="405.5" y1="289.4" x2="410.2" y2="282.7" stroke="#33cc33" stroke-width="0.7" />
<circle cx="410.2" cy="282.7" r="2.3" fill="url(#gH)"/>
<line x1="278.2" y1="318" x2="269.3" y2="321.4" stroke="#33cc33" stroke-width="0.7" />
<circle cx="269.3" cy="321.4" r="2.3" fill="url(#gH)"/>
<line x1="278.2" y1="318" x2="278.6" y2="327.3" stroke="#33cc33" stroke-width="0.7" />
<circle cx="278.6" cy="327.3" r="2.3" fill="url(#gH)"/>
<line x1="278.2" y1="318" x2="261.7" y2="317.2" stroke="#33cc33" stroke-width="0.7" />
<circle cx="261.7" cy="317.2" r="2.3" fill="url(#gH)"/>
<line x1="297.1" y1="331.5" x2="289.5" y2="332.3" stroke="#33cc33" stroke-width="0.7" />
<circle cx="289.5" cy="332.3" r="2.3" fill="url(#gH)"/>
<line x1="297.1" y1="331.5" x2="297.1" y2="339.1" stroke="#33cc33" stroke-width="0.7" />
<circle cx="297.1" cy="339.1" r="2.3" fill="url(#gH)"/>
<line x1="317.3" y1="332" x2="321.5" y2="323.9" stroke="#33cc33" stroke-width="0.7" />
<circle cx="321.5" cy="323.9" r="2.3" fill="url(#gH)"/>
<line x1="408" y1="330.6" x2="401.3" y2="324.7" stroke="#33cc33" stroke-width="0.7" />
<circle cx="401.3" cy="324.7" r="2.3" fill="url(#gH)"/>
<line x1="426.5" y1="321.9" x2="419" y2="317.5" stroke="#33cc33" stroke-width="0.7" />
<circle cx="419" cy="317.5" r="2.3" fill="url(#gH)"/>
<line x1="426.5" y1="321.9" x2="428.2" y2="314.1" stroke="#33cc33" stroke-width="0.7" />
<circle cx="428.2" cy="314.1" r="2.3" fill="url(#gH)"/>
<line x1="442.5" y1="318.5" x2="444.2" y2="325.2" stroke="#33cc33" stroke-width="0.7" />
<circle cx="444.2" cy="325.2" r="2.3" fill="url(#gH)"/>
<line x1="442.5" y1="318.5" x2="451" y2="318.5" stroke="#33cc33" stroke-width="0.7" />
<circle cx="451" cy="318.5" r="2.3" fill="url(#gH)"/>
<line x1="258.4" y1="310.1" x2="262" y2="318" stroke="#33cc33" stroke-width="0.7" />
<circle cx="262" cy="318" r="2.3" fill="url(#gH)"/>
<circle cx="258.4" cy="310.1" r="4.1" fill="url(#gC)"/>
<circle cx="267.6" cy="302.9" r="4.1" fill="url(#gC)"/>
<circle cx="304.7" cy="310.5" r="4.1" fill="url(#gC)"/>
<circle cx="331.1" cy="296.1" r="4.1" fill="url(#gC)"/>
<circle cx="369.3" cy="303.4" r="4.1" fill="url(#gC)"/>
<circle cx="405.5" cy="289.4" r="4.1" fill="url(#gC)"/>
<circle cx="278.2" cy="318" r="4.1" fill="url(#gC)"/>
<circle cx="297.1" cy="331.5" r="4.1" fill="url(#gC)"/>
<circle cx="317.3" cy="332" r="4.1" fill="url(#gC)"/>
<circle cx="408" cy="330.6" r="4.1" fill="url(#gC)"/>
<circle cx="426.5" cy="321.9" r="4.1" fill="url(#gC)"/>
<circle cx="442.5" cy="318.5" r="4.1" fill="url(#gC)"/>
<circle cx="451.8" cy="305.4" r="4.1" fill="url(#gC)"/>
<circle cx="257" cy="304" r="4.1" fill="url(#gC)"/>
</g>
<rect x="256.7" y="269.8" width="197.6" height="111.2" fill="none" stroke="#111" stroke-width="1.5" stroke-dasharray="3.2,2"/>
<line x1="470.5" y1="283.1" x2="486.8" y2="283.1" stroke="#e8d070" stroke-width="2.6" />
<line x1="486.8" y1="283.1" x2="522.2" y2="283.1" stroke="#ee5555" stroke-width="2.6" />
<line x1="522.2" y1="283.1" x2="538" y2="283.1" stroke="#333" stroke-width="2.6" />
<circle cx="504.1" cy="283.1" r="3.3" fill="url(#gO)"/>
<circle cx="538" cy="283.1" r="3.5" fill="url(#gC)"/>
<circle cx="470.5" cy="283.1" r="3.9" fill="url(#gTi)"/>
<text x="553.7" y="287.5" font-size="11.65" font-weight="bold" fill="#000" text-anchor="start" >Ti-O-C covalent bond</text>
<line x1="470.5" y1="314.7" x2="488" y2="314.7" stroke="#ee5555" stroke-width="2.6" />
<line x1="488" y1="314.7" x2="521.3" y2="314.7" stroke="#44dd44" stroke-width="2.2" />
<line x1="521.3" y1="314.7" x2="554.6" y2="314.7" stroke="#ee5555" stroke-width="2.6" />
<line x1="554.6" y1="314.7" x2="570.4" y2="314.7" stroke="#44dd44" stroke-width="2.2" />
<circle cx="470.5" cy="314.7" r="3.5" fill="url(#gO)"/>
<circle cx="504.7" cy="314.7" r="2.2" fill="url(#gH)"/>
<circle cx="538" cy="314.7" r="3.5" fill="url(#gO)"/>
<circle cx="570.4" cy="314.7" r="2.1" fill="url(#gH)"/>
<text x="578.2" y="317.3" font-size="11.65" font-weight="bold" fill="#555" text-anchor="start" >Hydrogen bond</text>
<polyline points="467.9,340.1 481.9,343.6 496.8,341.8 511.7,343.9 527.4,341" stroke="#d43cc4" stroke-width="1.8" fill="none" stroke-linejoin="round" />
<text x="535.3" y="347.1" font-size="11.65" font-weight="bold" fill="#000" text-anchor="start" >GA</text>
<polyline points="565.1,342.5 579.9,338 599.2,344.5 614.9,336.6 632.4,341.8" stroke="#3a78d8" stroke-width="1.6" fill="none" stroke-linejoin="round" />
<text x="636.8" y="347.1" font-size="11.65" font-weight="bold" fill="#000" text-anchor="start" >PVA</text>
<circle cx="471.4" cy="369.9" r="4.2" fill="url(#gTi)"/>
<text x="491.5" y="374.8" font-size="11.65" font-weight="bold" fill="#000" text-anchor="start" >Ti</text>
<text x="545.8" y="374.8" font-size="11.65" font-weight="bold" fill="#000" text-anchor="start" >C</text>
<circle cx="577.2" cy="370.5" r="3.5" fill="url(#gO)"/>
<text x="599.2" y="374.8" font-size="11.65" font-weight="bold" fill="#000" text-anchor="start" >O</text>
<circle cx="628.1" cy="370.7" r="3.0" fill="url(#gHl)"/>
<text x="648.2" y="374.8" font-size="11.65" font-weight="bold" fill="#000" text-anchor="start" >H</text>
<rect x="14.9" y="404.7" width="123.4" height="123.3" fill="#111394" stroke="none" stroke-width="1" />
<rect x="14.9" y="404.7" width="123.4" height="123.3" fill="#111394" stroke="none" stroke-width="1" filter="url(#noise)" opacity="0.5"/>
<ellipse cx="77.7" cy="469.4" rx="46" ry="50" fill="url(#glow)"/>
<ellipse cx="76.6" cy="444.8" rx="11" ry="6" fill="url(#halo)" opacity="0.35"/>
<ellipse cx="76.6" cy="440.3" rx="18" ry="7" fill="url(#halo)" opacity="0.45"/>
<ellipse cx="76.6" cy="440.3" rx="13" ry="4.3" fill="url(#spot)"/>
<ellipse cx="78.4" cy="493.9" rx="11" ry="6" fill="url(#halo)" opacity="0.35"/>
<ellipse cx="78.4" cy="498.4" rx="18" ry="7" fill="url(#halo)" opacity="0.45"/>
<ellipse cx="78.4" cy="498.4" rx="13" ry="4.3" fill="url(#spot)"/>
<circle cx="77.7" cy="469.4" r="20.7" fill="#808080"/>
<rect x="14.9" y="404.7" width="42" height="41.2" fill="#04053a" stroke="none" stroke-width="1" />
<ellipse cx="36.8" cy="427.2" rx="5.0" ry="16" fill="url(#spot2)"/>
<text x="65.3" y="419.6" font-size="11.1" font-weight="bold" fill="#fff" text-anchor="start" >0.861</text>
<text x="80.2" y="520" font-size="11.35" font-weight="bold" fill="#fff" text-anchor="middle" >MGP-1%</text>
<rect x="149.2" y="404.3" width="123.4" height="123.4" fill="#111394" stroke="none" stroke-width="1" />
<rect x="149.2" y="404.3" width="123.4" height="123.4" fill="#111394" stroke="none" stroke-width="1" filter="url(#noise)" opacity="0.5"/>
<ellipse cx="210.1" cy="467.9" rx="46" ry="50" fill="url(#glow)"/>
<ellipse cx="210.6" cy="443.2" rx="11" ry="6" fill="url(#halo)" opacity="0.35"/>
<ellipse cx="210.6" cy="438.7" rx="18" ry="7" fill="url(#halo)" opacity="0.45"/>
<ellipse cx="210.6" cy="438.7" rx="13" ry="4.3" fill="url(#spot)"/>
<ellipse cx="209.4" cy="492.6" rx="11" ry="6" fill="url(#halo)" opacity="0.35"/>
<ellipse cx="209.4" cy="497.1" rx="18" ry="7" fill="url(#halo)" opacity="0.45"/>
<ellipse cx="209.4" cy="497.1" rx="13" ry="4.3" fill="url(#spot)"/>
<circle cx="210.1" cy="467.9" r="20.7" fill="#808080"/>
<rect x="149.2" y="404.3" width="42" height="41.2" fill="#04053a" stroke="none" stroke-width="1" />
<ellipse cx="169.5" cy="425.5" rx="5.0" ry="16" fill="url(#spot2)"/>
<text x="197.7" y="419.6" font-size="11.1" font-weight="bold" fill="#fff" text-anchor="start" >0.863</text>
<text x="212" y="520" font-size="11.35" font-weight="bold" fill="#fff" text-anchor="middle" >MGP-2%</text>
<rect x="280.5" y="403.9" width="123.3" height="123.3" fill="#111394" stroke="none" stroke-width="1" />
<rect x="280.5" y="403.9" width="123.3" height="123.3" fill="#111394" stroke="none" stroke-width="1" filter="url(#noise)" opacity="0.5"/>
<ellipse cx="341.2" cy="467" rx="46" ry="50" fill="url(#glow)"/>
<ellipse cx="339.6" cy="442" rx="11" ry="6" fill="url(#halo)" opacity="0.35"/>
<ellipse cx="339.6" cy="437.5" rx="18" ry="7" fill="url(#halo)" opacity="0.45"/>
<ellipse cx="339.6" cy="437.5" rx="13" ry="4.3" fill="url(#spot)"/>
<ellipse cx="342.4" cy="491.6" rx="11" ry="6" fill="url(#halo)" opacity="0.35"/>
<ellipse cx="342.4" cy="496.1" rx="18" ry="7" fill="url(#halo)" opacity="0.45"/>
<ellipse cx="342.4" cy="496.1" rx="13" ry="4.3" fill="url(#spot)"/>
<circle cx="341.2" cy="467" r="20.7" fill="#808080"/>
<rect x="280.5" y="403.9" width="42" height="41.2" fill="#04053a" stroke="none" stroke-width="1" />
<ellipse cx="301.2" cy="424.8" rx="5.0" ry="16" fill="url(#spot2)"/>
<text x="330.7" y="419.6" font-size="11.1" font-weight="bold" fill="#fff" text-anchor="start" >0.872</text>
<text x="345.6" y="520" font-size="11.35" font-weight="bold" fill="#fff" text-anchor="middle" >MGP-5%</text>
<rect x="413.9" y="403.9" width="123.9" height="123.5" fill="#111394" stroke="none" stroke-width="1" />
<rect x="413.9" y="403.9" width="123.9" height="123.5" fill="#111394" stroke="none" stroke-width="1" filter="url(#noise)" opacity="0.5"/>
<ellipse cx="476.7" cy="465.5" rx="46" ry="50" fill="url(#glow)"/>
<ellipse cx="476.2" cy="442.2" rx="11" ry="6" fill="url(#halo)" opacity="0.35"/>
<ellipse cx="476.2" cy="437.7" rx="18" ry="7" fill="url(#halo)" opacity="0.45"/>
<ellipse cx="476.2" cy="437.7" rx="13" ry="4.3" fill="url(#spot)"/>
<ellipse cx="476.9" cy="490.9" rx="11" ry="6" fill="url(#halo)" opacity="0.35"/>
<ellipse cx="476.9" cy="495.4" rx="18" ry="7" fill="url(#halo)" opacity="0.45"/>
<ellipse cx="476.9" cy="495.4" rx="13" ry="4.3" fill="url(#spot)"/>
<circle cx="476.7" cy="465.5" r="20.7" fill="#808080"/>
<rect x="413.9" y="403.9" width="42" height="41.2" fill="#04053a" stroke="none" stroke-width="1" />
<ellipse cx="434.9" cy="424.7" rx="5.0" ry="16" fill="url(#spot2)"/>
<text x="464.1" y="419.6" font-size="11.1" font-weight="bold" fill="#fff" text-anchor="start" >0.865</text>
<text x="478.8" y="520" font-size="11.35" font-weight="bold" fill="#fff" text-anchor="middle" >MGP-10%</text>
<rect x="546.4" y="404.4" width="123.9" height="123" fill="#111394" stroke="none" stroke-width="1" />
<rect x="546.4" y="404.4" width="123.9" height="123" fill="#111394" stroke="none" stroke-width="1" filter="url(#noise)" opacity="0.5"/>
<ellipse cx="609.7" cy="467" rx="46" ry="50" fill="url(#glow)"/>
<ellipse cx="608.1" cy="441.8" rx="11" ry="6" fill="url(#halo)" opacity="0.35"/>
<ellipse cx="608.1" cy="437.3" rx="18" ry="7" fill="url(#halo)" opacity="0.45"/>
<ellipse cx="608.1" cy="437.3" rx="13" ry="4.3" fill="url(#spot)"/>
<ellipse cx="611.5" cy="490.5" rx="11" ry="6" fill="url(#halo)" opacity="0.35"/>
<ellipse cx="611.5" cy="495" rx="18" ry="7" fill="url(#halo)" opacity="0.45"/>
<ellipse cx="611.5" cy="495" rx="13" ry="4.3" fill="url(#spot)"/>
<circle cx="609.7" cy="467" r="20.7" fill="#808080"/>
<rect x="546.4" y="404.4" width="42" height="41.2" fill="#04053a" stroke="none" stroke-width="1" />
<ellipse cx="568.7" cy="425.4" rx="5.0" ry="16" fill="url(#spot2)"/>
<text x="598.3" y="419.6" font-size="11.1" font-weight="bold" fill="#fff" text-anchor="start" >0.850</text>
<text x="612" y="520" font-size="11.35" font-weight="bold" fill="#fff" text-anchor="middle" >MGP-15%</text>
<text x="1.8" y="418" font-size="17.5" font-weight="bold" fill="#000" text-anchor="start" >f</text>
<path d="M44.7,687.9 V550.3" stroke="#222" stroke-width="0.9"/>
<path d="M44.7,687.9 H215.4" stroke="#222" stroke-width="0.9"/>
<path d="M44.7,550.3 H215.4" stroke="#8a8a8a" stroke-width="1.2"/>
<path d="M215.4,550.3 V687.9" stroke="#222" stroke-width="0.9"/>
<path d="M54.4,687.9v-2.5M64.44,687.9v-1.4M74.48,687.9v-2.5M84.52,687.9v-1.4M94.56,687.9v-2.5M104.6,687.9v-1.4M114.64,687.9v-2.5M124.68,687.9v-1.4M134.72,687.9v-2.5M144.76,687.9v-1.4M154.8,687.9v-2.5M164.84,687.9v-1.4M174.88,687.9v-2.5M184.92,687.9v-1.4M194.96,687.9v-2.5M205,687.9v-1.4M215.04,687.9v-2.5" stroke="#222" stroke-width="0.8"/>
<text x="54.4" y="698" font-size="8.9" font-weight="bold" fill="#000" text-anchor="middle" >0</text>
<text x="74.48" y="698" font-size="8.9" font-weight="bold" fill="#000" text-anchor="middle" >2</text>
<text x="94.56" y="698" font-size="8.9" font-weight="bold" fill="#000" text-anchor="middle" >4</text>
<text x="114.64" y="698" font-size="8.9" font-weight="bold" fill="#000" text-anchor="middle" >6</text>
<text x="134.72" y="698" font-size="8.9" font-weight="bold" fill="#000" text-anchor="middle" >8</text>
<text x="154.8" y="698" font-size="8.9" font-weight="bold" fill="#000" text-anchor="middle" >10</text>
<text x="174.88" y="698" font-size="8.9" font-weight="bold" fill="#000" text-anchor="middle" >12</text>
<text x="194.96" y="698" font-size="8.9" font-weight="bold" fill="#000" text-anchor="middle" >14</text>
<text x="215.04" y="698" font-size="8.9" font-weight="bold" fill="#000" text-anchor="middle" >16</text>
<path d="M44.7,687.9h2.5M44.7,653.5h2.5M44.7,619.1h2.5M44.7,584.7h2.5M44.7,550.3h2.5M44.7,670.7h1.4M44.7,636.3h1.4M44.7,601.9h1.4M44.7,567.5h1.4" stroke="#222" stroke-width="0.8"/>
<text x="41.8" y="691" font-size="8.9" font-weight="bold" fill="#000" text-anchor="end" >0.84</text>
<text x="41.8" y="656.6" font-size="8.9" font-weight="bold" fill="#000" text-anchor="end" >0.85</text>
<text x="41.8" y="622.2" font-size="8.9" font-weight="bold" fill="#000" text-anchor="end" >0.86</text>
<text x="41.8" y="587.8" font-size="8.9" font-weight="bold" fill="#000" text-anchor="end" >0.87</text>
<text x="41.8" y="553.4" font-size="8.9" font-weight="bold" fill="#000" text-anchor="end" >0.88</text>
<polyline points="54.4,656.94 64.44,615.66 74.48,608.78 104.6,577.82 154.8,601.9 205,653.5" stroke="#2a2af0" stroke-width="1.0" fill="none" stroke-linejoin="round" />
<circle cx="54.4" cy="656.94" r="2.5" fill="url(#ball)"/>
<circle cx="64.44" cy="615.66" r="2.5" fill="url(#ball)"/>
<circle cx="74.48" cy="608.78" r="2.5" fill="url(#ball)"/>
<circle cx="104.6" cy="577.82" r="2.5" fill="url(#ball)"/>
<circle cx="154.8" cy="601.9" r="2.5" fill="url(#ball)"/>
<circle cx="205" cy="653.5" r="2.5" fill="url(#ball)"/>
<text x="134.8" y="709.7" font-size="11.75" font-weight="bold" fill="#000" text-anchor="middle" >Percentage of PVA (wt%)</text>
<text transform="translate(13,617.2) rotate(-90)" font-size="11.75" font-weight="bold" fill="#000" text-anchor="middle">Orientation order (<tspan font-style="italic">f</tspan>)</text>
<text x="0.6" y="553.2" font-size="17.5" font-weight="bold" fill="#000" text-anchor="start" >g</text>
<path d="M257.1,687.2 V550.3" stroke="#222" stroke-width="0.9"/>
<path d="M257.1,687.2 H428.3" stroke="#222" stroke-width="0.9"/>
<path d="M257.1,550.3 H428.3" stroke="#8a8a8a" stroke-width="1.2"/>
<path d="M428.3,550.3 V687.2" stroke="#f03a3a" stroke-width="0.9"/>
<path d="M257.36,687.2v-2.5M266.88,687.2v-1.4M276.4,687.2v-2.5M285.92,687.2v-1.4M295.44,687.2v-2.5M304.96,687.2v-1.4M314.48,687.2v-2.5M324,687.2v-1.4M333.52,687.2v-2.5M343.04,687.2v-1.4M352.56,687.2v-2.5M362.08,687.2v-1.4M371.6,687.2v-2.5M381.12,687.2v-1.4M390.64,687.2v-2.5M400.16,687.2v-1.4M409.68,687.2v-2.5M419.2,687.2v-1.4M428.72,687.2v-2.5" stroke="#222" stroke-width="0.8"/>
<text x="257.36" y="698" font-size="8.9" font-weight="bold" fill="#000" text-anchor="middle" >-2</text>
<text x="276.4" y="698" font-size="8.9" font-weight="bold" fill="#000" text-anchor="middle" >0</text>
<text x="295.44" y="698" font-size="8.9" font-weight="bold" fill="#000" text-anchor="middle" >2</text>
<text x="314.48" y="698" font-size="8.9" font-weight="bold" fill="#000" text-anchor="middle" >4</text>
<text x="333.52" y="698" font-size="8.9" font-weight="bold" fill="#000" text-anchor="middle" >6</text>
<text x="352.56" y="698" font-size="8.9" font-weight="bold" fill="#000" text-anchor="middle" >8</text>
<text x="371.6" y="698" font-size="8.9" font-weight="bold" fill="#000" text-anchor="middle" >10</text>
<text x="390.64" y="698" font-size="8.9" font-weight="bold" fill="#000" text-anchor="middle" >12</text>
<text x="409.68" y="698" font-size="8.9" font-weight="bold" fill="#000" text-anchor="middle" >14</text>
<text x="428.72" y="698" font-size="8.9" font-weight="bold" fill="#000" text-anchor="middle" >16</text>
<path d="M257.1,687.2h2.5M257.1,659.82h2.5M257.1,632.44h2.5M257.1,605.06h2.5M257.1,577.68h2.5M257.1,550.3h2.5M257.1,673.51h1.4M257.1,646.13h1.4M257.1,618.75h1.4M257.1,591.37h1.4M257.1,563.99h1.4" stroke="#222" stroke-width="0.8"/>
<text x="254.6" y="690.3" font-size="8.9" font-weight="bold" fill="#000" text-anchor="end" >2.8</text>
<text x="254.6" y="662.92" font-size="8.9" font-weight="bold" fill="#000" text-anchor="end" >3.0</text>
<text x="254.6" y="635.54" font-size="8.9" font-weight="bold" fill="#000" text-anchor="end" >3.2</text>
<text x="254.6" y="608.16" font-size="8.9" font-weight="bold" fill="#000" text-anchor="end" >3.4</text>
<text x="254.6" y="580.78" font-size="8.9" font-weight="bold" fill="#000" text-anchor="end" >3.6</text>
<text x="254.6" y="553.4" font-size="8.9" font-weight="bold" fill="#000" text-anchor="end" >3.8</text>
<path d="M428.3,675.25h-2.5M428.3,650.3h-2.5M428.3,625.35h-2.5M428.3,600.4h-2.5M428.3,575.45h-2.5M428.3,550.5h-2.5M428.3,687.73h-1.4M428.3,662.77h-1.4M428.3,637.83h-1.4M428.3,612.88h-1.4M428.3,587.92h-1.4M428.3,562.98h-1.4" stroke="#f03a3a" stroke-width="0.8"/>
<text x="432" y="678.35" font-size="8.9" font-weight="bold" fill="#f03a3a" text-anchor="start" >5</text>
<text x="432" y="653.4" font-size="8.9" font-weight="bold" fill="#f03a3a" text-anchor="start" >10</text>
<text x="432" y="628.45" font-size="8.9" font-weight="bold" fill="#f03a3a" text-anchor="start" >15</text>
<text x="432" y="603.5" font-size="8.9" font-weight="bold" fill="#f03a3a" text-anchor="start" >20</text>
<text x="432" y="578.55" font-size="8.9" font-weight="bold" fill="#f03a3a" text-anchor="start" >25</text>
<text x="432" y="553.6" font-size="8.9" font-weight="bold" fill="#f03a3a" text-anchor="start" >30</text>
<polyline points="266.88,613.87 276.4,628.34 285.92,631.34 295.44,639.82 324,662.77 371.6,628.34 419.2,584.43" stroke="#f03a3a" stroke-width="0.9" fill="none" stroke-linejoin="round" />
<path d="M266.88,633.33V593.91M265.28,633.33h3.2M265.28,593.91h3.2" stroke="#f03a3a" stroke-width="0.9" fill="none"/>
<circle cx="266.88" cy="613.87" r="1.5" fill="none" stroke="#f03a3a" stroke-width="0.8"/>
<path d="M276.4,631.34V625.85M274.8,631.34h3.2M274.8,625.85h3.2" stroke="#f03a3a" stroke-width="0.9" fill="none"/>
<circle cx="276.4" cy="628.34" r="1.5" fill="none" stroke="#f03a3a" stroke-width="0.8"/>
<path d="M285.92,644.31V619.36M284.32,644.31h3.2M284.32,619.36h3.2" stroke="#f03a3a" stroke-width="0.9" fill="none"/>
<circle cx="285.92" cy="631.34" r="1.5" fill="none" stroke="#f03a3a" stroke-width="0.8"/>
<path d="M295.44,659.28V622.86M293.84,659.28h3.2M293.84,622.86h3.2" stroke="#f03a3a" stroke-width="0.9" fill="none"/>
<circle cx="295.44" cy="639.82" r="1.5" fill="none" stroke="#f03a3a" stroke-width="0.8"/>
<path d="M324,669.26V656.29M322.4,669.26h3.2M322.4,656.29h3.2" stroke="#f03a3a" stroke-width="0.9" fill="none"/>
<circle cx="324" cy="662.77" r="1.5" fill="none" stroke="#f03a3a" stroke-width="0.8"/>
<path d="M371.6,644.81V611.38M370,644.81h3.2M370,611.38h3.2" stroke="#f03a3a" stroke-width="0.9" fill="none"/>
<circle cx="371.6" cy="628.34" r="1.5" fill="none" stroke="#f03a3a" stroke-width="0.8"/>
<path d="M419.2,599.4V568.96M417.6,599.4h3.2M417.6,568.96h3.2" stroke="#f03a3a" stroke-width="0.9" fill="none"/>
<circle cx="419.2" cy="584.43" r="1.5" fill="none" stroke="#f03a3a" stroke-width="0.8"/>
<polyline points="266.88,631.07 276.4,607.8 285.92,603.69 295.44,594.11 324,566.73 371.6,609.17 419.2,657.08" stroke="#222" stroke-width="0.9" fill="none" stroke-linejoin="round" />
<path d="M266.88,651.61V610.54M265.28,651.61h3.2M265.28,610.54h3.2" stroke="#222" stroke-width="0.9" fill="none"/>
<circle cx="266.88" cy="631.07" r="1.4" fill="#222"/>
<path d="M276.4,618.75V596.85M274.8,618.75h3.2M274.8,596.85h3.2" stroke="#222" stroke-width="0.9" fill="none"/>
<circle cx="276.4" cy="607.8" r="1.4" fill="#222"/>
<path d="M285.92,616.01V591.37M284.32,616.01h3.2M284.32,591.37h3.2" stroke="#222" stroke-width="0.9" fill="none"/>
<circle cx="285.92" cy="603.69" r="1.4" fill="#222"/>
<path d="M295.44,611.9V576.31M293.84,611.9h3.2M293.84,576.31h3.2" stroke="#222" stroke-width="0.9" fill="none"/>
<circle cx="295.44" cy="594.11" r="1.4" fill="#222"/>
<path d="M324,573.57V559.88M322.4,573.57h3.2M322.4,559.88h3.2" stroke="#222" stroke-width="0.9" fill="none"/>
<circle cx="324" cy="566.73" r="1.4" fill="#222"/>
<path d="M371.6,628.33V590M370,628.33h3.2M370,590h3.2" stroke="#222" stroke-width="0.9" fill="none"/>
<circle cx="371.6" cy="609.17" r="1.4" fill="#222"/>
<path d="M419.2,673.51V640.65M417.6,673.51h3.2M417.6,640.65h3.2" stroke="#222" stroke-width="0.9" fill="none"/>
<circle cx="419.2" cy="657.08" r="1.4" fill="#222"/>
<text x="274.5" y="572.1" font-size="9.4" font-weight="bold" fill="#000" text-anchor="middle" >MXene</text>
<line x1="267" y1="573.2" x2="267" y2="589" stroke="#000" stroke-width="1.3" />
<path d="M264.8,588.2 L269.2,588.2 L267,593.8 Z" fill="#000"/>
<text x="341.5" y="709.7" font-size="11.75" font-weight="bold" fill="#000" text-anchor="middle" >Percentage of PVA (wt%)</text>
<text transform="translate(238.6,618.9) rotate(-90)" font-size="11.75" font-weight="bold" fill="#000" text-anchor="middle">Density (g cm<tspan font-size="7.4" dy="-4.4">-3</tspan><tspan dy="4.4">)</tspan></text>
<text transform="translate(454.4,619.2) rotate(-90)" font-size="11.75" font-weight="bold" fill="#f03a3a" text-anchor="middle">Porosity (%)</text>
<text x="228.6" y="554.6" font-size="17.5" font-weight="bold" fill="#000" text-anchor="start" >h</text>
<path d="M490.6,687.1 V550.2" stroke="#222" stroke-width="0.9"/>
<path d="M490.6,687.1 H661.6" stroke="#222" stroke-width="0.9"/>
<path d="M490.6,550.2 H661.6" stroke="#8a8a8a" stroke-width="1.2"/>
<path d="M661.6,550.2 V687.1" stroke="#f03a3a" stroke-width="0.9"/>
<path d="M500.2,687.1v-2.5M509.7,687.1v-1.4M519.2,687.1v-2.5M528.7,687.1v-1.4M538.2,687.1v-2.5M547.7,687.1v-1.4M557.2,687.1v-2.5M566.7,687.1v-1.4M576.2,687.1v-2.5M585.7,687.1v-1.4M595.2,687.1v-2.5M604.7,687.1v-1.4M614.2,687.1v-2.5M623.7,687.1v-1.4M633.2,687.1v-2.5M642.7,687.1v-1.4M652.2,687.1v-2.5" stroke="#222" stroke-width="0.8"/>
<text x="500.2" y="698" font-size="8.9" font-weight="bold" fill="#000" text-anchor="middle" >0</text>
<text x="519.2" y="698" font-size="8.9" font-weight="bold" fill="#000" text-anchor="middle" >2</text>
<text x="538.2" y="698" font-size="8.9" font-weight="bold" fill="#000" text-anchor="middle" >4</text>
<text x="557.2" y="698" font-size="8.9" font-weight="bold" fill="#000" text-anchor="middle" >6</text>
<text x="576.2" y="698" font-size="8.9" font-weight="bold" fill="#000" text-anchor="middle" >8</text>
<text x="595.2" y="698" font-size="8.9" font-weight="bold" fill="#000" text-anchor="middle" >10</text>
<text x="614.2" y="698" font-size="8.9" font-weight="bold" fill="#000" text-anchor="middle" >12</text>
<text x="633.2" y="698" font-size="8.9" font-weight="bold" fill="#000" text-anchor="middle" >14</text>
<text x="652.2" y="698" font-size="8.9" font-weight="bold" fill="#000" text-anchor="middle" >16</text>
<path d="M490.6,687.2h2.5M490.6,659.8h2.5M490.6,632.4h2.5M490.6,605h2.5M490.6,577.6h2.5M490.6,550.2h2.5M490.6,673.5h1.4M490.6,646.1h1.4M490.6,618.7h1.4M490.6,591.3h1.4M490.6,563.9h1.4" stroke="#222" stroke-width="0.8"/>
<text x="487.8" y="690.3" font-size="8.9" font-weight="bold" fill="#000" text-anchor="end" >0</text>
<text x="487.8" y="662.9" font-size="8.9" font-weight="bold" fill="#000" text-anchor="end" >150</text>
<text x="487.8" y="635.5" font-size="8.9" font-weight="bold" fill="#000" text-anchor="end" >300</text>
<text x="487.8" y="608.1" font-size="8.9" font-weight="bold" fill="#000" text-anchor="end" >450</text>
<text x="487.8" y="580.7" font-size="8.9" font-weight="bold" fill="#000" text-anchor="end" >600</text>
<text x="487.8" y="553.3" font-size="8.9" font-weight="bold" fill="#000" text-anchor="end" >750</text>
<path d="M661.6,681h-2.5M661.6,651.05h-2.5M661.6,621.1h-2.5M661.6,591.15h-2.5M661.6,561.2h-2.5M661.6,666.02h-1.4M661.6,636.08h-1.4M661.6,606.12h-1.4M661.6,576.17h-1.4" stroke="#f03a3a" stroke-width="0.8"/>
<text x="664.6" y="684.1" font-size="8.9" font-weight="bold" fill="#f03a3a" text-anchor="start" >0</text>
<text x="664.6" y="654.15" font-size="8.9" font-weight="bold" fill="#f03a3a" text-anchor="start" >5</text>
<text x="664.6" y="624.2" font-size="8.9" font-weight="bold" fill="#f03a3a" text-anchor="start" >10</text>
<text x="664.6" y="594.25" font-size="8.9" font-weight="bold" fill="#f03a3a" text-anchor="start" >15</text>
<text x="664.6" y="564.3" font-size="8.9" font-weight="bold" fill="#f03a3a" text-anchor="start" >20</text>
<polyline points="500.2,657.04 509.7,640.27 519.2,623.5 547.7,565.99 595.2,623.5 642.7,631.28" stroke="#f03a3a" stroke-width="0.9" fill="none" stroke-linejoin="round" />
<rect x="498.7" y="655.54" width="3" height="3" fill="#f03a3a"/>
<path d="M509.7,637.87V642.66M508.3,637.87h2.8M508.3,642.66h2.8" stroke="#f03a3a" stroke-width="0.8" fill="none"/>
<rect x="508.2" y="638.77" width="3" height="3" fill="#f03a3a"/>
<path d="M519.2,619.9V627.09M517.8,619.9h2.8M517.8,627.09h2.8" stroke="#f03a3a" stroke-width="0.8" fill="none"/>
<rect x="517.7" y="622" width="3" height="3" fill="#f03a3a"/>
<path d="M547.7,562.4V569.59M546.3,562.4h2.8M546.3,569.59h2.8" stroke="#f03a3a" stroke-width="0.8" fill="none"/>
<rect x="546.2" y="564.49" width="3" height="3" fill="#f03a3a"/>
<path d="M595.2,619.9V627.09M593.8,619.9h2.8M593.8,627.09h2.8" stroke="#f03a3a" stroke-width="0.8" fill="none"/>
<rect x="593.7" y="622" width="3" height="3" fill="#f03a3a"/>
<rect x="641.2" y="629.78" width="3" height="3" fill="#f03a3a"/>
<polyline points="500.2,626.01 509.7,615.05 519.2,603.54 547.7,583.99 595.2,630.21 642.7,651.03" stroke="#222" stroke-width="1.0" fill="none" stroke-linejoin="round" />
<circle cx="500.2" cy="626.01" r="1.7" fill="#fff" stroke="#555" stroke-width="0.8"/>
<circle cx="509.7" cy="615.05" r="1.7" fill="#fff" stroke="#555" stroke-width="0.8"/>
<circle cx="519.2" cy="603.54" r="1.7" fill="#fff" stroke="#555" stroke-width="0.8"/>
<circle cx="547.7" cy="583.99" r="1.7" fill="#fff" stroke="#555" stroke-width="0.8"/>
<circle cx="595.2" cy="630.21" r="1.7" fill="#fff" stroke="#555" stroke-width="0.8"/>
<circle cx="642.7" cy="651.03" r="1.7" fill="#fff" stroke="#555" stroke-width="0.8"/>
<text x="576.2" y="709.7" font-size="11.75" font-weight="bold" fill="#000" text-anchor="middle" >Percentage of PVA (wt%)</text>
<text transform="translate(471,621.4) rotate(-90)" font-size="11.75" font-weight="bold" fill="#000" text-anchor="middle">Tensile strength (MPa)</text>
<text transform="translate(683,617.6) rotate(-90)" font-size="11.75" font-weight="bold" fill="#f03a3a" text-anchor="middle">Toughness (MJ m<tspan font-size="7.6" dy="-4.4">-3</tspan><tspan dy="4.4">)</tspan></text>
<text x="460.7" y="556" font-size="17.5" font-weight="bold" fill="#000" text-anchor="start" >i</text>
</svg>
</body></html>
